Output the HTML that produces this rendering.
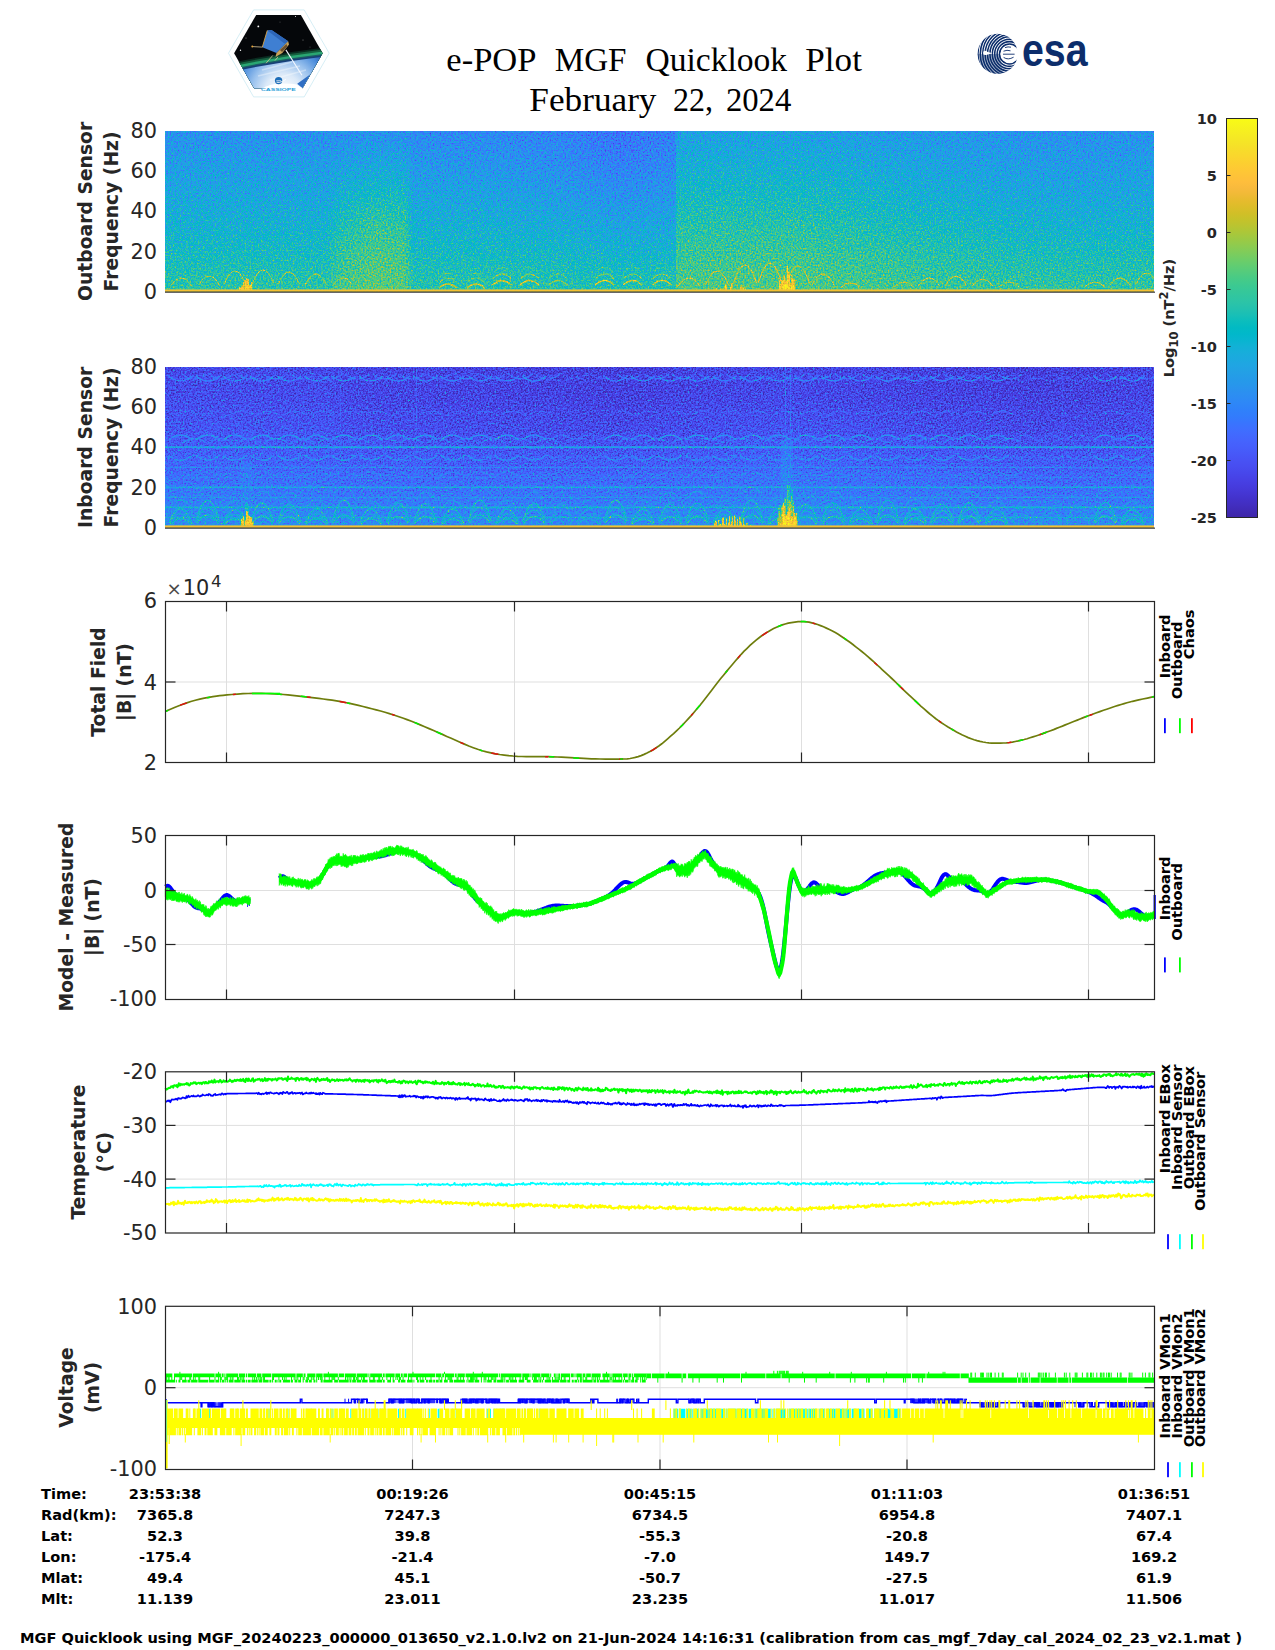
<!DOCTYPE html>
<html lang="en"><head><meta charset="utf-8"><title>e-POP MGF Quicklook Plot</title>
<style>html,body{margin:0;padding:0;background:#fff}svg{display:block}</style></head>
<body>
<svg width="1275" height="1650" viewBox="0 0 1275 1650">
<rect width="1275" height="1650" fill="#fff"/>
<defs>
<filter id="sp1" filterUnits="userSpaceOnUse" x="165" y="131" width="989" height="161" color-interpolation-filters="sRGB"><feTurbulence type="fractalNoise" baseFrequency="0.6" numOctaves="2" seed="3" result="t"/><feColorMatrix in="t" type="matrix" values="1 0 0 0 0  1 0 0 0 0  1 0 0 0 0  0 0 0 0 1" result="n"/><feColorMatrix in="t" type="matrix" values="0 1 0 0 0  0 1 0 0 0  0 1 0 0 0  0 0 0 0 1" result="m0"/><feComponentTransfer in="m0" result="m"><feFuncR type="gamma" amplitude="1" exponent="4" offset="0"/><feFuncG type="gamma" amplitude="1" exponent="4" offset="0"/><feFuncB type="gamma" amplitude="1" exponent="4" offset="0"/></feComponentTransfer><feComposite in="SourceGraphic" in2="n" operator="arithmetic" k1="0" k2="1" k3="0.56" k4="-0.280" result="s0"/><feComposite in="s0" in2="m" operator="arithmetic" k1="0" k2="1" k3="0.0" k4="-0.0000" result="s"/><feComponentTransfer in="s"><feFuncR type="table" tableValues="0.242 0.250 0.258 0.265 0.271 0.275 0.278 0.280 0.281 0.281 0.280 0.276 0.270 0.260 0.244 0.221 0.196 0.183 0.179 0.176 0.169 0.154 0.146 0.138 0.125 0.111 0.095 0.069 0.030 0.004 0.007 0.043 0.096 0.141 0.172 0.194 0.216 0.247 0.291 0.341 0.391 0.446 0.504 0.562 0.617 0.672 0.724 0.774 0.820 0.863 0.903 0.939 0.973 0.996 0.997 0.995 0.989 0.979 0.968 0.961 0.960 0.963 0.969 0.977"/><feFuncG type="table" tableValues="0.150 0.165 0.182 0.198 0.215 0.234 0.256 0.278 0.301 0.323 0.345 0.367 0.389 0.412 0.436 0.460 0.485 0.507 0.529 0.550 0.570 0.590 0.609 0.628 0.646 0.663 0.680 0.695 0.708 0.720 0.731 0.741 0.750 0.758 0.767 0.776 0.784 0.792 0.797 0.801 0.803 0.802 0.799 0.794 0.788 0.779 0.770 0.760 0.750 0.741 0.733 0.729 0.730 0.743 0.766 0.789 0.814 0.839 0.864 0.889 0.913 0.937 0.961 0.984"/><feFuncB type="table" tableValues="0.660 0.708 0.751 0.795 0.836 0.871 0.899 0.922 0.941 0.958 0.972 0.983 0.991 0.995 0.999 0.997 0.989 0.980 0.968 0.952 0.936 0.922 0.908 0.897 0.888 0.876 0.860 0.839 0.816 0.792 0.766 0.739 0.712 0.684 0.655 0.625 0.592 0.557 0.519 0.479 0.435 0.391 0.348 0.304 0.261 0.223 0.191 0.165 0.153 0.160 0.177 0.210 0.239 0.237 0.220 0.203 0.189 0.177 0.164 0.154 0.142 0.127 0.106 0.081"/><feFuncA type="linear" slope="0" intercept="1"/></feComponentTransfer></filter>
<filter id="sp2" filterUnits="userSpaceOnUse" x="165" y="367" width="989" height="161" color-interpolation-filters="sRGB"><feTurbulence type="fractalNoise" baseFrequency="0.6" numOctaves="2" seed="9" result="t"/><feColorMatrix in="t" type="matrix" values="1 0 0 0 0  1 0 0 0 0  1 0 0 0 0  0 0 0 0 1" result="n"/><feColorMatrix in="t" type="matrix" values="0 1 0 0 0  0 1 0 0 0  0 1 0 0 0  0 0 0 0 1" result="m0"/><feComponentTransfer in="m0" result="m"><feFuncR type="gamma" amplitude="1" exponent="3" offset="0"/><feFuncG type="gamma" amplitude="1" exponent="3" offset="0"/><feFuncB type="gamma" amplitude="1" exponent="3" offset="0"/></feComponentTransfer><feComposite in="SourceGraphic" in2="n" operator="arithmetic" k1="0" k2="1" k3="0.36" k4="-0.180" result="s0"/><feComposite in="s0" in2="m" operator="arithmetic" k1="0" k2="1" k3="0.45" k4="-0.0563" result="s"/><feComponentTransfer in="s"><feFuncR type="table" tableValues="0.242 0.250 0.258 0.265 0.271 0.275 0.278 0.280 0.281 0.281 0.280 0.276 0.270 0.260 0.244 0.221 0.196 0.183 0.179 0.176 0.169 0.154 0.146 0.138 0.125 0.111 0.095 0.069 0.030 0.004 0.007 0.043 0.096 0.141 0.172 0.194 0.216 0.247 0.291 0.341 0.391 0.446 0.504 0.562 0.617 0.672 0.724 0.774 0.820 0.863 0.903 0.939 0.973 0.996 0.997 0.995 0.989 0.979 0.968 0.961 0.960 0.963 0.969 0.977"/><feFuncG type="table" tableValues="0.150 0.165 0.182 0.198 0.215 0.234 0.256 0.278 0.301 0.323 0.345 0.367 0.389 0.412 0.436 0.460 0.485 0.507 0.529 0.550 0.570 0.590 0.609 0.628 0.646 0.663 0.680 0.695 0.708 0.720 0.731 0.741 0.750 0.758 0.767 0.776 0.784 0.792 0.797 0.801 0.803 0.802 0.799 0.794 0.788 0.779 0.770 0.760 0.750 0.741 0.733 0.729 0.730 0.743 0.766 0.789 0.814 0.839 0.864 0.889 0.913 0.937 0.961 0.984"/><feFuncB type="table" tableValues="0.660 0.708 0.751 0.795 0.836 0.871 0.899 0.922 0.941 0.958 0.972 0.983 0.991 0.995 0.999 0.997 0.989 0.980 0.968 0.952 0.936 0.922 0.908 0.897 0.888 0.876 0.860 0.839 0.816 0.792 0.766 0.739 0.712 0.684 0.655 0.625 0.592 0.557 0.519 0.479 0.435 0.391 0.348 0.304 0.261 0.223 0.191 0.165 0.153 0.160 0.177 0.210 0.239 0.237 0.220 0.203 0.189 0.177 0.164 0.154 0.142 0.127 0.106 0.081"/><feFuncA type="linear" slope="0" intercept="1"/></feComponentTransfer></filter>
<linearGradient id="hg" x1="0" y1="0" x2="1" y2="0"><stop offset="0" stop-color="#fff" stop-opacity="0"/><stop offset="1" stop-color="#fff" stop-opacity="1"/></linearGradient>
<mask id="hm" maskContentUnits="objectBoundingBox"><rect width="1" height="1" fill="url(#hg)"/></mask>
<linearGradient id="cb" x1="0" y1="0" x2="0" y2="1"><stop offset="0.0000" stop-color="#f9fb15"/><stop offset="0.0159" stop-color="#f7f51b"/><stop offset="0.0317" stop-color="#f6ef20"/><stop offset="0.0476" stop-color="#f5e924"/><stop offset="0.0635" stop-color="#f5e327"/><stop offset="0.0794" stop-color="#f7dc2a"/><stop offset="0.0952" stop-color="#fad62d"/><stop offset="0.1111" stop-color="#fccf30"/><stop offset="0.1270" stop-color="#fec934"/><stop offset="0.1429" stop-color="#fec338"/><stop offset="0.1587" stop-color="#febe3c"/><stop offset="0.1746" stop-color="#f8ba3d"/><stop offset="0.1905" stop-color="#f0ba36"/><stop offset="0.2063" stop-color="#e6bb2d"/><stop offset="0.2222" stop-color="#dcbd29"/><stop offset="0.2381" stop-color="#d1bf27"/><stop offset="0.2540" stop-color="#c5c22a"/><stop offset="0.2698" stop-color="#b9c431"/><stop offset="0.2857" stop-color="#abc739"/><stop offset="0.3016" stop-color="#9dc943"/><stop offset="0.3175" stop-color="#8fcb4e"/><stop offset="0.3333" stop-color="#81cc59"/><stop offset="0.3492" stop-color="#72cd64"/><stop offset="0.3651" stop-color="#64cd6f"/><stop offset="0.3810" stop-color="#57cc7a"/><stop offset="0.3968" stop-color="#4acb84"/><stop offset="0.4127" stop-color="#3fca8e"/><stop offset="0.4286" stop-color="#37c897"/><stop offset="0.4444" stop-color="#31c69f"/><stop offset="0.4603" stop-color="#2cc4a7"/><stop offset="0.4762" stop-color="#24c1ae"/><stop offset="0.4921" stop-color="#19bfb6"/><stop offset="0.5079" stop-color="#0bbdbd"/><stop offset="0.5238" stop-color="#02bac3"/><stop offset="0.5397" stop-color="#01b8ca"/><stop offset="0.5556" stop-color="#08b5d0"/><stop offset="0.5714" stop-color="#12b1d6"/><stop offset="0.5873" stop-color="#18addb"/><stop offset="0.6032" stop-color="#1ca9df"/><stop offset="0.6190" stop-color="#20a5e3"/><stop offset="0.6349" stop-color="#23a0e5"/><stop offset="0.6508" stop-color="#259be8"/><stop offset="0.6667" stop-color="#2797eb"/><stop offset="0.6825" stop-color="#2b91ef"/><stop offset="0.6984" stop-color="#2d8cf3"/><stop offset="0.7143" stop-color="#2e87f7"/><stop offset="0.7302" stop-color="#2f81fa"/><stop offset="0.7460" stop-color="#327cfc"/><stop offset="0.7619" stop-color="#3875fe"/><stop offset="0.7778" stop-color="#3e6fff"/><stop offset="0.7937" stop-color="#4269fe"/><stop offset="0.8095" stop-color="#4563fd"/><stop offset="0.8254" stop-color="#465efb"/><stop offset="0.8413" stop-color="#4758f8"/><stop offset="0.8571" stop-color="#4852f4"/><stop offset="0.8730" stop-color="#484df0"/><stop offset="0.8889" stop-color="#4747eb"/><stop offset="0.9048" stop-color="#4741e5"/><stop offset="0.9206" stop-color="#463cde"/><stop offset="0.9365" stop-color="#4537d5"/><stop offset="0.9524" stop-color="#4332cb"/><stop offset="0.9683" stop-color="#422ec0"/><stop offset="0.9841" stop-color="#402ab4"/><stop offset="1.0000" stop-color="#3e26a8"/></linearGradient>
</defs>
<g font-family="'Liberation Serif', serif" font-size="33.5" fill="#000" lengthAdjust="spacingAndGlyphs">
<text x="446.3" y="70.6" textLength="90.2" lengthAdjust="spacingAndGlyphs">e-POP</text>
<text x="554.7" y="70.6" textLength="71.8" lengthAdjust="spacingAndGlyphs">MGF</text>
<text x="645.4" y="70.6" textLength="141.7" lengthAdjust="spacingAndGlyphs">Quicklook</text>
<text x="805.3" y="70.6" textLength="56.6" lengthAdjust="spacingAndGlyphs">Plot</text>
<text x="529.3" y="111.2" textLength="127.2" lengthAdjust="spacingAndGlyphs">February</text>
<text x="673.0" y="111.2" textLength="40.0" lengthAdjust="spacingAndGlyphs">22,</text>
<text x="725.9" y="111.2" textLength="65.4" lengthAdjust="spacingAndGlyphs">2024</text>
</g>
<g filter="url(#sp1)">
<linearGradient id="sp1g0" x1="0" y1="0" x2="0" y2="1"><stop offset="0" stop-color="#535353"/><stop offset="0.2" stop-color="#5c5c5c"/><stop offset="0.4" stop-color="#656565"/><stop offset="0.6" stop-color="#707070"/><stop offset="0.8" stop-color="#7d7d7d"/><stop offset="1" stop-color="#8a8a8a"/></linearGradient><linearGradient id="sp1g1" x1="0" y1="0" x2="0" y2="1"><stop offset="0" stop-color="#505050"/><stop offset="0.2" stop-color="#5b5b5b"/><stop offset="0.4" stop-color="#636363"/><stop offset="0.6" stop-color="#707070"/><stop offset="0.8" stop-color="#7d7d7d"/><stop offset="1" stop-color="#8a8a8a"/></linearGradient><linearGradient id="sp1g2" x1="0" y1="0" x2="0" y2="1"><stop offset="0" stop-color="#4f4f4f"/><stop offset="0.2" stop-color="#5e5e5e"/><stop offset="0.4" stop-color="#707070"/><stop offset="0.6" stop-color="#828282"/><stop offset="0.8" stop-color="#8f8f8f"/><stop offset="1" stop-color="#969696"/></linearGradient><linearGradient id="sp1g3" x1="0" y1="0" x2="0" y2="1"><stop offset="0" stop-color="#525252"/><stop offset="0.2" stop-color="#636363"/><stop offset="0.4" stop-color="#7a7a7a"/><stop offset="0.6" stop-color="#8f8f8f"/><stop offset="0.8" stop-color="#999999"/><stop offset="1" stop-color="#9e9e9e"/></linearGradient><linearGradient id="sp1g4" x1="0" y1="0" x2="0" y2="1"><stop offset="0" stop-color="#505050"/><stop offset="0.2" stop-color="#626262"/><stop offset="0.4" stop-color="#787878"/><stop offset="0.6" stop-color="#8c8c8c"/><stop offset="0.8" stop-color="#969696"/><stop offset="1" stop-color="#9c9c9c"/></linearGradient><linearGradient id="sp1g5" x1="0" y1="0" x2="0" y2="1"><stop offset="0" stop-color="#4c4c4c"/><stop offset="0.2" stop-color="#575757"/><stop offset="0.4" stop-color="#626262"/><stop offset="0.6" stop-color="#6f6f6f"/><stop offset="0.8" stop-color="#7d7d7d"/><stop offset="1" stop-color="#888888"/></linearGradient><linearGradient id="sp1g6" x1="0" y1="0" x2="0" y2="1"><stop offset="0" stop-color="#4b4b4b"/><stop offset="0.2" stop-color="#545454"/><stop offset="0.4" stop-color="#606060"/><stop offset="0.6" stop-color="#6e6e6e"/><stop offset="0.8" stop-color="#7c7c7c"/><stop offset="1" stop-color="#888888"/></linearGradient><linearGradient id="sp1g7" x1="0" y1="0" x2="0" y2="1"><stop offset="0" stop-color="#474747"/><stop offset="0.2" stop-color="#4f4f4f"/><stop offset="0.4" stop-color="#5b5b5b"/><stop offset="0.6" stop-color="#696969"/><stop offset="0.8" stop-color="#797979"/><stop offset="1" stop-color="#878787"/></linearGradient><linearGradient id="sp1g8" x1="0" y1="0" x2="0" y2="1"><stop offset="0" stop-color="#3c3c3c"/><stop offset="0.2" stop-color="#454545"/><stop offset="0.4" stop-color="#525252"/><stop offset="0.6" stop-color="#626262"/><stop offset="0.8" stop-color="#757575"/><stop offset="1" stop-color="#858585"/></linearGradient><linearGradient id="sp1g9" x1="0" y1="0" x2="0" y2="1"><stop offset="0" stop-color="#454545"/><stop offset="0.2" stop-color="#4c4c4c"/><stop offset="0.4" stop-color="#575757"/><stop offset="0.6" stop-color="#666666"/><stop offset="0.8" stop-color="#787878"/><stop offset="1" stop-color="#878787"/></linearGradient><linearGradient id="sp1g10" x1="0" y1="0" x2="0" y2="1"><stop offset="0" stop-color="#5e5e5e"/><stop offset="0.2" stop-color="#6b6b6b"/><stop offset="0.4" stop-color="#797979"/><stop offset="0.6" stop-color="#878787"/><stop offset="0.8" stop-color="#919191"/><stop offset="1" stop-color="#999999"/></linearGradient><linearGradient id="sp1g11" x1="0" y1="0" x2="0" y2="1"><stop offset="0" stop-color="#5e5e5e"/><stop offset="0.2" stop-color="#6b6b6b"/><stop offset="0.4" stop-color="#7a7a7a"/><stop offset="0.6" stop-color="#888888"/><stop offset="0.8" stop-color="#939393"/><stop offset="1" stop-color="#9a9a9a"/></linearGradient><linearGradient id="sp1g12" x1="0" y1="0" x2="0" y2="1"><stop offset="0" stop-color="#595959"/><stop offset="0.2" stop-color="#636363"/><stop offset="0.4" stop-color="#707070"/><stop offset="0.6" stop-color="#7e7e7e"/><stop offset="0.8" stop-color="#8b8b8b"/><stop offset="1" stop-color="#949494"/></linearGradient><linearGradient id="sp1g13" x1="0" y1="0" x2="0" y2="1"><stop offset="0" stop-color="#545454"/><stop offset="0.2" stop-color="#5c5c5c"/><stop offset="0.4" stop-color="#676767"/><stop offset="0.6" stop-color="#757575"/><stop offset="0.8" stop-color="#838383"/><stop offset="1" stop-color="#8f8f8f"/></linearGradient><linearGradient id="sp1g14" x1="0" y1="0" x2="0" y2="1"><stop offset="0" stop-color="#525252"/><stop offset="0.2" stop-color="#595959"/><stop offset="0.4" stop-color="#636363"/><stop offset="0.6" stop-color="#707070"/><stop offset="0.8" stop-color="#808080"/><stop offset="1" stop-color="#8c8c8c"/></linearGradient><linearGradient id="sp1g15" x1="0" y1="0" x2="0" y2="1"><stop offset="0" stop-color="#535353"/><stop offset="0.2" stop-color="#5b5b5b"/><stop offset="0.4" stop-color="#656565"/><stop offset="0.6" stop-color="#717171"/><stop offset="0.8" stop-color="#818181"/><stop offset="1" stop-color="#8e8e8e"/></linearGradient>
<rect x="165" y="131" width="160.3" height="161" fill="url(#sp1g0)"/><rect x="165" y="131" width="160" height="161" fill="url(#sp1g1)" mask="url(#hm)"/>
<rect x="325" y="131" width="17.3" height="161" fill="url(#sp1g1)"/><rect x="325" y="131" width="17" height="161" fill="url(#sp1g2)" mask="url(#hm)"/>
<rect x="342" y="131" width="33.3" height="161" fill="url(#sp1g2)"/><rect x="342" y="131" width="33" height="161" fill="url(#sp1g3)" mask="url(#hm)"/>
<rect x="375" y="131" width="30.3" height="161" fill="url(#sp1g3)"/><rect x="375" y="131" width="30" height="161" fill="url(#sp1g4)" mask="url(#hm)"/>
<rect x="405" y="131" width="8.3" height="161" fill="url(#sp1g4)"/><rect x="405" y="131" width="8" height="161" fill="url(#sp1g5)" mask="url(#hm)"/>
<rect x="413" y="131" width="87.3" height="161" fill="url(#sp1g5)"/><rect x="413" y="131" width="87" height="161" fill="url(#sp1g6)" mask="url(#hm)"/>
<rect x="500" y="131" width="60.3" height="161" fill="url(#sp1g6)"/><rect x="500" y="131" width="60" height="161" fill="url(#sp1g7)" mask="url(#hm)"/>
<rect x="560" y="131" width="60.3" height="161" fill="url(#sp1g7)"/><rect x="560" y="131" width="60" height="161" fill="url(#sp1g8)" mask="url(#hm)"/>
<rect x="620" y="131" width="56.1" height="161" fill="url(#sp1g8)"/><rect x="620" y="131" width="55.8" height="161" fill="url(#sp1g9)" mask="url(#hm)"/>
<rect x="676" y="131" width="124.3" height="161" fill="url(#sp1g10)"/><rect x="676" y="131" width="124" height="161" fill="url(#sp1g11)" mask="url(#hm)"/>
<rect x="800" y="131" width="100.3" height="161" fill="url(#sp1g11)"/><rect x="800" y="131" width="100" height="161" fill="url(#sp1g12)" mask="url(#hm)"/>
<rect x="900" y="131" width="100.3" height="161" fill="url(#sp1g12)"/><rect x="900" y="131" width="100" height="161" fill="url(#sp1g13)" mask="url(#hm)"/>
<rect x="1000" y="131" width="80.3" height="161" fill="url(#sp1g13)"/><rect x="1000" y="131" width="80" height="161" fill="url(#sp1g14)" mask="url(#hm)"/>
<rect x="1080" y="131" width="74.3" height="161" fill="url(#sp1g14)"/><rect x="1080" y="131" width="74" height="161" fill="url(#sp1g15)" mask="url(#hm)"/>
<path d="M170.5 286.1Q181 269.9 191.5 286.1" stroke="#c2c2c2" stroke-width="1.0" fill="none"/><path d="M198.5 285.3Q209 266.7 219.5 285.3" stroke="#c2c2c2" stroke-width="1.0" fill="none"/><path d="M224.5 283.4Q235 258.6 245.5 283.4" stroke="#c2c2c2" stroke-width="1.0" fill="none"/><path d="M252.5 283Q263 257 273.5 283" stroke="#c2c2c2" stroke-width="1.0" fill="none"/><path d="M278.5 283.8Q289 260.2 299.5 283.8" stroke="#c2c2c2" stroke-width="1.0" fill="none"/><path d="M305.5 284.5Q316 263.5 326.5 284.5" stroke="#c2c2c2" stroke-width="1.0" fill="none"/><path d="M332.5 286.1Q343 269.9 353.5 286.1" stroke="#c2c2c2" stroke-width="1.0" fill="none"/><path d="M439 288Q448 280 457 288" stroke="#c7c7c7" stroke-width="1.3" fill="none"/><path d="M439.5 282Q448 274 456.5 282" stroke="#b2b2b2" stroke-width="1.0" fill="none"/><path d="M440 277Q448 269 456 277" stroke="#a3a3a3" stroke-width="0.9" fill="none"/><path d="M467 288Q476 280 485 288" stroke="#c7c7c7" stroke-width="1.3" fill="none"/><path d="M467.5 282Q476 274 484.5 282" stroke="#b2b2b2" stroke-width="1.0" fill="none"/><path d="M468 277Q476 269 484 277" stroke="#a3a3a3" stroke-width="0.9" fill="none"/><path d="M492.5 285Q502 276 511.5 285" stroke="#cccccc" stroke-width="1.5" fill="none"/><path d="M493 278.5Q502 269.5 511 278.5" stroke="#b8b8b8" stroke-width="1.1" fill="none"/><path d="M494 271.5Q502 262.5 510 271.5" stroke="#a3a3a3" stroke-width="0.9" fill="none"/><path d="M520 285Q529.5 276 539 285" stroke="#cccccc" stroke-width="1.5" fill="none"/><path d="M520.5 278.5Q529.5 269.5 538.5 278.5" stroke="#b8b8b8" stroke-width="1.1" fill="none"/><path d="M521.5 271.5Q529.5 262.5 537.5 271.5" stroke="#a3a3a3" stroke-width="0.9" fill="none"/><path d="M548.5 285Q558 276 567.5 285" stroke="#cccccc" stroke-width="1.5" fill="none" opacity="0.6"/><path d="M549 278.5Q558 269.5 567 278.5" stroke="#b8b8b8" stroke-width="1.1" fill="none" opacity="0.6"/><path d="M550 271.5Q558 262.5 566 271.5" stroke="#a3a3a3" stroke-width="0.9" fill="none" opacity="0.6"/><path d="M595.2 285Q604.7 276 614.2 285" stroke="#cccccc" stroke-width="1.5" fill="none"/><path d="M595.7 278.5Q604.7 269.5 613.7 278.5" stroke="#b8b8b8" stroke-width="1.1" fill="none"/><path d="M596.7 271.5Q604.7 262.5 612.7 271.5" stroke="#a3a3a3" stroke-width="0.9" fill="none"/><path d="M623.2 285Q632.7 276 642.2 285" stroke="#cccccc" stroke-width="1.5" fill="none"/><path d="M623.7 278.5Q632.7 269.5 641.7 278.5" stroke="#b8b8b8" stroke-width="1.1" fill="none"/><path d="M624.7 271.5Q632.7 262.5 640.7 271.5" stroke="#a3a3a3" stroke-width="0.9" fill="none"/><path d="M652.5 285Q662 276 671.5 285" stroke="#cccccc" stroke-width="1.5" fill="none"/><path d="M653 278.5Q662 269.5 671 278.5" stroke="#b8b8b8" stroke-width="1.1" fill="none"/><path d="M654 271.5Q662 262.5 670 271.5" stroke="#a3a3a3" stroke-width="0.9" fill="none"/><path d="M677.5 287.1Q689 268.9 700.5 287.1" stroke="#cccccc" stroke-width="1.0" fill="none"/><path d="M705.5 285Q717 257 728.5 285" stroke="#cccccc" stroke-width="1.0" fill="none"/><path d="M733.5 283.2Q745 246.8 756.5 283.2" stroke="#cccccc" stroke-width="1.0" fill="none"/><path d="M758.5 282.6Q770 243.4 781.5 282.6" stroke="#cccccc" stroke-width="1.0" fill="none"/><path d="M786.5 283.5Q798 248.5 809.5 283.5" stroke="#cccccc" stroke-width="1.0" fill="none"/><path d="M811.5 285.9Q823 262.1 834.5 285.9" stroke="#cccccc" stroke-width="1.0" fill="none"/><path d="M840.2 287.8Q850.7 278.2 861.2 287.8" stroke="#c9c9c9" stroke-width="1.0" fill="none"/><path d="M893.5 287.4Q904 276.6 914.5 287.4" stroke="#c9c9c9" stroke-width="1.0" fill="none"/><path d="M918.5 285.8Q929 270.2 939.5 285.8" stroke="#c9c9c9" stroke-width="1.0" fill="none"/><path d="M945.5 285.1Q956 267.5 966.5 285.1" stroke="#c9c9c9" stroke-width="1.0" fill="none"/><path d="M972.2 286.2Q982.7 271.8 993.2 286.2" stroke="#c9c9c9" stroke-width="1.0" fill="none"/><path d="M998.5 287.4Q1009 276.6 1019.5 287.4" stroke="#c9c9c9" stroke-width="1.0" fill="none"/><path d="M1084.2 287.4Q1094.7 276.6 1105.2 287.4" stroke="#c9c9c9" stroke-width="1.0" fill="none"/><path d="M1109.5 285.8Q1120 270.2 1130.5 285.8" stroke="#c9c9c9" stroke-width="1.0" fill="none"/><path d="M1136.2 283.8Q1146.7 262.2 1157.2 283.8" stroke="#c9c9c9" stroke-width="1.0" fill="none"/><path d="M243.9 291v-0.7M248.8 291v-0.3M247 291v-3.4M239.9 291v-2.7M239.6 291v-2M240 291v-0.2M245.4 291v-10.9M240.9 291v-0.9M248.4 291v-12.5M247.7 291v-3.6M253.6 291v-0.1M251.9 291v-1.4M241.2 291v-0.4M243.6 291v-9.1M241.7 291v-4.4M248.6 291v-3M247.2 291v-0.2M239.9 291v-0.7M249.2 291v-3.5M243.7 291v-5.6M245.8 291v-2.5M250.9 291v-6M242.7 291v-4.8M246.9 291v-12.7M249.9 291v-1.8M253.7 291v-0.3M245.3 291v-9.5M241.3 291v-3.2M239.6 291v-3.9M250.5 291v-4.7M252.1 291v-1.5M249.4 291v-5.6M247.7 291v-4.5M251.6 291v-8.7" stroke="#dbdbdb" stroke-width="1.3" fill="none"/><path d="M246.3 291v-4.2M243.4 291v-2.1M247.5 291v-4.9M248.8 291v-1.3M245.7 291v-3.8M243.2 291v-1.4M244.2 291v-0.6M243.4 291v-2.3" stroke="#ededed" stroke-width="1.5" fill="none"/><path d="M717.4 291v-0.6M726.3 291v-6.4M715.7 291v-1.3M731.7 291v-7M740.9 291v-4.5M722.5 291v-1.8M725.2 291v-6.2M745.6 291v-0.2M719 291v-0.6M720.9 291v-2.1M733 291v-1.1M713.1 291v-1M725.6 291v-3.2M745.4 291v-2.4M730.5 291v-4.3M736 291v-0.1M743.6 291v-3.2M742.7 291v-3.5M726.3 291v-2M716.5 291v-2.4M715.1 291v-0.1M720.1 291v-0.4M724.6 291v-0.1M713 291v-0.2M716.4 291v-1M713.9 291v-3.2M733.9 291v-0.4M721.6 291v-1.3M725.4 291v-0.3M741.9 291v-5.2" stroke="#dbdbdb" stroke-width="1.1" fill="none"/><path d="M786.5 291v-8.7M780.4 291v-0.4M784.5 291v-3M792.3 291v-1.1M779.4 291v-10.7M787.5 291v-1.5M787.7 291v-0.1M787.4 291v-25.3M792.8 291v-8.8M783.2 291v-4.3M781.7 291v-11M787.5 291v-17.8M784.3 291v-2.3M792 291v-16.5M792.6 291v-11.3M792.1 291v-10.6M782.6 291v-6.8M784.7 291v-0.1M779.4 291v-1.7M783.1 291v-11.1M794.3 291v-3.7M794 291v-12.6M794.3 291v-2.7M782.5 291v-1.9M782.1 291v-1.6M789 291v-19.6M792.4 291v-5.3M789.4 291v-15.8M780.4 291v-7.3M793.6 291v-9.5M791 291v-6.2M781.9 291v-11.6M784.3 291v-15.5M794.5 291v-2.9" stroke="#e0e0e0" stroke-width="1.2" fill="none"/><path d="M786.4 291v-10.2M790 291v-3M783.4 291v-2.1M792 291v-5.4M783.6 291v-6.2M792.8 291v-4M785.9 291v-6.9M783.4 291v-0.5M792.7 291v-4M787.8 291v-11.1M786.8 291v-10.2M791.1 291v-2.9M784.8 291v-4M784.6 291v-6" stroke="#ededed" stroke-width="1.6" fill="none"/>
</g>
<g filter="url(#sp2)">
<linearGradient id="sp2g0" x1="0" y1="0" x2="0" y2="1"><stop offset="0" stop-color="#1d1d1d"/><stop offset="0.2" stop-color="#202020"/><stop offset="0.4" stop-color="#262626"/><stop offset="0.6" stop-color="#303030"/><stop offset="0.8" stop-color="#404040"/><stop offset="1" stop-color="#4f4f4f"/></linearGradient><linearGradient id="sp2g1" x1="0" y1="0" x2="0" y2="1"><stop offset="0" stop-color="#1c1c1c"/><stop offset="0.2" stop-color="#1f1f1f"/><stop offset="0.4" stop-color="#252525"/><stop offset="0.6" stop-color="#2f2f2f"/><stop offset="0.8" stop-color="#3e3e3e"/><stop offset="1" stop-color="#4f4f4f"/></linearGradient><linearGradient id="sp2g2" x1="0" y1="0" x2="0" y2="1"><stop offset="0" stop-color="#1a1a1a"/><stop offset="0.2" stop-color="#1c1c1c"/><stop offset="0.4" stop-color="#222222"/><stop offset="0.6" stop-color="#2d2d2d"/><stop offset="0.8" stop-color="#3c3c3c"/><stop offset="1" stop-color="#4c4c4c"/></linearGradient><linearGradient id="sp2g3" x1="0" y1="0" x2="0" y2="1"><stop offset="0" stop-color="#161616"/><stop offset="0.2" stop-color="#181818"/><stop offset="0.4" stop-color="#1f1f1f"/><stop offset="0.6" stop-color="#2a2a2a"/><stop offset="0.8" stop-color="#3c3c3c"/><stop offset="1" stop-color="#4c4c4c"/></linearGradient><linearGradient id="sp2g4" x1="0" y1="0" x2="0" y2="1"><stop offset="0" stop-color="#141414"/><stop offset="0.2" stop-color="#171717"/><stop offset="0.4" stop-color="#1d1d1d"/><stop offset="0.6" stop-color="#2a2a2a"/><stop offset="0.8" stop-color="#3c3c3c"/><stop offset="1" stop-color="#4c4c4c"/></linearGradient><linearGradient id="sp2g5" x1="0" y1="0" x2="0" y2="1"><stop offset="0" stop-color="#181818"/><stop offset="0.2" stop-color="#1b1b1b"/><stop offset="0.4" stop-color="#212121"/><stop offset="0.6" stop-color="#2d2d2d"/><stop offset="0.8" stop-color="#3d3d3d"/><stop offset="1" stop-color="#4f4f4f"/></linearGradient><linearGradient id="sp2g6" x1="0" y1="0" x2="0" y2="1"><stop offset="0" stop-color="#1b1b1b"/><stop offset="0.2" stop-color="#1d1d1d"/><stop offset="0.4" stop-color="#252525"/><stop offset="0.6" stop-color="#323232"/><stop offset="0.8" stop-color="#424242"/><stop offset="1" stop-color="#545454"/></linearGradient><linearGradient id="sp2g7" x1="0" y1="0" x2="0" y2="1"><stop offset="0" stop-color="#171717"/><stop offset="0.2" stop-color="#1a1a1a"/><stop offset="0.4" stop-color="#212121"/><stop offset="0.6" stop-color="#2d2d2d"/><stop offset="0.8" stop-color="#3d3d3d"/><stop offset="1" stop-color="#4f4f4f"/></linearGradient><linearGradient id="sp2g8" x1="0" y1="0" x2="0" y2="1"><stop offset="0" stop-color="#141414"/><stop offset="0.2" stop-color="#171717"/><stop offset="0.4" stop-color="#1d1d1d"/><stop offset="0.6" stop-color="#292929"/><stop offset="0.8" stop-color="#393939"/><stop offset="1" stop-color="#4c4c4c"/></linearGradient><linearGradient id="sp2g9" x1="0" y1="0" x2="0" y2="1"><stop offset="0" stop-color="#181818"/><stop offset="0.2" stop-color="#1b1b1b"/><stop offset="0.4" stop-color="#212121"/><stop offset="0.6" stop-color="#2d2d2d"/><stop offset="0.8" stop-color="#3c3c3c"/><stop offset="1" stop-color="#4f4f4f"/></linearGradient>
<rect x="165" y="367" width="165.3" height="161" fill="url(#sp2g0)"/><rect x="165" y="367" width="165" height="161" fill="url(#sp2g1)" mask="url(#hm)"/>
<rect x="330" y="367" width="15.3" height="161" fill="url(#sp2g1)"/><rect x="330" y="367" width="15" height="161" fill="url(#sp2g2)" mask="url(#hm)"/>
<rect x="345" y="367" width="215.3" height="161" fill="url(#sp2g2)"/><rect x="345" y="367" width="215" height="161" fill="url(#sp2g3)" mask="url(#hm)"/>
<rect x="560" y="367" width="60.3" height="161" fill="url(#sp2g3)"/><rect x="560" y="367" width="60" height="161" fill="url(#sp2g4)" mask="url(#hm)"/>
<rect x="620" y="367" width="80.3" height="161" fill="url(#sp2g4)"/><rect x="620" y="367" width="80" height="161" fill="url(#sp2g5)" mask="url(#hm)"/>
<rect x="700" y="367" width="100.3" height="161" fill="url(#sp2g5)"/><rect x="700" y="367" width="100" height="161" fill="url(#sp2g6)" mask="url(#hm)"/>
<rect x="800" y="367" width="100.3" height="161" fill="url(#sp2g6)"/><rect x="800" y="367" width="100" height="161" fill="url(#sp2g7)" mask="url(#hm)"/>
<rect x="900" y="367" width="140.3" height="161" fill="url(#sp2g7)"/><rect x="900" y="367" width="140" height="161" fill="url(#sp2g8)" mask="url(#hm)"/>
<rect x="1040" y="367" width="114.3" height="161" fill="url(#sp2g8)"/><rect x="1040" y="367" width="114" height="161" fill="url(#sp2g9)" mask="url(#hm)"/>
<rect x="165" y="446.4" width="989" height="1.7" fill="#666666" opacity=".95"/><rect x="165" y="466.8" width="989" height="1.1" fill="#4c4c4c" opacity=".95"/><rect x="165" y="486.6" width="989" height="1.5" fill="#666666" opacity=".95"/><rect x="165" y="496.9" width="989" height="1.1" fill="#545454" opacity=".95"/><rect x="165" y="506.6" width="989" height="1.6" fill="#757575" opacity=".95"/><rect x="165" y="516.9" width="989" height="1.2" fill="#6b6b6b" opacity=".95"/><rect x="165" y="476.8" width="989" height="1.0" fill="#454545" opacity=".95"/><rect x="165" y="456.9" width="989" height="0.8" fill="#333333" opacity=".95"/><rect x="416" y="367" width="1" height="161" fill="#383838" opacity="0.7"/><rect x="340" y="367" width="1" height="161" fill="#333333" opacity="0.5"/><rect x="785" y="367" width="1" height="161" fill="#4c4c4c" opacity="0.5"/><rect x="790" y="367" width="1" height="161" fill="#4c4c4c" opacity="0.5"/><rect x="1062" y="367" width="1" height="161" fill="#333333" opacity="0.5"/><path d="M169 523.3Q180.5 493.9 192 523.3" stroke="#808080" stroke-width="1.3" fill="none" opacity="0.9"/><path d="M170 524.2Q180.5 513.2 191 524.2" stroke="#8a8a8a" stroke-width="1.3" fill="none" opacity="0.9"/><path d="M169.5 523Q180.5 504.6 191.5 523" stroke="#7a7a7a" stroke-width="1.1" fill="none" opacity="0.7200000000000001"/><path d="M170.5 506.4Q180.5 492.4 190.5 506.4" stroke="#6b6b6b" stroke-width="1.0" fill="none" opacity="0.7200000000000001"/><path d="M168.5 440.2Q180.5 430.2 192.5 440.2" stroke="#5c5c5c" stroke-width="1.2" fill="none" opacity="0.9"/><path d="M182.1 443.2Q194.1 433.2 206.1 443.2" stroke="#525252" stroke-width="1.1" fill="none" opacity="0.7200000000000001"/><path d="M168.5 455.2Q180.5 465.2 192.5 455.2" stroke="#5c5c5c" stroke-width="1.2" fill="none" opacity="0.81"/><path d="M182.1 471.3Q194.1 479.3 206.1 471.3" stroke="#575757" stroke-width="1.1" fill="none" opacity="0.63"/><path d="M168.5 376Q180.5 386 192.5 376" stroke="#545454" stroke-width="1.2" fill="none" opacity="0.9"/><path d="M182.1 374Q194.1 384 206.1 374" stroke="#4c4c4c" stroke-width="1.1" fill="none" opacity="0.7200000000000001"/><path d="M174.5 415.1Q186.5 407.1 198.5 415.1" stroke="#454545" stroke-width="1.0" fill="none" opacity="0.63"/><path d="M196.2 521.6Q207.7 478.5 219.2 521.6" stroke="#808080" stroke-width="1.3" fill="none" opacity="0.9"/><path d="M197.2 523Q207.7 506.8 218.2 523" stroke="#8a8a8a" stroke-width="1.3" fill="none" opacity="0.9"/><path d="M196.7 521.1Q207.7 494.1 218.7 521.1" stroke="#7a7a7a" stroke-width="1.1" fill="none" opacity="0.7200000000000001"/><path d="M197.7 493.6Q207.7 479.6 217.7 493.6" stroke="#6b6b6b" stroke-width="1.0" fill="none" opacity="0.7200000000000001"/><path d="M195.7 440.2Q207.7 430.2 219.7 440.2" stroke="#5c5c5c" stroke-width="1.2" fill="none" opacity="0.9"/><path d="M209.3 443.2Q221.3 433.2 233.3 443.2" stroke="#525252" stroke-width="1.1" fill="none" opacity="0.7200000000000001"/><path d="M195.7 455.2Q207.7 465.2 219.7 455.2" stroke="#5c5c5c" stroke-width="1.2" fill="none" opacity="0.81"/><path d="M209.3 471.3Q221.3 479.3 233.3 471.3" stroke="#575757" stroke-width="1.1" fill="none" opacity="0.63"/><path d="M195.7 376Q207.7 386 219.7 376" stroke="#545454" stroke-width="1.2" fill="none" opacity="0.9"/><path d="M209.3 374Q221.3 384 233.3 374" stroke="#4c4c4c" stroke-width="1.1" fill="none" opacity="0.7200000000000001"/><path d="M201.7 415.1Q213.7 407.1 225.7 415.1" stroke="#454545" stroke-width="1.0" fill="none" opacity="0.63"/><path d="M223.4 523.5Q234.9 495.2 246.4 523.5" stroke="#808080" stroke-width="1.3" fill="none" opacity="0.9"/><path d="M224.4 524.4Q234.9 513.8 245.4 524.4" stroke="#8a8a8a" stroke-width="1.3" fill="none" opacity="0.9"/><path d="M223.9 523.1Q234.9 505.5 245.9 523.1" stroke="#7a7a7a" stroke-width="1.1" fill="none" opacity="0.7200000000000001"/><path d="M224.9 507.5Q234.9 493.5 244.9 507.5" stroke="#6b6b6b" stroke-width="1.0" fill="none" opacity="0.7200000000000001"/><path d="M222.9 440.2Q234.9 430.2 246.9 440.2" stroke="#5c5c5c" stroke-width="1.2" fill="none" opacity="0.9"/><path d="M236.5 443.2Q248.5 433.2 260.5 443.2" stroke="#525252" stroke-width="1.1" fill="none" opacity="0.7200000000000001"/><path d="M222.9 455.2Q234.9 465.2 246.9 455.2" stroke="#5c5c5c" stroke-width="1.2" fill="none" opacity="0.81"/><path d="M236.5 471.3Q248.5 479.3 260.5 471.3" stroke="#575757" stroke-width="1.1" fill="none" opacity="0.63"/><path d="M222.9 376Q234.9 386 246.9 376" stroke="#545454" stroke-width="1.2" fill="none" opacity="0.9"/><path d="M236.5 374Q248.5 384 260.5 374" stroke="#4c4c4c" stroke-width="1.1" fill="none" opacity="0.7200000000000001"/><path d="M228.9 415.1Q240.9 407.1 252.9 415.1" stroke="#454545" stroke-width="1.0" fill="none" opacity="0.63"/><path d="M250.6 522.2Q262.1 483.8 273.6 522.2" stroke="#808080" stroke-width="1.3" fill="none" opacity="0.9"/><path d="M251.6 523.4Q262.1 509 272.6 523.4" stroke="#8a8a8a" stroke-width="1.3" fill="none" opacity="0.9"/><path d="M251.1 521.7Q262.1 497.7 273.1 521.7" stroke="#7a7a7a" stroke-width="1.1" fill="none" opacity="0.7200000000000001"/><path d="M252.1 498Q262.1 484 272.1 498" stroke="#6b6b6b" stroke-width="1.0" fill="none" opacity="0.7200000000000001"/><path d="M250.1 440.2Q262.1 430.2 274.1 440.2" stroke="#5c5c5c" stroke-width="1.2" fill="none" opacity="0.9"/><path d="M263.7 443.2Q275.7 433.2 287.7 443.2" stroke="#525252" stroke-width="1.1" fill="none" opacity="0.7200000000000001"/><path d="M250.1 455.2Q262.1 465.2 274.1 455.2" stroke="#5c5c5c" stroke-width="1.2" fill="none" opacity="0.81"/><path d="M263.7 471.3Q275.7 479.3 287.7 471.3" stroke="#575757" stroke-width="1.1" fill="none" opacity="0.63"/><path d="M250.1 376Q262.1 386 274.1 376" stroke="#545454" stroke-width="1.2" fill="none" opacity="0.9"/><path d="M263.7 374Q275.7 384 287.7 374" stroke="#4c4c4c" stroke-width="1.1" fill="none" opacity="0.7200000000000001"/><path d="M256.1 415.1Q268.1 407.1 280.1 415.1" stroke="#454545" stroke-width="1.0" fill="none" opacity="0.63"/><path d="M277.8 522.4Q289.3 485.4 300.8 522.4" stroke="#808080" stroke-width="1.3" fill="none" opacity="0.9"/><path d="M278.8 523.5Q289.3 509.7 299.8 523.5" stroke="#8a8a8a" stroke-width="1.3" fill="none" opacity="0.9"/><path d="M278.3 521.9Q289.3 498.8 300.3 521.9" stroke="#7a7a7a" stroke-width="1.1" fill="none" opacity="0.7200000000000001"/><path d="M279.3 499.3Q289.3 485.3 299.3 499.3" stroke="#6b6b6b" stroke-width="1.0" fill="none" opacity="0.7200000000000001"/><path d="M277.3 440.2Q289.3 430.2 301.3 440.2" stroke="#5c5c5c" stroke-width="1.2" fill="none" opacity="0.9"/><path d="M290.9 443.2Q302.9 433.2 314.9 443.2" stroke="#525252" stroke-width="1.1" fill="none" opacity="0.7200000000000001"/><path d="M277.3 455.2Q289.3 465.2 301.3 455.2" stroke="#5c5c5c" stroke-width="1.2" fill="none" opacity="0.81"/><path d="M290.9 471.3Q302.9 479.3 314.9 471.3" stroke="#575757" stroke-width="1.1" fill="none" opacity="0.63"/><path d="M277.3 376Q289.3 386 301.3 376" stroke="#545454" stroke-width="1.2" fill="none" opacity="0.9"/><path d="M290.9 374Q302.9 384 314.9 374" stroke="#4c4c4c" stroke-width="1.1" fill="none" opacity="0.7200000000000001"/><path d="M283.3 415.1Q295.3 407.1 307.3 415.1" stroke="#454545" stroke-width="1.0" fill="none" opacity="0.63"/><path d="M305 523.4Q316.5 494.3 328 523.4" stroke="#808080" stroke-width="1.3" fill="none" opacity="0.9"/><path d="M306 524.3Q316.5 513.4 327 524.3" stroke="#8a8a8a" stroke-width="1.3" fill="none" opacity="0.9"/><path d="M305.5 523Q316.5 504.8 327.5 523" stroke="#7a7a7a" stroke-width="1.1" fill="none" opacity="0.7200000000000001"/><path d="M306.5 506.7Q316.5 492.7 326.5 506.7" stroke="#6b6b6b" stroke-width="1.0" fill="none" opacity="0.7200000000000001"/><path d="M304.5 440.2Q316.5 430.2 328.5 440.2" stroke="#5c5c5c" stroke-width="1.2" fill="none" opacity="0.9"/><path d="M318.1 443.2Q330.1 433.2 342.1 443.2" stroke="#525252" stroke-width="1.1" fill="none" opacity="0.7200000000000001"/><path d="M304.5 455.2Q316.5 465.2 328.5 455.2" stroke="#5c5c5c" stroke-width="1.2" fill="none" opacity="0.81"/><path d="M318.1 471.3Q330.1 479.3 342.1 471.3" stroke="#575757" stroke-width="1.1" fill="none" opacity="0.63"/><path d="M304.5 376Q316.5 386 328.5 376" stroke="#545454" stroke-width="1.2" fill="none" opacity="0.9"/><path d="M318.1 374Q330.1 384 342.1 374" stroke="#4c4c4c" stroke-width="1.1" fill="none" opacity="0.7200000000000001"/><path d="M310.5 415.1Q322.5 407.1 334.5 415.1" stroke="#454545" stroke-width="1.0" fill="none" opacity="0.63"/><path d="M332.2 521.6Q343.7 478.4 355.2 521.6" stroke="#808080" stroke-width="1.3" fill="none" opacity="0.9"/><path d="M333.2 523Q343.7 506.8 354.2 523" stroke="#8a8a8a" stroke-width="1.3" fill="none" opacity="0.9"/><path d="M332.7 521.1Q343.7 494.1 354.7 521.1" stroke="#7a7a7a" stroke-width="1.1" fill="none" opacity="0.7200000000000001"/><path d="M333.7 493.5Q343.7 479.5 353.7 493.5" stroke="#6b6b6b" stroke-width="1.0" fill="none" opacity="0.7200000000000001"/><path d="M331.7 440.2Q343.7 430.2 355.7 440.2" stroke="#5c5c5c" stroke-width="1.2" fill="none" opacity="0.9"/><path d="M345.3 443.2Q357.3 433.2 369.3 443.2" stroke="#525252" stroke-width="1.1" fill="none" opacity="0.7200000000000001"/><path d="M331.7 455.2Q343.7 465.2 355.7 455.2" stroke="#5c5c5c" stroke-width="1.2" fill="none" opacity="0.81"/><path d="M345.3 471.3Q357.3 479.3 369.3 471.3" stroke="#575757" stroke-width="1.1" fill="none" opacity="0.63"/><path d="M331.7 376Q343.7 386 355.7 376" stroke="#545454" stroke-width="1.2" fill="none" opacity="0.9"/><path d="M345.3 374Q357.3 384 369.3 374" stroke="#4c4c4c" stroke-width="1.1" fill="none" opacity="0.7200000000000001"/><path d="M337.7 415.1Q349.7 407.1 361.7 415.1" stroke="#454545" stroke-width="1.0" fill="none" opacity="0.63"/><path d="M359.4 523.4Q370.9 495 382.4 523.4" stroke="#808080" stroke-width="1.3" fill="none" opacity="0.9"/><path d="M360.4 524.3Q370.9 513.6 381.4 524.3" stroke="#8a8a8a" stroke-width="1.3" fill="none" opacity="0.9"/><path d="M359.9 523.1Q370.9 505.3 381.9 523.1" stroke="#7a7a7a" stroke-width="1.1" fill="none" opacity="0.7200000000000001"/><path d="M360.9 507.3Q370.9 493.3 380.9 507.3" stroke="#6b6b6b" stroke-width="1.0" fill="none" opacity="0.7200000000000001"/><path d="M358.9 440.2Q370.9 430.2 382.9 440.2" stroke="#5c5c5c" stroke-width="1.2" fill="none" opacity="0.9"/><path d="M372.5 443.2Q384.5 433.2 396.5 443.2" stroke="#525252" stroke-width="1.1" fill="none" opacity="0.7200000000000001"/><path d="M358.9 455.2Q370.9 465.2 382.9 455.2" stroke="#5c5c5c" stroke-width="1.2" fill="none" opacity="0.81"/><path d="M372.5 471.3Q384.5 479.3 396.5 471.3" stroke="#575757" stroke-width="1.1" fill="none" opacity="0.63"/><path d="M358.9 376Q370.9 386 382.9 376" stroke="#545454" stroke-width="1.2" fill="none" opacity="0.9"/><path d="M372.5 374Q384.5 384 396.5 374" stroke="#4c4c4c" stroke-width="1.1" fill="none" opacity="0.7200000000000001"/><path d="M364.9 415.1Q376.9 407.1 388.9 415.1" stroke="#454545" stroke-width="1.0" fill="none" opacity="0.63"/><path d="M386.6 522.2Q398.1 484.2 409.6 522.2" stroke="#808080" stroke-width="1.3" fill="none" opacity="0.9"/><path d="M387.6 523.4Q398.1 509.2 408.6 523.4" stroke="#8a8a8a" stroke-width="1.3" fill="none" opacity="0.9"/><path d="M387.1 521.8Q398.1 498 409.1 521.8" stroke="#7a7a7a" stroke-width="1.1" fill="none" opacity="0.7200000000000001"/><path d="M388.1 498.4Q398.1 484.4 408.1 498.4" stroke="#6b6b6b" stroke-width="1.0" fill="none" opacity="0.7200000000000001"/><path d="M386.1 440.2Q398.1 430.2 410.1 440.2" stroke="#5c5c5c" stroke-width="1.2" fill="none" opacity="0.9"/><path d="M399.7 443.2Q411.7 433.2 423.7 443.2" stroke="#525252" stroke-width="1.1" fill="none" opacity="0.7200000000000001"/><path d="M386.1 455.2Q398.1 465.2 410.1 455.2" stroke="#5c5c5c" stroke-width="1.2" fill="none" opacity="0.81"/><path d="M399.7 471.3Q411.7 479.3 423.7 471.3" stroke="#575757" stroke-width="1.1" fill="none" opacity="0.63"/><path d="M386.1 376Q398.1 386 410.1 376" stroke="#545454" stroke-width="1.2" fill="none" opacity="0.9"/><path d="M399.7 374Q411.7 384 423.7 374" stroke="#4c4c4c" stroke-width="1.1" fill="none" opacity="0.7200000000000001"/><path d="M392.1 415.1Q404.1 407.1 416.1 415.1" stroke="#454545" stroke-width="1.0" fill="none" opacity="0.63"/><path d="M413.8 522.3Q425.3 484.9 436.8 522.3" stroke="#808080" stroke-width="1.3" fill="none" opacity="0.9"/><path d="M414.8 523.5Q425.3 509.5 435.8 523.5" stroke="#8a8a8a" stroke-width="1.3" fill="none" opacity="0.9"/><path d="M414.3 521.9Q425.3 498.5 436.3 521.9" stroke="#7a7a7a" stroke-width="1.1" fill="none" opacity="0.7200000000000001"/><path d="M415.3 498.9Q425.3 484.9 435.3 498.9" stroke="#6b6b6b" stroke-width="1.0" fill="none" opacity="0.7200000000000001"/><path d="M413.3 440.2Q425.3 430.2 437.3 440.2" stroke="#5c5c5c" stroke-width="1.2" fill="none" opacity="0.9"/><path d="M426.9 443.2Q438.9 433.2 450.9 443.2" stroke="#525252" stroke-width="1.1" fill="none" opacity="0.7200000000000001"/><path d="M413.3 455.2Q425.3 465.2 437.3 455.2" stroke="#5c5c5c" stroke-width="1.2" fill="none" opacity="0.81"/><path d="M426.9 471.3Q438.9 479.3 450.9 471.3" stroke="#575757" stroke-width="1.1" fill="none" opacity="0.63"/><path d="M413.3 376Q425.3 386 437.3 376" stroke="#545454" stroke-width="1.2" fill="none" opacity="0.9"/><path d="M426.9 374Q438.9 384 450.9 374" stroke="#4c4c4c" stroke-width="1.1" fill="none" opacity="0.7200000000000001"/><path d="M419.3 415.1Q431.3 407.1 443.3 415.1" stroke="#454545" stroke-width="1.0" fill="none" opacity="0.63"/><path d="M441 523.4Q452.5 494.6 464 523.4" stroke="#808080" stroke-width="1.3" fill="none" opacity="0.9"/><path d="M442 524.3Q452.5 513.5 463 524.3" stroke="#8a8a8a" stroke-width="1.3" fill="none" opacity="0.9"/><path d="M441.5 523Q452.5 505 463.5 523" stroke="#7a7a7a" stroke-width="1.1" fill="none" opacity="0.7200000000000001"/><path d="M442.5 507Q452.5 493 462.5 507" stroke="#6b6b6b" stroke-width="1.0" fill="none" opacity="0.7200000000000001"/><path d="M440.5 440.2Q452.5 430.2 464.5 440.2" stroke="#5c5c5c" stroke-width="1.2" fill="none" opacity="0.9"/><path d="M454.1 443.2Q466.1 433.2 478.1 443.2" stroke="#525252" stroke-width="1.1" fill="none" opacity="0.7200000000000001"/><path d="M440.5 455.2Q452.5 465.2 464.5 455.2" stroke="#5c5c5c" stroke-width="1.2" fill="none" opacity="0.81"/><path d="M454.1 471.3Q466.1 479.3 478.1 471.3" stroke="#575757" stroke-width="1.1" fill="none" opacity="0.63"/><path d="M440.5 376Q452.5 386 464.5 376" stroke="#545454" stroke-width="1.2" fill="none" opacity="0.9"/><path d="M454.1 374Q466.1 384 478.1 374" stroke="#4c4c4c" stroke-width="1.1" fill="none" opacity="0.7200000000000001"/><path d="M446.5 415.1Q458.5 407.1 470.5 415.1" stroke="#454545" stroke-width="1.0" fill="none" opacity="0.63"/><path d="M468.2 521.6Q479.7 478.4 491.2 521.6" stroke="#808080" stroke-width="1.3" fill="none" opacity="0.9"/><path d="M469.2 523Q479.7 506.8 490.2 523" stroke="#8a8a8a" stroke-width="1.3" fill="none" opacity="0.9"/><path d="M468.7 521.1Q479.7 494.1 490.7 521.1" stroke="#7a7a7a" stroke-width="1.1" fill="none" opacity="0.7200000000000001"/><path d="M469.7 493.5Q479.7 479.5 489.7 493.5" stroke="#6b6b6b" stroke-width="1.0" fill="none" opacity="0.7200000000000001"/><path d="M467.7 440.2Q479.7 430.2 491.7 440.2" stroke="#5c5c5c" stroke-width="1.2" fill="none" opacity="0.9"/><path d="M481.3 443.2Q493.3 433.2 505.3 443.2" stroke="#525252" stroke-width="1.1" fill="none" opacity="0.7200000000000001"/><path d="M467.7 455.2Q479.7 465.2 491.7 455.2" stroke="#5c5c5c" stroke-width="1.2" fill="none" opacity="0.81"/><path d="M481.3 471.3Q493.3 479.3 505.3 471.3" stroke="#575757" stroke-width="1.1" fill="none" opacity="0.63"/><path d="M467.7 376Q479.7 386 491.7 376" stroke="#545454" stroke-width="1.2" fill="none" opacity="0.9"/><path d="M481.3 374Q493.3 384 505.3 374" stroke="#4c4c4c" stroke-width="1.1" fill="none" opacity="0.7200000000000001"/><path d="M473.7 415.1Q485.7 407.1 497.7 415.1" stroke="#454545" stroke-width="1.0" fill="none" opacity="0.63"/><path d="M495.4 523.4Q506.9 494.7 518.4 523.4" stroke="#808080" stroke-width="1.3" fill="none" opacity="0.9"/><path d="M496.4 524.3Q506.9 513.5 517.4 524.3" stroke="#8a8a8a" stroke-width="1.3" fill="none" opacity="0.9"/><path d="M495.9 523Q506.9 505.1 517.9 523" stroke="#7a7a7a" stroke-width="1.1" fill="none" opacity="0.7200000000000001"/><path d="M496.9 507.1Q506.9 493.1 516.9 507.1" stroke="#6b6b6b" stroke-width="1.0" fill="none" opacity="0.7200000000000001"/><path d="M494.9 440.2Q506.9 430.2 518.9 440.2" stroke="#5c5c5c" stroke-width="1.2" fill="none" opacity="0.9"/><path d="M508.5 443.2Q520.5 433.2 532.5 443.2" stroke="#525252" stroke-width="1.1" fill="none" opacity="0.7200000000000001"/><path d="M494.9 455.2Q506.9 465.2 518.9 455.2" stroke="#5c5c5c" stroke-width="1.2" fill="none" opacity="0.81"/><path d="M508.5 471.3Q520.5 479.3 532.5 471.3" stroke="#575757" stroke-width="1.1" fill="none" opacity="0.63"/><path d="M494.9 376Q506.9 386 518.9 376" stroke="#545454" stroke-width="1.2" fill="none" opacity="0.9"/><path d="M508.5 374Q520.5 384 532.5 374" stroke="#4c4c4c" stroke-width="1.1" fill="none" opacity="0.7200000000000001"/><path d="M500.9 415.1Q512.9 407.1 524.9 415.1" stroke="#454545" stroke-width="1.0" fill="none" opacity="0.63"/><path d="M522.6 522.3Q534.1 484.7 545.6 522.3" stroke="#808080" stroke-width="1.3" fill="none" opacity="0.9"/><path d="M523.6 523.5Q534.1 509.4 544.6 523.5" stroke="#8a8a8a" stroke-width="1.3" fill="none" opacity="0.9"/><path d="M523.1 521.8Q534.1 498.3 545.1 521.8" stroke="#7a7a7a" stroke-width="1.1" fill="none" opacity="0.7200000000000001"/><path d="M524.1 498.8Q534.1 484.8 544.1 498.8" stroke="#6b6b6b" stroke-width="1.0" fill="none" opacity="0.7200000000000001"/><path d="M522.1 440.2Q534.1 430.2 546.1 440.2" stroke="#5c5c5c" stroke-width="1.2" fill="none" opacity="0.9"/><path d="M535.7 443.2Q547.7 433.2 559.7 443.2" stroke="#525252" stroke-width="1.1" fill="none" opacity="0.7200000000000001"/><path d="M522.1 455.2Q534.1 465.2 546.1 455.2" stroke="#5c5c5c" stroke-width="1.2" fill="none" opacity="0.81"/><path d="M535.7 471.3Q547.7 479.3 559.7 471.3" stroke="#575757" stroke-width="1.1" fill="none" opacity="0.63"/><path d="M522.1 376Q534.1 386 546.1 376" stroke="#545454" stroke-width="1.2" fill="none" opacity="0.9"/><path d="M535.7 374Q547.7 384 559.7 374" stroke="#4c4c4c" stroke-width="1.1" fill="none" opacity="0.7200000000000001"/><path d="M528.1 415.1Q540.1 407.1 552.1 415.1" stroke="#454545" stroke-width="1.0" fill="none" opacity="0.63"/><path d="M549.8 522.3Q561.3 484.4 572.8 522.3" stroke="#808080" stroke-width="1.3" fill="none" opacity="0.35"/><path d="M550.8 523.5Q561.3 509.3 571.8 523.5" stroke="#8a8a8a" stroke-width="1.3" fill="none" opacity="0.35"/><path d="M550.3 521.8Q561.3 498.1 572.3 521.8" stroke="#7a7a7a" stroke-width="1.1" fill="none" opacity="0.27999999999999997"/><path d="M551.3 498.5Q561.3 484.5 571.3 498.5" stroke="#6b6b6b" stroke-width="1.0" fill="none" opacity="0.27999999999999997"/><path d="M549.3 440.2Q561.3 430.2 573.3 440.2" stroke="#5c5c5c" stroke-width="1.2" fill="none" opacity="0.35"/><path d="M562.9 443.2Q574.9 433.2 586.9 443.2" stroke="#525252" stroke-width="1.1" fill="none" opacity="0.27999999999999997"/><path d="M549.3 455.2Q561.3 465.2 573.3 455.2" stroke="#5c5c5c" stroke-width="1.2" fill="none" opacity="0.315"/><path d="M562.9 471.3Q574.9 479.3 586.9 471.3" stroke="#575757" stroke-width="1.1" fill="none" opacity="0.24499999999999997"/><path d="M549.3 376Q561.3 386 573.3 376" stroke="#545454" stroke-width="1.2" fill="none" opacity="0.35"/><path d="M562.9 374Q574.9 384 586.9 374" stroke="#4c4c4c" stroke-width="1.1" fill="none" opacity="0.27999999999999997"/><path d="M555.3 415.1Q567.3 407.1 579.3 415.1" stroke="#454545" stroke-width="1.0" fill="none" opacity="0.24499999999999997"/><path d="M577 523.4Q588.5 494.8 600 523.4" stroke="#808080" stroke-width="1.3" fill="none" opacity="0.35"/><path d="M578 524.3Q588.5 513.6 599 524.3" stroke="#8a8a8a" stroke-width="1.3" fill="none" opacity="0.35"/><path d="M577.5 523.1Q588.5 505.2 599.5 523.1" stroke="#7a7a7a" stroke-width="1.1" fill="none" opacity="0.27999999999999997"/><path d="M578.5 507.2Q588.5 493.2 598.5 507.2" stroke="#6b6b6b" stroke-width="1.0" fill="none" opacity="0.27999999999999997"/><path d="M576.5 440.2Q588.5 430.2 600.5 440.2" stroke="#5c5c5c" stroke-width="1.2" fill="none" opacity="0.35"/><path d="M590.1 443.2Q602.1 433.2 614.1 443.2" stroke="#525252" stroke-width="1.1" fill="none" opacity="0.27999999999999997"/><path d="M576.5 455.2Q588.5 465.2 600.5 455.2" stroke="#5c5c5c" stroke-width="1.2" fill="none" opacity="0.315"/><path d="M590.1 471.3Q602.1 479.3 614.1 471.3" stroke="#575757" stroke-width="1.1" fill="none" opacity="0.24499999999999997"/><path d="M576.5 376Q588.5 386 600.5 376" stroke="#545454" stroke-width="1.2" fill="none" opacity="0.35"/><path d="M590.1 374Q602.1 384 614.1 374" stroke="#4c4c4c" stroke-width="1.1" fill="none" opacity="0.27999999999999997"/><path d="M582.5 415.1Q594.5 407.1 606.5 415.1" stroke="#454545" stroke-width="1.0" fill="none" opacity="0.24499999999999997"/><path d="M604.2 521.6Q615.7 478.4 627.2 521.6" stroke="#808080" stroke-width="1.3" fill="none" opacity="0.9"/><path d="M605.2 523Q615.7 506.8 626.2 523" stroke="#8a8a8a" stroke-width="1.3" fill="none" opacity="0.9"/><path d="M604.7 521.1Q615.7 494.1 626.7 521.1" stroke="#7a7a7a" stroke-width="1.1" fill="none" opacity="0.7200000000000001"/><path d="M605.7 493.5Q615.7 479.5 625.7 493.5" stroke="#6b6b6b" stroke-width="1.0" fill="none" opacity="0.7200000000000001"/><path d="M603.7 440.2Q615.7 430.2 627.7 440.2" stroke="#5c5c5c" stroke-width="1.2" fill="none" opacity="0.9"/><path d="M617.3 443.2Q629.3 433.2 641.3 443.2" stroke="#525252" stroke-width="1.1" fill="none" opacity="0.7200000000000001"/><path d="M603.7 455.2Q615.7 465.2 627.7 455.2" stroke="#5c5c5c" stroke-width="1.2" fill="none" opacity="0.81"/><path d="M617.3 471.3Q629.3 479.3 641.3 471.3" stroke="#575757" stroke-width="1.1" fill="none" opacity="0.63"/><path d="M603.7 376Q615.7 386 627.7 376" stroke="#545454" stroke-width="1.2" fill="none" opacity="0.9"/><path d="M617.3 374Q629.3 384 641.3 374" stroke="#4c4c4c" stroke-width="1.1" fill="none" opacity="0.7200000000000001"/><path d="M609.7 415.1Q621.7 407.1 633.7 415.1" stroke="#454545" stroke-width="1.0" fill="none" opacity="0.63"/><path d="M631.4 523.4Q642.9 494.4 654.4 523.4" stroke="#808080" stroke-width="1.3" fill="none" opacity="0.9"/><path d="M632.4 524.3Q642.9 513.4 653.4 524.3" stroke="#8a8a8a" stroke-width="1.3" fill="none" opacity="0.9"/><path d="M631.9 523Q642.9 504.9 653.9 523" stroke="#7a7a7a" stroke-width="1.1" fill="none" opacity="0.7200000000000001"/><path d="M632.9 506.8Q642.9 492.8 652.9 506.8" stroke="#6b6b6b" stroke-width="1.0" fill="none" opacity="0.7200000000000001"/><path d="M630.9 440.2Q642.9 430.2 654.9 440.2" stroke="#5c5c5c" stroke-width="1.2" fill="none" opacity="0.9"/><path d="M644.5 443.2Q656.5 433.2 668.5 443.2" stroke="#525252" stroke-width="1.1" fill="none" opacity="0.7200000000000001"/><path d="M630.9 455.2Q642.9 465.2 654.9 455.2" stroke="#5c5c5c" stroke-width="1.2" fill="none" opacity="0.81"/><path d="M644.5 471.3Q656.5 479.3 668.5 471.3" stroke="#575757" stroke-width="1.1" fill="none" opacity="0.63"/><path d="M630.9 376Q642.9 386 654.9 376" stroke="#545454" stroke-width="1.2" fill="none" opacity="0.9"/><path d="M644.5 374Q656.5 384 668.5 374" stroke="#4c4c4c" stroke-width="1.1" fill="none" opacity="0.7200000000000001"/><path d="M636.9 415.1Q648.9 407.1 660.9 415.1" stroke="#454545" stroke-width="1.0" fill="none" opacity="0.63"/><path d="M658.6 522.4Q670.1 485.2 681.6 522.4" stroke="#808080" stroke-width="1.3" fill="none" opacity="0.9"/><path d="M659.6 523.5Q670.1 509.6 680.6 523.5" stroke="#8a8a8a" stroke-width="1.3" fill="none" opacity="0.9"/><path d="M659.1 521.9Q670.1 498.7 681.1 521.9" stroke="#7a7a7a" stroke-width="1.1" fill="none" opacity="0.7200000000000001"/><path d="M660.1 499.2Q670.1 485.2 680.1 499.2" stroke="#6b6b6b" stroke-width="1.0" fill="none" opacity="0.7200000000000001"/><path d="M658.1 440.2Q670.1 430.2 682.1 440.2" stroke="#5c5c5c" stroke-width="1.2" fill="none" opacity="0.9"/><path d="M671.7 443.2Q683.7 433.2 695.7 443.2" stroke="#525252" stroke-width="1.1" fill="none" opacity="0.7200000000000001"/><path d="M658.1 455.2Q670.1 465.2 682.1 455.2" stroke="#5c5c5c" stroke-width="1.2" fill="none" opacity="0.81"/><path d="M671.7 471.3Q683.7 479.3 695.7 471.3" stroke="#575757" stroke-width="1.1" fill="none" opacity="0.63"/><path d="M658.1 376Q670.1 386 682.1 376" stroke="#545454" stroke-width="1.2" fill="none" opacity="0.9"/><path d="M671.7 374Q683.7 384 695.7 374" stroke="#4c4c4c" stroke-width="1.1" fill="none" opacity="0.7200000000000001"/><path d="M664.1 415.1Q676.1 407.1 688.1 415.1" stroke="#454545" stroke-width="1.0" fill="none" opacity="0.63"/><path d="M685.8 522.2Q697.3 484 708.8 522.2" stroke="#808080" stroke-width="1.3" fill="none" opacity="0.9"/><path d="M686.8 523.4Q697.3 509.1 707.8 523.4" stroke="#8a8a8a" stroke-width="1.3" fill="none" opacity="0.9"/><path d="M686.3 521.7Q697.3 497.8 708.3 521.7" stroke="#7a7a7a" stroke-width="1.1" fill="none" opacity="0.7200000000000001"/><path d="M687.3 498.1Q697.3 484.1 707.3 498.1" stroke="#6b6b6b" stroke-width="1.0" fill="none" opacity="0.7200000000000001"/><path d="M685.3 440.2Q697.3 430.2 709.3 440.2" stroke="#5c5c5c" stroke-width="1.2" fill="none" opacity="0.9"/><path d="M698.9 443.2Q710.9 433.2 722.9 443.2" stroke="#525252" stroke-width="1.1" fill="none" opacity="0.7200000000000001"/><path d="M685.3 455.2Q697.3 465.2 709.3 455.2" stroke="#5c5c5c" stroke-width="1.2" fill="none" opacity="0.81"/><path d="M698.9 471.3Q710.9 479.3 722.9 471.3" stroke="#575757" stroke-width="1.1" fill="none" opacity="0.63"/><path d="M685.3 376Q697.3 386 709.3 376" stroke="#545454" stroke-width="1.2" fill="none" opacity="0.9"/><path d="M698.9 374Q710.9 384 722.9 374" stroke="#4c4c4c" stroke-width="1.1" fill="none" opacity="0.7200000000000001"/><path d="M691.3 415.1Q703.3 407.1 715.3 415.1" stroke="#454545" stroke-width="1.0" fill="none" opacity="0.63"/><path d="M713 523.5Q724.5 495.1 736 523.5" stroke="#808080" stroke-width="1.3" fill="none" opacity="0.9"/><path d="M714 524.3Q724.5 513.7 735 524.3" stroke="#8a8a8a" stroke-width="1.3" fill="none" opacity="0.9"/><path d="M713.5 523.1Q724.5 505.4 735.5 523.1" stroke="#7a7a7a" stroke-width="1.1" fill="none" opacity="0.7200000000000001"/><path d="M714.5 507.4Q724.5 493.4 734.5 507.4" stroke="#6b6b6b" stroke-width="1.0" fill="none" opacity="0.7200000000000001"/><path d="M712.5 440.2Q724.5 430.2 736.5 440.2" stroke="#5c5c5c" stroke-width="1.2" fill="none" opacity="0.9"/><path d="M726.1 443.2Q738.1 433.2 750.1 443.2" stroke="#525252" stroke-width="1.1" fill="none" opacity="0.7200000000000001"/><path d="M712.5 455.2Q724.5 465.2 736.5 455.2" stroke="#5c5c5c" stroke-width="1.2" fill="none" opacity="0.81"/><path d="M726.1 471.3Q738.1 479.3 750.1 471.3" stroke="#575757" stroke-width="1.1" fill="none" opacity="0.63"/><path d="M712.5 376Q724.5 386 736.5 376" stroke="#545454" stroke-width="1.2" fill="none" opacity="0.9"/><path d="M726.1 374Q738.1 384 750.1 374" stroke="#4c4c4c" stroke-width="1.1" fill="none" opacity="0.7200000000000001"/><path d="M718.5 415.1Q730.5 407.1 742.5 415.1" stroke="#454545" stroke-width="1.0" fill="none" opacity="0.63"/><path d="M740.2 521.6Q751.7 478.4 763.2 521.6" stroke="#808080" stroke-width="1.3" fill="none" opacity="0.9"/><path d="M741.2 523Q751.7 506.8 762.2 523" stroke="#8a8a8a" stroke-width="1.3" fill="none" opacity="0.9"/><path d="M740.7 521.1Q751.7 494.1 762.7 521.1" stroke="#7a7a7a" stroke-width="1.1" fill="none" opacity="0.7200000000000001"/><path d="M741.7 493.5Q751.7 479.5 761.7 493.5" stroke="#6b6b6b" stroke-width="1.0" fill="none" opacity="0.7200000000000001"/><path d="M739.7 440.2Q751.7 430.2 763.7 440.2" stroke="#5c5c5c" stroke-width="1.2" fill="none" opacity="0.9"/><path d="M753.3 443.2Q765.3 433.2 777.3 443.2" stroke="#525252" stroke-width="1.1" fill="none" opacity="0.7200000000000001"/><path d="M739.7 455.2Q751.7 465.2 763.7 455.2" stroke="#5c5c5c" stroke-width="1.2" fill="none" opacity="0.81"/><path d="M753.3 471.3Q765.3 479.3 777.3 471.3" stroke="#575757" stroke-width="1.1" fill="none" opacity="0.63"/><path d="M739.7 376Q751.7 386 763.7 376" stroke="#545454" stroke-width="1.2" fill="none" opacity="0.9"/><path d="M753.3 374Q765.3 384 777.3 374" stroke="#4c4c4c" stroke-width="1.1" fill="none" opacity="0.7200000000000001"/><path d="M745.7 415.1Q757.7 407.1 769.7 415.1" stroke="#454545" stroke-width="1.0" fill="none" opacity="0.63"/><path d="M767.4 523.3Q778.9 494.1 790.4 523.3" stroke="#808080" stroke-width="1.3" fill="none" opacity="0.9"/><path d="M768.4 524.3Q778.9 513.3 789.4 524.3" stroke="#8a8a8a" stroke-width="1.3" fill="none" opacity="0.9"/><path d="M767.9 523Q778.9 504.7 789.9 523" stroke="#7a7a7a" stroke-width="1.1" fill="none" opacity="0.7200000000000001"/><path d="M768.9 506.6Q778.9 492.6 788.9 506.6" stroke="#6b6b6b" stroke-width="1.0" fill="none" opacity="0.7200000000000001"/><path d="M766.9 440.2Q778.9 430.2 790.9 440.2" stroke="#5c5c5c" stroke-width="1.2" fill="none" opacity="0.9"/><path d="M780.5 443.2Q792.5 433.2 804.5 443.2" stroke="#525252" stroke-width="1.1" fill="none" opacity="0.7200000000000001"/><path d="M766.9 455.2Q778.9 465.2 790.9 455.2" stroke="#5c5c5c" stroke-width="1.2" fill="none" opacity="0.81"/><path d="M780.5 471.3Q792.5 479.3 804.5 471.3" stroke="#575757" stroke-width="1.1" fill="none" opacity="0.63"/><path d="M766.9 376Q778.9 386 790.9 376" stroke="#545454" stroke-width="1.2" fill="none" opacity="0.9"/><path d="M780.5 374Q792.5 384 804.5 374" stroke="#4c4c4c" stroke-width="1.1" fill="none" opacity="0.7200000000000001"/><path d="M772.9 415.1Q784.9 407.1 796.9 415.1" stroke="#454545" stroke-width="1.0" fill="none" opacity="0.63"/><path d="M794.6 522.4Q806.1 485.7 817.6 522.4" stroke="#808080" stroke-width="1.3" fill="none" opacity="0.9"/><path d="M795.6 523.6Q806.1 509.8 816.6 523.6" stroke="#8a8a8a" stroke-width="1.3" fill="none" opacity="0.9"/><path d="M795.1 521.9Q806.1 499 817.1 521.9" stroke="#7a7a7a" stroke-width="1.1" fill="none" opacity="0.7200000000000001"/><path d="M796.1 499.6Q806.1 485.6 816.1 499.6" stroke="#6b6b6b" stroke-width="1.0" fill="none" opacity="0.7200000000000001"/><path d="M794.1 440.2Q806.1 430.2 818.1 440.2" stroke="#5c5c5c" stroke-width="1.2" fill="none" opacity="0.9"/><path d="M807.7 443.2Q819.7 433.2 831.7 443.2" stroke="#525252" stroke-width="1.1" fill="none" opacity="0.7200000000000001"/><path d="M794.1 455.2Q806.1 465.2 818.1 455.2" stroke="#5c5c5c" stroke-width="1.2" fill="none" opacity="0.81"/><path d="M807.7 471.3Q819.7 479.3 831.7 471.3" stroke="#575757" stroke-width="1.1" fill="none" opacity="0.63"/><path d="M794.1 376Q806.1 386 818.1 376" stroke="#545454" stroke-width="1.2" fill="none" opacity="0.9"/><path d="M807.7 374Q819.7 384 831.7 374" stroke="#4c4c4c" stroke-width="1.1" fill="none" opacity="0.7200000000000001"/><path d="M800.1 415.1Q812.1 407.1 824.1 415.1" stroke="#454545" stroke-width="1.0" fill="none" opacity="0.63"/><path d="M821.8 522.2Q833.3 483.5 844.8 522.2" stroke="#808080" stroke-width="1.3" fill="none" opacity="0.9"/><path d="M822.8 523.4Q833.3 508.9 843.8 523.4" stroke="#8a8a8a" stroke-width="1.3" fill="none" opacity="0.9"/><path d="M822.3 521.7Q833.3 497.5 844.3 521.7" stroke="#7a7a7a" stroke-width="1.1" fill="none" opacity="0.7200000000000001"/><path d="M823.3 497.8Q833.3 483.8 843.3 497.8" stroke="#6b6b6b" stroke-width="1.0" fill="none" opacity="0.7200000000000001"/><path d="M821.3 440.2Q833.3 430.2 845.3 440.2" stroke="#5c5c5c" stroke-width="1.2" fill="none" opacity="0.9"/><path d="M834.9 443.2Q846.9 433.2 858.9 443.2" stroke="#525252" stroke-width="1.1" fill="none" opacity="0.7200000000000001"/><path d="M821.3 455.2Q833.3 465.2 845.3 455.2" stroke="#5c5c5c" stroke-width="1.2" fill="none" opacity="0.81"/><path d="M834.9 471.3Q846.9 479.3 858.9 471.3" stroke="#575757" stroke-width="1.1" fill="none" opacity="0.63"/><path d="M821.3 376Q833.3 386 845.3 376" stroke="#545454" stroke-width="1.2" fill="none" opacity="0.9"/><path d="M834.9 374Q846.9 384 858.9 374" stroke="#4c4c4c" stroke-width="1.1" fill="none" opacity="0.7200000000000001"/><path d="M827.3 415.1Q839.3 407.1 851.3 415.1" stroke="#454545" stroke-width="1.0" fill="none" opacity="0.63"/><path d="M849 523.5Q860.5 495.4 872 523.5" stroke="#808080" stroke-width="1.3" fill="none" opacity="0.9"/><path d="M850 524.4Q860.5 513.8 871 524.4" stroke="#8a8a8a" stroke-width="1.3" fill="none" opacity="0.9"/><path d="M849.5 523.1Q860.5 505.6 871.5 523.1" stroke="#7a7a7a" stroke-width="1.1" fill="none" opacity="0.7200000000000001"/><path d="M850.5 507.6Q860.5 493.6 870.5 507.6" stroke="#6b6b6b" stroke-width="1.0" fill="none" opacity="0.7200000000000001"/><path d="M848.5 440.2Q860.5 430.2 872.5 440.2" stroke="#5c5c5c" stroke-width="1.2" fill="none" opacity="0.9"/><path d="M862.1 443.2Q874.1 433.2 886.1 443.2" stroke="#525252" stroke-width="1.1" fill="none" opacity="0.7200000000000001"/><path d="M848.5 455.2Q860.5 465.2 872.5 455.2" stroke="#5c5c5c" stroke-width="1.2" fill="none" opacity="0.81"/><path d="M862.1 471.3Q874.1 479.3 886.1 471.3" stroke="#575757" stroke-width="1.1" fill="none" opacity="0.63"/><path d="M848.5 376Q860.5 386 872.5 376" stroke="#545454" stroke-width="1.2" fill="none" opacity="0.9"/><path d="M862.1 374Q874.1 384 886.1 374" stroke="#4c4c4c" stroke-width="1.1" fill="none" opacity="0.7200000000000001"/><path d="M854.5 415.1Q866.5 407.1 878.5 415.1" stroke="#454545" stroke-width="1.0" fill="none" opacity="0.63"/><path d="M876.2 521.6Q887.7 478.5 899.2 521.6" stroke="#808080" stroke-width="1.3" fill="none" opacity="0.9"/><path d="M877.2 523Q887.7 506.8 898.2 523" stroke="#8a8a8a" stroke-width="1.3" fill="none" opacity="0.9"/><path d="M876.7 521.1Q887.7 494.1 898.7 521.1" stroke="#7a7a7a" stroke-width="1.1" fill="none" opacity="0.7200000000000001"/><path d="M877.7 493.6Q887.7 479.6 897.7 493.6" stroke="#6b6b6b" stroke-width="1.0" fill="none" opacity="0.7200000000000001"/><path d="M875.7 440.2Q887.7 430.2 899.7 440.2" stroke="#5c5c5c" stroke-width="1.2" fill="none" opacity="0.9"/><path d="M889.3 443.2Q901.3 433.2 913.3 443.2" stroke="#525252" stroke-width="1.1" fill="none" opacity="0.7200000000000001"/><path d="M875.7 455.2Q887.7 465.2 899.7 455.2" stroke="#5c5c5c" stroke-width="1.2" fill="none" opacity="0.81"/><path d="M889.3 471.3Q901.3 479.3 913.3 471.3" stroke="#575757" stroke-width="1.1" fill="none" opacity="0.63"/><path d="M875.7 376Q887.7 386 899.7 376" stroke="#545454" stroke-width="1.2" fill="none" opacity="0.9"/><path d="M889.3 374Q901.3 384 913.3 374" stroke="#4c4c4c" stroke-width="1.1" fill="none" opacity="0.7200000000000001"/><path d="M881.7 415.1Q893.7 407.1 905.7 415.1" stroke="#454545" stroke-width="1.0" fill="none" opacity="0.63"/><path d="M903.4 523.3Q914.9 493.7 926.4 523.3" stroke="#808080" stroke-width="1.3" fill="none" opacity="0.9"/><path d="M904.4 524.2Q914.9 513.1 925.4 524.2" stroke="#8a8a8a" stroke-width="1.3" fill="none" opacity="0.9"/><path d="M903.9 522.9Q914.9 504.4 925.9 522.9" stroke="#7a7a7a" stroke-width="1.1" fill="none" opacity="0.7200000000000001"/><path d="M904.9 506.3Q914.9 492.3 924.9 506.3" stroke="#6b6b6b" stroke-width="1.0" fill="none" opacity="0.7200000000000001"/><path d="M902.9 440.2Q914.9 430.2 926.9 440.2" stroke="#5c5c5c" stroke-width="1.2" fill="none" opacity="0.9"/><path d="M916.5 443.2Q928.5 433.2 940.5 443.2" stroke="#525252" stroke-width="1.1" fill="none" opacity="0.7200000000000001"/><path d="M902.9 455.2Q914.9 465.2 926.9 455.2" stroke="#5c5c5c" stroke-width="1.2" fill="none" opacity="0.81"/><path d="M916.5 471.3Q928.5 479.3 940.5 471.3" stroke="#575757" stroke-width="1.1" fill="none" opacity="0.63"/><path d="M902.9 376Q914.9 386 926.9 376" stroke="#545454" stroke-width="1.2" fill="none" opacity="0.9"/><path d="M916.5 374Q928.5 384 940.5 374" stroke="#4c4c4c" stroke-width="1.1" fill="none" opacity="0.7200000000000001"/><path d="M908.9 415.1Q920.9 407.1 932.9 415.1" stroke="#454545" stroke-width="1.0" fill="none" opacity="0.63"/><path d="M930.6 522.5Q942.1 486.1 953.6 522.5" stroke="#808080" stroke-width="1.3" fill="none" opacity="0.9"/><path d="M931.6 523.6Q942.1 510 952.6 523.6" stroke="#8a8a8a" stroke-width="1.3" fill="none" opacity="0.9"/><path d="M931.1 522Q942.1 499.3 953.1 522" stroke="#7a7a7a" stroke-width="1.1" fill="none" opacity="0.7200000000000001"/><path d="M932.1 500Q942.1 486 952.1 500" stroke="#6b6b6b" stroke-width="1.0" fill="none" opacity="0.7200000000000001"/><path d="M930.1 440.2Q942.1 430.2 954.1 440.2" stroke="#5c5c5c" stroke-width="1.2" fill="none" opacity="0.9"/><path d="M943.7 443.2Q955.7 433.2 967.7 443.2" stroke="#525252" stroke-width="1.1" fill="none" opacity="0.7200000000000001"/><path d="M930.1 455.2Q942.1 465.2 954.1 455.2" stroke="#5c5c5c" stroke-width="1.2" fill="none" opacity="0.81"/><path d="M943.7 471.3Q955.7 479.3 967.7 471.3" stroke="#575757" stroke-width="1.1" fill="none" opacity="0.63"/><path d="M930.1 376Q942.1 386 954.1 376" stroke="#545454" stroke-width="1.2" fill="none" opacity="0.9"/><path d="M943.7 374Q955.7 384 967.7 374" stroke="#4c4c4c" stroke-width="1.1" fill="none" opacity="0.7200000000000001"/><path d="M936.1 415.1Q948.1 407.1 960.1 415.1" stroke="#454545" stroke-width="1.0" fill="none" opacity="0.63"/><path d="M957.8 522.1Q969.3 483.1 980.8 522.1" stroke="#808080" stroke-width="1.3" fill="none" opacity="0.9"/><path d="M958.8 523.3Q969.3 508.7 979.8 523.3" stroke="#8a8a8a" stroke-width="1.3" fill="none" opacity="0.9"/><path d="M958.3 521.6Q969.3 497.2 980.3 521.6" stroke="#7a7a7a" stroke-width="1.1" fill="none" opacity="0.7200000000000001"/><path d="M959.3 497.4Q969.3 483.4 979.3 497.4" stroke="#6b6b6b" stroke-width="1.0" fill="none" opacity="0.7200000000000001"/><path d="M957.3 440.2Q969.3 430.2 981.3 440.2" stroke="#5c5c5c" stroke-width="1.2" fill="none" opacity="0.9"/><path d="M970.9 443.2Q982.9 433.2 994.9 443.2" stroke="#525252" stroke-width="1.1" fill="none" opacity="0.7200000000000001"/><path d="M957.3 455.2Q969.3 465.2 981.3 455.2" stroke="#5c5c5c" stroke-width="1.2" fill="none" opacity="0.81"/><path d="M970.9 471.3Q982.9 479.3 994.9 471.3" stroke="#575757" stroke-width="1.1" fill="none" opacity="0.63"/><path d="M957.3 376Q969.3 386 981.3 376" stroke="#545454" stroke-width="1.2" fill="none" opacity="0.9"/><path d="M970.9 374Q982.9 384 994.9 374" stroke="#4c4c4c" stroke-width="1.1" fill="none" opacity="0.7200000000000001"/><path d="M963.3 415.1Q975.3 407.1 987.3 415.1" stroke="#454545" stroke-width="1.0" fill="none" opacity="0.63"/><path d="M985 523.5Q996.5 495.6 1008 523.5" stroke="#808080" stroke-width="1.3" fill="none" opacity="0.9"/><path d="M986 524.4Q996.5 513.9 1007 524.4" stroke="#8a8a8a" stroke-width="1.3" fill="none" opacity="0.9"/><path d="M985.5 523.2Q996.5 505.7 1007.5 523.2" stroke="#7a7a7a" stroke-width="1.1" fill="none" opacity="0.7200000000000001"/><path d="M986.5 507.8Q996.5 493.8 1006.5 507.8" stroke="#6b6b6b" stroke-width="1.0" fill="none" opacity="0.7200000000000001"/><path d="M984.5 440.2Q996.5 430.2 1008.5 440.2" stroke="#5c5c5c" stroke-width="1.2" fill="none" opacity="0.9"/><path d="M998.1 443.2Q1010.1 433.2 1022.1 443.2" stroke="#525252" stroke-width="1.1" fill="none" opacity="0.7200000000000001"/><path d="M984.5 455.2Q996.5 465.2 1008.5 455.2" stroke="#5c5c5c" stroke-width="1.2" fill="none" opacity="0.81"/><path d="M998.1 471.3Q1010.1 479.3 1022.1 471.3" stroke="#575757" stroke-width="1.1" fill="none" opacity="0.63"/><path d="M984.5 376Q996.5 386 1008.5 376" stroke="#545454" stroke-width="1.2" fill="none" opacity="0.9"/><path d="M998.1 374Q1010.1 384 1022.1 374" stroke="#4c4c4c" stroke-width="1.1" fill="none" opacity="0.7200000000000001"/><path d="M990.5 415.1Q1002.5 407.1 1014.5 415.1" stroke="#454545" stroke-width="1.0" fill="none" opacity="0.63"/><path d="M1012.2 521.6Q1023.7 478.6 1035.2 521.6" stroke="#808080" stroke-width="1.3" fill="none" opacity="0.35"/><path d="M1013.2 523Q1023.7 506.8 1034.2 523" stroke="#8a8a8a" stroke-width="1.3" fill="none" opacity="0.35"/><path d="M1012.7 521.1Q1023.7 494.2 1034.7 521.1" stroke="#7a7a7a" stroke-width="1.1" fill="none" opacity="0.27999999999999997"/><path d="M1013.7 493.7Q1023.7 479.7 1033.7 493.7" stroke="#6b6b6b" stroke-width="1.0" fill="none" opacity="0.27999999999999997"/><path d="M1011.7 440.2Q1023.7 430.2 1035.7 440.2" stroke="#5c5c5c" stroke-width="1.2" fill="none" opacity="0.35"/><path d="M1025.3 443.2Q1037.3 433.2 1049.3 443.2" stroke="#525252" stroke-width="1.1" fill="none" opacity="0.27999999999999997"/><path d="M1011.7 455.2Q1023.7 465.2 1035.7 455.2" stroke="#5c5c5c" stroke-width="1.2" fill="none" opacity="0.315"/><path d="M1025.3 471.3Q1037.3 479.3 1049.3 471.3" stroke="#575757" stroke-width="1.1" fill="none" opacity="0.24499999999999997"/><path d="M1011.7 376Q1023.7 386 1035.7 376" stroke="#545454" stroke-width="1.2" fill="none" opacity="0.35"/><path d="M1025.3 374Q1037.3 384 1049.3 374" stroke="#4c4c4c" stroke-width="1.1" fill="none" opacity="0.27999999999999997"/><path d="M1017.7 415.1Q1029.7 407.1 1041.7 415.1" stroke="#454545" stroke-width="1.0" fill="none" opacity="0.24499999999999997"/><path d="M1039.4 523.3Q1050.9 493.4 1062.4 523.3" stroke="#808080" stroke-width="1.3" fill="none" opacity="0.35"/><path d="M1040.4 524.2Q1050.9 513 1061.4 524.2" stroke="#8a8a8a" stroke-width="1.3" fill="none" opacity="0.35"/><path d="M1039.9 522.9Q1050.9 504.2 1061.9 522.9" stroke="#7a7a7a" stroke-width="1.1" fill="none" opacity="0.27999999999999997"/><path d="M1040.9 506Q1050.9 492 1060.9 506" stroke="#6b6b6b" stroke-width="1.0" fill="none" opacity="0.27999999999999997"/><path d="M1038.9 440.2Q1050.9 430.2 1062.9 440.2" stroke="#5c5c5c" stroke-width="1.2" fill="none" opacity="0.35"/><path d="M1052.5 443.2Q1064.5 433.2 1076.5 443.2" stroke="#525252" stroke-width="1.1" fill="none" opacity="0.27999999999999997"/><path d="M1038.9 455.2Q1050.9 465.2 1062.9 455.2" stroke="#5c5c5c" stroke-width="1.2" fill="none" opacity="0.315"/><path d="M1052.5 471.3Q1064.5 479.3 1076.5 471.3" stroke="#575757" stroke-width="1.1" fill="none" opacity="0.24499999999999997"/><path d="M1038.9 376Q1050.9 386 1062.9 376" stroke="#545454" stroke-width="1.2" fill="none" opacity="0.35"/><path d="M1052.5 374Q1064.5 384 1076.5 374" stroke="#4c4c4c" stroke-width="1.1" fill="none" opacity="0.27999999999999997"/><path d="M1044.9 415.1Q1056.9 407.1 1068.9 415.1" stroke="#454545" stroke-width="1.0" fill="none" opacity="0.24499999999999997"/><path d="M1066.6 522.5Q1078.1 486.6 1089.6 522.5" stroke="#808080" stroke-width="1.3" fill="none" opacity="0.35"/><path d="M1067.6 523.6Q1078.1 510.2 1088.6 523.6" stroke="#8a8a8a" stroke-width="1.3" fill="none" opacity="0.35"/><path d="M1067.1 522.1Q1078.1 499.6 1089.1 522.1" stroke="#7a7a7a" stroke-width="1.1" fill="none" opacity="0.27999999999999997"/><path d="M1068.1 500.4Q1078.1 486.4 1088.1 500.4" stroke="#6b6b6b" stroke-width="1.0" fill="none" opacity="0.27999999999999997"/><path d="M1066.1 440.2Q1078.1 430.2 1090.1 440.2" stroke="#5c5c5c" stroke-width="1.2" fill="none" opacity="0.35"/><path d="M1079.7 443.2Q1091.7 433.2 1103.7 443.2" stroke="#525252" stroke-width="1.1" fill="none" opacity="0.27999999999999997"/><path d="M1066.1 455.2Q1078.1 465.2 1090.1 455.2" stroke="#5c5c5c" stroke-width="1.2" fill="none" opacity="0.315"/><path d="M1079.7 471.3Q1091.7 479.3 1103.7 471.3" stroke="#575757" stroke-width="1.1" fill="none" opacity="0.24499999999999997"/><path d="M1066.1 376Q1078.1 386 1090.1 376" stroke="#545454" stroke-width="1.2" fill="none" opacity="0.35"/><path d="M1079.7 374Q1091.7 384 1103.7 374" stroke="#4c4c4c" stroke-width="1.1" fill="none" opacity="0.27999999999999997"/><path d="M1072.1 415.1Q1084.1 407.1 1096.1 415.1" stroke="#454545" stroke-width="1.0" fill="none" opacity="0.24499999999999997"/><path d="M1093.8 522.1Q1105.3 482.7 1116.8 522.1" stroke="#808080" stroke-width="1.3" fill="none" opacity="0.9"/><path d="M1094.8 523.3Q1105.3 508.5 1115.8 523.3" stroke="#8a8a8a" stroke-width="1.3" fill="none" opacity="0.9"/><path d="M1094.3 521.6Q1105.3 497 1116.3 521.6" stroke="#7a7a7a" stroke-width="1.1" fill="none" opacity="0.7200000000000001"/><path d="M1095.3 497.1Q1105.3 483.1 1115.3 497.1" stroke="#6b6b6b" stroke-width="1.0" fill="none" opacity="0.7200000000000001"/><path d="M1093.3 440.2Q1105.3 430.2 1117.3 440.2" stroke="#5c5c5c" stroke-width="1.2" fill="none" opacity="0.9"/><path d="M1106.9 443.2Q1118.9 433.2 1130.9 443.2" stroke="#525252" stroke-width="1.1" fill="none" opacity="0.7200000000000001"/><path d="M1093.3 455.2Q1105.3 465.2 1117.3 455.2" stroke="#5c5c5c" stroke-width="1.2" fill="none" opacity="0.81"/><path d="M1106.9 471.3Q1118.9 479.3 1130.9 471.3" stroke="#575757" stroke-width="1.1" fill="none" opacity="0.63"/><path d="M1093.3 376Q1105.3 386 1117.3 376" stroke="#545454" stroke-width="1.2" fill="none" opacity="0.9"/><path d="M1106.9 374Q1118.9 384 1130.9 374" stroke="#4c4c4c" stroke-width="1.1" fill="none" opacity="0.7200000000000001"/><path d="M1099.3 415.1Q1111.3 407.1 1123.3 415.1" stroke="#454545" stroke-width="1.0" fill="none" opacity="0.63"/><path d="M1121 523.5Q1132.5 495.8 1144 523.5" stroke="#808080" stroke-width="1.3" fill="none" opacity="0.9"/><path d="M1122 524.4Q1132.5 514 1143 524.4" stroke="#8a8a8a" stroke-width="1.3" fill="none" opacity="0.9"/><path d="M1121.5 523.2Q1132.5 505.8 1143.5 523.2" stroke="#7a7a7a" stroke-width="1.1" fill="none" opacity="0.7200000000000001"/><path d="M1122.5 508Q1132.5 494 1142.5 508" stroke="#6b6b6b" stroke-width="1.0" fill="none" opacity="0.7200000000000001"/><path d="M1120.5 440.2Q1132.5 430.2 1144.5 440.2" stroke="#5c5c5c" stroke-width="1.2" fill="none" opacity="0.9"/><path d="M1134.1 443.2Q1146.1 433.2 1158.1 443.2" stroke="#525252" stroke-width="1.1" fill="none" opacity="0.7200000000000001"/><path d="M1120.5 455.2Q1132.5 465.2 1144.5 455.2" stroke="#5c5c5c" stroke-width="1.2" fill="none" opacity="0.81"/><path d="M1134.1 471.3Q1146.1 479.3 1158.1 471.3" stroke="#575757" stroke-width="1.1" fill="none" opacity="0.63"/><path d="M1120.5 376Q1132.5 386 1144.5 376" stroke="#545454" stroke-width="1.2" fill="none" opacity="0.9"/><path d="M1134.1 374Q1146.1 384 1158.1 374" stroke="#4c4c4c" stroke-width="1.1" fill="none" opacity="0.7200000000000001"/><path d="M1126.5 415.1Q1138.5 407.1 1150.5 415.1" stroke="#454545" stroke-width="1.0" fill="none" opacity="0.63"/><rect x="241" y="461" width="11" height="66" fill="#575757" opacity=".3"/><rect x="781" y="440" width="12" height="87" fill="#5c5c5c" opacity=".3"/><path d="M244.1 527v-5.8M242.6 527v-14.5M245.2 527v-7.7M248 527v-23.2M246 527v-23.9M247 527v-11.6M247.3 527v-0.1M246.3 527v-2.2M241 527v-8.7M243.1 527v-5.9M249.7 527v-9.1M244.9 527v-8.9M247.7 527v-19.5M242.3 527v-6.6M244 527v-3.1M250.3 527v-7.3M247.7 527v-18.4M251.9 527v-4.5M248.4 527v-9.3M247.1 527v-17" stroke="#8c8c8c" stroke-width="1.1" fill="none"/><path d="M246.4 527v-6.6M246.7 527v-16M249.4 527v-11.2M252.3 527v-1.1M247.7 527v-15.3M251.1 527v-0.5M242.5 527v-2.9M241.9 527v-1M241.9 527v-4.8M250.4 527v-10.1M242.9 527v-6.4M248.9 527v-0.8M251.6 527v-9.3M243.6 527v-11.1M245.8 527v-5.4M252.9 527v-5.6M242.9 527v-3M247.2 527v-3.5M243.3 527v-2.1M249.7 527v-0M247.6 527v-4.9M241.2 527v-1.4M248.5 527v-5.6M241.8 527v-8.4" stroke="#dbdbdb" stroke-width="1.2" fill="none"/><path d="M743.7 527v-8.8M717.1 527v-1M714.5 527v-4.3M723.5 527v-0.5M729.5 527v-11M744.9 527v-1.1M718.8 527v-7.1M735.3 527v-7.5M716.5 527v-0.1M739.8 527v-3M715.8 527v-6.2M737.7 527v-8.4M716.3 527v-5.6M715.6 527v-5.4M730.7 527v-2.6M734.6 527v-11.7M723.4 527v-0.5M733.5 527v-1.6M717.3 527v-0.5M715 527v-0.6M725.2 527v-1.8M742.6 527v-1.5M732.5 527v-1.1M726.5 527v-0M722.8 527v-0M741.6 527v-4.1M720.4 527v-2.9M749.5 527v-0.2M744.9 527v-2.5M732.3 527v-10.6M728.3 527v-4.4M739.8 527v-10.6M726.4 527v-8.6M740.6 527v-5.3M728.8 527v-2.5M715.1 527v-0.3M715.8 527v-4.3M723 527v-0.7M716.3 527v-5.4M747 527v-4.3M724 527v-1.2M724.4 527v-3.3M719.1 527v-2.5M723.3 527v-9.5M750.9 527v-2.5M722.5 527v-9.2M725.1 527v-2.3M713 527v-1.3M731.5 527v-4.8M720.8 527v-3.2M713.2 527v-0.8M716.5 527v-1.8M714.6 527v-0M724.9 527v-1.2M735.8 527v-4.8" stroke="#d6d6d6" stroke-width="1.2" fill="none"/><path d="M792.3 527v-20.5M791.6 527v-33.6M785.4 527v-8.9M796.7 527v-1.3M791.8 527v-20.7M778.8 527v-19M794.9 527v-14.5M791.9 527v-29M780.6 527v-11.8M787.6 527v-41.7M793.3 527v-26.2M789.1 527v-41.7M791 527v-24.8M782.4 527v-0.2M780.5 527v-6.7M780 527v-22.1M788.6 527v-25.4M789.9 527v-26.2M787.3 527v-0M793.2 527v-22.9M787.6 527v-21.5M790.5 527v-0.8M792 527v-5M779.4 527v-3.7M791.9 527v-3.7M792.1 527v-37.8M787.4 527v-12.9M787.1 527v-30.3M792.6 527v-18.1M790.2 527v-1" stroke="#999999" stroke-width="1.1" fill="none"/><path d="M780.8 527v-2.7M792.1 527v-4.3M788.8 527v-0M779.2 527v-2.4M790.8 527v-16.5M790.8 527v-4.5M787.8 527v-11.2M786.9 527v-1.4M795 527v-1.7M796.6 527v-13.9M778.3 527v-4.7M793.6 527v-21.1M786.5 527v-4.7M782 527v-21.6M782 527v-10.4M780.7 527v-7.8M796.1 527v-0.8M793.6 527v-8M794.9 527v-11.4M782.4 527v-20.7M787.2 527v-0.1M778.1 527v-5M786.6 527v-5.6M780.7 527v-4.1M784 527v-21.6M778 527v-9.4M793.9 527v-0.9M795.6 527v-10.6M795.1 527v-2.9M785.1 527v-7.5M797 527v-6.5M784.9 527v-8.4M783.2 527v-0.3M779.9 527v-14.3M783.4 527v-24.2M782.7 527v-3.4M787.7 527v-2.9M785.1 527v-28.5M794.8 527v-14.2M790 527v-26.5" stroke="#c7c7c7" stroke-width="1.2" fill="none"/><path d="M795.1 527v-6.4M791.5 527v-1.5M791.7 527v-8.4M792 527v-10.8M784.6 527v-1.5M794.8 527v-2.1M787.6 527v-9M784.8 527v-13.1M795.6 527v-3.2M790.5 527v-6.8M788.9 527v-9.7M782.7 527v-3.1M783.3 527v-13.2M788 527v-6.5M794.5 527v-11.2M787.2 527v-4.3M783.1 527v-2M785.5 527v-2.6M783.8 527v-5.1M789.1 527v-18.3M792 527v-7.6M786.6 527v-11.8M786 527v-7.9M781 527v-3.7M795.5 527v-1.8M788.1 527v-15.1M793.8 527v-3.6M784.3 527v-5.2M786.4 527v-10.1M795.3 527v-8.8" stroke="#e6e6e6" stroke-width="1.4" fill="none"/>
</g>
<rect x="165" y="289.7" width="989" height="2.1" fill="#f6c034"/><rect x="165" y="289.2" width="989" height="1" fill="#e8c840" opacity=".45"/>
<rect x="165" y="291.6" width="990" height="1.1" fill="#262626"/>
<rect x="165" y="525.6" width="989" height="2.2" fill="#f6c034"/><rect x="165" y="525" width="989" height="1" fill="#d0c850" opacity=".4"/>
<rect x="165" y="527.6" width="990" height="1.1" fill="#262626"/>
<g font-family="'DejaVu Sans', sans-serif" font-size="20.83" fill="#262626" text-anchor="end">
<text x="157.0" y="138">80</text>
<text x="157.0" y="178.2">60</text>
<text x="157.0" y="218.4">40</text>
<text x="157.0" y="258.6">20</text>
<text x="157.0" y="299">0</text>
</g>
<g font-family="'DejaVu Sans', sans-serif" font-weight="bold" font-size="18.75" fill="#262626" text-anchor="middle">
<text transform="translate(92.1 211.4) rotate(-90)">Outboard Sensor</text>
<text transform="translate(118.2 211.4) rotate(-90)">Frequency (Hz)</text>
</g>
<g font-family="'DejaVu Sans', sans-serif" font-size="20.83" fill="#262626" text-anchor="end">
<text x="157.0" y="374">80</text>
<text x="157.0" y="414.2">60</text>
<text x="157.0" y="454.4">40</text>
<text x="157.0" y="494.6">20</text>
<text x="157.0" y="535">0</text>
</g>
<g font-family="'DejaVu Sans', sans-serif" font-weight="bold" font-size="18.75" fill="#262626" text-anchor="middle">
<text transform="translate(92.1 447.4) rotate(-90)">Inboard Sensor</text>
<text transform="translate(118.2 447.4) rotate(-90)">Frequency (Hz)</text>
</g>
<rect x="1226.5" y="118.5" width="31" height="399" fill="url(#cb)" stroke="#262626" stroke-width="1"/>
<g font-family="'DejaVu Sans', sans-serif" font-weight="bold" font-size="14.58" fill="#262626" text-anchor="end">
<rect x="1226.5" y="118" width="4" height="1" fill="#262626"/>
<text x="1217" y="123.8">10</text>
<rect x="1226.5" y="175" width="4" height="1" fill="#262626"/>
<text x="1217" y="180.8">5</text>
<rect x="1226.5" y="232" width="4" height="1" fill="#262626"/>
<text x="1217" y="237.8">0</text>
<rect x="1226.5" y="289" width="4" height="1" fill="#262626"/>
<text x="1217" y="294.8">-5</text>
<rect x="1226.5" y="346" width="4" height="1" fill="#262626"/>
<text x="1217" y="351.8">-10</text>
<rect x="1226.5" y="403" width="4" height="1" fill="#262626"/>
<text x="1217" y="408.8">-15</text>
<rect x="1226.5" y="460" width="4" height="1" fill="#262626"/>
<text x="1217" y="465.8">-20</text>
<rect x="1226.5" y="517" width="4" height="1" fill="#262626"/>
<text x="1217" y="522.8">-25</text>
</g>
<text transform="translate(1173.5 318) rotate(-90)" font-family="'DejaVu Sans', sans-serif" font-weight="bold" font-size="14.58" fill="#262626" text-anchor="middle">Log<tspan font-size="11.5" dy="4">10</tspan><tspan dy="-4"> (nT</tspan><tspan font-size="11.5" dy="-6">2</tspan><tspan dy="6">/Hz)</tspan></text>
<rect x="226.0" y="601.5" width="1" height="161.0" fill="#dfdfdf"/>
<rect x="514.0" y="601.5" width="1" height="161.0" fill="#dfdfdf"/>
<rect x="801.0" y="601.5" width="1" height="161.0" fill="#dfdfdf"/>
<rect x="1088.0" y="601.5" width="1" height="161.0" fill="#dfdfdf"/>
<rect x="165.5" y="681.5" width="989" height="1" fill="#dfdfdf"/>
<path id="tf" d="M165.5 711.5l2-.9 2.9-1.4 3.5-1.5 3.7-1.5 4-1.5 4.5-1.6 4.7-1.6 4.5-1.3 4.5-1.1 4.5-.9 4.4-.8 4.2-.7 3.6-.6 3.2-.4 3.4-.4 3.9-.4 4.9-.4 5.5-.4 5.6-.4 5.2-.2 4.7-.1 4.4 0 4.3 0 4.3 .1 4.4 .2 4.4 .2 4.4 .3 4.4 .3 4.4 .4 4.4 .4 4.5 .5 4.4 .5 4.4 .5 4.4 .5 4.4 .5 4.4 .6 4.4 .6 4.5 .6 4.4 .6 4.4 .7 4.4 .8 4.4 .8 4.4 .9 4.4 1 4.4 1 4.5 1.1 4.4 1.1 4.4 1.1 4.4 1.2 4.4 1.1 4.4 1.3 4.4 1.3 4.4 1.4 4.4 1.5 4.5 1.5 4.4 1.6 4.4 1.7 4.4 1.7 4.4 1.9 4.4 1.8 4.4 1.9 4.5 1.9 4.4 2 4.4 1.9 4.4 2 4.4 1.9 4.4 2 4.4 1.9 4.4 1.9 4.4 1.9 4.5 1.7 4.4 1.6 4.4 1.4 4.4 1.2 4.4 1 4.4 .9 4.4 .7 4.5 .6 4.4 .5 4.4 .4 4.4 .3 4.4 .2 4.4 .1 4.4 .1 4.4 0 4.4 0 4.5 0 4.4 0 4.4 .1 4.4 .2 4.4 .2 4.4 .2 4.4 .2 4.5 .3 4.5 .3 4.3 .2 4 .2 3.8 .2 4 .1 4.6 .1 5.6 .1 6.4 0 6.3 0 5.2-.1 3.8-.2 2.8-.3 2.5-.5 2.7-.6 2.9-.8 2.9-1 3-1.2 2.9-1.3 2.9-1.5 3-1.7 2.9-1.9 3-2 3-2.2 2.9-2.5 2.9-2.5 3-2.6 3-2.6 2.9-2.8 3-2.8 2.9-2.9 2.9-3.1 2.9-3.1 3-3.3 2.9-3.4 2.9-3.5 3-3.5 3-3.7 2.9-3.7 2.9-3.8 2.9-3.8 3-3.9 2.9-3.8 2.9-3.7 3-3.6 2.9-3.6 3-3.6 3-3.5 2.9-3.5 3-3.4 2.9-3.3 2.9-3.1 3-2.9 2.9-2.9 2.9-2.6 2.9-2.5 3-2.3 2.9-2.2 3-2 3-1.9 2.9-1.7 3-1.6 2.9-1.4 2.9-1.2 2.9-1.1 2.9-.9 3-.8 3.2-.6 3.4-.5 3.3-.4 3.1-.1 2.8 0 2.6 .2 2.5 .4 2.7 .6 2.8 .8 3 .9 2.9 1.1 3 1.2 2.9 1.3 3 1.4 3 1.5 2.9 1.6 2.9 1.7 2.9 1.9 3 2 2.9 2 2.9 2.1 3 2.2 2.9 2.3 3 2.3 3 2.4 2.9 2.4 2.9 2.5 3 2.6 3 2.7 3 2.8 3 2.7 2.8 2.6 2.5 2.3 2.2 2 2.2 2.1 2.5 2.3 2.8 2.6 2.9 2.9 3 2.9 3 2.9 2.9 2.8 3 2.8 3 2.8 2.9 2.7 2.9 2.7 2.9 2.7 3 2.6 2.9 2.6 2.9 2.5 3 2.4 2.9 2.3 3 2.2 3 2.1 2.9 1.9 2.9 1.9 3 1.8 3 1.7 2.9 1.7 3 1.6 2.9 1.4 2.9 1.3 2.9 1.3 3 1.1 2.9 1 2.9 .9 3 .8 3 .6 2.9 .5 2.9 .4 2.9 .2 3 .1 2.9 0 2.9 0 3-.2 2.9-.2 3-.3 3-.4 2.9-.6 3-.6 2.9-.7 2.9-.7 3-.8 2.9-.9 2.9-.9 2.9-.9 3-1 2.9-1 3-1.1 3-1.1 2.9-1.1 3-1.1 2.9-1.2 2.9-1.2 3-1.1 2.9-1.2 2.9-1.2 3-1.2 3.1-1.2 3-1.2 2.7-1.1 2.2-.9 1.8-.7 2-.8 2.5-.9 3.4-1.2 3.9-1.5 4-1.4 3.7-1.3 3.2-1.1 2.9-1 2.8-1 2.9-.9 2.9-.9 3-.9 2.9-.9 2.9-.8 2.9-.8 2.7-.7 3-.7 3.2-.7 4-.9 4.6-.9 4.2-.9 2.9-.6" fill="none" stroke="#6e7d0c" stroke-width="1.7"/>
<path d="M165.5 711.5l2-.9 2.9-1.4 3.5-1.5 3.7-1.5 4-1.5 4.5-1.6 4.7-1.6 4.5-1.3 4.5-1.1 4.5-.9 4.4-.8 4.2-.7 3.6-.6 3.2-.4 3.4-.4 3.9-.4 4.9-.4 5.5-.4 5.6-.4 5.2-.2 4.7-.1 4.4 0 4.3 0 4.3 .1 4.4 .2 4.4 .2 4.4 .3 4.4 .3 4.4 .4 4.4 .4 4.5 .5 4.4 .5 4.4 .5 4.4 .5 4.4 .5 4.4 .6 4.4 .6 4.5 .6 4.4 .6 4.4 .7 4.4 .8 4.4 .8 4.4 .9 4.4 1 4.4 1 4.5 1.1 4.4 1.1 4.4 1.1 4.4 1.2 4.4 1.1 4.4 1.3 4.4 1.3 4.4 1.4 4.4 1.5 4.5 1.5 4.4 1.6 4.4 1.7 4.4 1.7 4.4 1.9 4.4 1.8 4.4 1.9 4.5 1.9 4.4 2 4.4 1.9 4.4 2 4.4 1.9 4.4 2 4.4 1.9 4.4 1.9 4.4 1.9 4.5 1.7 4.4 1.6 4.4 1.4 4.4 1.2 4.4 1 4.4 .9 4.4 .7 4.5 .6 4.4 .5 4.4 .4 4.4 .3 4.4 .2 4.4 .1 4.4 .1 4.4 0 4.4 0 4.5 0 4.4 0 4.4 .1 4.4 .2 4.4 .2 4.4 .2 4.4 .2 4.5 .3 4.5 .3 4.3 .2 4 .2 3.8 .2 4 .1 4.6 .1 5.6 .1 6.4 0 6.3 0 5.2-.1 3.8-.2 2.8-.3 2.5-.5 2.7-.6 2.9-.8 2.9-1 3-1.2 2.9-1.3 2.9-1.5 3-1.7 2.9-1.9 3-2 3-2.2 2.9-2.5 2.9-2.5 3-2.6 3-2.6 2.9-2.8 3-2.8 2.9-2.9 2.9-3.1 2.9-3.1 3-3.3 2.9-3.4 2.9-3.5 3-3.5 3-3.7 2.9-3.7 2.9-3.8 2.9-3.8 3-3.9 2.9-3.8 2.9-3.7 3-3.6 2.9-3.6 3-3.6 3-3.5 2.9-3.5 3-3.4 2.9-3.3 2.9-3.1 3-2.9 2.9-2.9 2.9-2.6 2.9-2.5 3-2.3 2.9-2.2 3-2 3-1.9 2.9-1.7 3-1.6 2.9-1.4 2.9-1.2 2.9-1.1 2.9-.9 3-.8 3.2-.6 3.4-.5 3.3-.4 3.1-.1 2.8 0 2.6 .2 2.5 .4 2.7 .6 2.8 .8 3 .9 2.9 1.1 3 1.2 2.9 1.3 3 1.4 3 1.5 2.9 1.6 2.9 1.7 2.9 1.9 3 2 2.9 2 2.9 2.1 3 2.2 2.9 2.3 3 2.3 3 2.4 2.9 2.4 2.9 2.5 3 2.6 3 2.7 3 2.8 3 2.7 2.8 2.6 2.5 2.3 2.2 2 2.2 2.1 2.5 2.3 2.8 2.6 2.9 2.9 3 2.9 3 2.9 2.9 2.8 3 2.8 3 2.8 2.9 2.7 2.9 2.7 2.9 2.7 3 2.6 2.9 2.6 2.9 2.5 3 2.4 2.9 2.3 3 2.2 3 2.1 2.9 1.9 2.9 1.9 3 1.8 3 1.7 2.9 1.7 3 1.6 2.9 1.4 2.9 1.3 2.9 1.3 3 1.1 2.9 1 2.9 .9 3 .8 3 .6 2.9 .5 2.9 .4 2.9 .2 3 .1 2.9 0 2.9 0 3-.2 2.9-.2 3-.3 3-.4 2.9-.6 3-.6 2.9-.7 2.9-.7 3-.8 2.9-.9 2.9-.9 2.9-.9 3-1 2.9-1 3-1.1 3-1.1 2.9-1.1 3-1.1 2.9-1.2 2.9-1.2 3-1.1 2.9-1.2 2.9-1.2 3-1.2 3.1-1.2 3-1.2 2.7-1.1 2.2-.9 1.8-.7 2-.8 2.5-.9 3.4-1.2 3.9-1.5 4-1.4 3.7-1.3 3.2-1.1 2.9-1 2.8-1 2.9-.9 2.9-.9 3-.9 2.9-.9 2.9-.8 2.9-.8 2.7-.7 3-.7 3.2-.7 4-.9 4.6-.9 4.2-.9 2.9-.6" fill="none" stroke="#e01010" stroke-width="1.4" stroke-dasharray="4 29 7 47 3 71" stroke-dashoffset="17"/>
<path d="M165.5 711.5l2-.9 2.9-1.4 3.5-1.5 3.7-1.5 4-1.5 4.5-1.6 4.7-1.6 4.5-1.3 4.5-1.1 4.5-.9 4.4-.8 4.2-.7 3.6-.6 3.2-.4 3.4-.4 3.9-.4 4.9-.4 5.5-.4 5.6-.4 5.2-.2 4.7-.1 4.4 0 4.3 0 4.3 .1 4.4 .2 4.4 .2 4.4 .3 4.4 .3 4.4 .4 4.4 .4 4.5 .5 4.4 .5 4.4 .5 4.4 .5 4.4 .5 4.4 .6 4.4 .6 4.5 .6 4.4 .6 4.4 .7 4.4 .8 4.4 .8 4.4 .9 4.4 1 4.4 1 4.5 1.1 4.4 1.1 4.4 1.1 4.4 1.2 4.4 1.1 4.4 1.3 4.4 1.3 4.4 1.4 4.4 1.5 4.5 1.5 4.4 1.6 4.4 1.7 4.4 1.7 4.4 1.9 4.4 1.8 4.4 1.9 4.5 1.9 4.4 2 4.4 1.9 4.4 2 4.4 1.9 4.4 2 4.4 1.9 4.4 1.9 4.4 1.9 4.5 1.7 4.4 1.6 4.4 1.4 4.4 1.2 4.4 1 4.4 .9 4.4 .7 4.5 .6 4.4 .5 4.4 .4 4.4 .3 4.4 .2 4.4 .1 4.4 .1 4.4 0 4.4 0 4.5 0 4.4 0 4.4 .1 4.4 .2 4.4 .2 4.4 .2 4.4 .2 4.5 .3 4.5 .3 4.3 .2 4 .2 3.8 .2 4 .1 4.6 .1 5.6 .1 6.4 0 6.3 0 5.2-.1 3.8-.2 2.8-.3 2.5-.5 2.7-.6 2.9-.8 2.9-1 3-1.2 2.9-1.3 2.9-1.5 3-1.7 2.9-1.9 3-2 3-2.2 2.9-2.5 2.9-2.5 3-2.6 3-2.6 2.9-2.8 3-2.8 2.9-2.9 2.9-3.1 2.9-3.1 3-3.3 2.9-3.4 2.9-3.5 3-3.5 3-3.7 2.9-3.7 2.9-3.8 2.9-3.8 3-3.9 2.9-3.8 2.9-3.7 3-3.6 2.9-3.6 3-3.6 3-3.5 2.9-3.5 3-3.4 2.9-3.3 2.9-3.1 3-2.9 2.9-2.9 2.9-2.6 2.9-2.5 3-2.3 2.9-2.2 3-2 3-1.9 2.9-1.7 3-1.6 2.9-1.4 2.9-1.2 2.9-1.1 2.9-.9 3-.8 3.2-.6 3.4-.5 3.3-.4 3.1-.1 2.8 0 2.6 .2 2.5 .4 2.7 .6 2.8 .8 3 .9 2.9 1.1 3 1.2 2.9 1.3 3 1.4 3 1.5 2.9 1.6 2.9 1.7 2.9 1.9 3 2 2.9 2 2.9 2.1 3 2.2 2.9 2.3 3 2.3 3 2.4 2.9 2.4 2.9 2.5 3 2.6 3 2.7 3 2.8 3 2.7 2.8 2.6 2.5 2.3 2.2 2 2.2 2.1 2.5 2.3 2.8 2.6 2.9 2.9 3 2.9 3 2.9 2.9 2.8 3 2.8 3 2.8 2.9 2.7 2.9 2.7 2.9 2.7 3 2.6 2.9 2.6 2.9 2.5 3 2.4 2.9 2.3 3 2.2 3 2.1 2.9 1.9 2.9 1.9 3 1.8 3 1.7 2.9 1.7 3 1.6 2.9 1.4 2.9 1.3 2.9 1.3 3 1.1 2.9 1 2.9 .9 3 .8 3 .6 2.9 .5 2.9 .4 2.9 .2 3 .1 2.9 0 2.9 0 3-.2 2.9-.2 3-.3 3-.4 2.9-.6 3-.6 2.9-.7 2.9-.7 3-.8 2.9-.9 2.9-.9 2.9-.9 3-1 2.9-1 3-1.1 3-1.1 2.9-1.1 3-1.1 2.9-1.2 2.9-1.2 3-1.1 2.9-1.2 2.9-1.2 3-1.2 3.1-1.2 3-1.2 2.7-1.1 2.2-.9 1.8-.7 2-.8 2.5-.9 3.4-1.2 3.9-1.5 4-1.4 3.7-1.3 3.2-1.1 2.9-1 2.8-1 2.9-.9 2.9-.9 3-.9 2.9-.9 2.9-.8 2.9-.8 2.7-.7 3-.7 3.2-.7 4-.9 4.6-.9 4.2-.9 2.9-.6" fill="none" stroke="#00ee00" stroke-width="1.5" stroke-dasharray="6 41 3 67 5 19" stroke-dashoffset="3"/>
<path d="M252 693.5H280" stroke="#00ff00" stroke-width="1.6"/>
<rect x="225.9" y="601.5" width="1.2" height="10" fill="#262626"/>
<rect x="225.9" y="752.5" width="1.2" height="10" fill="#262626"/>
<rect x="513.9" y="601.5" width="1.2" height="10" fill="#262626"/>
<rect x="513.9" y="752.5" width="1.2" height="10" fill="#262626"/>
<rect x="800.9" y="601.5" width="1.2" height="10" fill="#262626"/>
<rect x="800.9" y="752.5" width="1.2" height="10" fill="#262626"/>
<rect x="1087.9" y="601.5" width="1.2" height="10" fill="#262626"/>
<rect x="1087.9" y="752.5" width="1.2" height="10" fill="#262626"/>
<rect x="165.5" y="681.4" width="10" height="1.2" fill="#262626"/>
<rect x="1144.5" y="681.4" width="10" height="1.2" fill="#262626"/>
<rect x="165.5" y="601.5" width="989" height="161.0" fill="none" stroke="#262626" stroke-width="1.2"/>
<g font-family="'DejaVu Sans', sans-serif" font-size="20.83" fill="#262626" text-anchor="end">
<text x="157.0" y="607.9">6</text>
<text x="157.0" y="689.6">4</text>
<text x="157.0" y="769.5">2</text>
</g>
<g font-family="'DejaVu Sans', sans-serif" font-weight="bold" font-size="18.75" fill="#262626" text-anchor="middle">
<text transform="translate(104.5 682) rotate(-90)">Total Field</text>
<text transform="translate(130.5 682) rotate(-90)">|B| (nT)</text>
</g>
<g font-family="'DejaVu Sans', sans-serif" fill="#262626"><text x="166.4" y="595.4" font-size="18.2" fill="#4a4a4a">×</text><text x="182.7" y="595" font-size="20.83">10<tspan font-size="16.5" dy="-8" dx="1.8">4</tspan></text></g>
<rect x="226.0" y="835.5" width="1" height="164.0" fill="#dfdfdf"/>
<rect x="514.0" y="835.5" width="1" height="164.0" fill="#dfdfdf"/>
<rect x="801.0" y="835.5" width="1" height="164.0" fill="#dfdfdf"/>
<rect x="1088.0" y="835.5" width="1" height="164.0" fill="#dfdfdf"/>
<rect x="165.5" y="890.0" width="989" height="1" fill="#dfdfdf"/>
<rect x="165.5" y="944.0" width="989" height="1" fill="#dfdfdf"/>
<path d="M165.3 886.7l1-.6 1-.3 1 .2 1 .7 1 1 1 1.4 1 1.4 1 1.5 1 1.3 1 1.1 1 .9 1 .7 1 .5 1 .4 1 .3 1 .3 1 .3 1 .2 1 .3 1 .3 1 .4 1 .6 1 .7 1 .9 1 1 1 1.1 1 1.1 1 1.1 1 1 1 .7 1 .5 1 .3 1 .2 1 .2 1 .2 1 .2 1 .4 1 .5 1 .6 1 .7 1 .6 1 .3 1 .1 1-.2 1-.4 1-.7 1-.9 1-1.1 1-1 1-1.1 1-1 1-1.1 1-1.2 1-1.2 1-1.2 1-1.3 1-1.3 1-1.1 1-1 1-.7 1-.4 1 0 1 .4 1 .6 1 .9 1 .9 1 1 1 .8 1 .7 1 .5 1 .3 1 .2 1-.1 1-.1 1-.2 1-.2 1-.3 1-.2 1-.1 1-.1 1 0 1 .1 1 .2 1 .2 1 .1" fill="none" stroke="#0000ff" stroke-width="4" stroke-linejoin="round"/>
<path d="M279.2 878.2l1-.8 1-.7 1-.4 1 0 1 .5 1 .8 1 1 1 .9 1 .8 1 .5 1 .4 1 .2 1 .2 1 .2 1 .2 1 .2 1 .1 1 .2 1 .2 1 .2 1 .2 1 .2 1 .1 1 .2 1 .2 1 .2 1 .2 1 .2 1 .1 1 0 1-.1 1-.2 1-.3 1-.4 1-.5 1-.6 1-.6 1-.6 1-.8 1-.9 1-1.2 1-1.3 1-1.5 1-1.7 1-1.8 1-1.8 1-1.7 1-1.4 1-1.3 1-1.2 1-.9 1-.8 1-.7 1-.6 1-.6 1-.4 1-.3 1-.1 1-.1 1 .1 1 .2 1 .1 1 .1 1 .1 1 .1 1 0 1-.1 1 0 1-.1 1-.1 1-.1 1-.1 1-.1 1-.1 1-.1 1-.1 1-.2 1-.1 1-.2 1-.1 1-.2 1-.2 1-.2 1-.2 1-.2 1-.1 1-.2 1-.2 1-.1 1-.2 1-.1 1-.1 1-.1 1-.1 1-.1 1-.1 1-.1 1-.1 1-.1 1-.1 1-.1 1-.2 1-.2 1-.2 1-.2 1-.3 1-.3 1-.4 1-.3 1-.4 1-.3 1-.3 1-.4 1-.4 1-.3 1-.3 1-.3 1-.3 1-.2 1-.1 1-.1 1 0 1 .1 1 .1 1 .1 1 .2 1 .2 1 .2 1 .2 1 .2 1 .2 1 .2 1 .4 1 .3 1 .5 1 .5 1 .6 1 .7 1 .7 1 .7 1 .8 1 .8 1 .9 1 .9 1 .9 1 .9 1 1 1 .9 1 .9 1 .8 1 .7 1 .6 1 .6 1 .4 1 .5 1 .3 1 .4 1 .4 1 .5 1 .4 1 .6 1 .5 1 .7 1 .7 1 .8 1 .8 1 .9 1 1 1 .9 1 1.1 1 1 1 .9 1 1 1 .8 1 .7 1 .6 1 .4 1 .4 1 .3 1 .2 1 .2 1 .1 1 .2 1 .3 1 .3 1 .4 1 .7 1 .8 1 1 1 1.2 1 1.4 1 1.4 1 1.6 1 1.4 1 1.4 1 1.3 1 1.1 1 .9 1 .8 1 .8 1 .8 1 .7 1 .8 1 .8 1 .9 1 .8 1 .9 1 .9 1 .9 1 .9 1 .9 1 1.1 1 .9 1 .9 1 .9 1 .8 1 .7 1 .5 1 .2 1 .1 1 0 1-.2 1-.2 1-.4 1-.4 1-.5 1-.4 1-.5 1-.4 1-.5 1-.5 1-.5 1-.4 1-.3 1-.2 1 0 1 0 1 .1 1 .2 1 .2 1 .2 1 .2 1 .1 1 .2 1 0 1 0 1 0 1-.1 1-.1 1-.2 1-.2 1-.2 1-.2 1-.2 1-.3 1-.3 1-.2 1-.3 1-.4 1-.3 1-.3 1-.4 1-.4 1-.4 1-.4 1-.4 1-.3 1-.4 1-.4 1-.3 1-.3 1-.2 1-.2 1-.2 1-.1 1-.1 1 0 1 0 1 0 1 0 1 .1 1 0 1 .1 1 0 1 .1 1 .1 1 0 1 .1 1 0 1 0 1 0 1 0 1 0 1-.1 1 0 1-.1 1-.1 1-.1 1-.1 1-.1 1-.1 1-.2 1-.1 1-.1 1-.2 1-.1 1-.2 1-.2 1-.2 1-.3 1-.3 1-.3 1-.4 1-.4 1-.4 1-.4 1-.4 1-.4 1-.4 1-.4 1-.4 1-.4 1-.4 1-.5 1-.4 1-.5 1-.5 1-.5 1-.6 1-.6 1-.8 1-.8 1-.8 1-1 1-1 1-1 1-1.1 1-1 1-1 1-1 1-1 1-.8 1-.8 1-.6 1-.4 1-.2 1 .1 1 .2 1 .3 1 .4 1 .4 1 .3 1 .2 1 0 1-.1 1-.3 1-.3 1-.5 1-.5 1-.5 1-.5 1-.6 1-.6 1-.5 1-.6 1-.6 1-.5 1-.6 1-.6 1-.5 1-.5 1-.6 1-.5 1-.6 1-.5 1-.5 1-.6 1-.5 1-.6 1-.4 1-.5 1-.4 1-.4 1-.4 1-.4 1-.5 1-.6 1-.9 1-1.1 1-1.4 1-1.3 1-1 1-.3 1 .7 1 1.4 1 1.6 1 1.6 1 1.3 1 1.2 1 .7 1 .3 1 0 1 0 1 0 1 0 1-.1 1-.3 1-.4 1-.5 1-.7 1-.9 1-.9 1-1.1 1-1 1-1 1-1.1 1-1.1 1-1.1 1-1.3 1-1.4 1-1.5 1-1.6 1-1.4 1-1.1 1-.7 1-.1 1 .4 1 1 1 1.6 1 1.8 1 2 1 1.9 1 1.9 1 1.7 1 1.6 1 1.5 1 1.3 1 1.2 1 1 1 .8 1 .7 1 .6 1 .4 1 .2 1 .3 1 .2 1 .3 1 .2 1 .3 1 .4 1 .3 1 .4 1 .5 1 .4 1 .5 1 .5 1 .5 1 .5 1 .5 1 .6 1 .5 1 .6 1 .6 1 .6 1 .6 1 .6 1 .6 1 .6 1 .6 1 .7 1 .6 1 .6 1 .7 1 .6 1 .6 1 .7 1 1 1 1.2 1 1.5 1 1.8 1 2.2 1 2.8 1 3.4 1 3.9 1 4.3 1 4.9 1 5.2 1 5.3 1 5 1 4.7 1 4.5 1 4.3 1 4.2 1 4.3 1 4.1 1 4.1 1 4 1 2.7 1 1.5 1 .2 1-1 1-3.1 1-5.4 1-7.7 1-9 1-10 1-11 1-11.1 1-10.1 1-9.1 1-7.5 1-5.2 1-3.1 1-1 1 .2 1 1.1 1 2.2 1 2.6 1 2.5 1 2.4 1 1.8 1 1.4 1 1 1 .5 1 .1 1-.4 1-.9 1-1 1-1.2 1-1.3 1-1.4 1-1.2 1-.9 1-.6 1-.2 1 .3 1 .7 1 1 1 1.1 1 1.1 1 1 1 .7 1 .6 1 .4 1 .2 1 .1 1 0 1 0 1 0 1 0 1 .1 1 .2 1 .3 1 .3 1 .4 1 .5 1 .5 1 .5 1 .5 1 .4 1 .4 1 .2 1 .2 1 0 1-.2 1-.3 1-.4 1-.4 1-.6 1-.5 1-.6 1-.5 1-.5 1-.4 1-.4 1-.4 1-.3 1-.3 1-.3 1-.4 1-.5 1-.5 1-.6 1-.7 1-.8 1-.8 1-.8 1-.9 1-.8 1-.9 1-.9 1-.9 1-.8 1-.7 1-.7 1-.7 1-.5 1-.5 1-.4 1-.3 1-.3 1-.2 1-.2 1-.1 1-.2 1-.1 1-.1 1-.1 1-.1 1-.1 1-.1 1-.1 1-.1 1-.1 1-.1 1-.2 1-.1 1 .1 1 .1 1 .2 1 .4 1 .6 1 .8 1 .9 1 1 1 1 1 1.2 1 1.1 1 1.2 1 1.1 1 1.1 1 .9 1 .9 1 .6 1 .6 1 .4 1 .2 1 .2 1 .2 1 .1 1 .3 1 .3 1 .5 1 .6 1 .7 1 .8 1 .9 1 .9 1 .8 1 .6 1 .4 1 0 1-.2 1-.6 1-.9 1-1.3 1-1.4 1-1.7 1-2 1-2.1 1-2.2 1-2.1 1-1.9 1-1.4 1-.9 1-.4 1 .2 1 .6 1 .9 1 1 1 1 1 .8 1 .7 1 .4 1 .2 1 .2 1 0 1 .1 1 .1 1 .1 1 .3 1 .4 1 .6 1 .6 1 .8 1 .8 1 .9 1 1 1 .8 1 .8 1 .7 1 .7 1 .5 1 .4 1 .3 1 .2 1 .1 1 .1 1 0 1 .1 1 .2 1 .3 1 .4 1 .5 1 .6 1 .5 1 .3 1 .1 1-.2 1-.5 1-.7 1-1.1 1-1.3 1-1.4 1-1.5 1-1.5 1-1.5 1-1.4 1-1.2 1-1 1-.7 1-.4 1-.2 1 0 1 .3 1 .3 1 .4 1 .4 1 .4 1 .3 1 .3 1 .2 1 .2 1 .1 1 .1 1 0 1 .1 1 .1 1 .1 1 .2 1 .1 1 .2 1 .1 1 .1 1 .1 1 .1 1 0 1-.1 1-.2 1-.2 1-.2 1-.3 1-.2 1-.3 1-.3 1-.2 1-.3 1-.2 1-.2 1-.1 1-.1 1-.1 1-.1 1-.1 1 0 1 0 1 0 1 .1 1 .2 1 .1 1 .2 1 .2 1 .2 1 .2 1 .2 1 .2 1 .2 1 .2 1 .2 1 .2 1 .3 1 .3 1 .3 1 .3 1 .4 1 .3 1 .3 1 .4 1 .3 1 .4 1 .3 1 .3 1 .4 1 .3 1 .3 1 .4 1 .3 1 .3 1 .3 1 .3 1 .4 1 .3 1 .3 1 .4 1 .3 1 .4 1 .3 1 .3 1 .4 1 .4 1 .4 1 .4 1 .6 1 .5 1 .7 1 .6 1 .6 1 .7 1 .8 1 .7 1 .7 1 .6 1 .6 1 .6 1 .5 1 .5 1 .6 1 .6 1 .8 1 .9 1 1 1 1 1 1.1 1 1 1 1 1 .9 1 .9 1 .8 1 .8 1 .6 1 .5 1 .4 1 .1 1-.1 1-.3 1-.5 1-.6 1-.6 1-.7 1-.6 1-.7 1-.5 1-.5 1-.3 1-.1 1 .1 1 .3 1 .5 1 .7 1 .8 1 .9 1 .9 1 .8 1 .7 1 .6 1 .4 1 .3 1 .1 1 0 1-.1 1-.2 1-.3 1-.4 1-.2 1-.2" fill="none" stroke="#0000ff" stroke-width="4" stroke-linejoin="round"/>
<rect x="1153.6" y="895" width="2.2" height="24" fill="#0000ff"/><path d="M247.5 903v4M249.5 902v4" stroke="#0000ff" stroke-width=".8"/>
<path d="M165.3 889.3l.5-1 .5-.3 .5 1.9 .5 0 .5-2.7 .5 3.2 .5 .2 .5-2.8 .5 1.7 .5 1.1 .5-.3 .5-.4 .5 1.5 .5 .5 .5-1.8 .5 .7 .5 .7 .5-.9 .5 1.2 .5-1.4 .5 2.8 .5-.8 .5 .3 .5 .5 .5-.6 .5 1.1 .5-1.6 .5-.1 .5 2.3 .5-.7 .5 .6 .5 .5 .5-2.2 .5 1.7 .5 .7 .5-1.2 .5 1.4 .5-2 .5 2.2 .5 .3 .5-.1 .5-.2 .5-.1 .5-1.3 .5 .8 .5 1.1 .5 .7 .5 0 .5-2.1 .5 2 .5-.4 .5 1.8 .5 .4 .5-1.8 .5 1.2 .5 1.1 .5 .3 .5 .7 .5 .2 .5 .5 .5-1.8 .5 1.6 .5 1 .5-1.3 .5 1.9 .5 .5 .5-1 .5-.8 .5 2.8 .5-1.7 .5 2.3 .5 .5 .5 .5 .5 0 .5-.9 .5 1.2 .5-.9 .5 2.5 .5 .2 .5 .5 .5-2 .5 .6 .5 2.5 .5 .1 .5 .7 .5-1.3 .5 1.9 .5-.3 .5-1 .5-.1 .5-2.3 .5-.1 .5 .2 .5-.8 .5-.6 .5-.7 .5-1 .5 1.8 .5-1.7 .5 .7 .5-1.1 .5-1.5 .5-.8 .5 .2 .5 1.3 .5-.9 .5 .1 .5-2.7 .5 2.2 .5-.5 .5-.5 .5 .2 .5-2.3 .5 .5 .5 .9 .5-1.1 .5 .6 .5-1.5 .5 .8 .5 .1 .5-.1 .5-.9 .5-.1 .5 .9 .5-.7 .5 .9 .5 .6 .5-.2 .5-.1 .5-1.5 .5 2.3 .5 .2 .5-.9 .5-1.2 .5 .3 .5 .9 .5 1.5 .5-1.7 .5 .4 .5 1.2 .5-.8 .5 .7 .5-2 .5 .1 .5-.4 .5 0 .5 1.2 .5-1.6 .5 1.3 .5 .1 .5-.7 .5-.4 .5 .4 .5-1 .5-.2 .5 .8 .5-1.1 .5 .6 .5-1.2 .5 1.2 .5-1.5 .5 1.3 .5-.3 .5-.2 .5 .6 .5 .7 .5-2 .5 2.5 .5-.3 .5-.5 0 6.5-.5 .4-.5 .5-.5-.9-.5 1.7-.5-.9-.5-.5-.5-.3-.5-1.2-.5 .5-.5-.1-.5 .2-.5-.6-.5 1.3-.5-.8-.5 .6-.5 1.7-.5-.9-.5-.5-.5 .3-.5-.3-.5 0-.5 .4-.5 1.1-.5-1.1-.5 .2-.5 1.9-.5-.9-.5 1.5-.5-.9-.5 .3-.5-1.1-.5 .1-.5 1.2-.5-.9-.5 0-.5 .7-.5-.9-.5-.9-.5 .2-.5 1.4-.5-2-.5 .5-.5-.1-.5 .2-.5-.3-.5 .9-.5 .3-.5-.2-.5-.1-.5-1.2-.5 .3-.5-.3-.5-.3-.5 .4-.5 .8-.5 .8-.5-.7-.5 .6-.5 .7-.5 1.7-.5-1.9-.5 1-.5-.4-.5 2.5-.5-1.3-.5 .5-.5 1-.5-.5-.5 1.6-.5-.7-.5 .3-.5 .9-.5 1.4-.5 .3-.5 1.8-.5 .2-.5 .6-.5-1.8-.5 1.3-.5 2.1-.5 .1-.5 0-.5-1.3-.5 1.3-.5-1.3-.5 .2-.5 .8-.5-1.5-.5 1.4-.5-.6-.5-2.2-.5 1.5-.5-.6-.5-1.9-.5-1.3-.5-.4-.5 .9-.5 .1-.5-1.6-.5-.8-.5-.7-.5-.3-.5 .6-.5-.8-.5-.8-.5-.5-.5 2.3-.5-1.3-.5-1.4-.5-.2-.5 .6-.5 .1-.5-2.3-.5-.2-.5 .3-.5 .1-.5-1.7-.5 .1-.5-.9-.5 .5-.5 1.3-.5-2.8-.5 2.2-.5-1.8-.5-.8-.5-.1-.5 .1-.5 1.8-.5-1.2-.5-1-.5 .8-.5 0-.5-.4-.5 .5-.5-1.3-.5 2-.5-1.5-.5 0-.5 .4-.5-1.4-.5 .5-.5 1.6-.5-2.3-.5 2.2-.5-1.5-.5 1-.5-.4-.5 .3-.5-1.1-.5-1.2-.5 1.1-.5-.5-.5 1.1-.5-1-.5 .6-.5-.3-.5 .7-.5-2.6-.5 .5-.5 1.2-.5-1.6-.5 .9-.5-1.3-.5 1.6-.5 .6-.5-1.3-.5 .5-.5 0-.5-2.5-.5-.2Z" fill="#00ff00" stroke="#00ff00" stroke-width="0.6" stroke-linejoin="round"/>
<path d="M165.3 893.1l1 .2 1 .3 1 .4 1 .3 1 .3 1 .4 1 .3 1 .3 1 .3 1 .3 1 .3 1 .2 1 .2 1 .2 1 .2 1 .2 1 .2 1 .2 1 .2 1 .2 1 .2 1 .2 1 .2 1 .4 1 .5 1 .7 1 .7 1 .6 1 .7 1 .7 1 .7 1 .6 1 .7 1 .7 1 .7 1 .9 1 .8 1 .8 1 .9 1 .8 1 .9 1 .8 1 .5 1-.3 1-.9 1-1 1-1 1-.9 1-1 1-1 1-.9 1-.9 1-.7 1-.5 1-.6 1-.6 1-.5 1-.6 1-.6 1-.3 1 0 1 .3 1 .2 1 .3 1 .3 1 .2 1 .3 1 .2 1 .2 1-.1 1-.2 1-.3 1-.3 1-.3 1-.3 1-.3 1-.3 1-.3 1-.3 1-.2 1 .1 1 .3 1 .2 1 .3 1 .1" fill="none" stroke="#00ff00" stroke-width="4.2" stroke-linejoin="round"/>
<path d="M279.2 873.6l.5 .8 .5-.8 .5 .7 .5-.3 .5 2.7 .5 .3 .5-.2 .5-.4 .5-.9 .5 1 .5-.1 .5-.8 .5 2 .5-1.5 .5 1.8 .5-.3 .5-1.3 .5 .3 .5 1 .5 .4 .5-1.6 .5 1.8 .5 .5 .5-.2 .5 .4 .5-1.8 .5 1.9 .5-2.3 .5 2.4 .5-.1 .5-.7 .5 .8 .5 0 .5 .6 .5-.5 .5 .7 .5-.1 .5-1.9 .5 1.9 .5 .2 .5-1 .5-.6 .5 1.8 .5-.1 .5-.9 .5-.1 .5 .6 .5 1.2 .5 0 .5-1.4 .5 .3 .5-.6 .5 .5 .5 1.2 .5 .7 .5-2 .5 .8 .5 .5 .5-.3 .5 .9 .5 .2 .5-.6 .5 .2 .5-.8 .5-1 .5 .1 .5 1.1 .5-.3 .5-2 .5 1.4 .5-1.5 .5 1.5 .5-1 .5-.5 .5-1.2 .5-.5 .5 1.7 .5-1.4 .5-.3 .5 .8 .5-2.3 .5 .3 .5-2.1 .5 1.3 .5-1.7 .5-.4 .5-1.9 .5-.8 .5-.7 .5-.4 .5-1.4 .5-.6 .5-2.7 .5 .6 .5-1 .5-.4 .5-.7 .5-3.1 .5 1.7 .5-2.3 .5 .7 .5-1.9 .5 2.3 .5-2.9 .5 .3 .5 .4 .5-.9 .5-.4 .5 .6 .5-1 .5 .9 .5 .1 .5-2.1 .5 .6 .5-1.9 .5 2.4 .5-2.1 .5-.8 .5 .4 .5-.3 .5 3.2 .5 0 .5-.1 .5-.4 .5 .7 .5 0 .5 .3 .5-3.6 .5 2.7 .5-1.1 .5 .9 .5-1.3 .5-.2 .5 1.9 .5-.6 .5 1.4 .5-.4 .5 .2 .5-.2 .5-.1 .5-.7 .5 .8 .5 0 .5-1.7 .5 2.4 .5 0 .5 0 .5-2.2 .5 .9 .5-.3 .5-.7 .5 2.1 .5-1.8 .5 1.8 .5-.5 .5-.4 .5-.4 .5 1.2 .5-.5 .5 .6 .5-.4 .5-1.9 .5 .1 .5 .8 .5-.6 .5-.5 .5 1.4 .5-1.8 .5 1.3 .5 .5 .5-.9 .5-.2 .5-.4 .5 0 .5 1.1 .5-1.2 .5-1 .5 .7 .5-1 .5 1.2 .5-.9 .5 1.4 .5-1.9 .5 1.2 .5-1.3 .5 1.3 .5-.8 .5-.8 .5 .3 .5 0 .5-1.2 .5 1.9 .5-.2 .5-1.1 .5-1.4 .5 .7 .5 .7 .5 .1 .5-.8 .5-.3 .5-.2 .5-.6 .5 .7 .5-1.9 .5 1.4 .5 .1 .5-.6 .5-1.9 .5 1.9 .5-.4 .5-2.1 .5 1.5 .5-1.6 .5 1.8 .5-2.3 .5 1.8 .5 0 .5-1.6 .5-.9 .5 0 .5 .7 .5-.7 .5-.3 .5 1.4 .5 .9 .5-2 .5 1.4 .5 .1 .5-.6 .5 .9 .5 0 .5-.5 .5-.9 .5-.7 .5-.8 .5 .4 .5-.5 .5 1.1 .5-.5 .5 .5 .5 1.2 .5 .1 .5-1.9 .5 1.8 .5-1.6 .5 1.2 .5 1 .5-1.1 .5 .5 .5 .9 .5-.2 .5 0 .5 0 .5-.9 .5 1.5 .5-.5 .5-.3 .5-1.1 .5 2.5 .5 .1 .5 0 .5 0 .5 .3 .5 .2 .5-.1 .5 .1 .5-.4 .5-.3 .5 1 .5 .6 .5 .4 .5 0 .5 .5 .5-.4 .5-.9 .5 .8 .5 1.6 .5 .5 .5 .3 .5-.4 .5 .5 .5-.6 .5 1.7 .5 0 .5-.8 .5 .7 .5 .4 .5-.9 .5 2.4 .5 .1 .5-.5 .5 .3 .5-1.1 .5 .3 .5 1.6 .5-.2 .5 .6 .5 1.7 .5-.7 .5 1.1 .5 .2 .5 .7 .5 .6 .5-1.7 .5 .8 .5 .2 .5 1.7 .5 0 .5 .9 .5-.7 .5-.4 .5 .5 .5-.2 .5 2.4 .5-.9 .5 1.8 .5-.6 .5 1.3 .5-.6 .5 .4 .5 .8 .5 .4 .5-.7 .5 1.1 .5 .5 .5 .9 .5 .1 .5-1.3 .5-.1 .5 2.2 .5-1.1 .5 .3 .5 2.2 .5 .2 .5-.7 .5 1.4 .5-1.6 .5 2.1 .5-.6 .5 .4 .5 1.6 .5-1.5 .5 2 .5 .7 .5 .4 .5-.4 .5-.2 .5 1.3 .5-1.4 .5 1.9 .5-1.5 .5 2.3 .5-.1 .5 .4 .5-.4 .5 .4 .5 .1 .5-1.3 .5 1.2 .5 .1 .5 .9 .5-1.2 .5 1.3 .5-.6 .5-.5 .5 1.4 .5 .8 .5 .7 .5-2.1 .5 .8 .5 .1 .5 2.1 .5-.3 .5-1.5 .5 2.7 .5-1.6 .5 1.7 .5 1.5 .5 .2 .5 1.3 .5-1.1 .5 .3 .5 2.7 .5 0 .5-1.1 .5 2.6 .5-.4 .5-.5 .5 1.6 .5 1.8 .5-2.1 .5 1.3 .5 1.4 .5 1.3 .5-.2 .5 1.3 .5 1.2 .5 .6 .5 .7 .5 .4 .5 .4 .5-.7 .5 .7 .5 .4 .5-.6 .5 2.9 .5-.3 .5 1.1 .5-.4 .5 1.3 .5 .5 .5 .4 .5-.3 .5-1.1 .5 2.3 .5-1.3 .5 2.3 .5 .2 .5-.1 .5 1.5 .5-.6 .5-.1 .5-.6 .5 3.1 .5-2.1 .5 1.4 .5 .7 .5 2.2 .5-1.5 .5 2.7 .5-.2 .5 .2 .5-1.2 .5 1.5 .5-1.3 .5 2.9 .5-1.1 .5 .6 .5 .4 .5-.3 .5 .3 .5 .5 .5-1 .5 1.2 .5-1 .5-.1 .5 .4 .5-1.1 .5-.5 .5 1.2 .5-.5 .5 .2 .5-1.3 .5 .9 .5-.4 .5-.7 .5-.2 .5 .5 .5-2.5 .5 1.8 .5-1.1 .5 .6 .5-1 .5 .4 .5-.2 .5-.6 .5-.5 .5-.2 .5-.3 .5 .9 .5 .2 .5-.2 .5 0 .5-.5 .5 .5 .5 .3 .5 .4 .5-.8 .5 1 .5-.6 .5-.3 .5 .2 .5 1.1 .5-.3 .5-1.4 .5 2 .5-1 .5 .7 .5-.4 .5 .6 .5 .5 .5-.8 .5 .9 .5-1.8 .5 .2 .5 1 .5-.4 .5-.1 .5-1.2 .5 2 .5-.4 .5-.3 .5-.9 .5 .1 .5 .7 .5 .5 .5-1.1 .5 .5 .5 .4 .5-1 .5 .4 .5 .2 .5 0 .5-.5 .5 .4 .5-.3 .5-1.3 .5 1.1 .5 .3 .5-.5 .5-1 .5 .1 .5 .4 .5-.6 .5 .4 .5 .1 .5 .5 .5 .3 .5-1.1 .5 .2 .5-.9 .5 1.3 .5-1.3 .5 1.2 .5-1.5 .5-.2 .5 1.6 .5-.4 .5-1.5 .5 0 .5 .6 .5 .8 .5 0 .5-.3 .5-1.5 .5 .3 .5 .7 .5-.8 .5-.4 .5 1.1 .5-1.2 .5 1.1 .5-.2 .5 .2 .5-.1 .5-.7 .5 .6 .5-.8 .5 .5 .5-1.1 .5 1 .5-.2 .5-.2 .5-.6 .5-.5 .5 0 .5 0 .5 0 .5 .2 .5 .2 .5 .1 .5-1.2 .5 .8 .5-.5 .5 .7 .5-.3 .5 .2 .5-.4 .5-.7 .5 .6 .5-.6 .5 .7 .5-.4 .5-.1 .5-.2 .5 .3 .5-.8 .5-.4 .5 .1 .5 1 .5-.6 .5 .2 .5-.4 .5 .5 .5-1 .5 .5 .5-1.1 .5 1.4 .5-.5 .5-.2 .5-.7 .5 .1 .5 .8 .5-.2 .5-.8 .5 .5 .5 .2 .5-1.3 .5 .2 .5 .7 .5-.3 .5-.8 .5 1.1 .5-1.2 .5 0 .5 .2 .5 0 .5-.1 .5 .2 .5-.3 .5 .4 .5-.7 .5-.4 .5 .1 .5-.5 .5 .2 .5-.8 .5-.1 .5 .7 .5-1.2 .5 .6 .5 0 .5-.2 .5-.5 .5-.4 .5 0 .5 0 .5-1.1 .5 .5 .5-1.1 .5 .8 .5-.8 .5 .3 .5-1 .5 .2 .5-.3 .5 .6 .5-1.1 .5 .4 .5-.8 .5-.4 .5 .9 .5-.2 .5-1.1 .5-.7 .5 0 .5 .6 .5-.9 .5 .9 .5-.2 .5-.8 .5-.2 .5-.7 .5 .7 .5-.5 .5-1.2 .5 1 .5-.4 .5-.5 .5-1 .5 1.1 .5-.9 .5 .2 .5-.2 .5 0 .5-.5 .5-.4 .5 0 .5-.3 .5-.5 .5-.6 .5 .3 .5 .1 .5-1.4 .5 1.2 .5-.1 .5-1.6 .5 .9 .5-.1 .5-.5 .5-.1 .5-.3 .5-1.1 .5 .8 .5-.1 .5-.3 .5-1.5 .5 .8 .5-.2 .5-1 .5-.6 .5 .6 .5-.9 .5 .7 .5-.4 .5-.7 .5 .3 .5-.4 .5-.2 .5-.3 .5-1.3 .5-.2 .5 .8 .5-.6 .5-.9 .5-.6 .5 .3 .5-.6 .5 .5 .5-1.2 .5-.4 .5 .5 .5 0 .5-.1 .5-1.1 .5-.3 .5 .5 .5-.9 .5-1.1 .5 1.2 .5-.4 .5-.2 .5-.7 .5-.3 .5-1.2 .5 1 .5-.4 .5-1.5 .5 1.1 .5-.4 .5-.5 .5 .1 .5-.5 .5-.8 .5-.2 .5-.3 .5-.4 .5-.2 .5 .5 .5-1.1 .5-.1 .5 .3 .5-.6 .5 0 .5-1.4 .5 .8 .5-.1 .5-1.3 .5-.2 .5-.5 .5 .1 .5 .2 .5-.3 .5-.3 .5-.3 .5-.9 .5 1.1 .5-1 .5 .9 .5-.3 .5-1.6 .5 1.2 .5-.6 .5-1 .5 .4 .5 .2 .5-.6 .5-.8 .5-.1 .5 1.3 .5-.1 .5-.4 .5 0 .5-1.2 .5-.3 .5 1.1 .5-.1 .5-.5 .5-.8 .5 0 .5 .9 .5-.3 .5-.8 .5 .3 .5 2.8 .5-1.7 .5-.1 .5-.7 .5 2.2 .5 .7 .5-1 .5 .4 .5-.1 .5-1.8 .5 .7 .5-.2 .5 .1 .5 1.8 .5 .2 .5-1 .5-2.1 .5 1 .5-.7 .5 .8 .5-.9 .5-1.4 .5 1.3 .5-1.1 .5-1.1 .5 .8 .5-.8 .5 2.3 .5-.4 .5-3.9 .5 2.5 .5-.7 .5 0 .5-2.2 .5 1.4 .5-3.1 .5 1.6 .5-2.2 .5-1.3 .5 .7 .5 .7 .5-1.1 .5-1.4 .5 .3 .5 1.2 .5 0 .5-3 .5 .7 .5 1 .5-1.5 .5-.5 .5 .4 .5-2.2 .5 1.6 .5-.2 .5-.5 .5 0 .5-1.5 .5 1.2 .5 1.9 .5 .1 .5 1.1 .5-.9 .5 .1 .5 2.7 .5-.3 .5 1.3 .5 .5 .5-.9 .5-.3 .5 3 .5-.2 .5 1.2 .5 1 .5-.8 .5 1.8 .5-1 .5 .3 .5 2.4 .5-.7 .5 1.7 .5-1.3 .5 2.2 .5-.8 .5 .7 .5 .7 .5 1.4 .5-2 .5 2 .5-1.4 .5 1.3 .5 .2 .5-.9 .5 1.5 .5-1.4 .5 1.3 .5-1 .5 .3 .5-1 .5 2.3 .5 .3 .5-2.4 .5 2.1 .5 .5 .5-.9 .5 1.6 .5-2.5 .5 1.1 .5 .6 .5 1.4 .5-1.8 .5-.4 .5 .8 .5-.5 .5 3.3 .5-2.1 .5-.5 .5 2 .5 1.4 .5-1.3 .5 1.3 .5 .7 .5-3.5 .5 .7 .5 1.3 .5-.5 .5 .6 .5 1.2 .5 1.4 .5-.1 .5-.5 .5 0 .5 1.6 .5 .8 .5-.2 .5 .8 .5-2.9 .5 3.6 .5-.2 .5-.2 .5 1.4 .5-.5 .5 .2 .5 1.8 .5-2.9 .5 2.3 .5 1.6 .5-2.8 .5 3.5 .5-1.5 .5 1.3 .5 1.1 .5 .1 .5 0 .5 .8 .5 .7 .5-.1 .5 .4 .5-.6 .5 2 .5 .7 .5-2 .5 3.2 .5-.7 .5 1.5 .5-.5 .5 4.4 .5-1 .5 4.1 .5 1.4 .5 0 .5 3 .5 .4 .5 1.4 .5 3.6 .5 0 .5 3.6 .5 .2 .5 5.3 .5 2.2 .5 .8 .5 3.4 .5 2 .5 .5 .5 4.4 .5 2.9 .5 2.4 .5 1.5 .5 1.8 .5 2.7 .5 3.4 .5 3.1 .5 2.8 .5 2.3 .5 2.3 .5 .2 .5 3.6 .5 2.5 .5 .6 .5 2.3 .5 2.5 .5-.5 .5 1.9 .5 3.6 .5-.2 .5 1.4 .5-1 .5-1.2 .5-2.4 .5-1.6 .5-1.8 .5-3.8 .5-1.9 .5-3.7 .5-5.3 .5-5.1 .5-6.9 .5-4.6 .5-6.8 .5-5.2 .5-6.1 .5-6.3 .5-6.1 .5-6.3 .5-4.9 .5-6.4 .5-2.5 .5-3.1 .5-3.9 .5-2.1 .5-2.4 .5-2.1 .5-.3 .5 .9 .5-1.1 .5 3.6 .5-.5 .5 2.8 .5 1.6 .5 1.1 .5 1.4 .5-.1 .5 1.4 .5 1.3 .5 2.5 .5 .7 .5 1.8 .5-.5 .5 2.8 .5 .4 .5 1.2 .5-1.3 .5 0 .5 1.8 .5-1.8 .5 1.7 .5-1.5 .5 1 .5-.6 .5-.6 .5 .5 .5 .2 .5-1.1 .5-.8 .5-1 .5 2 .5 0 .5 .2 .5-.3 .5 .1 .5-.4 .5-1.4 .5 1.6 .5-1.5 .5 1 .5 .1 .5-.7 .5 0 .5-.1 .5 .8 .5-1.3 .5-1.5 .5 2.8 .5-.2 .5-1.5 .5 .9 .5 .1 .5-3.2 .5 2.9 .5-2.6 .5 1.5 .5 1.6 .5-.5 .5 .4 .5-1.3 .5-1.6 .5 2.9 .5 0 .5-.1 .5-.4 .5 .2 .5-2.9 .5 .9 .5-.7 .5 1.4 .5-.9 .5 .4 .5 1.3 .5-1 .5 1.1 .5-.4 .5-1.1 .5 1.9 .5 .2 .5-1.9 .5 1.4 .5 .7 .5-.2 .5 .1 .5-1.7 .5 1.5 .5-1.3 .5 1.4 .5-1.3 .5 .2 .5 1.2 .5-.6 .5 1.4 .5 .3 .5-.9 .5 1.1 .5-.6 .5-.2 .5-.3 .5-.3 .5 1.6 .5-1.3 .5 1 .5-.2 .5 .4 .5-.8 .5 1.1 .5 .2 .5-1.4 .5 .3 .5-.3 .5 1 .5-.2 .5-.8 .5-.4 .5 .1 .5 .1 .5-.2 .5 .7 .5-.5 .5 .1 .5-.8 .5 .3 .5-.5 .5 0 .5-.6 .5 .1 .5 1.2 .5-1 .5 .4 .5 .2 .5-.6 .5-.9 .5-.1 .5 .8 .5-.3 .5-1.1 .5-.9 .5 1.2 .5-.2 .5-1.3 .5-.1 .5-.7 .5 .8 .5-.7 .5-.9 .5 .5 .5-.3 .5 .2 .5-1.5 .5 .4 .5-.2 .5-.8 .5-.7 .5-.3 .5 .8 .5-.8 .5 .1 .5-1.2 .5-.2 .5 0 .5-.7 .5 .5 .5-.5 .5 .5 .5-1.4 .5 .6 .5-.9 .5 .6 .5-.8 .5-.8 .5-.3 .5-.2 .5 .4 .5-1.2 .5-.3 .5-.1 .5 .2 .5 .1 .5-1.1 .5 .7 .5-2.5 .5 1.4 .5-.2 .5-.6 .5 .5 .5-2.3 .5-.5 .5 .4 .5 .7 .5-1.4 .5 1.8 .5-.5 .5 .6 .5-.7 .5-1.8 .5 .8 .5 .2 .5-.1 .5-.4 .5-.1 .5 .4 .5-.3 .5 .8 .5-.9 .5-.9 .5 1.2 .5-.2 .5-1.8 .5 1.9 .5 0 .5-1.8 .5 2.2 .5-.2 .5-1.8 .5 1.8 .5-1.1 .5 .3 .5 2.1 .5-.1 .5-2 .5 2.1 .5-.1 .5-1.6 .5 2.5 .5-2.3 .5 1.4 .5 .2 .5 1.5 .5-1.2 .5-.4 .5 1.4 .5 .8 .5 .3 .5 .4 .5-.1 .5-.7 .5 2.3 .5-.1 .5 .6 .5 .5 .5 .2 .5 .5 .5 1.3 .5-1 .5 1.3 .5 .9 .5-1.2 .5 1.4 .5 1.7 .5-1.5 .5 1.7 .5 1.1 .5 .7 .5 .7 .5 .3 .5 .5 .5 .4 .5-1.2 .5 1.7 .5 1.3 .5 .3 .5 .4 .5 1.1 .5-.2 .5 .5 .5-.6 .5 1.8 .5-.1 .5 .6 .5 1.6 .5-.3 .5 .6 .5 .7 .5 .1 .5-2.4 .5 1.7 .5-2.1 .5 .9 .5 .1 .5-2.4 .5 .5 .5 .2 .5-1.5 .5 0 .5 .3 .5-1.1 .5-.5 .5 .9 .5-1.6 .5-.9 .5 .2 .5-.7 .5-1.1 .5 .1 .5 .4 .5-.7 .5-1.1 .5-.1 .5 .9 .5-.5 .5-.8 .5-2.2 .5 1.4 .5-.7 .5-2.2 .5 1.7 .5-.7 .5-.2 .5 .2 .5-2.2 .5 1.4 .5-.3 .5 .1 .5 .5 .5-2.6 .5 2.3 .5-.4 .5-1.6 .5 1.3 .5-.6 .5 .4 .5-.8 .5 .7 .5-.5 .5 .9 .5-.1 .5-1.3 .5-1.3 .5-.9 .5 1 .5 1.1 .5-.4 .5 0 .5-.2 .5-1.1 .5 2.5 .5-.2 .5-1.2 .5 1.9 .5 .3 .5-2.6 .5 2.7 .5-2.5 .5-.1 .5 2.6 .5-1.8 .5 1.6 .5 .1 .5-2.5 .5 .5 .5 .5 .5 1.2 .5-2 .5 1.7 .5-1.4 .5 1.3 .5 2.1 .5-1.6 .5 .4 .5 .3 .5 1.4 .5 1.8 .5-1.7 .5 2 .5 .9 .5 .5 .5 .5 .5-1.3 .5 2.4 .5-1.7 .5 2.7 .5-1.1 .5 1.8 .5-.1 .5 1.2 .5-1.4 .5 2.5 .5-.1 .5 .1 .5 .9 .5 1 .5 .4 .5-1.2 .5 2.5 .5 .5 .5-1.6 .5 .1 .5 .6 .5 .3 .5-1.6 .5 1.1 .5 .2 .5-.9 .5-.5 .5-.4 .5-1.2 .5 1.4 .5-1.9 .5 .5 .5-.8 .5 .4 .5-.1 .5-.4 .5-.2 .5-.6 .5-.6 .5-.8 .5 .9 .5-.7 .5-.5 .5-.9 .5 0 .5-.1 .5-.4 .5 .1 .5-1 .5-.4 .5 .3 .5 .3 .5-.7 .5 0 .5-.2 .5-.5 .5-1.1 .5 .6 .5-.3 .5 0 .5 .1 .5-.6 .5 .2 .5-1.1 .5 .6 .5-.9 .5 .2 .5 .7 .5 .4 .5-.2 .5 0 .5-1 .5 .8 .5-.8 .5 .5 .5-.4 .5-.6 .5 .8 .5 0 .5-.2 .5-1.3 .5 .7 .5 .4 .5 .1 .5 0 .5-.3 .5-.5 .5 .2 .5-.7 .5-.4 .5 .9 .5 .3 .5-.8 .5 1.1 .5-1.1 .5-.3 .5 .2 .5 1.1 .5-.7 .5-.5 .5 .7 .5-.8 .5 1.1 .5-.5 .5-.1 .5-.5 .5 .7 .5 .2 .5-.8 .5 .9 .5-.3 .5-.2 .5-.6 .5 .7 .5-.2 .5-.2 .5 0 .5-.6 .5 1 .5-.2 .5 .7 .5-.1 .5-.1 .5 .1 .5-.4 .5 .4 .5-.5 .5-.5 .5 1.1 .5-.1 .5-.4 .5 .6 .5-.1 .5-.6 .5 .3 .5-.9 .5 .7 .5-.3 .5 .7 .5 .1 .5-.7 .5 .5 .5-.5 .5 1.2 .5 .2 .5-.6 .5 .8 .5 .2 .5-.3 .5-.3 .5 .6 .5-.6 .5 .7 .5 .3 .5-.3 .5 0 .5 .7 .5-.5 .5 .7 .5-1.2 .5 .9 .5 .6 .5 .2 .5 0 .5 0 .5-.2 .5 0 .5 .1 .5 .6 .5-.1 .5 .3 .5 .5 .5 .2 .5 0 .5-.3 .5 .9 .5-.5 .5 .9 .5 .1 .5-.5 .5-.1 .5 .2 .5 .4 .5 .8 .5-1.1 .5 .9 .5-.4 .5 .1 .5 1.3 .5-1 .5 1.5 .5-.5 .5 .7 .5 .3 .5-.4 .5 .6 .5-.7 .5 .7 .5 .4 .5 .4 .5-.7 .5 .3 .5-.2 .5 .9 .5-.8 .5 1.5 .5-1.2 .5 .5 .5 1.1 .5-1.2 .5 1.5 .5-.7 .5 .9 .5-.5 .5-.1 .5 1.2 .5-.1 .5-.8 .5 .8 .5 .5 .5 0 .5 .1 .5 0 .5-.2 .5-.7 .5 .6 .5 .5 .5-.3 .5-.1 .5 .1 .5-.3 .5-.1 .5-.1 .5 .5 .5 .6 .5-1 .5 0 .5 .1 .5 .6 .5-.8 .5 1.4 .5-.8 .5 .6 .5 .1 .5 1.4 .5-1.2 .5 2.1 .5 .3 .5-.2 .5 .3 .5 1.1 .5 .3 .5-1 .5 1.8 .5 .2 .5 1 .5-.4 .5 .2 .5 .4 .5 1.8 .5 .4 .5 0 .5-.4 .5 1.3 .5 2.1 .5 .9 .5 .2 .5 .2 .5 1.3 .5-.8 .5 2 .5 .7 .5-.6 .5 0 .5 1.9 .5 .1 .5 .6 .5 .7 .5-1 .5 1.8 .5-.7 .5 .3 .5 .7 .5 1.4 .5 .4 .5-.6 .5 .3 .5 1 .5 0 .5-1.9 .5 1.1 .5-1.2 .5 1.1 .5-.3 .5-2 .5 1.8 .5-.6 .5-.4 .5-.8 .5 .9 .5-1 .5 .9 .5-1.2 .5 1.5 .5-.1 .5 .3 .5 .1 .5-1.3 .5 1 .5-.8 .5-.5 .5 2.5 .5-1.4 .5-.5 .5 2.2 .5 .6 .5-.6 .5 0 .5-.3 .5 .6 .5 .8 .5 .5 .5-.2 .5-.2 .5 .7 .5-.1 .5-1.7 .5 1.4 .5 .6 .5-1.3 .5 .9 .5-.4 .5 .3 .5 .5 .5-1.5 .5 .5 .5-1.4 .5 2.5 .5-1.1 .5 .3 .5-.1 .5-.9 .5 1 .5-.5 .5 .3 .5-1.1 .5 .1 .5 .5 .5-.4 .5-.6 .5-.5 .5 .7 .5-1.3 0 6.5-.5 1.1-.5-.6-.5 2.1-.5-.4-.5-.6-.5-.4-.5 1.4-.5 .4-.5-.4-.5-.8-.5 1.4-.5 .3-.5 .1-.5 1-.5-2.1-.5 .8-.5 1.2-.5-1.9-.5 1.2-.5 0-.5-.2-.5-.7-.5-.6-.5 .5-.5-.3-.5 1.1-.5 .8-.5-.4-.5 0-.5-.1-.5-1.8-.5 .8-.5-1.1-.5-.5-.5 2-.5-1.8-.5 .9-.5-.4-.5 .1-.5-1.3-.5 1.7-.5-.9-.5-2-.5-.2-.5 .8-.5-.7-.5-.6-.5-.2-.5 2.1-.5 0-.5-.5-.5-1.1-.5-.3-.5 .5-.5 .4-.5 .9-.5 0-.5-.5-.5-.4-.5 .6-.5 0-.5 1.4-.5-1.2-.5 1.3-.5-1-.5 .8-.5 .6-.5-2.1-.5 .7-.5 .1-.5 0-.5-2.6-.5 1.4-.5-.3-.5-1.8-.5 .6-.5-1.7-.5 1.2-.5-1.6-.5-.1-.5-.9-.5-.3-.5-.8-.5-.7-.5-.3-.5-.3-.5-1.8-.5 .6-.5-2.4-.5 .4-.5-1.5-.5-.4-.5-.6-.5-.8-.5-.7-.5-1.1-.5 .4-.5-1.7-.5 .6-.5-.6-.5-1.6-.5-.3-.5-.4-.5 .9-.5-1.4-.5-.9-.5 .4-.5-.6-.5-1.4-.5-.6-.5 .9-.5-1.5-.5 .8-.5-1-.5 .2-.5 .5-.5-.8-.5 .4-.5 .5-.5-.8-.5 1-.5-.2-.5-1.3-.5 1.4-.5-1.6-.5 1-.5-.3-.5-.8-.5 .4-.5-.3-.5 .3-.5 .1-.5 0-.5-.9-.5 .6-.5-.7-.5 1.2-.5-.3-.5-1.1-.5-.4-.5-.2-.5-.2-.5 .1-.5-.2-.5-.3-.5 .1-.5-.4-.5 0-.5 .2-.5 .3-.5-.2-.5-.2-.5-1-.5-.1-.5 .2-.5 .5-.5-1.2-.5 0-.5-.2-.5-.1-.5-.1-.5-.4-.5 .8-.5-1.3-.5-.2-.5 .4-.5 0-.5 .3-.5-1.3-.5 .9-.5 0-.5-.2-.5-1.1-.5 0-.5 .6-.5-.5-.5-.3-.5-.5-.5 .2-.5-.8-.5 0-.5 0-.5-.3-.5-.6-.5 .9-.5-1.2-.5 .3-.5-.2-.5-.3-.5-.3-.5 .8-.5-.6-.5 .1-.5-.8-.5 .6-.5 .5-.5-1.4-.5 .1-.5-.4-.5 0-.5-.1-.5 .2-.5 .3-.5-.3-.5-.6-.5 1.1-.5-.6-.5-.3-.5-.5-.5-.2-.5-.1-.5-.1-.5 .8-.5-.4-.5 .7-.5-1.3-.5 .5-.5-.4-.5 .1-.5 .4-.5-.7-.5 .6-.5 .2-.5 .2-.5 .2-.5-.1-.5-.9-.5 .2-.5-.4-.5 .5-.5 1-.5-1.4-.5 .1-.5 .8-.5-.6-.5-.3-.5 .6-.5-.6-.5 .7-.5-.5-.5 .5-.5-.2-.5-.2-.5-.2-.5 1.4-.5-1.2-.5 .2-.5 .4-.5 .2-.5-.9-.5 .3-.5 .9-.5-.3-.5-.8-.5 .8-.5 .6-.5 .1-.5-1.4-.5 .4-.5 0-.5 0-.5 .5-.5-.8-.5-.1-.5 .7-.5-.3-.5-.2-.5 0-.5 .9-.5-.7-.5 .5-.5 .6-.5-.2-.5-.2-.5-.3-.5 .1-.5 .7-.5 .5-.5-1-.5 .2-.5 .5-.5 .4-.5 .4-.5-.2-.5 .6-.5-1.2-.5 .6-.5 .4-.5 .1-.5-1-.5 .8-.5-.4-.5 .1-.5 .8-.5 .1-.5 0-.5 .5-.5 .8-.5-.5-.5 .5-.5 .4-.5-.1-.5 1.3-.5-.6-.5 .9-.5 0-.5 .9-.5 .1-.5-.3-.5 .7-.5 .6-.5-.5-.5 1.7-.5-.4-.5 .9-.5-.2-.5 .4-.5-.4-.5 .1-.5 2-.5-.2-.5-.7-.5 .4-.5 2.2-.5-.5-.5 .1-.5-.3-.5 .3-.5 1.2-.5-.1-.5 .3-.5 1.8-.5-1.1-.5 0-.5 .8-.5-1.1-.5 .6-.5-1.4-.5-.6-.5-.7-.5-.8-.5 0-.5 1.1-.5-1.5-.5-1.1-.5-.4-.5 .7-.5-.3-.5-.5-.5-2.4-.5 .3-.5-.1-.5-1.2-.5 1.1-.5-1.7-.5-.8-.5 .1-.5 .1-.5-1.6-.5 2.2-.5-1.3-.5-1.6-.5-.5-.5 1.2-.5-2-.5-.2-.5-.2-.5 .2-.5 .2-.5 1.2-.5-.3-.5 0-.5 .3-.5 .9-.5-2.6-.5 .3-.5 .1-.5-.5-.5 2.6-.5-1-.5-1.4-.5 1.4-.5-1-.5 1.1-.5 .6-.5-2-.5-.4-.5 1-.5-.8-.5 2.9-.5-3-.5 1.1-.5 0-.5-.7-.5 2.8-.5-2.2-.5 1.8-.5 .6-.5 .1-.5-2.6-.5 2.5-.5-2.2-.5 1.2-.5-.1-.5 .2-.5 .2-.5-1.5-.5 2.9-.5-.7-.5-2-.5 .5-.5 2.9-.5-.8-.5-1-.5-.3-.5 .5-.5-.1-.5 2.5-.5-1.6-.5 .1-.5 2.7-.5-1.5-.5 .8-.5 .6-.5-1.1-.5 2.6-.5-2-.5 .8-.5 2.1-.5-.6-.5-.3-.5 1-.5 0-.5 1.6-.5 .1-.5-.7-.5 1.1-.5-.9-.5 2.4-.5 .3-.5-1.3-.5 1-.5 .1-.5-.2-.5 1.2-.5 .6-.5-1.1-.5 .9-.5-1.4-.5 0-.5-.1-.5-1.3-.5 .6-.5-.4-.5-.6-.5-.7-.5-.4-.5-.6-.5-1.3-.5-.4-.5-1-.5-.3-.5-.1-.5 .4-.5-1.3-.5-1.4-.5 .6-.5-1-.5-1.1-.5 .3-.5-1-.5 .5-.5-1.7-.5 1-.5-.1-.5-.8-.5-.9-.5-1.4-.5 .5-.5-1.6-.5 1.4-.5-2.1-.5 .9-.5-1.7-.5-1-.5 0-.5-.6-.5 .8-.5-.5-.5 .9-.5 .2-.5-1-.5 .5-.5-2.2-.5 2.4-.5-1-.5 .1-.5-.4-.5 .7-.5-.8-.5-2-.5 .5-.5 .4-.5-1.3-.5 .2-.5 1.9-.5-1.7-.5-.6-.5 0-.5-.3-.5-.2-.5 1.1-.5-.4-.5 2.2-.5-1.7-.5 .1-.5 1.8-.5-1-.5 1.1-.5-1.9-.5 .3-.5-.5-.5 1.1-.5-.6-.5-.4-.5 .2-.5 .9-.5 1-.5-.8-.5-.2-.5-.3-.5 2.1-.5 .4-.5-1-.5-.5-.5 .2-.5-.5-.5 .3-.5 .1-.5 2-.5-.9-.5 .1-.5 0-.5 .8-.5 0-.5 1.1-.5-1.3-.5 .3-.5 .2-.5 .7-.5-.3-.5 2.3-.5-1.2-.5 .1-.5 .8-.5 .6-.5-.5-.5-.1-.5 .9-.5-.2-.5 1.1-.5-1.2-.5 .3-.5 .7-.5 .1-.5 .5-.5 1-.5-.9-.5 1.8-.5-1.4-.5 .5-.5 1.1-.5 .8-.5-.1-.5-.9-.5 .2-.5 .2-.5 1.6-.5-.7-.5 1.1-.5-.9-.5 1.1-.5 .6-.5 .5-.5-1-.5 .4-.5 .1-.5 .4-.5-.2-.5 .2-.5 .9-.5 .8-.5-1.3-.5 .4-.5 1.1-.5-.7-.5 0-.5-.3-.5 .5-.5-.2-.5 .7-.5 .2-.5-.7-.5 .1-.5 1.5-.5 0-.5-1.2-.5 1.6-.5-1.2-.5 .5-.5 .6-.5-.7-.5 .3-.5 0-.5 1.3-.5-.5-.5-.9-.5 .4-.5 .7-.5-.6-.5-.2-.5 1.5-.5-1.3-.5 1.4-.5-.8-.5 .3-.5-1-.5-.6-.5 .3-.5 .6-.5-.8-.5 .4-.5 1.1-.5-1.6-.5 0-.5 0-.5 .1-.5 1.7-.5 .1-.5-1.1-.5 1.2-.5-.2-.5-1.4-.5 .7-.5-.1-.5-.3-.5-.8-.5 .3-.5 2.5-.5-2.2-.5 1.5-.5-1.1-.5-.1-.5 2.1-.5-1.7-.5-.2-.5 .7-.5 1.2-.5-.8-.5-1-.5 .7-.5-.4-.5 .3-.5 1.3-.5-.8-.5 2-.5-1.7-.5-.5-.5 .5-.5-.3-.5 .6-.5-.6-.5-.6-.5 .1-.5 1.8-.5-2.1-.5 .7-.5 2.1-.5-2.6-.5 1.1-.5-.4-.5-1-.5 .2-.5-.5-.5 1.8-.5-1-.5 .5-.5-.9-.5 .7-.5 .4-.5-.1-.5 .7-.5-1.5-.5 1.5-.5-1-.5 1.4-.5 .9-.5-1.4-.5-.1-.5 2.3-.5-2.3-.5 1-.5 .5-.5-1.2-.5 .5-.5-.6-.5-2.2-.5 .3-.5-2.6-.5-.4-.5-.1-.5-3-.5-.9-.5 .4-.5-2.5-.5-.9-.5-2.4-.5-1-.5-1.5-.5-1.4-.5-1.7-.5 .4-.5-1.8-.5 2.4-.5-.2-.5 2.6-.5 3.6-.5 1.7-.5 2.9-.5 5.9-.5 4.3-.5 3.5-.5 6-.5 6.6-.5 6-.5 5.8-.5 6.9-.5 5.7-.5 7.4-.5 5-.5 5.8-.5 5.1-.5 3.5-.5 3.3-.5 1.1-.5 1.9-.5 4-.5 1.9-.5 .6-.5 1.5-.5-.6-.5-2.2-.5-.5-.5-2.7-.5-1.5-.5-2.3-.5-.5-.5-3.2-.5-.3-.5-2-.5-3.1-.5-1.8-.5-2.9-.5-.7-.5-4.8-.5-2.3-.5-.7-.5-3.7-.5-2.3-.5-1.5-.5-2.7-.5-1.3-.5-3.2-.5-1-.5-4.6-.5-1-.5-3.8-.5-1.9-.5 .5-.5-5.2-.5-2.1-.5-1.7-.5-.1-.5-.8-.5-3.7-.5 .7-.5-2.5-.5-2.3-.5-2.1-.5-1.5-.5-.7-.5-.7-.5 0-.5-.1-.5-3.3-.5 .3-.5-.7-.5-.9-.5 2.9-.5-3.5-.5 .2-.5-1.2-.5 2.8-.5-3.1-.5 1.9-.5-1.8-.5 .7-.5-1.4-.5 1.2-.5-2.7-.5 1-.5 1.7-.5-3.3-.5 1.2-.5-1.9-.5 1.7-.5-1.1-.5-1.2-.5-.6-.5-.1-.5 3.1-.5-1.1-.5 .1-.5-2.4-.5-.9-.5 3.2-.5-3.2-.5-.9-.5 .5-.5-1.3-.5 3.4-.5-1.9-.5-.7-.5-2-.5 3-.5-1.8-.5-1.9-.5 .4-.5 .5-.5-.2-.5 1.1-.5-3.5-.5 2.9-.5-1-.5-2.7-.5 1-.5 .8-.5-1-.5-.8-.5-1.3-.5 1.9-.5-2-.5 .6-.5-.6-.5-.2-.5 1.2-.5-1.8-.5 2.4-.5-1.3-.5-1.2-.5 .1-.5 1.5-.5 .1-.5-2.4-.5-.2-.5 1-.5 .3-.5-.4-.5-.5-.5 1.6-.5-.4-.5-1.2-.5-.8-.5-2.1-.5-.6-.5-.8-.5-1.1-.5 .5-.5 0-.5-1.8-.5-.5-.5-1.1-.5 .6-.5-1.2-.5-.1-.5 0-.5-2.4-.5 2-.5-.8-.5-3.3-.5 .5-.5-.7-.5-.2-.5 .3-.5-2.7-.5 .3-.5-.5-.5-2.2-.5 .3-.5 1.6-.5 0-.5-.4-.5-.3-.5 3-.5-.1-.5-1.4-.5 1-.5 .5-.5 1.6-.5-.8-.5 .8-.5 .2-.5 3.2-.5-.1-.5 .1-.5-1-.5 .4-.5 1.5-.5 .2-.5 .4-.5 1.1-.5 2-.5 1.3-.5-1.8-.5 1.1-.5 .7-.5 2.1-.5-3-.5 4.1-.5-1.8-.5 2.3-.5-2.7-.5 2.5-.5 2-.5-2.4-.5 0-.5 .7-.5-1.1-.5 2.1-.5-1.4-.5-.8-.5-.3-.5-.2-.5 2.3-.5-2.2-.5 1.2-.5 .2-.5 0-.5 1.2-.5-.8-.5-.8-.5 0-.5-.3-.5 0-.5 1.6-.5-4-.5-1.7-.5 .2-.5-1.9-.5-1-.5 .3-.5-.7-.5-.1-.5 0-.5 .2-.5 1.7-.5 .1-.5-1.3-.5 .4-.5 1.1-.5 .3-.5 .1-.5-.5-.5 .2-.5-.5-.5 .1-.5 0-.5 1.2-.5-.3-.5 .7-.5-.5-.5 .2-.5 .4-.5 .3-.5-.7-.5 .1-.5 1.3-.5 .6-.5-1-.5 .2-.5 .1-.5 .3-.5 .2-.5 .3-.5 .3-.5 1.6-.5-.9-.5 1.5-.5 .1-.5-.5-.5 .2-.5 1.4-.5 0-.5-.2-.5-.5-.5 1.6-.5-.4-.5 .4-.5-.3-.5 1.5-.5-.1-.5-.6-.5 .2-.5 .4-.5 1-.5 0-.5 .4-.5 .2-.5 0-.5 .9-.5 .1-.5 0-.5-.1-.5 .5-.5 1.1-.5 .1-.5 .3-.5-.7-.5 1-.5 .1-.5 .6-.5-.6-.5 1.3-.5-.7-.5 1.4-.5 .3-.5-.9-.5 .5-.5 .6-.5 1.2-.5-1.2-.5 1.1-.5-.5-.5 .6-.5 1.3-.5 .1-.5 .5-.5 0-.5 0-.5 0-.5 .3-.5-.3-.5 .9-.5-.2-.5 .5-.5 .6-.5-.5-.5 1.4-.5-1.1-.5 1.5-.5-.1-.5-.7-.5 1.3-.5 0-.5-.9-.5 .6-.5-.1-.5 1.4-.5-.7-.5 .6-.5 .7-.5-1-.5 .3-.5 .5-.5 .3-.5 .6-.5-.7-.5 .7-.5-.1-.5 .1-.5 1.5-.5 .1-.5-.2-.5-.5-.5 .8-.5-.4-.5 .2-.5 .3-.5 .1-.5 1.4-.5-.6-.5 1.1-.5-.6-.5 .3-.5 0-.5 0-.5 1-.5-.3-.5 1-.5-.8-.5 1.1-.5-.4-.5 .9-.5-.2-.5 .1-.5 .8-.5-1.2-.5 .9-.5-.1-.5-.2-.5 1.5-.5-.4-.5 .3-.5 .4-.5 .5-.5-1-.5 .3-.5 .8-.5-.3-.5 .4-.5-.2-.5 1.3-.5-.4-.5-.4-.5 .5-.5 1.1-.5-.8-.5 .3-.5 .2-.5-.1-.5 .6-.5-.4-.5 .4-.5 1-.5 .2-.5-1.2-.5 .5-.5 .6-.5 0-.5-.7-.5 0-.5 .1-.5 .6-.5-.2-.5-.3-.5 .1-.5 .4-.5 .3-.5-.2-.5 .2-.5-.3-.5 .2-.5 .9-.5 .6-.5-.6-.5 .3-.5-1-.5 .3-.5 .5-.5-.4-.5 .7-.5 .2-.5 .3-.5-.4-.5-.3-.5-.1-.5 .7-.5 .5-.5-.6-.5 0-.5-.2-.5 0-.5 .5-.5 .9-.5-.6-.5 .4-.5-.5-.5 .3-.5 0-.5 .2-.5 .9-.5-.9-.5 1.1-.5-.2-.5 0-.5-.9-.5 1.4-.5 .2-.5-.7-.5 0-.5 .3-.5-.2-.5-.2-.5 .4-.5-.1-.5 .3-.5-.3-.5 1.3-.5-1.1-.5 1-.5 .8-.5-1.5-.5 1.7-.5-.2-.5-1.3-.5 1.5-.5-.9-.5 .1-.5-.2-.5 .1-.5 1.5-.5-1-.5 .6-.5-.4-.5-.2-.5 1.3-.5 .1-.5-.2-.5 .8-.5-.3-.5 .5-.5-.5-.5 .6-.5-.3-.5-1.2-.5 .4-.5 .8-.5-.9-.5 .4-.5-.3-.5 .1-.5 1.1-.5-.8-.5 .9-.5 .1-.5 .4-.5-.4-.5 .6-.5-1.2-.5-.1-.5 .8-.5-.7-.5 .6-.5 .6-.5-.4-.5-.3-.5 .8-.5 .8-.5 .1-.5 .1-.5-1.6-.5 .4-.5-.2-.5 1-.5 .6-.5-1.5-.5 .6-.5-.6-.5 1.6-.5-1.2-.5 1.2-.5-1.3-.5 .2-.5 0-.5-.9-.5 1.3-.5-.9-.5-.4-.5 .1-.5-.5-.5 .9-.5-.1-.5-.6-.5 1.1-.5-.9-.5-.9-.5 .8-.5-1.3-.5 2-.5 .1-.5-1.2-.5 1.3-.5-1.6-.5 1.9-.5-.5-.5-.5-.5 .9-.5-.1-.5 0-.5 .9-.5 .7-.5 .5-.5-1.2-.5 .3-.5 .8-.5 .8-.5-.4-.5 1.8-.5-1.7-.5 .5-.5 .3-.5-.1-.5 1.8-.5 .7-.5-1.6-.5 .1-.5 .4-.5 1.2-.5-.6-.5-.5-.5 .4-.5 2.1-.5-.9-.5-1.2-.5 .1-.5-.9-.5 .7-.5 .2-.5-2-.5 1.2-.5-.3-.5-2.1-.5-.1-.5 1.1-.5-2.1-.5-.9-.5-.8-.5 1.9-.5-2.4-.5-.5-.5 .6-.5 0-.5-2.4-.5-.4-.5 2.3-.5-1.6-.5-2.2-.5 0-.5 2.4-.5-3.7-.5 .3-.5 1.1-.5-.8-.5-1.4-.5-1.1-.5 1.4-.5-2.8-.5 .5-.5-.5-.5 1.2-.5-3.4-.5 .5-.5-1.7-.5 1-.5-2.2-.5 1.4-.5-1.8-.5-.4-.5-1.6-.5-.3-.5 0-.5-1.3-.5-.1-.5-1.3-.5 1.3-.5-2.2-.5 1.5-.5-1.7-.5-1.3-.5 1.6-.5-1.9-.5-.6-.5 .7-.5-1.7-.5-2.1-.5-.1-.5-.6-.5 1.1-.5-1.4-.5 1.8-.5-.8-.5-.3-.5-1.6-.5-.8-.5 .1-.5 1.8-.5-2.1-.5 1.1-.5-2.2-.5 1.2-.5-.8-.5 .7-.5-2.2-.5 .5-.5 .9-.5-.9-.5-1.5-.5 0-.5 .7-.5-.6-.5-.2-.5-1.2-.5 1.2-.5-1.3-.5-1-.5 .3-.5 .6-.5-1.4-.5 .4-.5-1.3-.5-.4-.5 1.6-.5-2.8-.5 .5-.5 .4-.5-1.8-.5-.6-.5 1.4-.5-1.9-.5 .1-.5-1-.5 1.2-.5-1.8-.5-.3-.5-.3-.5 1.3-.5-2.2-.5 .7-.5-1.2-.5-.2-.5 1.6-.5-1.1-.5 .1-.5-2.2-.5 .8-.5-1.4-.5 1.2-.5-.8-.5-1.7-.5 .5-.5-.6-.5 1-.5-.2-.5-1.4-.5-.7-.5-.6-.5 .3-.5 .9-.5-1.5-.5-.3-.5 .4-.5-2.1-.5 .8-.5 .1-.5-1-.5 .7-.5-.1-.5-1.9-.5-1-.5 1.1-.5-1.5-.5 .5-.5-.1-.5-1.4-.5-.3-.5 1.9-.5-2.4-.5 .8-.5 .2-.5-1-.5-.4-.5 .8-.5-2.2-.5 .2-.5 .6-.5-1.3-.5-.7-.5-.6-.5-.2-.5 .2-.5 1.6-.5-1.5-.5 1.1-.5-2.1-.5 .6-.5 1.2-.5-.9-.5-1.6-.5 .2-.5-.3-.5 2.3-.5-1.8-.5-.7-.5 .4-.5 .9-.5 .9-.5-2.6-.5 1.7-.5-1.7-.5-.3-.5 .3-.5 .5-.5 .8-.5-1.1-.5-.9-.5 .3-.5 1-.5 1.1-.5-2.5-.5 .5-.5 1-.5-1.6-.5 1.2-.5-.8-.5-.1-.5-.2-.5 .9-.5-.9-.5 1.6-.5-.4-.5 1.2-.5-1.4-.5 1-.5 .2-.5-.2-.5-.7-.5-.9-.5 .2-.5 .8-.5 1.5-.5-1.2-.5-1.1-.5 .8-.5-.7-.5 .1-.5 2.1-.5-.1-.5-.3-.5 .4-.5 .1-.5-.4-.5 1.3-.5-1.7-.5 2.3-.5-2-.5 .7-.5 .2-.5-.6-.5 2.5-.5-1.8-.5-.1-.5 .1-.5 1.7-.5-1.3-.5 2.2-.5-.4-.5-1.4-.5 1.6-.5-.9-.5 .4-.5 1.1-.5-.9-.5 .5-.5 1.3-.5-.3-.5-1-.5-.4-.5 .3-.5 1.7-.5-1.2-.5 1.6-.5-1.3-.5-.6-.5 .1-.5 .3-.5 1.5-.5 0-.5-.1-.5 1-.5-.9-.5-.3-.5 .9-.5-1-.5 .9-.5 .7-.5-.9-.5 .8-.5 0-.5-1.4-.5 1.5-.5-.3-.5-.6-.5 1.9-.5-1.1-.5 1.2-.5-.3-.5-.1-.5-.6-.5-.2-.5 1.3-.5-.5-.5-.3-.5 2.5-.5-2.1-.5 2.4-.5-2.3-.5 1.5-.5-.5-.5 .5-.5-1.3-.5 1.7-.5 1.5-.5 .3-.5-1.7-.5 2.1-.5-.4-.5-.4-.5-1.3-.5 1-.5-.2-.5-.5-.5-.8-.5 1.1-.5-1-.5 .2-.5 1.2-.5-2.4-.5 .3-.5-.3-.5-.3-.5 1-.5-1-.5 1.7-.5-1.7-.5 2-.5-2.4-.5 .9-.5 1.2-.5-2-.5 1.9-.5-.1-.5 .1-.5 .1-.5 .8-.5 1.4-.5-.6-.5-1.1-.5 2.5-.5-.8-.5-.2-.5 .2-.5 .6-.5 1.8-.5 1.1-.5 .2-.5 .4-.5 .8-.5 2.2-.5-1.3-.5 1.6-.5 .7-.5 1-.5 2.6-.5 0-.5 .2-.5 1-.5 2.5-.5 .5-.5 .5-.5-1.4-.5 1.2-.5 1.2-.5-1.8-.5 2.6-.5-1.2-.5-.5-.5 .6-.5 .3-.5 1.6-.5-.7-.5-.4-.5 1.4-.5 1.2-.5-1.2-.5 2-.5-1.9-.5 .4-.5 .2-.5-.4-.5 1.9-.5 .2-.5-2-.5 1.5-.5-.6-.5 .2-.5 .3-.5-1.8-.5-.3-.5-.4-.5 0-.5 1.5-.5-.9-.5 .3-.5 .3-.5-.8-.5 1.3-.5-.9-.5-.2-.5-1.5-.5-.1-.5 .7-.5 1.1-.5-.8-.5-1-.5-.1-.5 1.9-.5-2-.5 .8-.5-1.4-.5 0-.5-.2-.5 .7-.5 1.3-.5-.1-.5-2.2-.5 1.9-.5-1.9-.5 .6-.5 0-.5 .7-.5-.9-.5 .3-.5 .2-.5 1.2-.5-2.4-.5 .3-.5-.3-.5 2.5-.5-2.8-.5 1.5-.5-.1-.5 .6-.5-2.2-.5-.1-.5 1-.5 .9-.5-2-.5-.2-.5 .6-.5 1.8Z" fill="#00ff00" stroke="#00ff00" stroke-width="0.6" stroke-linejoin="round"/>
<path d="M279.2 879.7l1 .1 1 .2 1 .1 1 .2 1 .1 1 .2 1 .1 1 .2 1 .1 1 .2 1 .1 1 .2 1 .1 1 .2 1 .2 1 .1 1 .2 1 .2 1 .2 1 .2 1 .2 1 .2 1 .1 1 .2 1 .2 1 .2 1 .2 1 .2 1 .1 1 .2 1 .1 1-.2 1-.5 1-.5 1-.6 1-.6 1-.6 1-.5 1-.6 1-.6 1-1.1 1-1.5 1-1.9 1-1.8 1-1.8 1-1.9 1-1.8 1-1.8 1-1.4 1-.9 1-.7 1-.6 1-.7 1-.7 1-.6 1-.7 1-.3 1 0 1 .1 1 .2 1 .2 1 .1 1 .2 1 .2 1 0 1 0 1-.1 1-.1 1-.1 1-.1 1-.1 1-.1 1-.1 1-.1 1-.1 1-.1 1-.1 1-.1 1-.2 1-.2 1-.2 1-.2 1-.2 1-.2 1-.2 1-.2 1-.2 1-.2 1-.2 1-.2 1-.2 1-.2 1-.2 1-.2 1-.3 1-.4 1-.4 1-.3 1-.4 1-.3 1-.4 1-.4 1-.3 1-.4 1-.3 1-.4 1-.3 1-.3 1-.1 1-.1 1-.1 1-.1 1-.1 1-.1 1-.1 1-.1 1-.1 1-.1 1-.1 1-.1 1 0 1 .2 1 .2 1 .2 1 .2 1 .2 1 .2 1 .2 1 .2 1 .2 1 .2 1 .2 1 .2 1 .3 1 .4 1 .6 1 .6 1 .6 1 .6 1 .6 1 .6 1 .6 1 .6 1 .6 1 .6 1 .6 1 .6 1 .7 1 .7 1 .7 1 .7 1 .7 1 .7 1 .7 1 .7 1 .7 1 .7 1 .7 1 .7 1 .7 1 .7 1 .7 1 .7 1 .7 1 .7 1 .7 1 .7 1 .7 1 .7 1 .7 1 .7 1 .7 1 .7 1 .6 1 .6 1 .5 1 .5 1 .5 1 .5 1 .5 1 .5 1 .5 1 .5 1 .5 1 .5 1 .5 1 .6 1 .8 1 1.2 1 1.2 1 1.2 1 1.2 1 1.2 1 1.2 1 1.2 1 1.2 1 1.2 1 1.2 1 1.2 1 1.2 1 1 1 1 1 .9 1 .9 1 .9 1 .9 1 .9 1 .9 1 .9 1 .9 1 .9 1 .9 1 .9 1 1.4 1 1.1 1 .8 1 .4 1 .4 1 .4 1 .3 1-.1 1-.4 1-.4 1-.4 1-.4 1-.4 1-.5 1-.4 1-.5 1-.5 1-.5 1-.5 1-.5 1-.5 1-.2 1 0 1 .2 1 .2 1 .2 1 .2 1 .2 1 .2 1 .2 1 .2 1 .2 1 0 1-.1 1-.1 1-.1 1-.1 1-.1 1-.1 1-.2 1-.1 1-.1 1-.1 1-.1 1-.1 1-.1 1-.2 1-.1 1-.1 1-.1 1-.1 1-.2 1-.2 1-.2 1-.2 1-.1 1-.2 1-.2 1-.2 1-.2 1-.2 1-.2 1-.2 1-.1 1-.2 1-.2 1-.2 1-.2 1-.2 1-.2 1-.2 1-.1 1-.2 1-.2 1-.1 1-.1 1-.2 1-.1 1-.2 1-.1 1-.2 1-.1 1-.2 1-.1 1-.1 1-.2 1-.1 1-.2 1-.1 1-.2 1-.1 1-.2 1-.1 1-.1 1-.2 1-.2 1-.2 1-.4 1-.4 1-.4 1-.4 1-.4 1-.4 1-.4 1-.4 1-.4 1-.4 1-.4 1-.4 1-.4 1-.4 1-.4 1-.4 1-.4 1-.4 1-.4 1-.4 1-.4 1-.4 1-.5 1-.4 1-.4 1-.5 1-.4 1-.4 1-.4 1-.5 1-.4 1-.4 1-.5 1-.4 1-.4 1-.4 1-.5 1-.4 1-.4 1-.6 1-.5 1-.6 1-.6 1-.5 1-.6 1-.6 1-.5 1-.6 1-.6 1-.6 1-.5 1-.6 1-.6 1-.5 1-.6 1-.6 1-.6 1-.5 1-.6 1-.5 1-.5 1-.6 1-.5 1-.6 1-.5 1-.5 1-.6 1-.5 1-.6 1-.5 1-.5 1-.4 1-.4 1-.3 1-.3 1-.3 1-.3 1-.3 1-.3 1-.3 1-.3 1-.3 1-.3 1-.4 1 .2 1 1.1 1 1.8 1 1.1 1 .2 1 0 1 0 1 0 1 0 1 0 1 0 1 0 1 0 1-.2 1-.7 1-.9 1-1 1-1 1-1 1-1 1-1 1-1 1-1 1-.9 1-.9 1-.9 1-.9 1-.9 1-.9 1-1 1-.6 1 .2 1 1.1 1 1.2 1 1.3 1 1.3 1 1.3 1 1.2 1 1.2 1 1.2 1 1.2 1 1.1 1 1.2 1 1.2 1 1.1 1 1 1 .6 1 .2 1 .3 1 .2 1 .3 1 .2 1 .3 1 .2 1 .3 1 .2 1 .4 1 .4 1 .5 1 .5 1 .5 1 .5 1 .5 1 .5 1 .5 1 .5 1 .5 1 .6 1 .6 1 .6 1 .7 1 .6 1 .6 1 .7 1 .6 1 .6 1 .6 1 .7 1 .7 1 .8 1 .8 1 .8 1 .8 1 .9 1 1.7 1 2.5 1 3 1 3 1 3 1 3.3 1 4 1 4.5 1 4.5 1 4.5 1 4.5 1 4.8 1 4.9 1 5 1 5 1 5 1 4.4 1 3.8 1 3.5 1 3.5 1 3.5 1 1.5 1-1.8 1-4.4 1-4.7 1-6.6 1-9.7 1-12.3 1-12.4 1-12.2 1-12.1 1-9.9 1-7.1 1-5 1-4.1 1-.9 1 2.3 1 3 1 2.9 1 2.6 1 2.3 1 2.3 1 2.3 1 2.1 1 1.3 1 .2 1-.3 1-.4 1-.3 1-.3 1-.4 1-.3 1-.2 1-.1 1 0 1 0 1 0 1 0 1 0 1 0 1 0 1 0 1 0 1-.1 1-.1 1-.2 1-.1 1-.1 1-.1 1-.2 1-.1 1-.1 1-.1 1 0 1 0 1 .1 1 .1 1 .1 1 .1 1 0 1 .1 1 .1 1 .1 1 .1 1 .1 1 0 1 .1 1 .1 1 .1 1-.1 1-.2 1-.2 1-.2 1-.2 1-.2 1-.2 1-.2 1-.2 1-.2 1-.2 1-.2 1-.2 1-.3 1-.5 1-.5 1-.6 1-.5 1-.5 1-.6 1-.5 1-.6 1-.5 1-.5 1-.6 1-.5 1-.6 1-.5 1-.5 1-.5 1-.5 1-.6 1-.5 1-.5 1-.5 1-.5 1-.6 1-.5 1-.5 1-.5 1-.4 1-.2 1-.2 1-.3 1-.2 1-.2 1-.2 1-.2 1-.3 1-.2 1-.2 1-.2 1 .1 1 .2 1 .3 1 .3 1 .3 1 .3 1 .3 1 .2 1 .3 1 .3 1 .3 1 .4 1 .6 1 1 1 1 1 1 1 1 1 1 1 1 1 1 1 1 1 1 1 1 1 1 1 1.1 1 1 1 1.1 1 1 1 1.1 1 1.1 1 1 1 .9 1 .1 1-.6 1-.8 1-.8 1-.7 1-.8 1-.8 1-.7 1-.8 1-.8 1-.8 1-.7 1-.8 1-.8 1-.7 1-.8 1-.7 1-.6 1-.3 1-.2 1-.1 1-.2 1-.2 1-.2 1-.1 1-.2 1-.2 1-.1 1-.1 1 .1 1 0 1 .1 1 0 1 .1 1 .1 1 0 1 .1 1 0 1 .1 1 .1 1 .1 1 .3 1 .7 1 .9 1 .9 1 .9 1 .9 1 .9 1 .9 1 1 1 .9 1 1 1 1 1 .9 1 1 1 .9 1 .7 1 0 1-.6 1-.7 1-.7 1-.7 1-.7 1-.7 1-.6 1-.7 1-.7 1-.6 1-.6 1-.6 1-.6 1-.7 1-.6 1-.6 1-.7 1-.5 1-.4 1-.2 1-.2 1-.1 1-.2 1-.2 1-.1 1-.2 1-.1 1-.2 1-.2 1-.1 1-.2 1-.1 1 0 1-.1 1 0 1-.1 1 0 1 0 1-.1 1 0 1-.1 1 0 1 0 1-.1 1 0 1 0 1 0 1 0 1 0 1 0 1 0 1 0 1 0 1 0 1 0 1 0 1 0 1 0 1 .1 1 .2 1 .2 1 .2 1 .2 1 .2 1 .2 1 .2 1 .2 1 .2 1 .2 1 .2 1 .2 1 .2 1 .3 1 .4 1 .3 1 .4 1 .3 1 .3 1 .4 1 .3 1 .4 1 .3 1 .3 1 .4 1 .3 1 .3 1 .4 1 .3 1 .3 1 .3 1 .3 1 .4 1 .3 1 .3 1 .3 1 .3 1 .4 1 .3 1 .2 1 .1 1 .1 1 0 1 .1 1 .1 1 .1 1 .1 1 .1 1 .1 1 .1 1 .2 1 .5 1 .8 1 1 1 .9 1 .9 1 1 1 .9 1 1 1 1.2 1 1.3 1 1.4 1 1.4 1 1.4 1 1.4 1 1.3 1 1 1 .9 1 .8 1 .8 1 .9 1 .8 1 .8 1 .6 1 0 1-.3 1-.3 1-.3 1-.4 1-.3 1-.3 1-.2 1 .1 1 .4 1 .4 1 .3 1 .4 1 .4 1 .4 1 .4 1 .3 1 .4 1 .2 1 .1 1 0 1 0 1 0 1 0 1 0 1 0 1-.2 1-.3 1-.4 1-.4 1-.4 1-.4 1-.3" fill="none" stroke="#00ff00" stroke-width="4.2" stroke-linejoin="round"/>
<rect x="225.9" y="835.5" width="1.2" height="10" fill="#262626"/>
<rect x="225.9" y="989.5" width="1.2" height="10" fill="#262626"/>
<rect x="513.9" y="835.5" width="1.2" height="10" fill="#262626"/>
<rect x="513.9" y="989.5" width="1.2" height="10" fill="#262626"/>
<rect x="800.9" y="835.5" width="1.2" height="10" fill="#262626"/>
<rect x="800.9" y="989.5" width="1.2" height="10" fill="#262626"/>
<rect x="1087.9" y="835.5" width="1.2" height="10" fill="#262626"/>
<rect x="1087.9" y="989.5" width="1.2" height="10" fill="#262626"/>
<rect x="165.5" y="889.9" width="10" height="1.2" fill="#262626"/>
<rect x="1144.5" y="889.9" width="10" height="1.2" fill="#262626"/>
<rect x="165.5" y="943.9" width="10" height="1.2" fill="#262626"/>
<rect x="1144.5" y="943.9" width="10" height="1.2" fill="#262626"/>
<rect x="165.5" y="835.5" width="989" height="164.0" fill="none" stroke="#262626" stroke-width="1.2"/>
<g font-family="'DejaVu Sans', sans-serif" font-size="20.83" fill="#262626" text-anchor="end">
<text x="157.0" y="843.2">50</text>
<text x="157.0" y="897.9">0</text>
<text x="157.0" y="952.1">-50</text>
<text x="157.0" y="1005.5">-100</text>
</g>
<g font-family="'DejaVu Sans', sans-serif" font-weight="bold" font-size="18.75" fill="#262626" text-anchor="middle">
<text transform="translate(72.5 917) rotate(-90)">Model - Measured</text>
<text transform="translate(98.5 917) rotate(-90)">|B| (nT)</text>
</g>
<rect x="226.0" y="1071.8" width="1" height="161.20000000000005" fill="#dfdfdf"/>
<rect x="514.0" y="1071.8" width="1" height="161.20000000000005" fill="#dfdfdf"/>
<rect x="801.0" y="1071.8" width="1" height="161.20000000000005" fill="#dfdfdf"/>
<rect x="1088.0" y="1071.8" width="1" height="161.20000000000005" fill="#dfdfdf"/>
<rect x="165.5" y="1124.9" width="989" height="1" fill="#dfdfdf"/>
<rect x="165.5" y="1178.6" width="989" height="1" fill="#dfdfdf"/>
<path d="M165.5 1101.6l.7 .1 .7-.5 .7-.5 .7-.3 .7 .9 .7-.8 .7 1.8 .7-1.7 .7-1.2 .7 .3 .7 0 .7-.1 .7-.2 .7-.1 .7-.6 .7 .4 .7 .8 .7-1.8 .7-.1 .7 .6 .7 .2 .7-.4 .7 .2 .7-.9 .7-.3 .7 .5 .7-.1 .7 .6 .7-.2 .7-2.2 .7 1.6 .7-1 .7-1 .7 1.5 .7-.4 .7-.2 .7-.7 .7 .2 .7 .4 .7-.9 .7 .9 .7 0 .7-.2 .7 .2 .7-.3 .7-.7 .7 0 .7 .7 .7 .5 .7-.6 .7-.5 .7 .4 .7-1.4 .7 .5 .7 .3 .7 .2 .7-.2 .7-.1 .7-.6 .7 .3 .7 .5 .7-1.4 .7 .3 .7 .5 .7 1.1 .7-.5 .7 .5 .7-.2 .7-1.2 .7 .1 .7-.7 .7 1.4 .7-.3 .7-.2 .7 0 .7-.2 .7-.2 .7 0 .7 .5 .7-1.3 .7-.2 .7 .6 .7 .7 .7-.7 .7-.3 .7 .7 .7-.6 .7-.1 .7 0 .7 0 .7 0 .7 0 .7-.1 .7 0 .7 0 .7 0 .7 0 .7 0 .7 0 .7 0 .7 0 .7 0 .7 0 .7-.1 .7 0 .7 0 .7 0 .7 0 .7 0 .7 0 .7 0 .7 0 .7 0 .7 0 .7-.1 .7 0 .7 0 .7 0 .7 0 .7 0 .7 0 .7 0 .7 0 .7 0 .7 0 .7 0 .7-.1 .7 0 .7 0 .7-.2 .7 .2 .7 .9 .7-1.5 .7 .7 .7 .9 .7-.4 .7 .5 .7-.9 .7 0 .7 .6 .7-.4 .7-.2 .7-.6 .7-.6 .7 1.9 .7-1.3 .7-.2 .7 1 .7-1.1 .7-.3 .7 .5 .7 .3 .7 .2 .7 .2 .7 .3 .7-.8 .7 .3 .7-.3 .7-.3 .7 .6 .7 0 .7 1 .7-.9 .7-.8 .7 .8 .7-.5 .7 1.1 .7-2.1 .7 .7 .7 0 .7 .5 .7-.2 .7-.9 .7-.2 .7 1.3 .7 .8 .7 0 .7-1.2 .7 .6 .7-.9 .7-.3 .7 1.7 .7-.3 .7-.7 .7 0 .7 .9 .7-.4 .7-.4 .7 .4 .7-.2 .7-.2 .7-.2 .7 1.1 .7-.9 .7-.4 .7 1.9 .7-.3 .7-.5 .7-.3 .7 .1 .7-1 .7 .9 .7 .2 .7-.2 .7 .4 .7-.8 .7 .6 .7-1.1 .7 1 .7-.3 .7-.5 .7 .7 .7 .2 .7-.3 .7 1 .7-1.1 .7 1.1 .7-.1 .7-.9 .7 1.4 .7-1.8 .7 1.2 .7-.3 .7 .5 .7-1.5 .7 .3 .7 .2 .7 .6 .7 0 .7 0 .7 0 .7 0 .7 0 .7 .1 .7 0 .7 0 .7 0 .7 0 .7 0 .7 .1 .7 0 .7 0 .7 0 .7 0 .7 0 .7 .1 .7 0 .7 0 .7 0 .7 0 .7 0 .7 .1 .7 0 .7 0 .7 0 .7 0 .7 0 .7 .1 .7 0 .7 0 .7 0 .7 0 .7 0 .7 .1 .7 0 .7 0 .7 0 .7 0 .7 .1 .7 0 .7 0 .7 0 .7 0 .7 .1 .7 0 .7 0 .7 0 .7 0 .7 .1 .7 0 .7 0 .7 0 .7 .1 .7 0 .7 0 .7 0 .7 .1 .7 0 .7 0 .7 0 .7 .1 .7 0 .7 0 .7 0 .7 .1 .7 0 .7 0 .7 0 .7 .1 .7 0 .7 0 .7 .1 .7 0 .7 0 .7 0 .7 .1 .7 0 .7 0 .7 0 .7 .1 .7 0 .7 0 .7 0 .7 .1 .7 0 .7 0 .7 0 .7 .1 .7 0 .7 0 .7 0 .7 .1 .7 0 .7 0 .7 0 .7 .1 .7 0 .7 0 .7 0 .7 .1 .7 0 .7 0 .7 1 .7-1.6 .7 2 .7-.6 .7-1.6 .7 2.1 .7-2.1 .7 1.4 .7-1.1 .7-.4 .7 1.7 .7-.2 .7-.3 .7 .2 .7-.2 .7-.1 .7-.5 .7 1.1 .7-.3 .7-.1 .7-.2 .7 .2 .7-.8 .7 .8 .7-.4 .7 1.5 .7-1.4 .7 .3 .7 .3 .7 .6 .7-.2 .7-.3 .7 1.4 .7-1.4 .7 .3 .7 1.6 .7-2.3 .7 1.2 .7-.3 .7-1.1 .7 .4 .7 1 .7-1.4 .7 .8 .7 .7 .7-.7 .7 .4 .7-.6 .7 0 .7 .1 .7 .2 .7 .6 .7-.3 .7 1.3 .7-.9 .7-.2 .7 1.3 .7-1.5 .7-.4 .7 .7 .7-.8 .7 1.1 .7 .6 .7-.5 .7-.6 .7 .2 .7 .4 .7 .5 .7-1 .7 0 .7 1 .7-.5 .7 .1 .7 .1 .7-.7 .7 .4 .7 .8 .7-.7 .7 0 .7 .3 .7 .1 .7 1.4 .7-2.1 .7 .6 .7 1.3 .7-1.3 .7 .3 .7-1.1 .7 1.5 .7-.5 .7 0 .7 0 .7 0 .7 .1 .7 0 .7 0 .7 .1 .7-.8 .7 .6 .7-1.6 .7 1.8 .7 .6 .7-.6 .7 1.7 .7-2.1 .7 .5 .7-.4 .7 .3 .7 .1 .7-.6 .7 .3 .7 2 .7-1.5 .7 .8 .7-1.4 .7 .8 .7 .5 .7-.4 .7-.2 .7 .2 .7 .2 .7 .5 .7 .3 .7-1.6 .7-.4 .7 1.2 .7 .2 .7 .5 .7 .2 .7-1.1 .7 1.8 .7-1.1 .7-1.3 .7 1.8 .7-.4 .7 0 .7-1.1 .7 .8 .7 .3 .7-.1 .7 .6 .7 .4 .7 .2 .7-.2 .7-.9 .7 1.3 .7-.9 .7 .4 .7-.7 .7-.7 .7-.6 .7 1.6 .7-.6 .7 .5 .7 .5 .7-1.5 .7-.2 .7 1.3 .7 0 .7-.4 .7-.2 .7-.7 .7 .9 .7-.5 .7 .8 .7 .3 .7-1 .7 .5 .7-.1 .7 .3 .7 .5 .7-.6 .7 0 .7 .1 .7-.8 .7 .2 .7 .3 .7 .5 .7 .1 .7 .6 .7-2.1 .7 .7 .7-1.1 .7 .8 .7-.7 .7 1.9 .7-.2 .7-1.2 .7 1 .7 .2 .7 .7 .7-.5 .7-.5 .7-.1 .7 .5 .7-.1 .7-.5 .7-.5 .7 1.5 .7-1.1 .7 .4 .7 .7 .7-.5 .7 .8 .7-1.5 .7 1.3 .7-1.3 .7-.1 .7 .3 .7 .8 .7-.5 .7-.4 .7 1.7 .7-1.4 .7 .6 .7 .3 .7-.4 .7 .5 .7 .2 .7-.4 .7 .8 .7-1.1 .7-.2 .7 .8 .7-.7 .7 .9 .7-.3 .7-.2 .7 .7 .7 0 .7-2.2 .7 1.7 .7 .4 .7 .2 .7-.6 .7-.4 .7 .9 .7 .4 .7-1.7 .7 .3 .7 .7 .7-1.3 .7 1.3 .7 1 .7-1.2 .7 .8 .7-.6 .7 .9 .7 .1 .7 .5 .7-.8 .7 .7 .7-.4 .7-.5 .7 1.3 .7-1.3 .7 .5 .7 1.5 .7-1 .7-1.1 .7 .8 .7-.5 .7 .3 .7-.9 .7 1.2 .7-1.1 .7 1.2 .7 .1 .7 .3 .7 .9 .7-2.4 .7 .3 .7 .1 .7 .4 .7 .9 .7-.7 .7-.2 .7-.3 .7 .3 .7 .2 .7 .2 .7-.8 .7 .9 .7 .4 .7-.1 .7-1 .7 1.3 .7 0 .7-.3 .7-1 .7-.1 .7 1 .7-.7 .7-.2 .7 1.5 .7 0 .7-.1 .7 .4 .7-.2 .7-1.4 .7 1.6 .7-.7 .7 .2 .7 .8 .7-.7 .7 .7 .7-1 .7-.2 .7-.2 .7 .4 .7-1 .7 1 .7 0 .7-.2 .7-1.1 .7 .1 .7 1.8 .7-1 .7 1.5 .7-1.3 .7 .7 .7-1.2 .7 .5 .7 .3 .7 .6 .7 .7 .7-.4 .7-1.6 .7 1 .7-.1 .7-.3 .7 .8 .7 .7 .7-1.4 .7 1.1 .7 .2 .7-1.6 .7 1.9 .7-.1 .7-.9 .7 1 .7-1 .7 .6 .7-.3 .7-.9 .7 .7 .7-.3 .7-.1 .7-.5 .7 .3 .7-.3 .7 1.6 .7-2 .7 1.3 .7-.4 .7-.4 .7 1.3 .7-1 .7 1.3 .7-.9 .7 .4 .7-.3 .7 .5 .7 .2 .7-.8 .7 .3 .7 1.1 .7-1.5 .7 1.6 .7-1.4 .7-.1 .7-.7 .7 .5 .7-.5 .7 .7 .7 .9 .7-.5 .7-.4 .7-.2 .7 .2 .7-.5 .7 .2 .7 2.1 .7-1.1 .7-.8 .7 1.1 .7 .5 .7-1.4 .7 .4 .7-.7 .7-.3 .7 2 .7 1.3 .7-2.7 .7-.5 .7 2 .7-.3 .7-.3 .7 .6 .7-1.1 .7 .4 .7 .3 .7-.7 .7 .5 .7-.4 .7 .4 .7-.1 .7-1.4 .7 1.3 .7-.9 .7 .4 .7-.6 .7 1.7 .7-.8 .7 0 .7 1.1 .7-.4 .7-.6 .7-1.2 .7 1.8 .7-.6 .7 0 .7 .7 .7-.9 .7 .4 .7 .7 .7-.2 .7-.8 .7 1.4 .7-.2 .7 .5 .7-1.3 .7 .2 .7 .5 .7-.3 .7-.2 .7-.2 .7-.1 .7-.2 .7 0 .7 .7 .7-.4 .7-.8 .7 1 .7 1.1 .7-.2 .7-2.2 .7 .8 .7 1 .7-.4 .7 0 .7-.1 .7 .1 .7-.7 .7 1.5 .7-1.5 .7 .6 .7 1.1 .7-.2 .7-.7 .7 0 .7-.4 .7 .1 .7 .2 .7 1 .7-1.2 .7 .7 .7-.1 .7 0 .7-.4 .7 .7 .7-.4 .7 0 .7-.4 .7-1.1 .7 1.9 .7 0 .7-.8 .7 .3 .7 .3 .7-.8 .7 1.1 .7 0 .7 .1 .7 0 .7-1.8 .7 1.6 .7-.6 .7 1 .7 0 .7-.2 .7-.5 .7 1.9 .7-1.9 .7-.6 .7 1.3 .7-1.5 .7 2.1 .7-.5 .7 .2 .7-.2 .7-.4 .7-1.1 .7 .5 .7 .7 .7-.5 .7 .4 .7-.7 .7 0 .7 .7 .7 .2 .7-.4 .7-.7 .7-.4 .7 2.3 .7-2 .7 .1 .7 .1 .7 1.1 .7-1.1 .7 .8 .7-.2 .7-.9 .7 .8 .7-.9 .7 .7 .7 .5 .7-.6 .7-.5 .7 .3 .7 .2 .7 .3 .7-1.7 .7 .3 .7 1.4 .7-.4 .7 .1 .7 .1 .7-.2 .7-.2 .7 .3 .7 .3 .7-.2 .7-.2 .7-.7 .7 .8 .7-.9 .7 .3 .7 .5 .7 0 .7 .6 .7-.2 .7-.2 .7-.4 .7 0 .7 0 .7 0 .7 0 .7 0 .7 0 .7-.1 .7 0 .7 0 .7 0 .7 0 .7 0 .7 0 .7-.1 .7 0 .7 0 .7 0 .7 0 .7 0 .7-.1 .7 0 .7 0 .7 0 .7 0 .7-.1 .7 0 .7 0 .7 0 .7-.1 .7 0 .7 0 .7 0 .7-.1 .7 0 .7 0 .7-.1 .7 0 .7 0 .7 0 .7-.1 .7 0 .7 0 .7-.1 .7 0 .7 0 .7 0 .7-.1 .7 0 .7 0 .7-.1 .7 0 .7 0 .7 0 .7-.1 .7 0 .7 0 .7-.1 .7 0 .7 0 .7 0 .7-.1 .7 0 .7 0 .7 0 .7-.1 .7 0 .7 0 .7-.1 .7 0 .7 0 .7 0 .7-.1 .7 0 .7 0 .7-.1 .7 0 .7 0 .7 0 .7-.1 .7 0 .7 0 .7-.1 .7 0 .7 0 .7 0 .7-.1 .7 0 .7 0 .7-.1 .7 0 .7 0 .7 0 .7-.1 .7 0 .7 0 .7-.1 .7 0 .7 0 .7 0 .7-.1 .7 0 .7 0 .7 0 .7-.1 .7 0 .7 0 .7-.1 .7 0 .7 0 .7-.1 .7 0 .7 0 .7-.1 .7 0 .7-.1 .7 0 .7 0 .7-.1 .7-1.4 .7 1.3 .7-.1 .7-.6 .7 .6 .7-.5 .7 .7 .7-.6 .7 .5 .7-.9 .7 1.3 .7-.6 .7 .9 .7-1.3 .7-.3 .7 .4 .7-.5 .7-.4 .7 .7 .7-.1 .7-.5 .7 .2 .7-.5 .7 .7 .7-1 .7 1.9 .7-1.1 .7-.1 .7 0 .7-.1 .7 0 .7 0 .7-.1 .7 0 .7-.1 .7 0 .7-.1 .7 0 .7-.1 .7 0 .7-.1 .7 0 .7 0 .7-.1 .7 0 .7-.1 .7 0 .7-.1 .7 0 .7-.1 .7 0 .7-.1 .7 0 .7-.1 .7 0 .7 0 .7-.1 .7 0 .7-.1 .7 0 .7-.1 .7 0 .7-.1 .7 0 .7-.1 .7 0 .7 0 .7-.1 .7 0 .7-.1 .7 0 .7-.1 .7 0 .7-.1 .7 0 .7-.1 .7 0 .7 0 .7-.1 .7 0 .7-.1 .7 0 .7-.1 .7 0 .7-.1 .7 0 .7-.1 .7 0 .7-.1 .7 .5 .7 0 .7-1 .7 .7 .7-.1 .7-.6 .7 0 .7 .2 .7 1.8 .7-1.8 .7-.7 .7 .4 .7-.3 .7 1.1 .7-2.2 .7 .6 .7 1.3 .7-.4 .7-.3 .7 0 .7-.1 .7 0 .7 0 .7-.1 .7 0 .7-.1 .7 0 .7 0 .7-.1 .7 0 .7-.1 .7 0 .7 0 .7-.1 .7 0 .7 0 .7-.1 .7 0 .7-.1 .7 0 .7 0 .7-.1 .7 0 .7-.1 .7 0 .7 0 .7-.1 .7 0 .7-.1 .7 0 .7 0 .7-.1 .7 0 .7-.1 .7 0 .7 0 .7-.1 .7 0 .7-.1 .7 0 .7 0 .7-.1 .7 0 .7-.1 .7 0 .7 0 .7-.1 .7 0 .7-.1 .7 0 .7 0 .7-.1 .7 0 .7 0 .7 0 .7 .1 .7 0 .7 0 .7 0 .7 .1 .7 0 .7 0 .7 0 .7 0 .7 0 .7 0 .7 0 .7-.1 .7 0 .7-.1 .7-.1 .7 0 .7-.1 .7-.1 .7-.1 .7-.1 .7-.1 .7-.1 .7-.1 .7 0 .7-.1 .7-.1 .7-.1 .7-.1 .7-.1 .7-.1 .7-.1 .7 0 .7-.1 .7-.1 .7-.1 .7-.1 .7-.1 .7-.1 .7 0 .7-.1 .7-.1 .7 0 .7-.1 .7 0 .7-.1 .7 0 .7-.1 .7 0 .7-.1 .7 0 .7-.1 .7 0 .7 0 .7-.1 .7 0 .7-.1 .7 0 .7 0 .7-.1 .7 0 .7 0 .7-.1 .7 0 .7-.1 .7 0 .7 0 .7-.1 .7 0 .7-.1 .7 0 .7 0 .7-.1 .7 0 .7 0 .7-.1 .7 0 .7-.1 .7 0 .7 0 .7-.1 .7 0 .7-.1 .7 0 .7 0 .7-.1 .7 0 .7 0 .7-.1 .7 0 .7-.1 .7 0 .7 0 .7-.1 .7 0 .7-.1 .7 0 .7 0 .7-.1 .7 0 .7 0 .7-.1 .7 0 .7-.1 .7 0 .7 0 .7-.1 .7 0 .7-.1 .7 0 .7-.1 .7 0 .7-.5 .7-.7 .7 1.2 .7 0 .7 .5 .7 .4 .7-1.1 .7-.4 .7 .1 .7 0 .7-.1 .7-.1 .7 0 .7-.1 .7 0 .7-.1 .7 0 .7-.1 .7-.1 .7 0 .7-.1 .7 0 .7-.1 .7-.1 .7 0 .7-.1 .7 0 .7-.1 .7 0 .7-.1 .7-.1 .7 0 .7-.1 .7 0 .7-.1 .7-.1 .7 0 .7-.1 .7 0 .7-.1 .7 0 .7-.1 .7-.1 .7 0 .7-.1 .7 0 .7-.1 .7 0 .7-.1 .7 0 .7-.1 .7 0 .7 0 .7-.1 .7 0 .7 0 .7 0 .7 0 .7 0 .7 0 .7 .1 .7 .1 .7 .6 .7 .1 .7-1.2 .7-1 .7 .6 .7 1.3 .7-1 .7-.1 .7 .1 .7 1.3 .7-1 .7-.3 .7-.2 .7-.2 .7 2.5 .7-1.9 .7 .2 .7-.4 .7 .9 .7-1.3 .7-.6 .7 .9 .7 .5 .7 1.3 .7-1.5 .7-.6 .7 .5 .7-.4 .7 0 .7 .5 .7 .2 .7-.7 .7 1.2 .7-.8 .7 .1 .7-.4 .7 .6 .7 0 .7 .2 .7-1 .7 .9 .7-.8 .7 .5 .7 .4 .7 .5 .7-1.3 .7-.4 .7 .8 .7 .7 .7-1.1 .7 1.8 .7-2.8 .7 2.2 .7-.2 .7 0 .7-1.3 .7 1.4 .7-.1 .7 0 .7-.9 .7-.1 .7 1 .7-.6 .7-.5 .7-.3 .7 .7 .7-1 .7 1.2 .7-.2 .7-1.2" fill="none" stroke="#0000ff" stroke-width="1.7" stroke-linejoin="round"/>
<path d="M165.5 1187.8l.7 0 .7 0 .7 0 .7 0 .7 0 .7-.1 .7 0 .7 0 .7 0 .7 0 .7 0 .7 0 .7 0 .7 0 .7 0 .7 0 .7-.1 .7 0 .7 0 .7 0 .7 0 .7 0 .7 0 .7 0 .7 0 .7 0 .7 0 .7-.1 .7 0 .7 0 .7 0 .7 0 .7 0 .7 0 .7 0 .7 0 .7 0 .7-.1 .7 0 .7 0 .7 0 .7 0 .7 0 .7 0 .7 0 .7 0 .7 0 .7 0 .7-.1 .7 0 .7 0 .7 0 .7 0 .7 0 .7 0 .7 0 .7 0 .7 0 .7 0 .7-.1 .7 0 .7 0 .7 0 .7 0 .7 0 .7 0 .7 0 .7 0 .7 0 .7 0 .7-.1 .7 0 .7 0 .7 0 .7 0 .7 0 .7 0 .7 0 .7 0 .7 0 .7-.1 .7 0 .7 0 .7 0 .7 0 .7 0 .7 0 .7 0 .7 0 .7-.1 .7 0 .7 0 .7 0 .7 0 .7 0 .7-.1 .7 0 .7 0 .7 0 .7 0 .7 0 .7-.1 .7 0 .7 0 .7 0 .7 0 .7 0 .7-.1 .7 0 .7 0 .7 0 .7 0 .7 0 .7-.1 .7 0 .7 0 .7 0 .7 0 .7 0 .7-.1 .7 0 .7 0 .7 0 .7 0 .7 0 .7 0 .7-.1 .7 0 .7 0 .7 0 .7 0 .7-.1 .7 .4 .7-.1 .7-.7 .7 .1 .7 1.3 .7-.3 .7-.3 .7 .6 .7-2.2 .7 1.2 .7-.3 .7-1 .7 1.4 .7 .1 .7-.2 .7-1.3 .7 1 .7 .2 .7-.3 .7 .3 .7 .1 .7 .6 .7-.7 .7 1.4 .7-1.5 .7 0 .7 .3 .7-.5 .7-.2 .7 1 .7-2.1 .7 .2 .7 2.3 .7-.8 .7-.1 .7-.2 .7 0 .7-.8 .7 .4 .7-.5 .7 1.3 .7-.3 .7-.3 .7 .1 .7-.3 .7-.6 .7 1.7 .7-.7 .7-.5 .7 .5 .7 .4 .7-.1 .7-.3 .7 .1 .7-.6 .7 .9 .7-.2 .7 0 .7-1.4 .7 1.2 .7 0 .7 0 .7-2 .7 .4 .7 1.3 .7-.8 .7 .9 .7-.3 .7 .5 .7-.8 .7-.4 .7 1 .7-.5 .7-.6 .7-.5 .7 3.2 .7-2.2 .7 .1 .7-1.1 .7 .6 .7 .5 .7 .3 .7 .3 .7-1 .7 .8 .7 .4 .7-1 .7 .2 .7-1 .7 .6 .7-.4 .7 1.3 .7-.6 .7 1.1 .7-.8 .7 .3 .7-.2 .7-.2 .7-.7 .7 1.6 .7-1.1 .7-1 .7 .7 .7-.3 .7 1.4 .7-.1 .7 .3 .7 .4 .7-1.7 .7-.8 .7 .6 .7 .8 .7-1.9 .7 1.3 .7 .8 .7-1 .7 .4 .7-.5 .7 1.7 .7 .1 .7-1.8 .7 .1 .7 .6 .7 .3 .7-.2 .7 .2 .7 .2 .7 .1 .7 .4 .7-1 .7-.4 .7 .2 .7 1.5 .7-.9 .7-.1 .7 .4 .7-.1 .7 .7 .7-1.9 .7 .6 .7 .3 .7 .1 .7-.8 .7-.8 .7 .8 .7-.2 .7 .3 .7 .8 .7-.3 .7-1.1 .7 .2 .7 .6 .7 .6 .7-.8 .7 .2 .7-1.1 .7 .6 .7-.2 .7 .6 .7-.3 .7-.4 .7-.1 .7 .8 .7-.5 .7 1.1 .7-.8 .7 0 .7 0 .7 0 .7 0 .7 0 .7 0 .7 0 .7 0 .7-.1 .7 0 .7 0 .7 0 .7 0 .7 0 .7 0 .7 0 .7 0 .7 0 .7 0 .7 0 .7 0 .7 0 .7 0 .7 0 .7 0 .7-.1 .7 0 .7 0 .7 0 .7 0 .7 0 .7 0 .7 0 .7 0 .7 0 .7 0 .7 0 .7 0 .7 0 .7 0 .7 0 .7 0 .7-.1 .7 0 .7 0 .7 0 .7 0 .7 0 .7 0 .7 0 .7 0 .7 0 .7 0 .7 0 .7 0 .7 0 .7 0 .7 0 .7 .5 .7-.2 .7 .6 .7-.1 .7-1.7 .7 1.1 .7 .2 .7 .1 .7-.2 .7-.7 .7 1.1 .7-.8 .7-.3 .7 .4 .7-.4 .7-.1 .7 .5 .7 1.5 .7-1.4 .7-.2 .7-.3 .7 .5 .7-1 .7 1.1 .7-.2 .7-.1 .7 .3 .7-.5 .7 .6 .7-.1 .7 0 .7-.3 .7 .5 .7-.7 .7 1 .7-.9 .7 .9 .7-.7 .7-.1 .7-.6 .7 1 .7-.2 .7-.2 .7 .2 .7-.1 .7-.7 .7-.1 .7 1.1 .7-.3 .7 .8 .7 .3 .7-.7 .7-.1 .7 0 .7-.3 .7-.5 .7-1.2 .7 2.1 .7-.1 .7-.3 .7 0 .7 .5 .7 0 .7-.4 .7-.3 .7 .5 .7 .1 .7 .9 .7-1.9 .7 .9 .7-.9 .7 .3 .7 1.7 .7-1.7 .7 .2 .7-.3 .7 .9 .7-.8 .7-.7 .7 1.1 .7 .4 .7-.5 .7 .1 .7-.5 .7-.2 .7 .6 .7-.7 .7 .4 .7-.3 .7 .5 .7 .6 .7-.5 .7 .7 .7-.5 .7-.3 .7-.4 .7 .6 .7-.8 .7 1.2 .7-1.3 .7 0 .7 .3 .7-.5 .7 1.1 .7-.5 .7 .2 .7 .6 .7-1.7 .7 1.2 .7 .4 .7 .4 .7-.6 .7-.5 .7 1 .7 0 .7 .8 .7 0 .7-1.5 .7 1 .7-.7 .7-.8 .7 1.1 .7 .4 .7-2.3 .7 2.3 .7-1.3 .7 1.5 .7-.9 .7 0 .7 .8 .7-1.1 .7 1.5 .7-1.9 .7 .2 .7-.3 .7 1 .7-.3 .7 .5 .7 .2 .7-.2 .7 .1 .7 0 .7-.7 .7-.5 .7-.1 .7 1 .7-.8 .7-.3 .7 0 .7 .4 .7 .2 .7-.3 .7-.5 .7 .9 .7-1.7 .7 1.2 .7 .8 .7-.5 .7 .5 .7-.7 .7 .3 .7-.4 .7-.3 .7 .5 .7 .3 .7-1.8 .7 .7 .7-.8 .7 .7 .7-.2 .7 .5 .7 .1 .7 .8 .7 .1 .7-1.2 .7 .2 .7 .6 .7-.7 .7 .1 .7-.9 .7 1.6 .7-.3 .7-.7 .7-.3 .7 .2 .7 .9 .7-.5 .7-.5 .7 .6 .7 .7 .7 .2 .7 .1 .7-.8 .7 .1 .7 .1 .7 .2 .7-.1 .7-.9 .7 .1 .7 .2 .7 .7 .7-.7 .7-.2 .7 1.1 .7 .3 .7-1.5 .7 .5 .7 .8 .7-1 .7 .8 .7-1.4 .7 .7 .7 .6 .7 .5 .7-.3 .7-1.6 .7 0 .7 .4 .7 1.1 .7-.1 .7 .2 .7-.2 .7-.8 .7 .1 .7-.3 .7 1.1 .7-1.3 .7 .8 .7 .1 .7 .6 .7-1.2 .7 .7 .7-.8 .7 1.2 .7-.8 .7 0 .7-.4 .7 .2 .7 0 .7 0 .7 1.1 .7-1.3 .7 .7 .7 .4 .7-1.2 .7-.6 .7 1.6 .7-1.3 .7 .5 .7 .4 .7 .2 .7-.3 .7-.3 .7 1.1 .7-.5 .7 1.1 .7-1.8 .7 .5 .7 .1 .7 .3 .7-.2 .7-.1 .7 1.2 .7-1.3 .7 .3 .7-.1 .7-.5 .7 .8 .7-1.6 .7 1.9 .7-1.7 .7 .8 .7 .2 .7-.3 .7 0 .7 .3 .7 0 .7 0 .7 0 .7 0 .7 0 .7 0 .7 0 .7 .8 .7-.2 .7 .2 .7-1.2 .7-.1 .7-.1 .7 .6 .7-.1 .7 .1 .7-.8 .7 .9 .7 .4 .7-.5 .7-1.7 .7 1.7 .7-.2 .7 .7 .7-.6 .7 .5 .7-.7 .7 .5 .7 .4 .7-.8 .7 .4 .7-.1 .7 .3 .7-.5 .7 .4 .7-1.4 .7 .9 .7 .7 .7-.1 .7-1 .7 .1 .7 .7 .7 0 .7 .1 .7-.3 .7 0 .7 .6 .7-1.2 .7-.3 .7 1.5 .7-1.1 .7 .9 .7-.8 .7-.3 .7 1.6 .7-1 .7-.8 .7 .7 .7 .1 .7-.1 .7 .3 .7-.8 .7 .5 .7 .4 .7 .1 .7-.3 .7-.5 .7-.7 .7 2.1 .7-1.6 .7 .4 .7 .3 .7 .2 .7-.2 .7-.5 .7 .4 .7 1.3 .7 .3 .7-1.7 .7 .6 .7-1.5 .7 1.2 .7 .3 .7-.6 .7 1.3 .7-.6 .7-.2 .7-1.9 .7 1.2 .7 .8 .7-.7 .7-.8 .7 .7 .7 1.3 .7-.5 .7 .1 .7-.4 .7 .8 .7-2.6 .7 .9 .7 1.9 .7-.5 .7-.5 .7-.4 .7-.8 .7 .8 .7 .2 .7-.5 .7 1.4 .7-.2 .7-.8 .7 .7 .7-.6 .7 .2 .7-.5 .7 1.8 .7-2.4 .7 .8 .7 .8 .7-.1 .7-1.6 .7 .5 .7 .5 .7-.5 .7 .1 .7 .3 .7 0 .7 .8 .7-1.7 .7 1.7 .7-.8 .7 .5 .7-.6 .7 1.6 .7-2.5 .7 1.8 .7-1 .7 .2 .7 1 .7-1 .7 .7 .7 .3 .7-1.3 .7 1.6 .7-.4 .7-.9 .7 .2 .7-.5 .7 .4 .7 0 .7 0 .7 0 .7 0 .7-.4 .7-.2 .7 .4 .7 .6 .7-.8 .7 0 .7-.2 .7 .9 .7-.5 .7-.8 .7 1.7 .7-.1 .7-.6 .7-.2 .7 .2 .7-.6 .7 1.2 .7 .2 .7-.2 .7-.5 .7 0 .7 .2 .7 .7 .7-1.5 .7 .5 .7-.4 .7-.4 .7 1 .7 .4 .7-1.3 .7 1.3 .7-.2 .7-.2 .7 .6 .7-1.2 .7 1.3 .7-1.2 .7 .6 .7-1.3 .7 1.5 .7-.5 .7-.4 .7-.3 .7 .8 .7 .6 .7-.4 .7-.6 .7-.2 .7-.2 .7 .4 .7-.7 .7 .7 .7 .9 .7-.7 .7-.1 .7-.2 .7 .8 .7-.1 .7 .5 .7-1.3 .7-.3 .7 .3 .7-.3 .7 .7 .7-.3 .7-.2 .7 .5 .7 .6 .7-.2 .7-.8 .7 .4 .7 .2 .7 .2 .7-.6 .7-.6 .7 1 .7-.8 .7 .4 .7 0 .7 .7 .7-.8 .7 .4 .7-.2 .7-.2 .7 .8 .7-.8 .7 .6 .7-.2 .7-1.2 .7 .1 .7-.9 .7 2 .7 0 .7-.4 .7 0 .7 .1 .7-.2 .7 .3 .7 0 .7-.5 .7 1.4 .7-.2 .7-.9 .7 1.6 .7 .1 .7-.7 .7 0 .7-1.1 .7 .2 .7-.8 .7 .7 .7 .8 .7-.8 .7-.8 .7 2 .7 .2 .7-.2 .7-1.9 .7 1.4 .7-1 .7 .5 .7 .5 .7 .5 .7-1.3 .7 .1 .7-.5 .7 .7 .7-.6 .7 .3 .7 .8 .7-.5 .7 .1 .7 .1 .7 .3 .7 .4 .7-1.6 .7-.2 .7 1.2 .7 .1 .7 .5 .7-.4 .7 .6 .7-.8 .7-.7 .7 1 .7-1.1 .7 .1 .7 .7 .7-.4 .7 .7 .7-.8 .7 1.3 .7-1.7 .7 1 .7-.7 .7 1.2 .7-1.2 .7 .8 .7-2.4 .7 1.5 .7 1.4 .7-.9 .7-.1 .7 .5 .7 .9 .7-2.1 .7 .6 .7-.2 .7 .7 .7-.8 .7-.6 .7 .1 .7 1.3 .7-.3 .7 .4 .7-1.5 .7 .4 .7 .3 .7 .8 .7-.2 .7-.4 .7-.5 .7 .7 .7-.4 .7 .8 .7 .5 .7-1 .7-.7 .7 2.1 .7-1 .7-.1 .7-.3 .7 .1 .7-.1 .7 .1 .7-1 .7 .4 .7 .4 .7 .2 .7 0 .7 .1 .7-1.3 .7 .5 .7 .2 .7 .4 .7-.2 .7 1.4 .7-1.5 .7 .1 .7-.8 .7 2.1 .7-1.1 .7-.1 .7-.3 .7 .4 .7-.3 .7 1 .7-1.2 .7 .2 .7-.1 .7 .7 .7-.2 .7 .4 .7-.2 .7 0 .7-.3 .7 .5 .7-.3 .7-.1 .7-1.1 .7 .6 .7-.1 .7-.7 .7 1.9 .7 .1 .7-.2 .7-.3 .7 .5 .7-1.9 .7 1.8 .7-2 .7 1.3 .7 0 .7 .2 .7 .1 .7 0 .7-.8 .7 0 .7-.1 .7 .6 .7-.1 .7 0 .7 0 .7 0 .7 0 .7 0 .7 0 .7 0 .7 0 .7 0 .7 0 .7-.1 .7 0 .7 0 .7 0 .7 0 .7 0 .7 0 .7 0 .7 0 .7 0 .7 0 .7 0 .7 0 .7 0 .7 0 .7 0 .7 0 .7 0 .7 0 .7 0 .7 0 .7 0 .7 0 .7 0 .7-.1 .7 0 .7 0 .7 0 .7 0 .7 0 .7 0 .7 0 .7 0 .7 0 .7 0 .7 0 .7 .1 .7-.5 .7-.2 .7 2 .7-1.7 .7-.3 .7 .4 .7 .3 .7 .8 .7-.8 .7-.9 .7 .5 .7 1.3 .7-2.1 .7 1 .7 .7 .7-.5 .7-.3 .7-.4 .7 .6 .7 .2 .7-.2 .7 .5 .7-.5 .7 .7 .7-.7 .7 .4 .7-.7 .7 1.2 .7-.3 .7-.3 .7-1 .7 .7 .7-1.9 .7 1.5 .7 .4 .7-.7 .7 .6 .7 .3 .7 .7 .7-1.1 .7-.9 .7-.5 .7 1.3 .7 .7 .7 .1 .7-.6 .7-.5 .7 0 .7 .3 .7 .1 .7 .3 .7-.2 .7 1.1 .7-1.1 .7 .2 .7 .3 .7-.1 .7-.9 .7-.6 .7 .2 .7 1 .7 .1 .7-.2 .7 .3 .7 .3 .7-1.2 .7 2 .7 0 .7-1.1 .7-.6 .7 .3 .7-1 .7 .8 .7-.5 .7 .4 .7-.1 .7 1.4 .7-1.7 .7 .7 .7-.5 .7 1.2 .7-.3 .7-1.6 .7 .4 .7 .7 .7-.5 .7 .6 .7-.2 .7-.7 .7 .5 .7 .4 .7-.3 .7 .1 .7 .1 .7-.3 .7 .9 .7-1.6 .7 1.1 .7-.6 .7 .5 .7 .3 .7-.1 .7 0 .7 0 .7-.1 .7-.5 .7 .6 .7 .1 .7 0 .7-.4 .7 0 .7-1.4 .7 .7 .7 .4 .7 .7 .7 .1 .7-.6 .7-.8 .7 1 .7 .3 .7-.6 .7 0 .7 0 .7 0 .7 0 .7 0 .7 0 .7 0 .7 0 .7-.1 .7 0 .7 0 .7 0 .7 0 .7 0 .7 0 .7 0 .7 0 .7 0 .7 0 .7 0 .7 0 .7 0 .7 0 .7 0 .7 0 .7-.5 .7 .4 .7 .1 .7-.2 .7 .6 .7-.4 .7-1.1 .7 1.1 .7-.7 .7 .5 .7 .3 .7-.2 .7 .6 .7-.6 .7 0 .7 0 .7 0 .7 0 .7 0 .7 0 .7 0 .7 0 .7 0 .7 0 .7 0 .7 0 .7 0 .7 0 .7 0 .7 0 .7-.1 .7 0 .7 0 .7 0 .7 0 .7 0 .7 0 .7 0 .7 0 .7 0 .7 0 .7 0 .7 0 .7 0 .7 0 .7 0 .7 0 .7 0 .7 0 .7 0 .7 0 .7 0 .7 0 .7-.1 .7 0 .7 0 .7 0 .7 0 .7 0 .7 0 .7 .4 .7-1.7 .7 1.1 .7 .7 .7-.2 .7 .2 .7 .7 .7-1.7 .7 .1 .7 1 .7 .4 .7-.8 .7-.4 .7-.5 .7 1.1 .7-.2 .7-.9 .7 .4 .7-.3 .7 .9 .7-.4 .7 .8 .7 .1 .7-.6 .7 .5 .7-.1 .7 .3 .7-1.2 .7 .6 .7 .8 .7-.8 .7-.6 .7 .4 .7 1.2 .7-1.6 .7-.2 .7 1 .7-.8 .7-.7 .7 0 .7 .9 .7-.4 .7 1.3 .7-1.3 .7-.5 .7 .4 .7-.3 .7 1.5 .7-1.2 .7 1.4 .7-.6 .7 .9 .7-1.3 .7 .6 .7-1.8 .7 1 .7-.2 .7 1.1 .7-.7 .7 .4 .7-.8 .7-.4 .7 .8 .7 .8 .7-.8 .7 1 .7-1.2 .7 0 .7 0 .7 0 .7-.2 .7 .2 .7-.3 .7-.2 .7 1.6 .7-.4 .7-.7 .7-.2 .7-.6 .7 1.3 .7-.8 .7 1.6 .7-2.2 .7 1.2 .7 .6 .7-1.1 .7 1.6 .7-.7 .7 0 .7-1.1 .7 1.1 .7 0 .7-.5 .7 1 .7-.9 .7-1.6 .7 1.6 .7 .9 .7-1.5 .7 .8 .7-.8 .7 .4 .7-1.7 .7 .6 .7 .9 .7-.2 .7-.8 .7 1.6 .7-.3 .7-.7 .7-.7 .7 1.6 .7-.7 .7 .7 .7 .3 .7-.9 .7 0 .7 .6 .7-.6 .7-1 .7 1.5 .7-.2 .7-.5" fill="none" stroke="#00ffff" stroke-width="1.7" stroke-linejoin="round"/>
<path d="M165.5 1088.1l.7 1.6 .7-.3 .7-.5 .7-.7 .7-.4 .7 .2 .7-.2 .7-1.4 .7 .4 .7-.7 .7 1.6 .7-2.3 .7-.1 .7 .1 .7 .7 .7-1.1 .7 2.2 .7-1.1 .7-2.8 .7 2.1 .7 0 .7-1.5 .7 .9 .7 0 .7-.7 .7 .4 .7 .2 .7-.8 .7 .2 .7-1 .7 1.4 .7-1.2 .7 1.5 .7 .7 .7-.5 .7-1.9 .7 .7 .7-.6 .7 .5 .7-1.2 .7-.2 .7 .8 .7-.7 .7 1.7 .7-.5 .7-.4 .7-.5 .7 0 .7 .9 .7-.8 .7-.1 .7 1.5 .7-1.5 .7-.4 .7-.1 .7 1.3 .7-1.6 .7 0 .7 1.3 .7 0 .7 .1 .7-2 .7 1.1 .7-.9 .7 .8 .7-1.8 .7 1.1 .7 1.1 .7-.8 .7-2.3 .7 2.9 .7-.6 .7-.6 .7 .1 .7-.3 .7 1.2 .7-1 .7-1.4 .7 .6 .7 2 .7-.4 .7-.4 .7-1.4 .7 1.1 .7 .4 .7-.8 .7 .5 .7 .3 .7-.1 .7-.6 .7 0 .7-1.5 .7 .8 .7 1 .7 .7 .7-1.3 .7 .7 .7-.9 .7-.9 .7 1.2 .7 0 .7-1.2 .7 0 .7 .8 .7-.5 .7 .8 .7-1.6 .7 1.8 .7-1.2 .7 .8 .7-1.7 .7 2.2 .7-.7 .7 1.6 .7-3.2 .7-.2 .7 2.2 .7 .1 .7-2.3 .7 1.9 .7 .4 .7 .3 .7-1.1 .7-1.4 .7-.4 .7 3.4 .7-1.4 .7 .4 .7-1.1 .7 .1 .7 0 .7-.7 .7 .5 .7-.7 .7 .6 .7 1.3 .7-1 .7-.6 .7 2 .7-.3 .7-1.1 .7-1.6 .7 2.6 .7 0 .7-1.7 .7 1.7 .7-1.9 .7 .4 .7-.1 .7 .5 .7-.3 .7 1.3 .7-1.5 .7 .6 .7-.3 .7 .1 .7-.9 .7 .6 .7 1.2 .7-.5 .7-1.7 .7 .6 .7-.5 .7 .2 .7 0 .7-.5 .7 1.5 .7 .3 .7-.7 .7-.5 .7 .5 .7-.8 .7 1.5 .7 1.1 .7-4.3 .7 2.6 .7-.3 .7 .2 .7-.4 .7-1.1 .7 1.2 .7-.2 .7 .2 .7 .1 .7-.4 .7 2.4 .7-3 .7 .8 .7-.8 .7 1 .7 1.5 .7-1.4 .7-.6 .7-.4 .7 1.6 .7-1.1 .7 1.2 .7-1.1 .7 .1 .7 .4 .7-1.3 .7 2.4 .7-1.9 .7 1.1 .7 .3 .7 1.6 .7-1.6 .7 .3 .7-1.1 .7 .3 .7 .2 .7 .9 .7-1.7 .7 1.2 .7 2.1 .7-3.3 .7-.7 .7 1.2 .7 .3 .7 1.5 .7-.9 .7 .5 .7-1.5 .7 .6 .7 .3 .7-1 .7 1 .7-.5 .7 .5 .7-1.4 .7-.5 .7 2.9 .7-1.1 .7-.1 .7 2.3 .7-1.3 .7-.5 .7-.9 .7 .9 .7-.1 .7-.4 .7 1.4 .7-.5 .7-.1 .7-1.2 .7 .1 .7 1.6 .7-.8 .7-.6 .7 .8 .7-.3 .7-.3 .7 .2 .7 .8 .7-.3 .7-1 .7 .1 .7 .9 .7-1.2 .7 1.1 .7-.2 .7-1 .7-.9 .7 1.3 .7 .7 .7 0 .7 1.1 .7-1 .7-.1 .7 .4 .7-.6 .7 1.8 .7-1.9 .7-.3 .7 .4 .7 1.4 .7-1.4 .7-.2 .7 1.2 .7 .5 .7-1.3 .7 .9 .7-1.1 .7 1.8 .7-2.1 .7 .7 .7-.1 .7-.4 .7 .7 .7 .7 .7-1.3 .7 2.3 .7-1.3 .7 .1 .7-1 .7 .7 .7 .8 .7-1.6 .7 .3 .7-.1 .7-.4 .7 1.7 .7-1.2 .7 2.1 .7-2.5 .7 .8 .7 .4 .7-.9 .7-1 .7 1.3 .7 .6 .7-.8 .7 1.1 .7-1.8 .7 1.8 .7 1.6 .7-1 .7 .1 .7-1.1 .7-.1 .7 1.4 .7-1.3 .7 .9 .7-1.4 .7 1.2 .7-.1 .7-2.1 .7 1.9 .7 .6 .7 0 .7-.2 .7 .8 .7-1.1 .7-.6 .7 1.5 .7 1 .7-2 .7 1.6 .7-1.5 .7-1.1 .7 .6 .7 0 .7 1.8 .7-.9 .7-.6 .7 .6 .7 1.1 .7-1.2 .7-.5 .7 .9 .7-1 .7 1.2 .7 .4 .7-.6 .7-.6 .7 .5 .7-1.3 .7 2.6 .7 .7 .7-2 .7-1.7 .7 1.2 .7-.7 .7-.3 .7 1.5 .7 0 .7-.4 .7 1.5 .7-.9 .7-.8 .7 1.2 .7-1.4 .7 .8 .7-.4 .7 1 .7-.5 .7-.2 .7 .7 .7 .2 .7-.2 .7 .8 .7-1.8 .7 1.3 .7 1.1 .7-1.4 .7-1.9 .7 2.8 .7-1 .7 .8 .7-.3 .7 .3 .7 .6 .7-.9 .7 .6 .7-1.7 .7 .4 .7 .7 .7 1.5 .7-2 .7 .4 .7 .9 .7-1 .7-.6 .7-.5 .7 2.4 .7-1.6 .7 1.3 .7 .2 .7-1.3 .7 1.3 .7-2.2 .7 1.8 .7-.7 .7 1.1 .7 0 .7 0 .7 .4 .7-1 .7-.6 .7 .2 .7 1.9 .7-1.7 .7 .7 .7 .6 .7-.4 .7-.6 .7-1 .7 2.7 .7-1.3 .7-.8 .7 .9 .7 .6 .7-1.7 .7 1.9 .7-.1 .7 .4 .7-.3 .7-.8 .7-.5 .7 1.2 .7-.2 .7 1.8 .7-1.5 .7 .6 .7-.3 .7-1.5 .7 2.2 .7-1 .7-.8 .7 1.7 .7 .7 .7-1.1 .7-.1 .7-.3 .7 .3 .7 1.3 .7-.8 .7 .3 .7 .2 .7-3 .7 2.7 .7 .4 .7-.3 .7-1.4 .7 .7 .7 1.3 .7-.2 .7 0 .7-1.3 .7 1.3 .7 1 .7-1.1 .7 1.1 .7-.3 .7 0 .7-1.3 .7 .1 .7 0 .7 1.6 .7 .1 .7-1.9 .7-.1 .7 1.2 .7 1.1 .7-.9 .7 .4 .7-.1 .7 .1 .7-.6 .7 .6 .7 .2 .7-.6 .7 1.5 .7-2.2 .7 .6 .7-.4 .7 1.6 .7 .1 .7-1.5 .7 .7 .7-.4 .7-.8 .7 .5 .7 1 .7 .2 .7-1.1 .7 .7 .7 .7 .7 .5 .7-.9 .7-1 .7-.6 .7 1.4 .7-.3 .7-.2 .7-.1 .7 .2 .7 .6 .7 .4 .7-1.2 .7 2.3 .7-.4 .7-1.4 .7 .5 .7 1 .7-2 .7 .3 .7 0 .7-.3 .7 1.5 .7-.8 .7 .3 .7 0 .7-.2 .7 1.4 .7-1.4 .7-.5 .7-.5 .7 .6 .7 .8 .7 0 .7 .1 .7-.6 .7 .8 .7 0 .7-1.4 .7 1.4 .7 0 .7-.5 .7 1.1 .7-.8 .7-.7 .7 1.5 .7 .7 .7-2.5 .7 1 .7 .8 .7-.2 .7 .3 .7 .3 .7-2.6 .7 2.1 .7-1.9 .7 .6 .7-.1 .7 1.3 .7-1.8 .7 1.5 .7-1.3 .7 2.9 .7-2.1 .7 .5 .7-1 .7 .5 .7 1.6 .7-.8 .7-1.2 .7 .6 .7 .3 .7 1.6 .7-1.6 .7 .5 .7 .6 .7 1.1 .7-1.5 .7-1.4 .7 .1 .7 2.3 .7-1.1 .7-1.9 .7 1.2 .7 0 .7 .1 .7 .9 .7 0 .7 .6 .7-2.7 .7 1.9 .7-.4 .7-.7 .7 1.6 .7-1.8 .7-.1 .7 2.6 .7-1 .7 .4 .7 .4 .7-2.2 .7 2.3 .7-1.1 .7 .4 .7 .3 .7-.2 .7-.8 .7 .3 .7 .2 .7 .8 .7-2.8 .7 3.1 .7-1.9 .7 2.6 .7-1.4 .7 1.1 .7-1.7 .7 1.7 .7-1.1 .7 0 .7 .1 .7-2.5 .7 .9 .7-.1 .7 1.5 .7-.3 .7 .9 .7-.3 .7 .7 .7-1.6 .7 .9 .7-.7 .7-.5 .7-.5 .7 1.4 .7-.7 .7 .4 .7-.4 .7-.1 .7 3.4 .7-2.4 .7-1.1 .7 1 .7 .2 .7-1.3 .7 2.2 .7-1.7 .7 1.3 .7-.8 .7-.3 .7 3.5 .7-3.3 .7-.8 .7 .9 .7-.4 .7 1.8 .7-.5 .7-1.4 .7 2.6 .7-1.7 .7-.9 .7 2 .7-.3 .7-1.4 .7-.1 .7 .8 .7-.4 .7 1.1 .7-.2 .7-1.3 .7 .1 .7 .8 .7 1.3 .7-1.6 .7 1.1 .7-1.1 .7 1 .7-.9 .7 .9 .7-1.1 .7 .1 .7 2.4 .7-.9 .7-1.8 .7 2.1 .7-1.2 .7 1.4 .7-2.3 .7 1 .7-.2 .7-.2 .7-.4 .7 2.7 .7-1.7 .7-.2 .7-1.2 .7 2.5 .7 0 .7-1.1 .7-1 .7 1.6 .7-.4 .7-1.3 .7 3.1 .7-1.2 .7-1.4 .7 .1 .7 1.4 .7 .4 .7-.5 .7-.1 .7-.7 .7 2.1 .7-2 .7 .4 .7 .2 .7-.6 .7 .9 .7 .7 .7-3.2 .7 1.7 .7 1.3 .7 .1 .7-1.6 .7 1 .7-.4 .7 0 .7-.7 .7 1.5 .7 .1 .7 .4 .7-1.1 .7-.1 .7 .8 .7 1.9 .7-3 .7 .1 .7 1.6 .7-2.5 .7-1.2 .7 3.1 .7 .3 .7 0 .7-.3 .7 .1 .7-1.5 .7 1.5 .7-1.8 .7-.4 .7 1.1 .7-.9 .7 .2 .7 .4 .7 .2 .7 .5 .7-1 .7 .4 .7 .3 .7 .3 .7 .3 .7 .3 .7-.5 .7 .2 .7 .2 .7-.6 .7 .2 .7-.9 .7 1 .7 .6 .7-1.4 .7 1.7 .7-1.5 .7 1.3 .7 .6 .7-1.3 .7-.5 .7 .7 .7-.7 .7-.4 .7 1.7 .7-2.6 .7 2.5 .7-1.5 .7 1.5 .7-1.2 .7 2 .7-2 .7-1.5 .7 4.5 .7-2.5 .7-.1 .7 .1 .7-.3 .7 .6 .7-.9 .7 2.5 .7-2.5 .7 1.2 .7 .6 .7-1.3 .7 .9 .7-1.2 .7-.4 .7 .2 .7 1.7 .7-.1 .7-1.6 .7 1.6 .7-1.6 .7 .9 .7 .5 .7-2.4 .7 2.3 .7-.8 .7-1 .7 1.9 .7-.4 .7 .1 .7-.6 .7-.3 .7-.6 .7 1 .7-.7 .7 .5 .7 .7 .7 .3 .7-.3 .7-.1 .7-.5 .7 1.1 .7 .2 .7-1.5 .7 .1 .7-.5 .7 .6 .7-.1 .7 2 .7-.5 .7-2.3 .7 1.8 .7-.9 .7-1.3 .7 1.7 .7-.8 .7 .9 .7 .2 .7-1.1 .7 1.9 .7-1.2 .7-.8 .7-.7 .7 3.3 .7-2.6 .7 .7 .7 .2 .7 .6 .7-2 .7-.9 .7 2.2 .7-1.4 .7 1 .7 2 .7-2.3 .7 1.1 .7-1.5 .7 3.5 .7-2.9 .7 .7 .7-.5 .7-.4 .7 1.5 .7-1.2 .7-.6 .7 .4 .7 .2 .7 .3 .7 0 .7-.8 .7 .3 .7 2.2 .7-2 .7 1.4 .7-1.6 .7 .7 .7-.9 .7-1.1 .7 1.2 .7 1.2 .7 .3 .7-.1 .7-1.4 .7 .2 .7-.8 .7 1.3 .7 .4 .7-.5 .7-.8 .7 .9 .7-.2 .7 .3 .7-.6 .7 .3 .7-.8 .7-.1 .7-1.5 .7 2.4 .7-.1 .7-1 .7 2.2 .7-.3 .7 .4 .7-1.6 .7-.2 .7 .5 .7 .5 .7 .5 .7-2.2 .7 .6 .7-1.6 .7 1.5 .7 1 .7-.2 .7 1.4 .7-1.5 .7-1 .7-.3 .7 .9 .7 1.2 .7-2.6 .7 .2 .7 .9 .7-.4 .7 1.1 .7-1.2 .7 .4 .7-.1 .7 .2 .7 .9 .7-2.3 .7-.4 .7 .2 .7 1 .7 .3 .7 .3 .7-.2 .7-.2 .7-1.7 .7 1 .7 .9 .7-1.5 .7 .7 .7 0 .7 .7 .7-1.2 .7-.7 .7 1.1 .7 .1 .7 .9 .7-1.3 .7 .3 .7-.3 .7 0 .7 2.2 .7-4 .7 2.7 .7-1.2 .7 .7 .7-1.4 .7 1.4 .7-.9 .7 1.2 .7 .7 .7-2.3 .7-.4 .7 2.4 .7 .7 .7-1.8 .7-1.8 .7 .4 .7 2.2 .7 .6 .7-1.6 .7-1.1 .7 2.1 .7-2.2 .7 .6 .7 0 .7 0 .7 1 .7-1.4 .7 .9 .7 .8 .7 0 .7 .2 .7-1.6 .7-1.2 .7 1.6 .7 0 .7 0 .7-.6 .7 .7 .7-1.4 .7 1.6 .7 .8 .7-1.5 .7-.1 .7 .5 .7-.2 .7 0 .7-.4 .7-.4 .7 1.5 .7-2.4 .7 2 .7-1.8 .7 1.1 .7-1.3 .7-.5 .7 .4 .7 0 .7 1.9 .7-1.7 .7-.2 .7-.2 .7 .7 .7 0 .7 .4 .7-1.1 .7-.5 .7 1 .7 .7 .7-.1 .7-1.6 .7 .4 .7 .7 .7-.9 .7-.7 .7 1.3 .7-.5 .7 .5 .7 .4 .7-1.2 .7-.6 .7 .3 .7 1.3 .7-.6 .7 .5 .7-1 .7 .9 .7-1.1 .7-.2 .7 .5 .7-.2 .7-.1 .7 .2 .7 .7 .7-1.4 .7-1 .7 1.8 .7 1.2 .7-.7 .7-2 .7 1.4 .7 .5 .7-.2 .7 .7 .7-.9 .7-3.1 .7 2.8 .7-1.2 .7-.2 .7-.7 .7 .3 .7 .8 .7 1.2 .7 0 .7-.5 .7 .5 .7-1.5 .7-.4 .7 2.3 .7-1.3 .7-.7 .7 .9 .7-1.4 .7 2 .7-2.6 .7 .7 .7 .2 .7 0 .7-1 .7 1.8 .7-.3 .7-.5 .7 .4 .7-.9 .7 1.1 .7-1.3 .7-.5 .7 .7 .7 0 .7 .4 .7 .2 .7 .8 .7-2.6 .7-.3 .7 1.6 .7 .8 .7-.3 .7-1 .7-.1 .7-.1 .7 1.7 .7-1.7 .7 .4 .7-1.4 .7 1.8 .7-1 .7-.1 .7-.1 .7 .1 .7 2.4 .7-1.8 .7-.1 .7-1.2 .7-.6 .7-.7 .7 1.3 .7 .6 .7 0 .7-1.5 .7 1.8 .7-1.1 .7 1.4 .7-1.3 .7 .3 .7-.8 .7 0 .7 .6 .7 .4 .7 .1 .7-1.3 .7-.5 .7 1.4 .7 .7 .7-1.6 .7 0 .7 0 .7 .6 .7 .5 .7-1.7 .7 1.1 .7 .9 .7-.8 .7-1.2 .7-.7 .7 1.3 .7 1 .7-.5 .7 .5 .7-1.6 .7 .4 .7-.8 .7 1.1 .7-.7 .7-.5 .7 .2 .7 .8 .7 .2 .7-.1 .7 1.3 .7-1.4 .7-1.5 .7 1.7 .7-1.7 .7-.3 .7 1.5 .7-1.1 .7 .4 .7-.4 .7 .2 .7-1.4 .7 2.2 .7 .2 .7-1.3 .7 1.3 .7-.4 .7 .2 .7 .2 .7-2.3 .7 1.7 .7-.9 .7 .7 .7-.9 .7 1.9 .7-.3 .7-1.5 .7 .3 .7-.2 .7 0 .7 .5 .7-1.6 .7-.5 .7 2.1 .7-.7 .7-.7 .7-.2 .7-.7 .7 1 .7-1.3 .7 1.5 .7 .1 .7-.8 .7 1.4 .7-.3 .7-.5 .7-.9 .7 .1 .7-.3 .7-.9 .7 1.6 .7 .6 .7-1.9 .7 1.5 .7-.5 .7 .2 .7 .5 .7 .1 .7-1.4 .7 1.2 .7-1 .7-1.9 .7 3.9 .7-1.8 .7-.3 .7 1.4 .7-.8 .7-.9 .7 .6 .7 .1 .7-.5 .7-1.9 .7 2.1 .7-1 .7-.1 .7 .9 .7 1.8 .7-2.9 .7 1.2 .7-1.5 .7-.2 .7 1 .7 1.1 .7-.6 .7 0 .7 .7 .7-.6 .7-1 .7-.3 .7 .5 .7 .5 .7-.6 .7 0 .7-.3 .7-.2 .7-.4 .7 .3 .7 2.2 .7-.7 .7 .3 .7-1.1 .7-.3 .7 .8 .7-1.1 .7 1.3 .7-.9 .7 .5 .7-1.4 .7 2.2 .7-1.4 .7 .4 .7-1.3 .7 0 .7 1.2 .7-2.1 .7 2.5 .7-1.6 .7 1.3 .7-1.5 .7 .5 .7 .1 .7 .7 .7-1.6 .7 1.2 .7-.3 .7 .4 .7-1.4 .7 .7 .7-.7 .7 .3 .7 1.2 .7 0 .7-1.8 .7 .6 .7 .1 .7-.8 .7 .4 .7-.6 .7 1.4 .7-1.4 .7 2 .7-2.9 .7 2.2 .7 0 .7-1.1 .7-1 .7 1.6 .7-1.2 .7 2 .7-.9 .7-.1 .7 .1 .7 .5 .7-.7 .7 .5 .7-.2 .7-.8 .7 1.4 .7 .4 .7-.5 .7-.8 .7 .4 .7-1.5 .7 .2 .7-.1 .7 .3 .7 1.1 .7-1.4 .7 .2 .7-.8 .7 .7 .7-.9 .7 2.2 .7-.9 .7 .8 .7 .4 .7-.8 .7-.1 .7-.2 .7-.5 .7-1.5 .7 2 .7-.8 .7-.3 .7 .4 .7 .4 .7 .6 .7-1.5 .7-.2 .7 2 .7-.5 .7 .2 .7-.9 .7-1 .7 2.3 .7-.1 .7-1.6 .7 .8 .7 .6 .7 1.1 .7-1.1 .7-.5 .7-.7 .7-.2 .7 .3 .7-.5 .7 1 .7-.4 .7-.3 .7-.7 .7 .9 .7-.4 .7 .6 .7-1.1 .7 1.3 .7-.7 .7 1.7 .7-2.3 .7 2.3 .7 .8 .7-2.5 .7 1.7 .7-.7 .7-2 .7 .5 .7 1.3 .7-.6 .7 .5 .7-.4 .7 .8 .7-1.4 .7-.7 .7 .3 .7 .5 .7-.7" fill="none" stroke="#00ff00" stroke-width="2.0" stroke-linejoin="round"/>
<path d="M165.5 1204.2l.7-.2 .7-.1 .7 .2 .7-.4 .7 1.1 .7-.8 .7 .5 .7-1.9 .7 1.1 .7-.5 .7-1.3 .7 3.3 .7-2.9 .7 1.7 .7-.1 .7 .3 .7-1.4 .7-1.9 .7 2.7 .7-.7 .7 .6 .7-.7 .7 1.1 .7-.6 .7-.8 .7 2.3 .7-2.6 .7-1.4 .7 2 .7 .3 .7 0 .7-1 .7 .5 .7-.8 .7 .4 .7 .9 .7-1.1 .7 1.1 .7-.9 .7 .3 .7-.4 .7 1.2 .7-.9 .7-.8 .7 .8 .7 .9 .7-.8 .7-1.2 .7 .2 .7-.2 .7 2 .7-1 .7 .5 .7-.1 .7-1 .7 1.2 .7-1 .7 .3 .7-2 .7 1.6 .7-.3 .7-.3 .7 .8 .7-1.3 .7 .8 .7-1.9 .7 1.9 .7-.4 .7 2 .7-1.3 .7 .3 .7-3 .7 2.1 .7-.7 .7 2.1 .7-.3 .7-.8 .7 0 .7 0 .7-.2 .7 .6 .7-.1 .7-.7 .7-.5 .7 2 .7-1.8 .7-.2 .7 2.5 .7-1.9 .7-.2 .7-1 .7 .2 .7 2 .7-1.4 .7 1.2 .7-1.9 .7 1.6 .7-.6 .7-.5 .7-1.2 .7 2.7 .7-1.1 .7-.1 .7 .7 .7-1.6 .7 2 .7-.5 .7-.2 .7 0 .7-1.1 .7 .4 .7 .5 .7-.8 .7 1.5 .7-.4 .7 .4 .7-2.4 .7 2.5 .7-1.7 .7-.3 .7 .4 .7 1.4 .7-.8 .7-.1 .7 .5 .7 0 .7 .1 .7-.2 .7-.6 .7 .2 .7-1.6 .7 1 .7-1.8 .7 1.8 .7 .1 .7-.7 .7 .1 .7 1.3 .7-1.2 .7 .3 .7 1.6 .7-1.4 .7 .5 .7-.4 .7 .1 .7 .4 .7-1.1 .7 .8 .7-1.1 .7 0 .7 .9 .7-1.1 .7-1.7 .7 2 .7 1.2 .7-1.9 .7 1.3 .7-.8 .7-1 .7 .9 .7-1.6 .7 2.9 .7-1.4 .7 .6 .7-.3 .7-1.3 .7 .9 .7 1.3 .7-.3 .7-1 .7-.4 .7 .6 .7-1.1 .7 1.3 .7-1.6 .7 .7 .7 1.4 .7-.7 .7-.6 .7 .7 .7-.4 .7 .5 .7 .7 .7-1 .7-1.3 .7 1.8 .7-1.1 .7 1.7 .7-.1 .7-.9 .7 .5 .7-1.6 .7-.3 .7 1.2 .7 .6 .7 .9 .7-1.7 .7-.2 .7 .1 .7 .1 .7 .8 .7-1.4 .7 1.9 .7-1.8 .7 3.1 .7-2 .7 .2 .7-1.5 .7 1.7 .7-1.9 .7 2.4 .7-1.3 .7 .8 .7 .2 .7 .4 .7 .3 .7-.1 .7-.3 .7-1.2 .7-.4 .7 1.6 .7-.3 .7-.7 .7 .4 .7 .8 .7 0 .7-1.2 .7-.6 .7-.5 .7 1.2 .7 .2 .7-.9 .7 2 .7 .7 .7-2.2 .7 1.3 .7-.7 .7 .6 .7-.3 .7-.2 .7 .9 .7-.2 .7-1 .7 .8 .7-.9 .7 .5 .7 .6 .7-.1 .7-1.7 .7 1.8 .7-1.5 .7 1.2 .7 .4 .7-1.8 .7 .4 .7 1.6 .7-.5 .7-1.9 .7 2.5 .7-1.3 .7-.4 .7 1.2 .7-.8 .7 .6 .7 .2 .7 1.8 .7-1.2 .7-.6 .7-.1 .7 .3 .7 .1 .7-.9 .7 .9 .7-1 .7 .2 .7 .4 .7 .9 .7-.1 .7-3.2 .7 3.5 .7-.9 .7 0 .7 1.2 .7-1.9 .7-.2 .7-.8 .7 .7 .7 1.7 .7-1.4 .7-.1 .7 1.2 .7-1.2 .7 .2 .7 0 .7 1 .7-.9 .7 .2 .7 .3 .7-1.4 .7 1.3 .7-1.3 .7 .6 .7 .6 .7 .5 .7-.3 .7 1.1 .7-.8 .7 .4 .7-.8 .7-.2 .7 2 .7-2.8 .7 2.4 .7-1.6 .7 1.2 .7-1.6 .7 1.5 .7-.2 .7-2 .7 1.3 .7 1.1 .7 .3 .7-.6 .7-.7 .7 .4 .7-1 .7 .3 .7 1 .7-.2 .7 .6 .7-.4 .7 .4 .7-.6 .7 .6 .7 1.6 .7-2.9 .7 1 .7-.5 .7 .8 .7 0 .7-1.1 .7 .8 .7 .1 .7-.2 .7 .3 .7 .9 .7-.6 .7-.7 .7 .4 .7 1.5 .7-2.2 .7 1.5 .7-1.5 .7-.7 .7 .7 .7 .9 .7-.5 .7-.3 .7-.1 .7-.1 .7-.1 .7 .4 .7-1.6 .7 2.5 .7-.1 .7-.2 .7 .7 .7-1.2 .7 .5 .7-2.2 .7 2.4 .7-.5 .7 .8 .7 .3 .7-.9 .7-.9 .7 1.4 .7 .4 .7 .1 .7-1.2 .7-.3 .7 .6 .7-.7 .7-.9 .7 2.1 .7 .1 .7 .2 .7-1.2 .7 .7 .7-1 .7-.2 .7 1.7 .7-1.9 .7 1.3 .7 2.2 .7-.9 .7-.4 .7 0 .7-.7 .7-.3 .7 2.2 .7-1.8 .7-.3 .7 1.1 .7-.6 .7 1.2 .7-1.6 .7-.1 .7 .3 .7 1.7 .7-.5 .7-.5 .7-.1 .7 .2 .7-1.1 .7 1.3 .7-.8 .7 .6 .7-.1 .7 .3 .7-.7 .7 1.3 .7-.5 .7-.9 .7 1 .7-.6 .7 .6 .7 .4 .7-1.1 .7 .5 .7 .1 .7 0 .7 1.7 .7-1.4 .7-1.2 .7 1 .7-.5 .7 2.5 .7-2.5 .7-.4 .7 1.6 .7-1 .7 .1 .7 .2 .7-.4 .7 .3 .7-1.5 .7 1.8 .7 .6 .7 1.1 .7-1.5 .7 .7 .7-1.3 .7 1.9 .7 .7 .7-1.6 .7-.5 .7 .3 .7 1.3 .7-2.3 .7 2.1 .7-1.8 .7 .1 .7 1 .7 .3 .7 .3 .7 .4 .7-2.1 .7 1 .7 .7 .7-.4 .7 .7 .7-.9 .7-.2 .7-1.6 .7 .3 .7 2.3 .7-1.6 .7 1.2 .7 .3 .7-.6 .7 1 .7-1.4 .7 1.1 .7-.6 .7-1.1 .7-.4 .7 1.5 .7 1.6 .7-.4 .7-.5 .7 .3 .7 .1 .7-1 .7 1.4 .7-.9 .7-.6 .7 3.7 .7-2.7 .7-.6 .7 .7 .7-1.6 .7 0 .7 2.6 .7-1 .7-1.5 .7-.4 .7 1.3 .7-.8 .7 2 .7-2.7 .7 2.6 .7-1.8 .7-.2 .7 1.1 .7-1.1 .7 .6 .7 0 .7-1.6 .7 1.1 .7 1.3 .7-2 .7 .6 .7 .4 .7 1.5 .7 0 .7 .5 .7-2 .7 1.5 .7-.5 .7-1.3 .7 1.6 .7-.4 .7-.6 .7-.3 .7-.5 .7 1.8 .7 0 .7-.6 .7-.1 .7-.1 .7 1.1 .7-.4 .7-1.7 .7 1.6 .7 .3 .7-.9 .7 .1 .7 0 .7 1 .7-.9 .7 .4 .7 .1 .7 1.2 .7-2.5 .7 3.2 .7-3 .7 .9 .7-.5 .7 .8 .7 .4 .7 1.5 .7-.9 .7-1.6 .7 .8 .7-.1 .7-.7 .7 1.1 .7-.2 .7-.6 .7-.2 .7 1.2 .7-.7 .7 1.1 .7-.3 .7-1.7 .7-.8 .7 1.9 .7-.6 .7-.3 .7 .3 .7 1.8 .7-1.4 .7 1.8 .7-.9 .7-2.1 .7 1.8 .7 .9 .7-2.7 .7 .4 .7 1 .7-.3 .7 1.9 .7-2.2 .7 2.2 .7-2.6 .7 .5 .7 1 .7 .2 .7-.3 .7 1.2 .7 .2 .7 .2 .7-1.8 .7 .8 .7-.9 .7 1.5 .7-3.2 .7 1.4 .7 .4 .7-.2 .7 1.8 .7-2.6 .7 .5 .7-.3 .7 1 .7-.7 .7 1.6 .7-.1 .7-2.5 .7 0 .7 2.5 .7-.3 .7-1.7 .7 1.3 .7-1 .7 1.8 .7-1.8 .7 .6 .7 .9 .7-.3 .7 .9 .7-.6 .7-1.6 .7 1.5 .7-1.2 .7 2.3 .7 .1 .7-.4 .7 .9 .7-1.1 .7 .5 .7-.4 .7 0 .7 0 .7-.5 .7 1.3 .7-2.5 .7-.4 .7 .7 .7 2.1 .7-1.6 .7-.5 .7 0 .7 1.1 .7-.4 .7 1.1 .7-1.3 .7 1.1 .7-1.5 .7 1.2 .7 2.1 .7-2.7 .7 .1 .7 .9 .7-1.7 .7 .5 .7 0 .7 .6 .7-1.3 .7 2.4 .7-1.1 .7 0 .7-.2 .7 .1 .7-2 .7 3.1 .7-1.8 .7 1.5 .7-.9 .7 0 .7 .6 .7 1 .7-1.5 .7-.4 .7 1 .7-2.5 .7 1.3 .7-.1 .7 .6 .7-.9 .7 1.9 .7-.9 .7 .4 .7-.1 .7-.3 .7-.3 .7 1.7 .7-.4 .7 .6 .7-1.4 .7 .4 .7 .1 .7-.6 .7 .3 .7-1.4 .7 .4 .7 .2 .7-.1 .7 1.3 .7 0 .7 0 .7-.5 .7 1.1 .7-.1 .7-.3 .7-.8 .7 1.7 .7-2.4 .7-.3 .7 .3 .7 2.1 .7-.9 .7-.6 .7-1.5 .7 1.8 .7-.6 .7-.9 .7 2.7 .7-.9 .7 1.2 .7-1.2 .7 .5 .7-1.1 .7 1.2 .7-.9 .7 .9 .7-.4 .7-1.1 .7 1 .7 .1 .7-.7 .7 .5 .7 .9 .7 .3 .7-1 .7-2 .7 2.6 .7 1 .7-1.8 .7-.5 .7 1 .7-.1 .7 .6 .7-1.3 .7 2.1 .7-.7 .7-1.7 .7 1.8 .7-1 .7 .7 .7-.2 .7-.3 .7 .2 .7-.6 .7-.2 .7 .4 .7 0 .7 .6 .7-.2 .7-1.5 .7 2.1 .7-.8 .7 .8 .7-.1 .7-.4 .7 .3 .7-1.7 .7 2.6 .7 .3 .7-1.1 .7-1 .7 1.1 .7-.9 .7 1.7 .7-1.8 .7-.6 .7 .3 .7 .1 .7 1.3 .7-.7 .7 .3 .7-.5 .7 1.4 .7-1.1 .7 .2 .7 1.2 .7-1.1 .7-.7 .7 .3 .7 1.2 .7-.7 .7-.9 .7 1.6 .7-2.2 .7-.6 .7 1 .7-.7 .7 1.4 .7 .2 .7-.2 .7-.3 .7-.4 .7 1.7 .7-2.4 .7 2.3 .7-.4 .7-.3 .7 .5 .7-1.7 .7 2.1 .7-.3 .7 .5 .7-2.7 .7 2 .7-.4 .7-1.8 .7 1.7 .7 .3 .7-.7 .7 1 .7 .2 .7-.8 .7 .1 .7 .9 .7-1.5 .7 1.3 .7 .7 .7-1.1 .7 .3 .7-.3 .7 .7 .7-2 .7-.2 .7 .8 .7 .2 .7 1.3 .7 .3 .7-.6 .7 .5 .7-1.4 .7-.1 .7-.9 .7 2.3 .7-.5 .7-.5 .7-1.1 .7 .2 .7 1.3 .7-.4 .7 .9 .7-.8 .7-.7 .7-.5 .7 1 .7 1.4 .7 .3 .7-2.3 .7 1 .7-1 .7 .8 .7-2.6 .7 1.8 .7-1 .7 2.8 .7-1.6 .7 .7 .7-.3 .7-1.2 .7 1.6 .7 .4 .7-.7 .7 .3 .7 .4 .7-.4 .7-.6 .7-1.3 .7 .6 .7 .1 .7 1.3 .7 .5 .7-1.1 .7 .8 .7-2.9 .7 2.3 .7-1.3 .7 1.8 .7 .3 .7-.1 .7-.3 .7 .3 .7 .5 .7-2 .7 1.8 .7-1.6 .7-.9 .7 1.7 .7 .1 .7-.4 .7-.8 .7 1 .7-.7 .7 2.2 .7-1.8 .7 .1 .7-.9 .7 1 .7 .8 .7-2 .7 .3 .7-1.4 .7 1.5 .7 1.4 .7-2.4 .7 .7 .7-.3 .7 .3 .7-.4 .7 .3 .7-.7 .7 1.1 .7 .6 .7-.2 .7-2.2 .7 2.6 .7-.5 .7 .3 .7-1.7 .7 .2 .7 1.1 .7 .8 .7-2.3 .7 1 .7 .1 .7-.7 .7 .6 .7-.7 .7 1.4 .7-2.4 .7 1.6 .7-.8 .7 .4 .7-.8 .7-1.8 .7 3.8 .7-.6 .7-.3 .7-.4 .7 .2 .7-.5 .7 .3 .7 1.1 .7-1.8 .7-.2 .7 2.3 .7-2 .7 .5 .7-.3 .7 .6 .7 0 .7-.5 .7-.9 .7 0 .7 .8 .7 1.5 .7-3.1 .7 1.4 .7 .4 .7-.9 .7 .7 .7-.3 .7 .7 .7 .7 .7-1.7 .7 .5 .7 .1 .7-.3 .7-.1 .7-1.9 .7 1.9 .7-1 .7 .5 .7 .7 .7 .1 .7-.9 .7-.1 .7 .1 .7-.6 .7 2.1 .7 .2 .7-1.7 .7 1.5 .7-.7 .7-1.6 .7 1.6 .7-.2 .7-.5 .7-1.4 .7 .7 .7-1.4 .7 1.9 .7-.3 .7-.7 .7-.2 .7 2.2 .7-2.4 .7 1.8 .7-.5 .7 .9 .7-2.4 .7 1.4 .7 .9 .7-1.2 .7-1.1 .7-.5 .7 1.1 .7 1.4 .7 .4 .7-1.3 .7 .7 .7 .1 .7-.4 .7-1.2 .7 1.3 .7-1.5 .7 .9 .7 .5 .7 .2 .7-1 .7 1 .7 .3 .7-.4 .7-.9 .7 .2 .7-.2 .7 0 .7 .5 .7 .3 .7-.9 .7 .5 .7-.4 .7-.1 .7-1 .7 1.1 .7-.4 .7 .3 .7 .6 .7-.3 .7 0 .7-1.1 .7-.9 .7 1 .7 .2 .7 .2 .7 .9 .7-.9 .7 .9 .7-1.5 .7-.6 .7 1.6 .7-1.7 .7-.4 .7 .8 .7 .7 .7 .6 .7-.9 .7 .7 .7-.8 .7-1.4 .7 .5 .7-.6 .7 1.3 .7-1.7 .7 .6 .7 .4 .7 1.5 .7-.4 .7-.8 .7 .5 .7-.4 .7 2.4 .7-3.7 .7-.3 .7 .1 .7 .3 .7 .9 .7 1.1 .7-1.1 .7 0 .7 .1 .7 .2 .7-.9 .7 1.2 .7-.6 .7 .2 .7 .3 .7-.1 .7 .2 .7-1.4 .7 1.1 .7-1.7 .7-.5 .7 1.4 .7 .6 .7 0 .7-.1 .7 .4 .7-2.2 .7 1 .7 .2 .7-.5 .7 .9 .7 .2 .7-.3 .7-.2 .7 1.8 .7-1.8 .7-.1 .7 1 .7 .4 .7-2.3 .7-.1 .7 2 .7-.3 .7-.2 .7-1 .7 .8 .7-1.8 .7 .2 .7 2.2 .7-2.3 .7 .9 .7 .6 .7-.3 .7-1.2 .7 .4 .7 .9 .7-.8 .7 1.7 .7-1.6 .7 1.6 .7-1.5 .7 1 .7-.7 .7-.3 .7-1.2 .7 1.5 .7-.4 .7 .2 .7-.8 .7-.3 .7-.1 .7 .7 .7 .8 .7-1.1 .7-.6 .7 .2 .7-.3 .7-.4 .7 1 .7-.3 .7 .2 .7 1.8 .7-.8 .7 .4 .7-1.2 .7 .2 .7-.9 .7-.8 .7 .1 .7 1 .7 .6 .7 1.4 .7-1.9 .7-1.2 .7 .9 .7 .7 .7-1.4 .7 .5 .7 .8 .7-.4 .7 .3 .7-.4 .7-.1 .7 1.2 .7-.5 .7-.5 .7 .2 .7-.5 .7-.1 .7 .4 .7-.2 .7 1.9 .7-1.9 .7 .1 .7 1.4 .7-2.6 .7 .9 .7 .9 .7-.9 .7-.3 .7-.6 .7 .6 .7-.6 .7 1.4 .7-.4 .7-.8 .7 1.2 .7-1.8 .7 .1 .7 1.3 .7-.4 .7-1.2 .7 .2 .7 .4 .7-.3 .7 .6 .7-.3 .7 .5 .7-.5 .7 .3 .7-.6 .7 .6 .7-.1 .7 .3 .7-.3 .7-.7 .7 .3 .7 1.1 .7-1.4 .7 .3 .7 1.2 .7-.8 .7 0 .7-1.3 .7-.1 .7 1 .7 1.5 .7-3.3 .7 .1 .7 1.8 .7-.3 .7-1.1 .7 1.6 .7-.7 .7-.5 .7 .2 .7-.4 .7 .7 .7-.9 .7-.3 .7 .3 .7 .8 .7 .6 .7-1.5 .7-.3 .7 1 .7 .7 .7-1.3 .7 1.5 .7-1.9 .7 1.8 .7-.6 .7-2 .7 1.8 .7-.7 .7 0 .7-.5 .7 .6 .7-.6 .7 .7 .7 .7 .7 .2 .7-.2 .7-.3 .7-.3 .7-.6 .7-.8 .7 1.7 .7-1.2 .7 .5 .7-1.3 .7 1.4 .7 .8 .7-1.3 .7 .8 .7-.9 .7 .3 .7-.6 .7-1.8 .7 2.4 .7 .1 .7 0 .7 .9 .7-.6 .7-.5 .7-.9 .7 2.9 .7-3.5 .7 .7 .7-.1 .7 1.3 .7-.7 .7 .2 .7-1.9 .7 .9 .7 1.3 .7-1.3 .7-.6 .7 1.1 .7-.6 .7 .4 .7 .3 .7-1.1 .7 .7 .7 1.1 .7-1.3 .7 0 .7-.3 .7 .7 .7 .2 .7-1.2 .7 .8 .7 1.2 .7-2.7 .7 2.2 .7-.2 .7-2 .7-.1 .7 .9 .7 1.6 .7-1.7 .7 .5 .7 .1 .7-.2 .7 1.7 .7-1.5 .7-1.2 .7 1.2 .7 .3 .7-1.5 .7 1 .7-.6 .7-.6 .7 .3 .7 1.4 .7-.9 .7-1.2 .7 1.9 .7-.8 .7-2.3 .7 1.6 .7-1.1 .7 1.4 .7 2.8 .7-.6 .7-1.5 .7-1 .7-.3 .7 .4 .7 .8 .7 .8 .7-1 .7 1 .7-1.2 .7-1.7 .7 2 .7 .6 .7-.4 .7 .4 .7-1.7 .7 .5 .7 .3 .7 .2 .7 .2 .7 .3 .7-1.2 .7-.5 .7 .4 .7 .2 .7-.2 .7-.4 .7 1.5 .7 0 .7 0 .7-.2 .7-.2 .7-.9 .7 .1 .7 .5 .7-1.8 .7 1.7 .7-1.8 .7 3.1 .7-1 .7-1.1 .7 .5 .7-.4 .7 1.7 .7-.4 .7-.8 .7-.5" fill="none" stroke="#ffff00" stroke-width="2.0" stroke-linejoin="round"/>
<rect x="225.9" y="1071.8" width="1.2" height="10" fill="#262626"/>
<rect x="225.9" y="1223" width="1.2" height="10" fill="#262626"/>
<rect x="513.9" y="1071.8" width="1.2" height="10" fill="#262626"/>
<rect x="513.9" y="1223" width="1.2" height="10" fill="#262626"/>
<rect x="800.9" y="1071.8" width="1.2" height="10" fill="#262626"/>
<rect x="800.9" y="1223" width="1.2" height="10" fill="#262626"/>
<rect x="1087.9" y="1071.8" width="1.2" height="10" fill="#262626"/>
<rect x="1087.9" y="1223" width="1.2" height="10" fill="#262626"/>
<rect x="165.5" y="1124.8000000000002" width="10" height="1.2" fill="#262626"/>
<rect x="1144.5" y="1124.8000000000002" width="10" height="1.2" fill="#262626"/>
<rect x="165.5" y="1178.5" width="10" height="1.2" fill="#262626"/>
<rect x="1144.5" y="1178.5" width="10" height="1.2" fill="#262626"/>
<rect x="165.5" y="1071.8" width="989" height="161.20000000000005" fill="none" stroke="#262626" stroke-width="1.2"/>
<g font-family="'DejaVu Sans', sans-serif" font-size="20.83" fill="#262626" text-anchor="end">
<text x="157.0" y="1079.2">-20</text>
<text x="157.0" y="1133">-30</text>
<text x="157.0" y="1186.7">-40</text>
<text x="157.0" y="1240.2">-50</text>
</g>
<g font-family="'DejaVu Sans', sans-serif" font-weight="bold" font-size="18.75" fill="#262626" text-anchor="middle">
<text transform="translate(84.5 1152) rotate(-90)">Temperature</text>
<text transform="translate(110.5 1152) rotate(-90)">(°C)</text>
</g>
<rect x="412.0" y="1306.3" width="1" height="163.20000000000005" fill="#dfdfdf"/>
<rect x="659.5" y="1306.3" width="1" height="163.20000000000005" fill="#dfdfdf"/>
<rect x="906.5" y="1306.3" width="1" height="163.20000000000005" fill="#dfdfdf"/>
<rect x="165.5" y="1387.2" width="989" height="1" fill="#dfdfdf"/>
<path d="M194.3 1408.7V1418M199.7 1408.7V1418M200.6 1408.7V1418M209.6 1408.7V1418M224.9 1408.7V1418M231.2 1408.7V1418M233 1408.7V1418M237.5 1408.7V1418M264.5 1408.7V1418M269 1408.7V1418M287.9 1408.7V1418M291.5 1408.7V1418M306.8 1408.7V1418M311.3 1408.7V1418M326.6 1408.7V1418M327.5 1408.7V1418M331.1 1408.7V1418M332.9 1408.7V1418M341.9 1408.7V1418M350.9 1408.7V1418M365.3 1408.7V1418M369.8 1408.7V1418M377.9 1408.7V1418M380.6 1408.7V1418M382.4 1408.7V1418M385.1 1408.7V1418M395 1408.7V1418M398.6 1408.7V1418M405.8 1408.7V1418M413.9 1408.7V1418M417.5 1408.7V1418M429.2 1408.7V1418M438.2 1408.7V1418M439.1 1408.7V1418M452.6 1408.7V1418M456.2 1408.7V1418M472.4 1408.7V1418M487.7 1408.7V1418M490.4 1408.7V1418M494 1408.7V1418M496.7 1408.7V1418M500.3 1408.7V1418M502.1 1408.7V1418M503 1408.7V1418M503.9 1408.7V1418M524.6 1408.7V1418M529.1 1408.7V1418M530.9 1408.7V1418M539.9 1408.7V1418M565.1 1408.7V1418M674 1408.7V1418M674.9 1408.7V1418M675.8 1408.7V1418M676.7 1408.7V1418M677.6 1408.7V1418M679.4 1408.7V1418M680.3 1408.7V1418M681.2 1408.7V1418M682.1 1408.7V1418M683 1408.7V1418M683.9 1408.7V1418M684.8 1408.7V1418M686.6 1408.7V1418M687.5 1408.7V1418M688.4 1408.7V1418M689.3 1408.7V1418M690.2 1408.7V1418M691.1 1408.7V1418M692.9 1408.7V1418M695.6 1408.7V1418M696.5 1408.7V1418M697.4 1408.7V1418M698.3 1408.7V1418M701 1408.7V1418M701.9 1408.7V1418M702.8 1408.7V1418M703.7 1408.7V1418M704.6 1408.7V1418M705.5 1408.7V1418M706.4 1408.7V1418M707.3 1408.7V1418M708.2 1408.7V1418M709.1 1408.7V1418M710 1408.7V1418M710.9 1408.7V1418M711.8 1408.7V1418M712.7 1408.7V1418M713.6 1408.7V1418M714.5 1408.7V1418M715.4 1408.7V1418M716.3 1408.7V1418M717.2 1408.7V1418M718.1 1408.7V1418M719 1408.7V1418M719.9 1408.7V1418M721.7 1408.7V1418M722.6 1408.7V1418M724.4 1408.7V1418M726.2 1408.7V1418M728 1408.7V1418M728.9 1408.7V1418M729.8 1408.7V1418M730.7 1408.7V1418M731.6 1408.7V1418M732.5 1408.7V1418M733.4 1408.7V1418M734.3 1408.7V1418M735.2 1408.7V1418M736.1 1408.7V1418M737.9 1408.7V1418M738.8 1408.7V1418M739.7 1408.7V1418M740.6 1408.7V1418M741.5 1408.7V1418M742.4 1408.7V1418M743.3 1408.7V1418M744.2 1408.7V1418M745.1 1408.7V1418M746 1408.7V1418M746.9 1408.7V1418M747.8 1408.7V1418M749.6 1408.7V1418M750.5 1408.7V1418M751.4 1408.7V1418M752.3 1408.7V1418M755 1408.7V1418M755.9 1408.7V1418M756.8 1408.7V1418M757.7 1408.7V1418M758.6 1408.7V1418M759.5 1408.7V1418M760.4 1408.7V1418M761.3 1408.7V1418M762.2 1408.7V1418M763.1 1408.7V1418M764 1408.7V1418M764.9 1408.7V1418M765.8 1408.7V1418M766.7 1408.7V1418M768.5 1408.7V1418M769.4 1408.7V1418M770.3 1408.7V1418M773 1408.7V1418M774.8 1408.7V1418M776.6 1408.7V1418M777.5 1408.7V1418M778.4 1408.7V1418M779.3 1408.7V1418M780.2 1408.7V1418M781.1 1408.7V1418M782 1408.7V1418M782.9 1408.7V1418M783.8 1408.7V1418M784.7 1408.7V1418M789.2 1408.7V1418M790.1 1408.7V1418M791 1408.7V1418M791.9 1408.7V1418M792.8 1408.7V1418M793.7 1408.7V1418M794.6 1408.7V1418M796.4 1408.7V1418M797.3 1408.7V1418M798.2 1408.7V1418M799.1 1408.7V1418M800 1408.7V1418M800.9 1408.7V1418M801.8 1408.7V1418M802.7 1408.7V1418M803.6 1408.7V1418M804.5 1408.7V1418M805.4 1408.7V1418M806.3 1408.7V1418M807.2 1408.7V1418M809 1408.7V1418M809.9 1408.7V1418M810.8 1408.7V1418M812.6 1408.7V1418M813.5 1408.7V1418M814.4 1408.7V1418M815.3 1408.7V1418M816.2 1408.7V1418M819.8 1408.7V1418M820.7 1408.7V1418M821.6 1408.7V1418M822.5 1408.7V1418M823.4 1408.7V1418M824.3 1408.7V1418M827.9 1408.7V1418M828.8 1408.7V1418M829.7 1408.7V1418M830.6 1408.7V1418M832.4 1408.7V1418M833.3 1408.7V1418M834.2 1408.7V1418M835.1 1408.7V1418M836.9 1408.7V1418M838.7 1408.7V1418M839.6 1408.7V1418M840.5 1408.7V1418M841.4 1408.7V1418M842.3 1408.7V1418M843.2 1408.7V1418M844.1 1408.7V1418M845.9 1408.7V1418M846.8 1408.7V1418M847.7 1408.7V1418M848.6 1408.7V1418M849.5 1408.7V1418M850.4 1408.7V1418M852.2 1408.7V1418M853.1 1408.7V1418M854 1408.7V1418M854.9 1408.7V1418M855.8 1408.7V1418M858.5 1408.7V1418M859.4 1408.7V1418M860.3 1408.7V1418M861.2 1408.7V1418M863 1408.7V1418M863.9 1408.7V1418M867.5 1408.7V1418M868.4 1408.7V1418M869.3 1408.7V1418M870.2 1408.7V1418M871.1 1408.7V1418M872 1408.7V1418M874.7 1408.7V1418M875.6 1408.7V1418M876.5 1408.7V1418M877.4 1408.7V1418M878.3 1408.7V1418M879.2 1408.7V1418M880.1 1408.7V1418M881 1408.7V1418M883.7 1408.7V1418M884.6 1408.7V1418M885.5 1408.7V1418M886.4 1408.7V1418M887.3 1408.7V1418M888.2 1408.7V1418M889.1 1408.7V1418M890 1408.7V1418M890.9 1408.7V1418M891.8 1408.7V1418M893.6 1408.7V1418M894.5 1408.7V1418M895.4 1408.7V1418M896.3 1408.7V1418M897.2 1408.7V1418M898.1 1408.7V1418M899 1408.7V1418M899.9 1408.7V1418M926.9 1408.7V1418M998.9 1408.7V1418M1017.8 1408.7V1418M1040.3 1408.7V1418M1123.1 1408.7V1418M1152.8 1408.7V1418" stroke="#00ffff" stroke-width="1.1" fill="none"/>
<path d="M166.3 1399.2V1407" stroke="#0000ff" stroke-width="1.3" fill="none"/>
<path d="M167.5 1402.7H201.1V1406.7H201.9V1402.7H208.3V1406.7H209.9V1402.7H211.5V1406.7H212.3V1402.7H213.9V1406.7H222.7V1402.7H300.3V1399.2H301.9V1402.7H351.5V1399.2H354.7V1402.7H355.5V1399.2H358.7V1402.7H361.1V1399.2H361.9V1402.7H362.7V1399.2H366.7V1402.7H389.1V1399.2H391.5V1402.7H393.1V1399.2H399.5V1402.7H400.3V1399.2H401.9V1402.7H403.5V1399.2H411.5V1402.7H413.1V1399.2H414.7V1402.7H416.3V1399.2H418.7V1402.7H421.9V1399.2H424.3V1402.7H425.1V1399.2H428.3V1402.7H429.1V1399.2H440.3V1402.7H441.9V1399.2H444.3V1402.7H445.1V1399.2H445.9V1402.7H447.5V1399.2H448.3V1402.7H462.7V1399.2H465.1V1402.7H465.9V1399.2H466.7V1402.7H469.9V1399.2H470.7V1402.7H471.5V1399.2H475.5V1402.7H476.3V1399.2H477.1V1402.7H477.9V1399.2H481.9V1402.7H482.7V1399.2H486.7V1402.7H489.1V1399.2H492.3V1402.7H493.1V1399.2H494.7V1402.7H495.5V1399.2H497.1V1402.7H498.7V1399.2H499.5V1402.7H518.7V1399.2H519.5V1402.7H520.3V1399.2H525.1V1402.7H526.7V1399.2H533.1V1402.7H533.9V1399.2H538.7V1402.7H539.5V1399.2H540.3V1402.7H541.1V1399.2H542.7V1402.7H543.5V1399.2H545.1V1402.7H547.5V1399.2H551.5V1402.7H552.3V1399.2H553.1V1402.7H556.3V1399.2H557.1V1402.7H561.1V1399.2H563.5V1402.7H564.3V1399.2H569.1V1402.7H590.7V1399.2H591.5V1402.7H592.3V1399.2H593.1V1402.7H593.9V1399.2H597.9V1402.7H620.3V1399.2H621.9V1402.7H622.7V1399.2H625.1V1402.7H627.5V1399.2H628.3V1402.7H630.7V1399.2H633.9V1402.7H637.9V1399.2H638.7V1402.7H648.3V1399.2H676.3V1402.7H677.9V1399.2H689.1V1402.7H690.7V1399.2H693.9V1402.7H696.3V1399.2H697.9V1402.7H698.7V1399.2H700.3V1402.7H704.3V1399.2H755.5V1402.7H757.9V1399.2H874.7V1402.7H876.3V1399.2H904.3V1402.7H905.1V1399.2H913.9V1402.7H918.7V1399.2H919.5V1402.7H920.3V1399.2H921.1V1402.7H922.7V1399.2H923.5V1402.7H924.3V1399.2H928.3V1402.7H930.7V1399.2H933.9V1402.7H934.7V1399.2H935.5V1402.7H937.9V1399.2H938.7V1402.7H940.3V1399.2H941.1V1402.7H945.1V1399.2H949.1V1402.7H950.7V1399.2H952.3V1402.7H953.9V1399.2H954.7V1402.7H957.9V1399.2H958.7V1402.7H960.3V1399.2H962.7V1402.7H980.3V1406.7H981.1V1402.7H981.9V1406.7H985.1V1402.7H985.9V1406.7H988.3V1402.7H989.1V1406.7H990.7V1402.7H991.5V1406.7H992.3V1402.7H993.9V1406.7H997.1V1402.7H997.9V1406.7H998.7V1402.7H1023.5V1406.7H1025.1V1402.7H1029.1V1406.7H1033.9V1402.7H1036.3V1406.7H1037.1V1402.7H1037.9V1406.7H1038.7V1402.7H1039.5V1406.7H1043.5V1402.7H1045.9V1406.7H1046.7V1402.7H1048.3V1406.7H1049.1V1402.7H1050.7V1406.7H1051.5V1402.7H1052.3V1406.7H1053.1V1402.7H1053.9V1406.7H1054.7V1402.7H1056.3V1406.7H1057.1V1402.7H1057.9V1406.7H1058.7V1402.7H1060.3V1406.7H1062.7V1402.7H1078.7V1406.7H1079.5V1402.7H1080.3V1406.7H1083.5V1402.7H1089.9V1406.7H1091.5V1402.7H1092.3V1406.7H1095.5V1402.7H1096.3V1406.7H1098.7V1402.7H1108.3V1406.7H1110.7V1402.7H1111.5V1406.7H1115.5V1402.7H1116.3V1406.7H1117.9V1402.7H1119.5V1406.7H1121.1V1402.7H1121.9V1406.7H1124.3V1402.7H1125.1V1406.7H1125.9V1402.7H1126.7V1406.7H1129.9V1402.7H1131.5V1406.7H1133.9V1402.7H1136.3V1406.7H1144.3V1402.7H1146.7V1406.7H1148.3V1402.7H1149.1V1406.7H1149.9V1402.7H1151.5V1406.7H1152.3V1402.7H1153.1V1406.7H1154.2" stroke="#0000ff" stroke-width="1.4" fill="none"/>
<path d="M388.9 1398.7V1403.2M389.8 1398.7V1403.2M390.7 1398.7V1403.2M391.6 1398.7V1403.2M392.5 1398.7V1403.2M393.4 1398.7V1403.2M394.3 1398.7V1403.2M395.2 1398.7V1403.2M397 1398.7V1403.2M398.8 1398.7V1403.2M399.7 1398.7V1403.2M400.6 1398.7V1403.2M401.5 1398.7V1403.2M402.4 1398.7V1403.2M403.3 1398.7V1403.2M404.2 1398.7V1403.2M406 1398.7V1403.2M406.9 1398.7V1403.2M407.8 1398.7V1403.2M408.7 1398.7V1403.2M409.6 1398.7V1403.2M410.5 1398.7V1403.2M411.4 1398.7V1403.2M412.3 1398.7V1403.2M413.2 1398.7V1403.2M414.1 1398.7V1403.2M415 1398.7V1403.2M416.8 1398.7V1403.2M417.7 1398.7V1403.2M418.6 1398.7V1403.2M419.5 1398.7V1403.2M421.3 1398.7V1403.2M422.2 1398.7V1403.2M423.1 1398.7V1403.2M424 1398.7V1403.2M424.9 1398.7V1403.2M425.8 1398.7V1403.2M426.7 1398.7V1403.2M427.6 1398.7V1403.2M428.5 1398.7V1403.2M429.4 1398.7V1403.2M430.3 1398.7V1403.2M431.2 1398.7V1403.2M432.1 1398.7V1403.2M433 1398.7V1403.2M433.9 1398.7V1403.2M434.8 1398.7V1403.2M436.6 1398.7V1403.2M437.5 1398.7V1403.2M439.3 1398.7V1403.2M440.2 1398.7V1403.2M441.1 1398.7V1403.2M442 1398.7V1403.2M442.9 1398.7V1403.2M443.8 1398.7V1403.2M444.7 1398.7V1403.2M445.6 1398.7V1403.2M446.5 1398.7V1403.2M447.4 1398.7V1403.2" stroke="#0000ff" stroke-width="1.0" fill="none"/>
<path d="M460.9 1398.7V1403.2M461.8 1398.7V1403.2M462.7 1398.7V1403.2M463.6 1398.7V1403.2M464.5 1398.7V1403.2M465.4 1398.7V1403.2M466.3 1398.7V1403.2M467.2 1398.7V1403.2M468.1 1398.7V1403.2M469 1398.7V1403.2M469.9 1398.7V1403.2M470.8 1398.7V1403.2M471.7 1398.7V1403.2M472.6 1398.7V1403.2M473.5 1398.7V1403.2M474.4 1398.7V1403.2M476.2 1398.7V1403.2M477.1 1398.7V1403.2M478 1398.7V1403.2M478.9 1398.7V1403.2M479.8 1398.7V1403.2M480.7 1398.7V1403.2M481.6 1398.7V1403.2M482.5 1398.7V1403.2M483.4 1398.7V1403.2M485.2 1398.7V1403.2M486.1 1398.7V1403.2M487 1398.7V1403.2M487.9 1398.7V1403.2M488.8 1398.7V1403.2M489.7 1398.7V1403.2M490.6 1398.7V1403.2M491.5 1398.7V1403.2M492.4 1398.7V1403.2M493.3 1398.7V1403.2M494.2 1398.7V1403.2M495.1 1398.7V1403.2M496 1398.7V1403.2M496.9 1398.7V1403.2M497.8 1398.7V1403.2" stroke="#0000ff" stroke-width="1.0" fill="none"/>
<path d="M518 1398.7V1403.2M518.9 1398.7V1403.2M519.8 1398.7V1403.2M520.7 1398.7V1403.2M521.6 1398.7V1403.2M522.5 1398.7V1403.2M523.4 1398.7V1403.2M524.3 1398.7V1403.2M525.2 1398.7V1403.2M526.1 1398.7V1403.2M527 1398.7V1403.2M527.9 1398.7V1403.2M529.7 1398.7V1403.2M530.6 1398.7V1403.2M531.5 1398.7V1403.2M532.4 1398.7V1403.2M533.3 1398.7V1403.2M534.2 1398.7V1403.2M535.1 1398.7V1403.2M536.9 1398.7V1403.2M537.8 1398.7V1403.2M538.7 1398.7V1403.2M539.6 1398.7V1403.2M540.5 1398.7V1403.2M541.4 1398.7V1403.2M544.1 1398.7V1403.2M545 1398.7V1403.2M546.8 1398.7V1403.2M547.7 1398.7V1403.2M548.6 1398.7V1403.2M549.5 1398.7V1403.2M550.4 1398.7V1403.2M552.2 1398.7V1403.2M553.1 1398.7V1403.2M554 1398.7V1403.2M554.9 1398.7V1403.2M555.8 1398.7V1403.2M556.7 1398.7V1403.2M557.6 1398.7V1403.2M558.5 1398.7V1403.2M559.4 1398.7V1403.2M560.3 1398.7V1403.2M563 1398.7V1403.2M564.8 1398.7V1403.2M565.7 1398.7V1403.2M566.6 1398.7V1403.2M567.5 1398.7V1403.2M568.4 1398.7V1403.2" stroke="#0000ff" stroke-width="1.0" fill="none"/>
<path d="M910.7 1398.7V1403.2M911.6 1398.7V1403.2M912.5 1398.7V1403.2M913.4 1398.7V1403.2M914.3 1398.7V1403.2M915.2 1398.7V1403.2M916.1 1398.7V1403.2M917 1398.7V1403.2M917.9 1398.7V1403.2M918.8 1398.7V1403.2M920.6 1398.7V1403.2M922.4 1398.7V1403.2M923.3 1398.7V1403.2M924.2 1398.7V1403.2M925.1 1398.7V1403.2M926 1398.7V1403.2M926.9 1398.7V1403.2M927.8 1398.7V1403.2M928.7 1398.7V1403.2M929.6 1398.7V1403.2M930.5 1398.7V1403.2M932.3 1398.7V1403.2M933.2 1398.7V1403.2M934.1 1398.7V1403.2M935 1398.7V1403.2M935.9 1398.7V1403.2M938.6 1398.7V1403.2M940.4 1398.7V1403.2M941.3 1398.7V1403.2M942.2 1398.7V1403.2M944 1398.7V1403.2M944.9 1398.7V1403.2M945.8 1398.7V1403.2M946.7 1398.7V1403.2M947.6 1398.7V1403.2M948.5 1398.7V1403.2M949.4 1398.7V1403.2M950.3 1398.7V1403.2M951.2 1398.7V1403.2M953 1398.7V1403.2M953.9 1398.7V1403.2M954.8 1398.7V1403.2M955.7 1398.7V1403.2M956.6 1398.7V1403.2M957.5 1398.7V1403.2M958.4 1398.7V1403.2M959.3 1398.7V1403.2M960.2 1398.7V1403.2M961.1 1398.7V1403.2M962 1398.7V1403.2M964.7 1398.7V1403.2M965.6 1398.7V1403.2M966.5 1398.7V1403.2" stroke="#0000ff" stroke-width="1.0" fill="none"/>
<path d="M345 1398.7V1403.2M348.6 1398.7V1403.2M354 1398.7V1403.2M357.6 1398.7V1403.2M359.4 1398.7V1403.2M363.9 1398.7V1403.2M366.6 1398.7V1403.2M367.5 1398.7V1403.2" stroke="#0000ff" stroke-width="1.0" fill="none"/>
<path d="M616.7 1398.7V1403.2M617.6 1398.7V1403.2M619.4 1398.7V1403.2M620.3 1398.7V1403.2M621.2 1398.7V1403.2M623 1398.7V1403.2M623.9 1398.7V1403.2M626.6 1398.7V1403.2M627.5 1398.7V1403.2M629.3 1398.7V1403.2M632.9 1398.7V1403.2M636.5 1398.7V1403.2" stroke="#0000ff" stroke-width="1.0" fill="none"/>
<path d="M689 1398.7V1403.2M691.7 1398.7V1403.2M692.6 1398.7V1403.2M693.5 1398.7V1403.2M694.4 1398.7V1403.2M695.3 1398.7V1403.2M697.1 1398.7V1403.2M698.9 1398.7V1403.2" stroke="#0000ff" stroke-width="1.0" fill="none"/>
<path d="M208 1402.2V1407.2M208.9 1402.2V1407.2M209.8 1402.2V1407.2M210.7 1402.2V1407.2M211.6 1402.2V1407.2M212.5 1402.2V1407.2M213.4 1402.2V1407.2M214.3 1402.2V1407.2M215.2 1402.2V1407.2M216.1 1402.2V1407.2M217.9 1402.2V1407.2M218.8 1402.2V1407.2M219.7 1402.2V1407.2M220.6 1402.2V1407.2M221.5 1402.2V1407.2M222.4 1402.2V1407.2" stroke="#0000ff" stroke-width="1.0" fill="none"/>
<path d="M980 1402.2V1407.2M980.9 1402.2V1407.2M981.8 1402.2V1407.2M982.7 1402.2V1407.2M983.6 1402.2V1407.2M985.4 1402.2V1407.2M986.3 1402.2V1407.2M987.2 1402.2V1407.2M988.1 1402.2V1407.2M989 1402.2V1407.2M989.9 1402.2V1407.2M990.8 1402.2V1407.2M991.7 1402.2V1407.2M992.6 1402.2V1407.2M993.5 1402.2V1407.2M994.4 1402.2V1407.2M995.3 1402.2V1407.2M998 1402.2V1407.2M999.8 1402.2V1407.2" stroke="#0000ff" stroke-width="1.0" fill="none"/>
<path d="M1023 1402.2V1407.2M1025.7 1402.2V1407.2M1026.6 1402.2V1407.2M1027.5 1402.2V1407.2M1030.2 1402.2V1407.2M1031.1 1402.2V1407.2M1032 1402.2V1407.2M1034.7 1402.2V1407.2M1035.6 1402.2V1407.2M1036.5 1402.2V1407.2M1037.4 1402.2V1407.2M1038.3 1402.2V1407.2M1039.2 1402.2V1407.2M1041 1402.2V1407.2M1041.9 1402.2V1407.2M1042.8 1402.2V1407.2M1043.7 1402.2V1407.2M1044.6 1402.2V1407.2M1045.5 1402.2V1407.2M1047.3 1402.2V1407.2M1048.2 1402.2V1407.2M1050.9 1402.2V1407.2M1051.8 1402.2V1407.2M1052.7 1402.2V1407.2M1054.5 1402.2V1407.2M1055.4 1402.2V1407.2M1056.3 1402.2V1407.2M1057.2 1402.2V1407.2M1058.1 1402.2V1407.2M1059 1402.2V1407.2M1061.7 1402.2V1407.2" stroke="#0000ff" stroke-width="1.0" fill="none"/>
<path d="M1075 1402.2V1407.2M1078.6 1402.2V1407.2M1079.5 1402.2V1407.2M1080.4 1402.2V1407.2M1081.3 1402.2V1407.2M1082.2 1402.2V1407.2M1083.1 1402.2V1407.2M1084 1402.2V1407.2M1087.6 1402.2V1407.2M1094.8 1402.2V1407.2M1098.4 1402.2V1407.2" stroke="#0000ff" stroke-width="1.0" fill="none"/>
<path d="M1108 1402.2V1407.2M1108.9 1402.2V1407.2M1109.8 1402.2V1407.2M1110.7 1402.2V1407.2M1112.5 1402.2V1407.2M1113.4 1402.2V1407.2M1114.3 1402.2V1407.2M1116.1 1402.2V1407.2M1117 1402.2V1407.2M1117.9 1402.2V1407.2M1118.8 1402.2V1407.2M1119.7 1402.2V1407.2M1120.6 1402.2V1407.2M1121.5 1402.2V1407.2M1122.4 1402.2V1407.2M1125.1 1402.2V1407.2M1126 1402.2V1407.2M1126.9 1402.2V1407.2M1128.7 1402.2V1407.2M1129.6 1402.2V1407.2M1130.5 1402.2V1407.2M1131.4 1402.2V1407.2M1132.3 1402.2V1407.2M1133.2 1402.2V1407.2M1135.9 1402.2V1407.2M1136.8 1402.2V1407.2M1138.6 1402.2V1407.2M1139.5 1402.2V1407.2M1140.4 1402.2V1407.2M1141.3 1402.2V1407.2M1142.2 1402.2V1407.2M1143.1 1402.2V1407.2M1144 1402.2V1407.2M1144.9 1402.2V1407.2M1145.8 1402.2V1407.2M1147.6 1402.2V1407.2M1148.5 1402.2V1407.2M1149.4 1402.2V1407.2M1150.3 1402.2V1407.2M1151.2 1402.2V1407.2M1152.1 1402.2V1407.2M1153 1402.2V1407.2M1153.9 1402.2V1407.2" stroke="#0000ff" stroke-width="1.0" fill="none"/>
<path d="M166.4 1373.6V1377.3M167.3 1373.6V1377.3M168.2 1373.6V1377.3M169.1 1373.6V1377.3M170 1373.6V1377.3M170.9 1373.6V1377.3M171.8 1373.6V1377.3M174.5 1373.6V1377.3M175.4 1373.6V1377.3M176.3 1373.6V1377.3M177.2 1373.6V1377.3M178.1 1373.6V1377.3M179 1373.6V1377.3M179.9 1373.6V1377.3M180.8 1373.6V1377.3M181.7 1373.6V1377.3M182.6 1373.6V1377.3M183.5 1373.6V1377.3M184.4 1373.6V1377.3M185.3 1373.6V1377.3M186.2 1373.6V1377.3M187.1 1373.6V1377.3M188 1373.6V1377.3M188.9 1373.6V1377.3M189.8 1373.6V1377.3M190.7 1373.6V1377.3M191.6 1373.6V1377.3M193.4 1373.6V1377.3M194.3 1373.6V1377.3M195.2 1373.6V1377.3M196.1 1373.6V1377.3M197 1373.6V1377.3M197.9 1373.6V1377.3M198.8 1373.6V1377.3M199.7 1373.6V1377.3M200.6 1373.6V1377.3M201.5 1373.6V1377.3M202.4 1373.6V1377.3M203.3 1373.6V1377.3M204.2 1373.6V1377.3M205.1 1373.6V1377.3M206 1373.6V1377.3M206.9 1373.6V1377.3M207.8 1373.6V1377.3M208.7 1373.6V1377.3M209.6 1373.6V1377.3M210.5 1373.6V1377.3M211.4 1373.6V1377.3M212.3 1373.6V1377.3M213.2 1373.6V1377.3M214.1 1373.6V1377.3M215.9 1373.6V1377.3M216.8 1373.6V1377.3M217.7 1373.6V1377.3M218.6 1373.6V1377.3M219.5 1373.6V1377.3M220.4 1373.6V1377.3M222.2 1373.6V1377.3M223.1 1373.6V1377.3M224.9 1373.6V1377.3M226.7 1373.6V1377.3M227.6 1373.6V1377.3M228.5 1373.6V1377.3M229.4 1373.6V1377.3M230.3 1373.6V1377.3M231.2 1373.6V1377.3M232.1 1373.6V1377.3M233 1373.6V1377.3M233.9 1373.6V1377.3M234.8 1373.6V1377.3M235.7 1373.6V1377.3M236.6 1373.6V1377.3M237.5 1373.6V1377.3M239.3 1373.6V1377.3M240.2 1373.6V1377.3M241.1 1373.6V1377.3M242 1373.6V1377.3M242.9 1373.6V1377.3M243.8 1373.6V1377.3M244.7 1373.6V1377.3M246.5 1373.6V1377.3M248.3 1373.6V1377.3M249.2 1373.6V1377.3M250.1 1373.6V1377.3M251 1373.6V1377.3M251.9 1373.6V1377.3M252.8 1373.6V1377.3M253.7 1373.6V1377.3M254.6 1373.6V1377.3M255.5 1373.6V1377.3M257.3 1373.6V1377.3M258.2 1373.6V1377.3M259.1 1373.6V1377.3M260 1373.6V1377.3M260.9 1373.6V1377.3M262.7 1373.6V1377.3M263.6 1373.6V1377.3M264.5 1373.6V1377.3M265.4 1373.6V1377.3M266.3 1373.6V1377.3M267.2 1373.6V1377.3M268.1 1373.6V1377.3M269 1373.6V1377.3M269.9 1373.6V1377.3M270.8 1373.6V1377.3M272.6 1373.6V1377.3M273.5 1373.6V1377.3M274.4 1373.6V1377.3M275.3 1373.6V1377.3M276.2 1373.6V1377.3M277.1 1373.6V1377.3M278 1373.6V1377.3M278.9 1373.6V1377.3M279.8 1373.6V1377.3M280.7 1373.6V1377.3M281.6 1373.6V1377.3M282.5 1373.6V1377.3M283.4 1373.6V1377.3M284.3 1373.6V1377.3M285.2 1373.6V1377.3M286.1 1373.6V1377.3M287 1373.6V1377.3M287.9 1373.6V1377.3M288.8 1373.6V1377.3M289.7 1373.6V1377.3M290.6 1373.6V1377.3M291.5 1373.6V1377.3M292.4 1373.6V1377.3M293.3 1373.6V1377.3M294.2 1373.6V1377.3M295.1 1373.6V1377.3M296.9 1373.6V1377.3M297.8 1373.6V1377.3M298.7 1373.6V1377.3M299.6 1373.6V1377.3M300.5 1373.6V1377.3M301.4 1373.6V1377.3M302.3 1373.6V1377.3M304.1 1373.6V1377.3M305 1373.6V1377.3M307.7 1373.6V1377.3M308.6 1373.6V1377.3M309.5 1373.6V1377.3M310.4 1373.6V1377.3M311.3 1373.6V1377.3M312.2 1373.6V1377.3M313.1 1373.6V1377.3M314 1373.6V1377.3M314.9 1373.6V1377.3M316.7 1373.6V1377.3M317.6 1373.6V1377.3M318.5 1373.6V1377.3M319.4 1373.6V1377.3M320.3 1373.6V1377.3M321.2 1373.6V1377.3M322.1 1373.6V1377.3M323.9 1373.6V1377.3M324.8 1373.6V1377.3M325.7 1373.6V1377.3M326.6 1373.6V1377.3M327.5 1373.6V1377.3M328.4 1373.6V1377.3M329.3 1373.6V1377.3M330.2 1373.6V1377.3M331.1 1373.6V1377.3M332 1373.6V1377.3M332.9 1373.6V1377.3M333.8 1373.6V1377.3M334.7 1373.6V1377.3M335.6 1373.6V1377.3M336.5 1373.6V1377.3M337.4 1373.6V1377.3M339.2 1373.6V1377.3M340.1 1373.6V1377.3M341 1373.6V1377.3M341.9 1373.6V1377.3M342.8 1373.6V1377.3M343.7 1373.6V1377.3M345.5 1373.6V1377.3M346.4 1373.6V1377.3M347.3 1373.6V1377.3M348.2 1373.6V1377.3M349.1 1373.6V1377.3M350 1373.6V1377.3M350.9 1373.6V1377.3M351.8 1373.6V1377.3M352.7 1373.6V1377.3M353.6 1373.6V1377.3M354.5 1373.6V1377.3M355.4 1373.6V1377.3M357.2 1373.6V1377.3M358.1 1373.6V1377.3M359 1373.6V1377.3M359.9 1373.6V1377.3M360.8 1373.6V1377.3M361.7 1373.6V1377.3M362.6 1373.6V1377.3M363.5 1373.6V1377.3M364.4 1373.6V1377.3M365.3 1373.6V1377.3M366.2 1373.6V1377.3M367.1 1373.6V1377.3M368.9 1373.6V1377.3M370.7 1373.6V1377.3M371.6 1373.6V1377.3M372.5 1373.6V1377.3M373.4 1373.6V1377.3M374.3 1373.6V1377.3M375.2 1373.6V1377.3M376.1 1373.6V1377.3M377 1373.6V1377.3M377.9 1373.6V1377.3M378.8 1373.6V1377.3M379.7 1373.6V1377.3M380.6 1373.6V1377.3M381.5 1373.6V1377.3M383.3 1373.6V1377.3M384.2 1373.6V1377.3M386 1373.6V1377.3M386.9 1373.6V1377.3M387.8 1373.6V1377.3M388.7 1373.6V1377.3M389.6 1373.6V1377.3M390.5 1373.6V1377.3M391.4 1373.6V1377.3M392.3 1373.6V1377.3M393.2 1373.6V1377.3M394.1 1373.6V1377.3M395.9 1373.6V1377.3M396.8 1373.6V1377.3M397.7 1373.6V1377.3M398.6 1373.6V1377.3M399.5 1373.6V1377.3M401.3 1373.6V1377.3M402.2 1373.6V1377.3M404 1373.6V1377.3M404.9 1373.6V1377.3M405.8 1373.6V1377.3M406.7 1373.6V1377.3M408.5 1373.6V1377.3M409.4 1373.6V1377.3M410.3 1373.6V1377.3M411.2 1373.6V1377.3M412.1 1373.6V1377.3M413 1373.6V1377.3M413.9 1373.6V1377.3M414.8 1373.6V1377.3M415.7 1373.6V1377.3M416.6 1373.6V1377.3M417.5 1373.6V1377.3M418.4 1373.6V1377.3M419.3 1373.6V1377.3M420.2 1373.6V1377.3M421.1 1373.6V1377.3M422 1373.6V1377.3M422.9 1373.6V1377.3M423.8 1373.6V1377.3M424.7 1373.6V1377.3M425.6 1373.6V1377.3M426.5 1373.6V1377.3M427.4 1373.6V1377.3M428.3 1373.6V1377.3M429.2 1373.6V1377.3M430.1 1373.6V1377.3M431 1373.6V1377.3M431.9 1373.6V1377.3M432.8 1373.6V1377.3M433.7 1373.6V1377.3M434.6 1373.6V1377.3M436.4 1373.6V1377.3M437.3 1373.6V1377.3M438.2 1373.6V1377.3M439.1 1373.6V1377.3M440 1373.6V1377.3M440.9 1373.6V1377.3M442.7 1373.6V1377.3M443.6 1373.6V1377.3M445.4 1373.6V1377.3M446.3 1373.6V1377.3M447.2 1373.6V1377.3M448.1 1373.6V1377.3M449 1373.6V1377.3M449.9 1373.6V1377.3M450.8 1373.6V1377.3M451.7 1373.6V1377.3M452.6 1373.6V1377.3M453.5 1373.6V1377.3M455.3 1373.6V1377.3M456.2 1373.6V1377.3M458 1373.6V1377.3M458.9 1373.6V1377.3M459.8 1373.6V1377.3M460.7 1373.6V1377.3M461.6 1373.6V1377.3M462.5 1373.6V1377.3M463.4 1373.6V1377.3M464.3 1373.6V1377.3M466.1 1373.6V1377.3M467 1373.6V1377.3M467.9 1373.6V1377.3M468.8 1373.6V1377.3M469.7 1373.6V1377.3M470.6 1373.6V1377.3M471.5 1373.6V1377.3M472.4 1373.6V1377.3M473.3 1373.6V1377.3M474.2 1373.6V1377.3M475.1 1373.6V1377.3M476 1373.6V1377.3M476.9 1373.6V1377.3M477.8 1373.6V1377.3M478.7 1373.6V1377.3M479.6 1373.6V1377.3M480.5 1373.6V1377.3M481.4 1373.6V1377.3M482.3 1373.6V1377.3M483.2 1373.6V1377.3M484.1 1373.6V1377.3M485 1373.6V1377.3M485.9 1373.6V1377.3M486.8 1373.6V1377.3M487.7 1373.6V1377.3M488.6 1373.6V1377.3M489.5 1373.6V1377.3M490.4 1373.6V1377.3M491.3 1373.6V1377.3M492.2 1373.6V1377.3M493.1 1373.6V1377.3M494 1373.6V1377.3M494.9 1373.6V1377.3M495.8 1373.6V1377.3M496.7 1373.6V1377.3M497.6 1373.6V1377.3M499.4 1373.6V1377.3M501.2 1373.6V1377.3M502.1 1373.6V1377.3M503 1373.6V1377.3M503.9 1373.6V1377.3M504.8 1373.6V1377.3M505.7 1373.6V1377.3M506.6 1373.6V1377.3M507.5 1373.6V1377.3M508.4 1373.6V1377.3M509.3 1373.6V1377.3M510.2 1373.6V1377.3M511.1 1373.6V1377.3M512 1373.6V1377.3M512.9 1373.6V1377.3M513.8 1373.6V1377.3M514.7 1373.6V1377.3M515.6 1373.6V1377.3M516.5 1373.6V1377.3M517.4 1373.6V1377.3M518.3 1373.6V1377.3M519.2 1373.6V1377.3M520.1 1373.6V1377.3M521 1373.6V1377.3M522.8 1373.6V1377.3M523.7 1373.6V1377.3M524.6 1373.6V1377.3M525.5 1373.6V1377.3M526.4 1373.6V1377.3M527.3 1373.6V1377.3M528.2 1373.6V1377.3M529.1 1373.6V1377.3M530.9 1373.6V1377.3M532.7 1373.6V1377.3M533.6 1373.6V1377.3M534.5 1373.6V1377.3M535.4 1373.6V1377.3M536.3 1373.6V1377.3M537.2 1373.6V1377.3M538.1 1373.6V1377.3M539 1373.6V1377.3M539.9 1373.6V1377.3M541.7 1373.6V1377.3M542.6 1373.6V1377.3M543.5 1373.6V1377.3M544.4 1373.6V1377.3M545.3 1373.6V1377.3M546.2 1373.6V1377.3M547.1 1373.6V1377.3M548 1373.6V1377.3M548.9 1373.6V1377.3M550.7 1373.6V1377.3M554.3 1373.6V1377.3M555.2 1373.6V1377.3M557 1373.6V1377.3M558.8 1373.6V1377.3M559.7 1373.6V1377.3M561.5 1373.6V1377.3M562.4 1373.6V1377.3M563.3 1373.6V1377.3M564.2 1373.6V1377.3M565.1 1373.6V1377.3M566 1373.6V1377.3M566.9 1373.6V1377.3M567.8 1373.6V1377.3M568.7 1373.6V1377.3M569.6 1373.6V1377.3M571.4 1373.6V1377.3M572.3 1373.6V1377.3M573.2 1373.6V1377.3M575 1373.6V1377.3M576.8 1373.6V1377.3M577.7 1373.6V1377.3M578.6 1373.6V1377.3M579.5 1373.6V1377.3M580.4 1373.6V1377.3M581.3 1373.6V1377.3M583.1 1373.6V1377.3M584 1373.6V1377.3M584.9 1373.6V1377.3M586.7 1373.6V1377.3M587.6 1373.6V1377.3M588.5 1373.6V1377.3M589.4 1373.6V1377.3M590.3 1373.6V1377.3M592.1 1373.6V1377.3M593 1373.6V1377.3M593.9 1373.6V1377.3M594.8 1373.6V1377.3M595.7 1373.6V1377.3M596.6 1373.6V1377.3M597.5 1373.6V1377.3M598.4 1373.6V1377.3M599.3 1373.6V1377.3M600.2 1373.6V1377.3M602.9 1373.6V1377.3M603.8 1373.6V1377.3M604.7 1373.6V1377.3M605.6 1373.6V1377.3M606.5 1373.6V1377.3M607.4 1373.6V1377.3M608.3 1373.6V1377.3M609.2 1373.6V1377.3M611 1373.6V1377.3M612.8 1373.6V1377.3M613.7 1373.6V1377.3M614.6 1373.6V1377.3M615.5 1373.6V1377.3M616.4 1373.6V1377.3M617.3 1373.6V1377.3M618.2 1373.6V1377.3M619.1 1373.6V1377.3M620 1373.6V1377.3M620.9 1373.6V1377.3M621.8 1373.6V1377.3M623.6 1373.6V1377.3M624.5 1373.6V1377.3M625.4 1373.6V1377.3M626.3 1373.6V1377.3M627.2 1373.6V1377.3M629 1373.6V1377.3M629.9 1373.6V1377.3M630.8 1373.6V1377.3M632.6 1373.6V1377.3M634.4 1373.6V1377.3M635.3 1373.6V1377.3M636.2 1373.6V1377.3M637.1 1373.6V1377.3M638 1373.6V1377.3M638.9 1373.6V1377.3M639.8 1373.6V1377.3M640.7 1373.6V1377.3M641.6 1373.6V1377.3M642.5 1373.6V1377.3M643.4 1373.6V1377.3M644.3 1373.6V1377.3M645.2 1373.6V1377.3M646.1 1373.6V1377.3" stroke="#00ff00" stroke-width="1.05" fill="none"/>
<path d="M166.4 1379.7V1382.6M167.3 1379.7V1382.6M168.2 1379.7V1382.6M169.1 1379.7V1382.6M170 1379.7V1382.6M170.9 1379.7V1382.6M171.8 1379.7V1382.6M172.7 1379.7V1382.6M173.6 1379.7V1382.6M174.5 1379.7V1382.6M176.3 1379.7V1382.6M179 1379.7V1382.6M179.9 1379.7V1382.6M182.6 1379.7V1382.6M183.5 1379.7V1382.6M184.4 1379.7V1382.6M185.3 1379.7V1382.6M186.2 1379.7V1382.6M188 1379.7V1382.6M188.9 1379.7V1382.6M189.8 1379.7V1382.6M191.6 1379.7V1382.6M192.5 1379.7V1382.6M193.4 1379.7V1382.6M194.3 1379.7V1382.6M195.2 1379.7V1382.6M196.1 1379.7V1382.6M197 1379.7V1382.6M198.8 1379.7V1382.6M199.7 1379.7V1382.6M200.6 1379.7V1382.6M201.5 1379.7V1382.6M202.4 1379.7V1382.6M203.3 1379.7V1382.6M204.2 1379.7V1382.6M205.1 1379.7V1382.6M206 1379.7V1382.6M206.9 1379.7V1382.6M207.8 1379.7V1382.6M209.6 1379.7V1382.6M210.5 1379.7V1382.6M211.4 1379.7V1382.6M212.3 1379.7V1382.6M213.2 1379.7V1382.6M214.1 1379.7V1382.6M215.9 1379.7V1382.6M216.8 1379.7V1382.6M217.7 1379.7V1382.6M218.6 1379.7V1382.6M220.4 1379.7V1382.6M222.2 1379.7V1382.6M223.1 1379.7V1382.6M224 1379.7V1382.6M225.8 1379.7V1382.6M227.6 1379.7V1382.6M229.4 1379.7V1382.6M230.3 1379.7V1382.6M231.2 1379.7V1382.6M232.1 1379.7V1382.6M233 1379.7V1382.6M234.8 1379.7V1382.6M235.7 1379.7V1382.6M236.6 1379.7V1382.6M237.5 1379.7V1382.6M238.4 1379.7V1382.6M239.3 1379.7V1382.6M240.2 1379.7V1382.6M242 1379.7V1382.6M242.9 1379.7V1382.6M243.8 1379.7V1382.6M244.7 1379.7V1382.6M246.5 1379.7V1382.6M248.3 1379.7V1382.6M249.2 1379.7V1382.6M250.1 1379.7V1382.6M251.9 1379.7V1382.6M252.8 1379.7V1382.6M253.7 1379.7V1382.6M254.6 1379.7V1382.6M255.5 1379.7V1382.6M256.4 1379.7V1382.6M257.3 1379.7V1382.6M259.1 1379.7V1382.6M260 1379.7V1382.6M260.9 1379.7V1382.6M261.8 1379.7V1382.6M263.6 1379.7V1382.6M264.5 1379.7V1382.6M265.4 1379.7V1382.6M266.3 1379.7V1382.6M267.2 1379.7V1382.6M268.1 1379.7V1382.6M269.9 1379.7V1382.6M270.8 1379.7V1382.6M272.6 1379.7V1382.6M275.3 1379.7V1382.6M276.2 1379.7V1382.6M278 1379.7V1382.6M279.8 1379.7V1382.6M280.7 1379.7V1382.6M283.4 1379.7V1382.6M284.3 1379.7V1382.6M285.2 1379.7V1382.6M286.1 1379.7V1382.6M287 1379.7V1382.6M287.9 1379.7V1382.6M288.8 1379.7V1382.6M289.7 1379.7V1382.6M291.5 1379.7V1382.6M292.4 1379.7V1382.6M295.1 1379.7V1382.6M296 1379.7V1382.6M296.9 1379.7V1382.6M298.7 1379.7V1382.6M299.6 1379.7V1382.6M300.5 1379.7V1382.6M303.2 1379.7V1382.6M305.9 1379.7V1382.6M306.8 1379.7V1382.6M307.7 1379.7V1382.6M309.5 1379.7V1382.6M310.4 1379.7V1382.6M311.3 1379.7V1382.6M314 1379.7V1382.6M314.9 1379.7V1382.6M316.7 1379.7V1382.6M321.2 1379.7V1382.6M322.1 1379.7V1382.6M323.9 1379.7V1382.6M324.8 1379.7V1382.6M325.7 1379.7V1382.6M326.6 1379.7V1382.6M327.5 1379.7V1382.6M328.4 1379.7V1382.6M329.3 1379.7V1382.6M330.2 1379.7V1382.6M331.1 1379.7V1382.6M332 1379.7V1382.6M334.7 1379.7V1382.6M335.6 1379.7V1382.6M336.5 1379.7V1382.6M337.4 1379.7V1382.6M339.2 1379.7V1382.6M340.1 1379.7V1382.6M341 1379.7V1382.6M341.9 1379.7V1382.6M342.8 1379.7V1382.6M343.7 1379.7V1382.6M344.6 1379.7V1382.6M345.5 1379.7V1382.6M346.4 1379.7V1382.6M347.3 1379.7V1382.6M348.2 1379.7V1382.6M350 1379.7V1382.6M350.9 1379.7V1382.6M352.7 1379.7V1382.6M353.6 1379.7V1382.6M354.5 1379.7V1382.6M355.4 1379.7V1382.6M357.2 1379.7V1382.6M358.1 1379.7V1382.6M359 1379.7V1382.6M359.9 1379.7V1382.6M360.8 1379.7V1382.6M362.6 1379.7V1382.6M363.5 1379.7V1382.6M364.4 1379.7V1382.6M365.3 1379.7V1382.6M366.2 1379.7V1382.6M367.1 1379.7V1382.6M369.8 1379.7V1382.6M370.7 1379.7V1382.6M371.6 1379.7V1382.6M372.5 1379.7V1382.6M373.4 1379.7V1382.6M374.3 1379.7V1382.6M375.2 1379.7V1382.6M377 1379.7V1382.6M377.9 1379.7V1382.6M378.8 1379.7V1382.6M379.7 1379.7V1382.6M380.6 1379.7V1382.6M381.5 1379.7V1382.6M383.3 1379.7V1382.6M384.2 1379.7V1382.6M387.8 1379.7V1382.6M388.7 1379.7V1382.6M389.6 1379.7V1382.6M390.5 1379.7V1382.6M393.2 1379.7V1382.6M394.1 1379.7V1382.6M398.6 1379.7V1382.6M399.5 1379.7V1382.6M401.3 1379.7V1382.6M402.2 1379.7V1382.6M403.1 1379.7V1382.6M404 1379.7V1382.6M404.9 1379.7V1382.6M407.6 1379.7V1382.6M408.5 1379.7V1382.6M409.4 1379.7V1382.6M410.3 1379.7V1382.6M411.2 1379.7V1382.6M412.1 1379.7V1382.6M413.9 1379.7V1382.6M417.5 1379.7V1382.6M418.4 1379.7V1382.6M420.2 1379.7V1382.6M421.1 1379.7V1382.6M422 1379.7V1382.6M422.9 1379.7V1382.6M423.8 1379.7V1382.6M426.5 1379.7V1382.6M427.4 1379.7V1382.6M429.2 1379.7V1382.6M430.1 1379.7V1382.6M431 1379.7V1382.6M431.9 1379.7V1382.6M433.7 1379.7V1382.6M434.6 1379.7V1382.6M436.4 1379.7V1382.6M437.3 1379.7V1382.6M438.2 1379.7V1382.6M440 1379.7V1382.6M440.9 1379.7V1382.6M441.8 1379.7V1382.6M444.5 1379.7V1382.6M445.4 1379.7V1382.6M446.3 1379.7V1382.6M447.2 1379.7V1382.6M449.9 1379.7V1382.6M450.8 1379.7V1382.6M451.7 1379.7V1382.6M452.6 1379.7V1382.6M454.4 1379.7V1382.6M455.3 1379.7V1382.6M456.2 1379.7V1382.6M457.1 1379.7V1382.6M458 1379.7V1382.6M458.9 1379.7V1382.6M459.8 1379.7V1382.6M460.7 1379.7V1382.6M461.6 1379.7V1382.6M462.5 1379.7V1382.6M463.4 1379.7V1382.6M464.3 1379.7V1382.6M467 1379.7V1382.6M468.8 1379.7V1382.6M469.7 1379.7V1382.6M470.6 1379.7V1382.6M471.5 1379.7V1382.6M472.4 1379.7V1382.6M473.3 1379.7V1382.6M475.1 1379.7V1382.6M476 1379.7V1382.6M476.9 1379.7V1382.6M477.8 1379.7V1382.6M478.7 1379.7V1382.6M481.4 1379.7V1382.6M484.1 1379.7V1382.6M485.9 1379.7V1382.6M487.7 1379.7V1382.6M488.6 1379.7V1382.6M489.5 1379.7V1382.6M490.4 1379.7V1382.6M491.3 1379.7V1382.6M494 1379.7V1382.6M494.9 1379.7V1382.6M495.8 1379.7V1382.6M497.6 1379.7V1382.6M498.5 1379.7V1382.6M499.4 1379.7V1382.6M500.3 1379.7V1382.6M501.2 1379.7V1382.6M502.1 1379.7V1382.6M503 1379.7V1382.6M504.8 1379.7V1382.6M506.6 1379.7V1382.6M507.5 1379.7V1382.6M508.4 1379.7V1382.6M510.2 1379.7V1382.6M511.1 1379.7V1382.6M512 1379.7V1382.6M512.9 1379.7V1382.6M513.8 1379.7V1382.6M514.7 1379.7V1382.6M515.6 1379.7V1382.6M516.5 1379.7V1382.6M519.2 1379.7V1382.6M520.1 1379.7V1382.6M521 1379.7V1382.6M521.9 1379.7V1382.6M522.8 1379.7V1382.6M523.7 1379.7V1382.6M527.3 1379.7V1382.6M528.2 1379.7V1382.6M529.1 1379.7V1382.6M530 1379.7V1382.6M533.6 1379.7V1382.6M534.5 1379.7V1382.6M535.4 1379.7V1382.6M536.3 1379.7V1382.6M537.2 1379.7V1382.6M538.1 1379.7V1382.6M539.9 1379.7V1382.6M540.8 1379.7V1382.6M542.6 1379.7V1382.6M545.3 1379.7V1382.6M546.2 1379.7V1382.6M547.1 1379.7V1382.6M548 1379.7V1382.6M548.9 1379.7V1382.6M549.8 1379.7V1382.6M550.7 1379.7V1382.6M552.5 1379.7V1382.6M553.4 1379.7V1382.6M554.3 1379.7V1382.6M555.2 1379.7V1382.6M556.1 1379.7V1382.6M557 1379.7V1382.6M557.9 1379.7V1382.6M558.8 1379.7V1382.6M560.6 1379.7V1382.6M561.5 1379.7V1382.6M562.4 1379.7V1382.6M563.3 1379.7V1382.6M564.2 1379.7V1382.6M565.1 1379.7V1382.6M566 1379.7V1382.6M567.8 1379.7V1382.6M568.7 1379.7V1382.6M569.6 1379.7V1382.6M572.3 1379.7V1382.6M573.2 1379.7V1382.6M575 1379.7V1382.6M575.9 1379.7V1382.6M576.8 1379.7V1382.6M578.6 1379.7V1382.6M580.4 1379.7V1382.6M581.3 1379.7V1382.6M583.1 1379.7V1382.6M584 1379.7V1382.6M584.9 1379.7V1382.6M585.8 1379.7V1382.6M586.7 1379.7V1382.6M587.6 1379.7V1382.6M588.5 1379.7V1382.6M589.4 1379.7V1382.6M590.3 1379.7V1382.6M591.2 1379.7V1382.6M592.1 1379.7V1382.6M593.9 1379.7V1382.6M594.8 1379.7V1382.6M595.7 1379.7V1382.6M597.5 1379.7V1382.6M598.4 1379.7V1382.6M600.2 1379.7V1382.6M601.1 1379.7V1382.6M602 1379.7V1382.6M602.9 1379.7V1382.6M603.8 1379.7V1382.6M604.7 1379.7V1382.6M605.6 1379.7V1382.6M606.5 1379.7V1382.6M607.4 1379.7V1382.6M608.3 1379.7V1382.6M609.2 1379.7V1382.6M611 1379.7V1382.6M612.8 1379.7V1382.6M613.7 1379.7V1382.6M614.6 1379.7V1382.6M615.5 1379.7V1382.6M616.4 1379.7V1382.6M617.3 1379.7V1382.6M618.2 1379.7V1382.6M619.1 1379.7V1382.6M620 1379.7V1382.6M620.9 1379.7V1382.6M621.8 1379.7V1382.6M623.6 1379.7V1382.6M625.4 1379.7V1382.6M626.3 1379.7V1382.6M627.2 1379.7V1382.6M628.1 1379.7V1382.6M629.9 1379.7V1382.6M631.7 1379.7V1382.6M632.6 1379.7V1382.6M633.5 1379.7V1382.6M635.3 1379.7V1382.6M636.2 1379.7V1382.6M637.1 1379.7V1382.6M640.7 1379.7V1382.6M642.5 1379.7V1382.6M643.4 1379.7V1382.6M644.3 1379.7V1382.6M645.2 1379.7V1382.6" stroke="#00ff00" stroke-width="1.05" fill="none"/>
<path d="M166.4 1377V1380M168.2 1377V1380M169.1 1377V1380M171.8 1377V1380M174.5 1377V1380M179.9 1377V1380M180.8 1377V1380M181.7 1377V1380M185.3 1377V1380M189.8 1377V1380M190.7 1377V1380M193.4 1377V1380M195.2 1377V1380M198.8 1377V1380M199.7 1377V1380M209.6 1377V1380M215 1377V1380M218.6 1377V1380M220.4 1377V1380M221.3 1377V1380M224.9 1377V1380M225.8 1377V1380M226.7 1377V1380M227.6 1377V1380M230.3 1377V1380M232.1 1377V1380M233 1377V1380M237.5 1377V1380M238.4 1377V1380M240.2 1377V1380M241.1 1377V1380M242.9 1377V1380M243.8 1377V1380M252.8 1377V1380M254.6 1377V1380M256.4 1377V1380M258.2 1377V1380M260 1377V1380M260.9 1377V1380M261.8 1377V1380M263.6 1377V1380M264.5 1377V1380M272.6 1377V1380M273.5 1377V1380M278.9 1377V1380M282.5 1377V1380M284.3 1377V1380M286.1 1377V1380M291.5 1377V1380M294.2 1377V1380M296 1377V1380M297.8 1377V1380M300.5 1377V1380M303.2 1377V1380M304.1 1377V1380M306.8 1377V1380M307.7 1377V1380M308.6 1377V1380M311.3 1377V1380M313.1 1377V1380M314 1377V1380M316.7 1377V1380M318.5 1377V1380M320.3 1377V1380M321.2 1377V1380M322.1 1377V1380M324.8 1377V1380M329.3 1377V1380M332 1377V1380M332.9 1377V1380M333.8 1377V1380M334.7 1377V1380M338.3 1377V1380M345.5 1377V1380M347.3 1377V1380M349.1 1377V1380M350.9 1377V1380M353.6 1377V1380M354.5 1377V1380M356.3 1377V1380M357.2 1377V1380M358.1 1377V1380M361.7 1377V1380M363.5 1377V1380M364.4 1377V1380M369.8 1377V1380M373.4 1377V1380M374.3 1377V1380M378.8 1377V1380M379.7 1377V1380M382.4 1377V1380M386.9 1377V1380M390.5 1377V1380M393.2 1377V1380M395.9 1377V1380M397.7 1377V1380M399.5 1377V1380M400.4 1377V1380M403.1 1377V1380M408.5 1377V1380M411.2 1377V1380M416.6 1377V1380M417.5 1377V1380M420.2 1377V1380M422.9 1377V1380M425.6 1377V1380M431 1377V1380M439.1 1377V1380M441.8 1377V1380M445.4 1377V1380M448.1 1377V1380M449 1377V1380M449.9 1377V1380M450.8 1377V1380M451.7 1377V1380M457.1 1377V1380M458 1377V1380M460.7 1377V1380M463.4 1377V1380M467.9 1377V1380M470.6 1377V1380M471.5 1377V1380M472.4 1377V1380M473.3 1377V1380M474.2 1377V1380M476 1377V1380M476.9 1377V1380M481.4 1377V1380M484.1 1377V1380M485 1377V1380M485.9 1377V1380M488.6 1377V1380M491.3 1377V1380M492.2 1377V1380M493.1 1377V1380M494.9 1377V1380M495.8 1377V1380M501.2 1377V1380M502.1 1377V1380M503 1377V1380M504.8 1377V1380M509.3 1377V1380M510.2 1377V1380M512 1377V1380M512.9 1377V1380M515.6 1377V1380M520.1 1377V1380M522.8 1377V1380M523.7 1377V1380M525.5 1377V1380M526.4 1377V1380M527.3 1377V1380M532.7 1377V1380M534.5 1377V1380M535.4 1377V1380M536.3 1377V1380M539 1377V1380M540.8 1377V1380M543.5 1377V1380M547.1 1377V1380M548.9 1377V1380M549.8 1377V1380M552.5 1377V1380M555.2 1377V1380M556.1 1377V1380M557.9 1377V1380M558.8 1377V1380M559.7 1377V1380M561.5 1377V1380M564.2 1377V1380M565.1 1377V1380M569.6 1377V1380M577.7 1377V1380M580.4 1377V1380M581.3 1377V1380M583.1 1377V1380M585.8 1377V1380M586.7 1377V1380M592.1 1377V1380M593.9 1377V1380M595.7 1377V1380M597.5 1377V1380M599.3 1377V1380M603.8 1377V1380M604.7 1377V1380M607.4 1377V1380M610.1 1377V1380M611 1377V1380M611.9 1377V1380M613.7 1377V1380M615.5 1377V1380M619.1 1377V1380M621.8 1377V1380M624.5 1377V1380M629 1377V1380M629.9 1377V1380M632.6 1377V1380M633.5 1377V1380M636.2 1377V1380M637.1 1377V1380M638 1377V1380M640.7 1377V1380M642.5 1377V1380M644.3 1377V1380M646.1 1377V1380" stroke="#00ff00" stroke-width="1.0" fill="none"/>
<path d="M179.9 1371.8V1374M218.6 1371.8V1374M328.4 1371.8V1374M413 1371.8V1374M444.5 1371.8V1374M473.3 1371.8V1374M482.3 1371.8V1374M606.5 1371.8V1374" stroke="#00ff00" stroke-width="1.0" fill="none"/>
<path d="M647 1373.4V1378.2M647.9 1373.4V1378.2M648.8 1373.4V1378.2M649.7 1373.4V1378.2M650.6 1373.4V1378.2M652.4 1373.4V1378.2M653.3 1373.4V1378.2M654.2 1373.4V1378.2M655.1 1373.4V1378.2M656 1373.4V1378.2M656.9 1373.4V1378.2M657.8 1373.4V1378.2M658.7 1373.4V1378.2M659.6 1373.4V1378.2M660.5 1373.4V1378.2M661.4 1373.4V1378.2M662.3 1373.4V1378.2M663.2 1373.4V1378.2M664.1 1373.4V1378.2M665.9 1373.4V1378.2M666.8 1373.4V1378.2M667.7 1373.4V1378.2M668.6 1373.4V1378.2M669.5 1373.4V1378.2M670.4 1373.4V1378.2M671.3 1373.4V1378.2M672.2 1373.4V1378.2M673.1 1373.4V1378.2M674 1373.4V1378.2M674.9 1373.4V1378.2M675.8 1373.4V1378.2M676.7 1373.4V1378.2M677.6 1373.4V1378.2M678.5 1373.4V1378.2M679.4 1373.4V1378.2M680.3 1373.4V1378.2M681.2 1373.4V1378.2M683 1373.4V1378.2M683.9 1373.4V1378.2M684.8 1373.4V1378.2M685.7 1373.4V1378.2M688.4 1373.4V1378.2M689.3 1373.4V1378.2M690.2 1373.4V1378.2M691.1 1373.4V1378.2M692 1373.4V1378.2M692.9 1373.4V1378.2M693.8 1373.4V1378.2M694.7 1373.4V1378.2M695.6 1373.4V1378.2M696.5 1373.4V1378.2M697.4 1373.4V1378.2M698.3 1373.4V1378.2M699.2 1373.4V1378.2M700.1 1373.4V1378.2M701 1373.4V1378.2M701.9 1373.4V1378.2M702.8 1373.4V1378.2M703.7 1373.4V1378.2M704.6 1373.4V1378.2M705.5 1373.4V1378.2M706.4 1373.4V1378.2M707.3 1373.4V1378.2M708.2 1373.4V1378.2M709.1 1373.4V1378.2M710 1373.4V1378.2M710.9 1373.4V1378.2M711.8 1373.4V1378.2M712.7 1373.4V1378.2M713.6 1373.4V1378.2M714.5 1373.4V1378.2M715.4 1373.4V1378.2M716.3 1373.4V1378.2M717.2 1373.4V1378.2M718.1 1373.4V1378.2M719 1373.4V1378.2M719.9 1373.4V1378.2M720.8 1373.4V1378.2M721.7 1373.4V1378.2M722.6 1373.4V1378.2M723.5 1373.4V1378.2M724.4 1373.4V1378.2M725.3 1373.4V1378.2M726.2 1373.4V1378.2M727.1 1373.4V1378.2M728 1373.4V1378.2M728.9 1373.4V1378.2M729.8 1373.4V1378.2M730.7 1373.4V1378.2M731.6 1373.4V1378.2M732.5 1373.4V1378.2M733.4 1373.4V1378.2M734.3 1373.4V1378.2M735.2 1373.4V1378.2M736.1 1373.4V1378.2M737 1373.4V1378.2M737.9 1373.4V1378.2M738.8 1373.4V1378.2M739.7 1373.4V1378.2M741.5 1373.4V1378.2M742.4 1373.4V1378.2M743.3 1373.4V1378.2M744.2 1373.4V1378.2M745.1 1373.4V1378.2M746 1373.4V1378.2M746.9 1373.4V1378.2M747.8 1373.4V1378.2M748.7 1373.4V1378.2M749.6 1373.4V1378.2M750.5 1373.4V1378.2M751.4 1373.4V1378.2M752.3 1373.4V1378.2M753.2 1373.4V1378.2M754.1 1373.4V1378.2M755 1373.4V1378.2M755.9 1373.4V1378.2M756.8 1373.4V1378.2M757.7 1373.4V1378.2M758.6 1373.4V1378.2M759.5 1373.4V1378.2M760.4 1373.4V1378.2M761.3 1373.4V1378.2M762.2 1373.4V1378.2M763.1 1373.4V1378.2M764 1373.4V1378.2M764.9 1373.4V1378.2M766.7 1373.4V1378.2M767.6 1373.4V1378.2M768.5 1373.4V1378.2M769.4 1373.4V1378.2M770.3 1373.4V1378.2M771.2 1373.4V1378.2M772.1 1373.4V1378.2M773 1373.4V1378.2M773.9 1373.4V1378.2M774.8 1373.4V1378.2M775.7 1373.4V1378.2M776.6 1373.4V1378.2M777.5 1373.4V1378.2M778.4 1373.4V1378.2M779.3 1373.4V1378.2M780.2 1373.4V1378.2M782 1373.4V1378.2M782.9 1373.4V1378.2M783.8 1373.4V1378.2M784.7 1373.4V1378.2M785.6 1373.4V1378.2M786.5 1373.4V1378.2M787.4 1373.4V1378.2M788.3 1373.4V1378.2M789.2 1373.4V1378.2M790.1 1373.4V1378.2M791 1373.4V1378.2M791.9 1373.4V1378.2M792.8 1373.4V1378.2M793.7 1373.4V1378.2M794.6 1373.4V1378.2M795.5 1373.4V1378.2M796.4 1373.4V1378.2M797.3 1373.4V1378.2M798.2 1373.4V1378.2M799.1 1373.4V1378.2M800 1373.4V1378.2M800.9 1373.4V1378.2M801.8 1373.4V1378.2M802.7 1373.4V1378.2M803.6 1373.4V1378.2M804.5 1373.4V1378.2M805.4 1373.4V1378.2M806.3 1373.4V1378.2M807.2 1373.4V1378.2M808.1 1373.4V1378.2M809 1373.4V1378.2M809.9 1373.4V1378.2M810.8 1373.4V1378.2M811.7 1373.4V1378.2M812.6 1373.4V1378.2M813.5 1373.4V1378.2M814.4 1373.4V1378.2M815.3 1373.4V1378.2M816.2 1373.4V1378.2M817.1 1373.4V1378.2M818 1373.4V1378.2M818.9 1373.4V1378.2M819.8 1373.4V1378.2M820.7 1373.4V1378.2M821.6 1373.4V1378.2M822.5 1373.4V1378.2M823.4 1373.4V1378.2M824.3 1373.4V1378.2M825.2 1373.4V1378.2M826.1 1373.4V1378.2M827 1373.4V1378.2M827.9 1373.4V1378.2M828.8 1373.4V1378.2M829.7 1373.4V1378.2M830.6 1373.4V1378.2M831.5 1373.4V1378.2M832.4 1373.4V1378.2M833.3 1373.4V1378.2M834.2 1373.4V1378.2M836 1373.4V1378.2M836.9 1373.4V1378.2M837.8 1373.4V1378.2M838.7 1373.4V1378.2M839.6 1373.4V1378.2M840.5 1373.4V1378.2M841.4 1373.4V1378.2M842.3 1373.4V1378.2M843.2 1373.4V1378.2M844.1 1373.4V1378.2M845 1373.4V1378.2M845.9 1373.4V1378.2M846.8 1373.4V1378.2M847.7 1373.4V1378.2M848.6 1373.4V1378.2M849.5 1373.4V1378.2M850.4 1373.4V1378.2M851.3 1373.4V1378.2M852.2 1373.4V1378.2M853.1 1373.4V1378.2M854 1373.4V1378.2M854.9 1373.4V1378.2M855.8 1373.4V1378.2M856.7 1373.4V1378.2M857.6 1373.4V1378.2M858.5 1373.4V1378.2M859.4 1373.4V1378.2M860.3 1373.4V1378.2M861.2 1373.4V1378.2M862.1 1373.4V1378.2M863 1373.4V1378.2M863.9 1373.4V1378.2M864.8 1373.4V1378.2M865.7 1373.4V1378.2M866.6 1373.4V1378.2M867.5 1373.4V1378.2M868.4 1373.4V1378.2M869.3 1373.4V1378.2M870.2 1373.4V1378.2M871.1 1373.4V1378.2M872 1373.4V1378.2M872.9 1373.4V1378.2M873.8 1373.4V1378.2M874.7 1373.4V1378.2M875.6 1373.4V1378.2M876.5 1373.4V1378.2M877.4 1373.4V1378.2M878.3 1373.4V1378.2M879.2 1373.4V1378.2M880.1 1373.4V1378.2M881 1373.4V1378.2M881.9 1373.4V1378.2M882.8 1373.4V1378.2M883.7 1373.4V1378.2M884.6 1373.4V1378.2M885.5 1373.4V1378.2M886.4 1373.4V1378.2M887.3 1373.4V1378.2M888.2 1373.4V1378.2M889.1 1373.4V1378.2M890 1373.4V1378.2M890.9 1373.4V1378.2M891.8 1373.4V1378.2M892.7 1373.4V1378.2M893.6 1373.4V1378.2M894.5 1373.4V1378.2M895.4 1373.4V1378.2M896.3 1373.4V1378.2M897.2 1373.4V1378.2M898.1 1373.4V1378.2M899 1373.4V1378.2M899.9 1373.4V1378.2M900.8 1373.4V1378.2M901.7 1373.4V1378.2M902.6 1373.4V1378.2M903.5 1373.4V1378.2M904.4 1373.4V1378.2M905.3 1373.4V1378.2M906.2 1373.4V1378.2M907.1 1373.4V1378.2M908 1373.4V1378.2M908.9 1373.4V1378.2M909.8 1373.4V1378.2M910.7 1373.4V1378.2M912.5 1373.4V1378.2M913.4 1373.4V1378.2M914.3 1373.4V1378.2M915.2 1373.4V1378.2M916.1 1373.4V1378.2M917 1373.4V1378.2M917.9 1373.4V1378.2M918.8 1373.4V1378.2M919.7 1373.4V1378.2M920.6 1373.4V1378.2M921.5 1373.4V1378.2M922.4 1373.4V1378.2M923.3 1373.4V1378.2M924.2 1373.4V1378.2M925.1 1373.4V1378.2M926.9 1373.4V1378.2M927.8 1373.4V1378.2M928.7 1373.4V1378.2M929.6 1373.4V1378.2M930.5 1373.4V1378.2M931.4 1373.4V1378.2M932.3 1373.4V1378.2M933.2 1373.4V1378.2M934.1 1373.4V1378.2M935 1373.4V1378.2M935.9 1373.4V1378.2M936.8 1373.4V1378.2M937.7 1373.4V1378.2M938.6 1373.4V1378.2M939.5 1373.4V1378.2M940.4 1373.4V1378.2M941.3 1373.4V1378.2M942.2 1373.4V1378.2M943.1 1373.4V1378.2M944 1373.4V1378.2M944.9 1373.4V1378.2M945.8 1373.4V1378.2M946.7 1373.4V1378.2M947.6 1373.4V1378.2M948.5 1373.4V1378.2M949.4 1373.4V1378.2M950.3 1373.4V1378.2M951.2 1373.4V1378.2M952.1 1373.4V1378.2M953 1373.4V1378.2M953.9 1373.4V1378.2M954.8 1373.4V1378.2M955.7 1373.4V1378.2M956.6 1373.4V1378.2M957.5 1373.4V1378.2M958.4 1373.4V1378.2M959.3 1373.4V1378.2M961.1 1373.4V1378.2M962 1373.4V1378.2M962.9 1373.4V1378.2M963.8 1373.4V1378.2M964.7 1373.4V1378.2M965.6 1373.4V1378.2M966.5 1373.4V1378.2M967.4 1373.4V1378.2M968.3 1373.4V1378.2" stroke="#00ff00" stroke-width="1.05" fill="none"/>
<path d="M657.8 1378V1382.6M682.1 1378V1382.6M692.9 1378V1382.6M699.2 1378V1382.6M717.2 1378V1382.6M723.5 1378V1382.6M741.5 1378V1382.6M789.2 1378V1382.6M804.5 1378V1382.6M816.2 1378V1382.6M850.4 1378V1382.6M854.9 1378V1382.6M866.6 1378V1382.6M868.4 1378V1382.6M869.3 1378V1382.6M883.7 1378V1382.6M903.5 1378V1382.6M905.3 1378V1382.6M918.8 1378V1382.6M922.4 1378V1382.6" stroke="#00ff00" stroke-width="1.0" fill="none"/>
<path d="M668.6 1371.8V1374M746 1371.8V1374M802.7 1371.8V1374M829.7 1371.8V1374M851.3 1371.8V1374M886.4 1371.8V1374M928.7 1371.8V1374M943.1 1371.8V1374M944.9 1371.8V1374" stroke="#00ff00" stroke-width="1.0" fill="none"/>
<path d="M773.8 1370.8V1374M777.4 1370.8V1374M779.2 1370.8V1374M780.1 1370.8V1374M781 1370.8V1374M781.9 1370.8V1374M782.8 1370.8V1374M783.7 1370.8V1374M784.6 1370.8V1374M786.4 1370.8V1374M787.3 1370.8V1374M788.2 1370.8V1374" stroke="#00ff00" stroke-width="1.0" fill="none"/>
<path d="M969 1377.4V1382.7M969.9 1377.4V1382.7M970.8 1377.4V1382.7M971.7 1377.4V1382.7M972.6 1377.4V1382.7M973.5 1377.4V1382.7M974.4 1377.4V1382.7M975.3 1377.4V1382.7M976.2 1377.4V1382.7M977.1 1377.4V1382.7M978 1377.4V1382.7M978.9 1377.4V1382.7M979.8 1377.4V1382.7M980.7 1377.4V1382.7M981.6 1377.4V1382.7M982.5 1377.4V1382.7M983.4 1377.4V1382.7M984.3 1377.4V1382.7M985.2 1377.4V1382.7M986.1 1377.4V1382.7M987 1377.4V1382.7M987.9 1377.4V1382.7M988.8 1377.4V1382.7M989.7 1377.4V1382.7M990.6 1377.4V1382.7M991.5 1377.4V1382.7M992.4 1377.4V1382.7M993.3 1377.4V1382.7M994.2 1377.4V1382.7M995.1 1377.4V1382.7M996 1377.4V1382.7M996.9 1377.4V1382.7M997.8 1377.4V1382.7M998.7 1377.4V1382.7M999.6 1377.4V1382.7M1000.5 1377.4V1382.7M1001.4 1377.4V1382.7M1002.3 1377.4V1382.7M1003.2 1377.4V1382.7M1004.1 1377.4V1382.7M1005 1377.4V1382.7M1005.9 1377.4V1382.7M1006.8 1377.4V1382.7M1007.7 1377.4V1382.7M1008.6 1377.4V1382.7M1009.5 1377.4V1382.7M1010.4 1377.4V1382.7M1011.3 1377.4V1382.7M1012.2 1377.4V1382.7M1013.1 1377.4V1382.7M1014 1377.4V1382.7M1014.9 1377.4V1382.7M1015.8 1377.4V1382.7M1016.7 1377.4V1382.7M1018.5 1377.4V1382.7M1019.4 1377.4V1382.7M1020.3 1377.4V1382.7M1022.1 1377.4V1382.7M1023 1377.4V1382.7M1023.9 1377.4V1382.7M1024.8 1377.4V1382.7M1025.7 1377.4V1382.7M1026.6 1377.4V1382.7M1027.5 1377.4V1382.7M1029.3 1377.4V1382.7M1031.1 1377.4V1382.7M1032 1377.4V1382.7M1032.9 1377.4V1382.7M1033.8 1377.4V1382.7M1034.7 1377.4V1382.7M1035.6 1377.4V1382.7M1036.5 1377.4V1382.7M1037.4 1377.4V1382.7M1038.3 1377.4V1382.7M1039.2 1377.4V1382.7M1041 1377.4V1382.7M1041.9 1377.4V1382.7M1042.8 1377.4V1382.7M1043.7 1377.4V1382.7M1044.6 1377.4V1382.7M1045.5 1377.4V1382.7M1046.4 1377.4V1382.7M1047.3 1377.4V1382.7M1048.2 1377.4V1382.7M1049.1 1377.4V1382.7M1050 1377.4V1382.7M1050.9 1377.4V1382.7M1051.8 1377.4V1382.7M1052.7 1377.4V1382.7M1053.6 1377.4V1382.7M1054.5 1377.4V1382.7M1055.4 1377.4V1382.7M1056.3 1377.4V1382.7M1058.1 1377.4V1382.7M1059 1377.4V1382.7M1059.9 1377.4V1382.7M1060.8 1377.4V1382.7M1061.7 1377.4V1382.7M1062.6 1377.4V1382.7M1063.5 1377.4V1382.7M1064.4 1377.4V1382.7M1065.3 1377.4V1382.7M1066.2 1377.4V1382.7M1067.1 1377.4V1382.7M1068 1377.4V1382.7M1069.8 1377.4V1382.7M1070.7 1377.4V1382.7M1072.5 1377.4V1382.7M1073.4 1377.4V1382.7M1074.3 1377.4V1382.7M1075.2 1377.4V1382.7M1076.1 1377.4V1382.7M1077 1377.4V1382.7M1077.9 1377.4V1382.7M1078.8 1377.4V1382.7M1079.7 1377.4V1382.7M1080.6 1377.4V1382.7M1081.5 1377.4V1382.7M1082.4 1377.4V1382.7M1083.3 1377.4V1382.7M1084.2 1377.4V1382.7M1085.1 1377.4V1382.7M1086 1377.4V1382.7M1086.9 1377.4V1382.7M1087.8 1377.4V1382.7M1088.7 1377.4V1382.7M1089.6 1377.4V1382.7M1090.5 1377.4V1382.7M1091.4 1377.4V1382.7M1092.3 1377.4V1382.7M1093.2 1377.4V1382.7M1094.1 1377.4V1382.7M1095 1377.4V1382.7M1095.9 1377.4V1382.7M1096.8 1377.4V1382.7M1097.7 1377.4V1382.7M1098.6 1377.4V1382.7M1099.5 1377.4V1382.7M1100.4 1377.4V1382.7M1101.3 1377.4V1382.7M1102.2 1377.4V1382.7M1103.1 1377.4V1382.7M1104 1377.4V1382.7M1104.9 1377.4V1382.7M1105.8 1377.4V1382.7M1106.7 1377.4V1382.7M1107.6 1377.4V1382.7M1108.5 1377.4V1382.7M1109.4 1377.4V1382.7M1110.3 1377.4V1382.7M1111.2 1377.4V1382.7M1112.1 1377.4V1382.7M1113 1377.4V1382.7M1113.9 1377.4V1382.7M1114.8 1377.4V1382.7M1115.7 1377.4V1382.7M1116.6 1377.4V1382.7M1117.5 1377.4V1382.7M1118.4 1377.4V1382.7M1119.3 1377.4V1382.7M1120.2 1377.4V1382.7M1121.1 1377.4V1382.7M1122 1377.4V1382.7M1122.9 1377.4V1382.7M1123.8 1377.4V1382.7M1124.7 1377.4V1382.7M1125.6 1377.4V1382.7M1126.5 1377.4V1382.7M1128.3 1377.4V1382.7M1129.2 1377.4V1382.7M1130.1 1377.4V1382.7M1131 1377.4V1382.7M1131.9 1377.4V1382.7M1132.8 1377.4V1382.7M1133.7 1377.4V1382.7M1134.6 1377.4V1382.7M1135.5 1377.4V1382.7M1136.4 1377.4V1382.7M1137.3 1377.4V1382.7M1138.2 1377.4V1382.7M1139.1 1377.4V1382.7M1140 1377.4V1382.7M1140.9 1377.4V1382.7M1141.8 1377.4V1382.7M1142.7 1377.4V1382.7M1143.6 1377.4V1382.7M1144.5 1377.4V1382.7M1145.4 1377.4V1382.7M1146.3 1377.4V1382.7M1147.2 1377.4V1382.7M1148.1 1377.4V1382.7M1149 1377.4V1382.7M1149.9 1377.4V1382.7M1150.8 1377.4V1382.7M1151.7 1377.4V1382.7M1152.6 1377.4V1382.7M1153.5 1377.4V1382.7" stroke="#00ff00" stroke-width="1.05" fill="none"/>
<path d="M970.8 1372.6V1377.6M971.7 1372.6V1377.6M975.3 1372.6V1377.6M980.7 1372.6V1377.6M981.6 1372.6V1377.6M982.5 1372.6V1377.6M983.4 1372.6V1377.6M987 1372.6V1377.6M988.8 1372.6V1377.6M990.6 1372.6V1377.6M991.5 1372.6V1377.6M995.1 1372.6V1377.6M998.7 1372.6V1377.6M1002.3 1372.6V1377.6M1003.2 1372.6V1377.6M1017.6 1372.6V1377.6M1021.2 1372.6V1377.6M1023 1372.6V1377.6M1025.7 1372.6V1377.6M1029.3 1372.6V1377.6M1038.3 1372.6V1377.6M1039.2 1372.6V1377.6M1040.1 1372.6V1377.6M1041.9 1372.6V1377.6M1043.7 1372.6V1377.6M1045.5 1372.6V1377.6M1046.4 1372.6V1377.6M1049.1 1372.6V1377.6M1055.4 1372.6V1377.6M1064.4 1372.6V1377.6M1066.2 1372.6V1377.6M1069.8 1372.6V1377.6M1075.2 1372.6V1377.6M1076.1 1372.6V1377.6M1077 1372.6V1377.6M1082.4 1372.6V1377.6M1086.9 1372.6V1377.6M1087.8 1372.6V1377.6M1090.5 1372.6V1377.6M1091.4 1372.6V1377.6M1093.2 1372.6V1377.6M1096.8 1372.6V1377.6M1100.4 1372.6V1377.6M1101.3 1372.6V1377.6M1103.1 1372.6V1377.6M1104 1372.6V1377.6M1106.7 1372.6V1377.6M1108.5 1372.6V1377.6M1109.4 1372.6V1377.6M1111.2 1372.6V1377.6M1117.5 1372.6V1377.6M1120.2 1372.6V1377.6M1121.1 1372.6V1377.6M1129.2 1372.6V1377.6M1130.1 1372.6V1377.6M1131.9 1372.6V1377.6M1142.7 1372.6V1377.6M1145.4 1372.6V1377.6M1149 1372.6V1377.6M1149.9 1372.6V1377.6M1152.6 1372.6V1377.6" stroke="#00ff00" stroke-width="1.0" fill="none"/>
<rect x="166.4" y="1418" width="987.8000000000001" height="10" fill="#ffff00"/>
<rect x="520" y="1427" width="634.2" height="7.8" fill="#ffff00"/>
<path d="M167.3 1427V1435.2M168.2 1427V1435.2M170 1427V1435.2M170.9 1427V1435.2M171.8 1427V1435.2M172.7 1427V1435.2M173.6 1427V1435.2M174.5 1427V1435.2M175.4 1427V1435.2M177.2 1427V1435.2M179 1427V1435.2M179.9 1427V1435.2M180.8 1427V1435.2M182.6 1427V1435.2M184.4 1427V1435.2M186.2 1427V1435.2M187.1 1427V1435.2M188 1427V1435.2M188.9 1427V1435.2M189.8 1427V1435.2M190.7 1427V1435.2M191.6 1427V1435.2M194.3 1427V1435.2M197.9 1427V1435.2M198.8 1427V1435.2M199.7 1427V1435.2M200.6 1427V1435.2M202.4 1427V1435.2M205.1 1427V1435.2M206 1427V1435.2M207.8 1427V1435.2M208.7 1427V1435.2M209.6 1427V1435.2M210.5 1427V1435.2M211.4 1427V1435.2M212.3 1427V1435.2M215 1427V1435.2M215.9 1427V1435.2M216.8 1427V1435.2M220.4 1427V1435.2M221.3 1427V1435.2M222.2 1427V1435.2M223.1 1427V1435.2M224 1427V1435.2M224.9 1427V1435.2M226.7 1427V1435.2M227.6 1427V1435.2M228.5 1427V1435.2M229.4 1427V1435.2M230.3 1427V1435.2M231.2 1427V1435.2M233.9 1427V1435.2M235.7 1427V1435.2M236.6 1427V1435.2M237.5 1427V1435.2M238.4 1427V1435.2M239.3 1427V1435.2M240.2 1427V1435.2M241.1 1427V1435.2M242.9 1427V1435.2M243.8 1427V1435.2M244.7 1427V1435.2M247.4 1427V1435.2M249.2 1427V1435.2M251 1427V1435.2M251.9 1427V1435.2M254.6 1427V1435.2M255.5 1427V1435.2M257.3 1427V1435.2M259.1 1427V1435.2M260.9 1427V1435.2M261.8 1427V1435.2M262.7 1427V1435.2M263.6 1427V1435.2M265.4 1427V1435.2M266.3 1427V1435.2M267.2 1427V1435.2M269.9 1427V1435.2M270.8 1427V1435.2M275.3 1427V1435.2M276.2 1427V1435.2M278 1427V1435.2M278.9 1427V1435.2M281.6 1427V1435.2M282.5 1427V1435.2M284.3 1427V1435.2M285.2 1427V1435.2M286.1 1427V1435.2M287 1427V1435.2M287.9 1427V1435.2M289.7 1427V1435.2M292.4 1427V1435.2M293.3 1427V1435.2M296.9 1427V1435.2M298.7 1427V1435.2M299.6 1427V1435.2M300.5 1427V1435.2M301.4 1427V1435.2M303.2 1427V1435.2M304.1 1427V1435.2M305 1427V1435.2M305.9 1427V1435.2M306.8 1427V1435.2M307.7 1427V1435.2M308.6 1427V1435.2M309.5 1427V1435.2M310.4 1427V1435.2M312.2 1427V1435.2M313.1 1427V1435.2M314 1427V1435.2M314.9 1427V1435.2M315.8 1427V1435.2M316.7 1427V1435.2M317.6 1427V1435.2M318.5 1427V1435.2M320.3 1427V1435.2M321.2 1427V1435.2M322.1 1427V1435.2M323.9 1427V1435.2M324.8 1427V1435.2M325.7 1427V1435.2M326.6 1427V1435.2M327.5 1427V1435.2M328.4 1427V1435.2M329.3 1427V1435.2M331.1 1427V1435.2M332 1427V1435.2M332.9 1427V1435.2M334.7 1427V1435.2M336.5 1427V1435.2M337.4 1427V1435.2M338.3 1427V1435.2M340.1 1427V1435.2M341.9 1427V1435.2M342.8 1427V1435.2M344.6 1427V1435.2M345.5 1427V1435.2M346.4 1427V1435.2M347.3 1427V1435.2M349.1 1427V1435.2M350 1427V1435.2M350.9 1427V1435.2M352.7 1427V1435.2M353.6 1427V1435.2M355.4 1427V1435.2M356.3 1427V1435.2M358.1 1427V1435.2M359 1427V1435.2M359.9 1427V1435.2M360.8 1427V1435.2M361.7 1427V1435.2M362.6 1427V1435.2M363.5 1427V1435.2M365.3 1427V1435.2M368 1427V1435.2M368.9 1427V1435.2M370.7 1427V1435.2M371.6 1427V1435.2M372.5 1427V1435.2M373.4 1427V1435.2M375.2 1427V1435.2M377 1427V1435.2M377.9 1427V1435.2M379.7 1427V1435.2M380.6 1427V1435.2M381.5 1427V1435.2M383.3 1427V1435.2M384.2 1427V1435.2M386 1427V1435.2M386.9 1427V1435.2M387.8 1427V1435.2M388.7 1427V1435.2M389.6 1427V1435.2M390.5 1427V1435.2M392.3 1427V1435.2M394.1 1427V1435.2M395 1427V1435.2M395.9 1427V1435.2M396.8 1427V1435.2M397.7 1427V1435.2M398.6 1427V1435.2M399.5 1427V1435.2M401.3 1427V1435.2M403.1 1427V1435.2M404 1427V1435.2M406.7 1427V1435.2M410.3 1427V1435.2M411.2 1427V1435.2M412.1 1427V1435.2M413 1427V1435.2M417.5 1427V1435.2M419.3 1427V1435.2M421.1 1427V1435.2M422.9 1427V1435.2M423.8 1427V1435.2M424.7 1427V1435.2M425.6 1427V1435.2M426.5 1427V1435.2M427.4 1427V1435.2M430.1 1427V1435.2M431 1427V1435.2M431.9 1427V1435.2M432.8 1427V1435.2M433.7 1427V1435.2M434.6 1427V1435.2M435.5 1427V1435.2M439.1 1427V1435.2M440.9 1427V1435.2M442.7 1427V1435.2M443.6 1427V1435.2M444.5 1427V1435.2M446.3 1427V1435.2M448.1 1427V1435.2M449.9 1427V1435.2M450.8 1427V1435.2M451.7 1427V1435.2M452.6 1427V1435.2M458 1427V1435.2M459.8 1427V1435.2M461.6 1427V1435.2M462.5 1427V1435.2M463.4 1427V1435.2M464.3 1427V1435.2M465.2 1427V1435.2M467 1427V1435.2M467.9 1427V1435.2M468.8 1427V1435.2M469.7 1427V1435.2M470.6 1427V1435.2M471.5 1427V1435.2M473.3 1427V1435.2M476 1427V1435.2M477.8 1427V1435.2M478.7 1427V1435.2M480.5 1427V1435.2M481.4 1427V1435.2M482.3 1427V1435.2M483.2 1427V1435.2M484.1 1427V1435.2M485 1427V1435.2M485.9 1427V1435.2M486.8 1427V1435.2M487.7 1427V1435.2M490.4 1427V1435.2M492.2 1427V1435.2M493.1 1427V1435.2M494 1427V1435.2M494.9 1427V1435.2M496.7 1427V1435.2M497.6 1427V1435.2M498.5 1427V1435.2M499.4 1427V1435.2M503 1427V1435.2M503.9 1427V1435.2M504.8 1427V1435.2M505.7 1427V1435.2M507.5 1427V1435.2M508.4 1427V1435.2M509.3 1427V1435.2M510.2 1427V1435.2M511.1 1427V1435.2M512 1427V1435.2M513.8 1427V1435.2M514.7 1427V1435.2M516.5 1427V1435.2M518.3 1427V1435.2M520.1 1427V1435.2" stroke="#ffff00" stroke-width="1.05" fill="none"/>
<path d="M167.3 1408.5V1419M168.2 1408.5V1419M169.1 1408.5V1419M170 1408.5V1419M170.9 1408.5V1419M171.8 1408.5V1419M172.7 1408.5V1419M174.5 1408.5V1419M175.4 1408.5V1419M176.3 1408.5V1419M177.2 1408.5V1419M179 1408.5V1419M179.9 1408.5V1419M180.8 1408.5V1419M181.7 1408.5V1419M182.6 1408.5V1419M186.2 1408.5V1419M187.1 1408.5V1419M188 1408.5V1419M189.8 1408.5V1419M193.4 1408.5V1419M194.3 1408.5V1419M195.2 1408.5V1419M197 1408.5V1419M197.9 1408.5V1419M198.8 1408.5V1419M199.7 1408.5V1419M202.4 1408.5V1419M203.3 1408.5V1419M204.2 1408.5V1419M205.1 1408.5V1419M206 1408.5V1419M206.9 1408.5V1419M207.8 1408.5V1419M208.7 1408.5V1419M210.5 1408.5V1419M212.3 1408.5V1419M213.2 1408.5V1419M214.1 1408.5V1419M215 1408.5V1419M215.9 1408.5V1419M216.8 1408.5V1419M217.7 1408.5V1419M218.6 1408.5V1419M219.5 1408.5V1419M221.3 1408.5V1419M222.2 1408.5V1419M223.1 1408.5V1419M224 1408.5V1419M224.9 1408.5V1419M225.8 1408.5V1419M230.3 1408.5V1419M231.2 1408.5V1419M232.1 1408.5V1419M233 1408.5V1419M233.9 1408.5V1419M235.7 1408.5V1419M236.6 1408.5V1419M237.5 1408.5V1419M238.4 1408.5V1419M240.2 1408.5V1419M241.1 1408.5V1419M242 1408.5V1419M242.9 1408.5V1419M243.8 1408.5V1419M244.7 1408.5V1419M246.5 1408.5V1419M247.4 1408.5V1419M251 1408.5V1419M251.9 1408.5V1419M252.8 1408.5V1419M253.7 1408.5V1419M254.6 1408.5V1419M255.5 1408.5V1419M256.4 1408.5V1419M257.3 1408.5V1419M258.2 1408.5V1419M260 1408.5V1419M260.9 1408.5V1419M261.8 1408.5V1419M263.6 1408.5V1419M264.5 1408.5V1419M266.3 1408.5V1419M267.2 1408.5V1419M268.1 1408.5V1419M269.9 1408.5V1419M270.8 1408.5V1419M272.6 1408.5V1419M274.4 1408.5V1419M275.3 1408.5V1419M276.2 1408.5V1419M277.1 1408.5V1419M278 1408.5V1419M279.8 1408.5V1419M280.7 1408.5V1419M281.6 1408.5V1419M283.4 1408.5V1419M284.3 1408.5V1419M286.1 1408.5V1419M287 1408.5V1419M287.9 1408.5V1419M289.7 1408.5V1419M291.5 1408.5V1419M292.4 1408.5V1419M293.3 1408.5V1419M294.2 1408.5V1419M295.1 1408.5V1419M296 1408.5V1419M301.4 1408.5V1419M303.2 1408.5V1419M304.1 1408.5V1419M305.9 1408.5V1419M306.8 1408.5V1419M307.7 1408.5V1419M308.6 1408.5V1419M309.5 1408.5V1419M310.4 1408.5V1419M311.3 1408.5V1419M312.2 1408.5V1419M313.1 1408.5V1419M314 1408.5V1419M314.9 1408.5V1419M315.8 1408.5V1419M318.5 1408.5V1419M319.4 1408.5V1419M322.1 1408.5V1419M323 1408.5V1419M326.6 1408.5V1419M327.5 1408.5V1419M328.4 1408.5V1419M330.2 1408.5V1419M331.1 1408.5V1419M332.9 1408.5V1419M334.7 1408.5V1419M335.6 1408.5V1419M336.5 1408.5V1419M337.4 1408.5V1419M339.2 1408.5V1419M340.1 1408.5V1419M341 1408.5V1419M341.9 1408.5V1419M342.8 1408.5V1419M343.7 1408.5V1419M344.6 1408.5V1419M346.4 1408.5V1419M347.3 1408.5V1419M348.2 1408.5V1419M351.8 1408.5V1419M352.7 1408.5V1419M353.6 1408.5V1419M354.5 1408.5V1419M355.4 1408.5V1419M356.3 1408.5V1419M357.2 1408.5V1419M359 1408.5V1419M359.9 1408.5V1419M360.8 1408.5V1419M362.6 1408.5V1419M363.5 1408.5V1419M365.3 1408.5V1419M366.2 1408.5V1419M367.1 1408.5V1419M368.9 1408.5V1419M369.8 1408.5V1419M371.6 1408.5V1419M372.5 1408.5V1419M373.4 1408.5V1419M374.3 1408.5V1419M375.2 1408.5V1419M376.1 1408.5V1419M377 1408.5V1419M377.9 1408.5V1419M379.7 1408.5V1419M380.6 1408.5V1419M381.5 1408.5V1419M382.4 1408.5V1419M383.3 1408.5V1419M384.2 1408.5V1419M385.1 1408.5V1419M386 1408.5V1419M387.8 1408.5V1419M388.7 1408.5V1419M389.6 1408.5V1419M390.5 1408.5V1419M391.4 1408.5V1419M392.3 1408.5V1419M393.2 1408.5V1419M394.1 1408.5V1419M395 1408.5V1419M395.9 1408.5V1419M396.8 1408.5V1419M399.5 1408.5V1419M400.4 1408.5V1419M402.2 1408.5V1419M403.1 1408.5V1419M404 1408.5V1419M406.7 1408.5V1419M407.6 1408.5V1419M408.5 1408.5V1419M409.4 1408.5V1419M410.3 1408.5V1419M411.2 1408.5V1419M412.1 1408.5V1419M413 1408.5V1419M413.9 1408.5V1419M414.8 1408.5V1419M415.7 1408.5V1419M416.6 1408.5V1419M417.5 1408.5V1419M418.4 1408.5V1419M419.3 1408.5V1419M420.2 1408.5V1419M421.1 1408.5V1419M422 1408.5V1419M423.8 1408.5V1419M425.6 1408.5V1419M428.3 1408.5V1419M431 1408.5V1419M431.9 1408.5V1419M432.8 1408.5V1419M433.7 1408.5V1419M434.6 1408.5V1419M435.5 1408.5V1419M436.4 1408.5V1419M440 1408.5V1419M440.9 1408.5V1419M441.8 1408.5V1419M442.7 1408.5V1419M445.4 1408.5V1419M446.3 1408.5V1419M447.2 1408.5V1419M448.1 1408.5V1419M449 1408.5V1419M450.8 1408.5V1419M451.7 1408.5V1419M452.6 1408.5V1419M453.5 1408.5V1419M454.4 1408.5V1419M456.2 1408.5V1419M457.1 1408.5V1419M458 1408.5V1419M458.9 1408.5V1419M459.8 1408.5V1419M460.7 1408.5V1419M461.6 1408.5V1419M465.2 1408.5V1419M466.1 1408.5V1419M467 1408.5V1419M467.9 1408.5V1419M468.8 1408.5V1419M469.7 1408.5V1419M471.5 1408.5V1419M472.4 1408.5V1419M473.3 1408.5V1419M474.2 1408.5V1419M475.1 1408.5V1419M476.9 1408.5V1419M477.8 1408.5V1419M478.7 1408.5V1419M479.6 1408.5V1419M480.5 1408.5V1419M481.4 1408.5V1419M482.3 1408.5V1419M483.2 1408.5V1419M484.1 1408.5V1419M486.8 1408.5V1419M488.6 1408.5V1419M489.5 1408.5V1419M494 1408.5V1419M494.9 1408.5V1419M495.8 1408.5V1419M496.7 1408.5V1419M497.6 1408.5V1419M498.5 1408.5V1419M499.4 1408.5V1419M500.3 1408.5V1419M501.2 1408.5V1419M502.1 1408.5V1419M503 1408.5V1419M503.9 1408.5V1419M504.8 1408.5V1419M506.6 1408.5V1419M507.5 1408.5V1419M508.4 1408.5V1419M509.3 1408.5V1419M510.2 1408.5V1419M511.1 1408.5V1419M512 1408.5V1419M512.9 1408.5V1419M513.8 1408.5V1419M514.7 1408.5V1419M515.6 1408.5V1419M517.4 1408.5V1419M518.3 1408.5V1419M519.2 1408.5V1419M520.1 1408.5V1419M521.9 1408.5V1419M522.8 1408.5V1419M524.6 1408.5V1419M525.5 1408.5V1419M527.3 1408.5V1419M528.2 1408.5V1419M529.1 1408.5V1419M530 1408.5V1419M530.9 1408.5V1419M531.8 1408.5V1419M532.7 1408.5V1419M534.5 1408.5V1419M536.3 1408.5V1419M537.2 1408.5V1419M538.1 1408.5V1419M539.9 1408.5V1419M540.8 1408.5V1419M541.7 1408.5V1419M542.6 1408.5V1419M543.5 1408.5V1419M544.4 1408.5V1419M545.3 1408.5V1419M546.2 1408.5V1419M547.1 1408.5V1419M548 1408.5V1419M549.8 1408.5V1419M550.7 1408.5V1419M551.6 1408.5V1419M552.5 1408.5V1419M553.4 1408.5V1419M554.3 1408.5V1419M557 1408.5V1419M557.9 1408.5V1419M558.8 1408.5V1419M559.7 1408.5V1419M560.6 1408.5V1419M561.5 1408.5V1419M562.4 1408.5V1419M563.3 1408.5V1419M564.2 1408.5V1419M565.1 1408.5V1419M566 1408.5V1419M568.7 1408.5V1419M569.6 1408.5V1419M570.5 1408.5V1419M571.4 1408.5V1419M572.3 1408.5V1419M573.2 1408.5V1419M575 1408.5V1419M575.9 1408.5V1419M576.8 1408.5V1419M577.7 1408.5V1419M578.6 1408.5V1419M581.3 1408.5V1419M582.2 1408.5V1419M583.1 1408.5V1419M596.6 1408.5V1419M600.2 1408.5V1419M604.7 1408.5V1419M607.4 1408.5V1419M633.5 1408.5V1419M637.1 1408.5V1419M641.6 1408.5V1419M652.4 1408.5V1419M653.3 1408.5V1419M654.2 1408.5V1419M670.4 1408.5V1419M674 1408.5V1419M675.8 1408.5V1419M676.7 1408.5V1419M679.4 1408.5V1419M680.3 1408.5V1419M686.6 1408.5V1419M688.4 1408.5V1419M689.3 1408.5V1419M691.1 1408.5V1419M693.8 1408.5V1419M694.7 1408.5V1419M695.6 1408.5V1419M696.5 1408.5V1419M698.3 1408.5V1419M700.1 1408.5V1419M701.9 1408.5V1419M703.7 1408.5V1419M704.6 1408.5V1419M705.5 1408.5V1419M708.2 1408.5V1419M710 1408.5V1419M710.9 1408.5V1419M711.8 1408.5V1419M713.6 1408.5V1419M714.5 1408.5V1419M716.3 1408.5V1419M717.2 1408.5V1419M718.1 1408.5V1419M719 1408.5V1419M719.9 1408.5V1419M720.8 1408.5V1419M723.5 1408.5V1419M724.4 1408.5V1419M726.2 1408.5V1419M728 1408.5V1419M728.9 1408.5V1419M729.8 1408.5V1419M730.7 1408.5V1419M731.6 1408.5V1419M732.5 1408.5V1419M733.4 1408.5V1419M734.3 1408.5V1419M735.2 1408.5V1419M737 1408.5V1419M737.9 1408.5V1419M738.8 1408.5V1419M739.7 1408.5V1419M740.6 1408.5V1419M742.4 1408.5V1419M743.3 1408.5V1419M744.2 1408.5V1419M746.9 1408.5V1419M747.8 1408.5V1419M751.4 1408.5V1419M752.3 1408.5V1419M753.2 1408.5V1419M754.1 1408.5V1419M755.9 1408.5V1419M757.7 1408.5V1419M758.6 1408.5V1419M759.5 1408.5V1419M760.4 1408.5V1419M761.3 1408.5V1419M763.1 1408.5V1419M764.9 1408.5V1419M765.8 1408.5V1419M766.7 1408.5V1419M767.6 1408.5V1419M771.2 1408.5V1419M773.9 1408.5V1419M774.8 1408.5V1419M776.6 1408.5V1419M777.5 1408.5V1419M778.4 1408.5V1419M779.3 1408.5V1419M780.2 1408.5V1419M782.9 1408.5V1419M785.6 1408.5V1419M787.4 1408.5V1419M789.2 1408.5V1419M791 1408.5V1419M791.9 1408.5V1419M792.8 1408.5V1419M793.7 1408.5V1419M795.5 1408.5V1419M796.4 1408.5V1419M798.2 1408.5V1419M799.1 1408.5V1419M800.9 1408.5V1419M801.8 1408.5V1419M802.7 1408.5V1419M805.4 1408.5V1419M806.3 1408.5V1419M809 1408.5V1419M811.7 1408.5V1419M813.5 1408.5V1419M815.3 1408.5V1419M816.2 1408.5V1419M817.1 1408.5V1419M818.9 1408.5V1419M820.7 1408.5V1419M821.6 1408.5V1419M822.5 1408.5V1419M824.3 1408.5V1419M826.1 1408.5V1419M827 1408.5V1419M827.9 1408.5V1419M828.8 1408.5V1419M830.6 1408.5V1419M831.5 1408.5V1419M833.3 1408.5V1419M836 1408.5V1419M836.9 1408.5V1419M837.8 1408.5V1419M838.7 1408.5V1419M839.6 1408.5V1419M842.3 1408.5V1419M843.2 1408.5V1419M845 1408.5V1419M846.8 1408.5V1419M849.5 1408.5V1419M850.4 1408.5V1419M854 1408.5V1419M854.9 1408.5V1419M855.8 1408.5V1419M856.7 1408.5V1419M857.6 1408.5V1419M858.5 1408.5V1419M862.1 1408.5V1419M863 1408.5V1419M866.6 1408.5V1419M867.5 1408.5V1419M868.4 1408.5V1419M871.1 1408.5V1419M872 1408.5V1419M874.7 1408.5V1419M875.6 1408.5V1419M876.5 1408.5V1419M877.4 1408.5V1419M878.3 1408.5V1419M879.2 1408.5V1419M881 1408.5V1419M881.9 1408.5V1419M882.8 1408.5V1419M883.7 1408.5V1419M885.5 1408.5V1419M886.4 1408.5V1419M887.3 1408.5V1419M890.9 1408.5V1419M891.8 1408.5V1419M892.7 1408.5V1419M893.6 1408.5V1419M898.1 1408.5V1419M899 1408.5V1419M900.8 1408.5V1419M902.6 1408.5V1419M903.5 1408.5V1419M904.4 1408.5V1419M905.3 1408.5V1419M906.2 1408.5V1419M907.1 1408.5V1419M908 1408.5V1419M908.9 1408.5V1419M909.8 1408.5V1419M911.6 1408.5V1419M912.5 1408.5V1419M913.4 1408.5V1419M915.2 1408.5V1419M916.1 1408.5V1419M917 1408.5V1419M917.9 1408.5V1419M918.8 1408.5V1419M920.6 1408.5V1419M921.5 1408.5V1419M922.4 1408.5V1419M923.3 1408.5V1419M925.1 1408.5V1419M926 1408.5V1419M926.9 1408.5V1419M927.8 1408.5V1419M928.7 1408.5V1419M929.6 1408.5V1419M930.5 1408.5V1419M931.4 1408.5V1419M932.3 1408.5V1419M933.2 1408.5V1419M934.1 1408.5V1419M935 1408.5V1419M935.9 1408.5V1419M936.8 1408.5V1419M937.7 1408.5V1419M938.6 1408.5V1419M939.5 1408.5V1419M940.4 1408.5V1419M941.3 1408.5V1419M942.2 1408.5V1419M943.1 1408.5V1419M944.9 1408.5V1419M945.8 1408.5V1419M946.7 1408.5V1419M947.6 1408.5V1419M948.5 1408.5V1419M949.4 1408.5V1419M950.3 1408.5V1419M951.2 1408.5V1419M952.1 1408.5V1419M953 1408.5V1419M953.9 1408.5V1419M954.8 1408.5V1419M955.7 1408.5V1419M956.6 1408.5V1419M957.5 1408.5V1419M958.4 1408.5V1419M959.3 1408.5V1419M960.2 1408.5V1419M962 1408.5V1419M963.8 1408.5V1419M964.7 1408.5V1419M965.6 1408.5V1419M966.5 1408.5V1419M967.4 1408.5V1419M968.3 1408.5V1419M969.2 1408.5V1419M970.1 1408.5V1419M971 1408.5V1419M971.9 1408.5V1419M972.8 1408.5V1419M973.7 1408.5V1419M974.6 1408.5V1419M975.5 1408.5V1419M976.4 1408.5V1419M977.3 1408.5V1419M978.2 1408.5V1419M979.1 1408.5V1419M980 1408.5V1419M980.9 1408.5V1419M981.8 1408.5V1419M982.7 1408.5V1419M983.6 1408.5V1419M984.5 1408.5V1419M985.4 1408.5V1419M986.3 1408.5V1419M987.2 1408.5V1419M988.1 1408.5V1419M989 1408.5V1419M989.9 1408.5V1419M991.7 1408.5V1419M992.6 1408.5V1419M993.5 1408.5V1419M994.4 1408.5V1419M995.3 1408.5V1419M996.2 1408.5V1419M997.1 1408.5V1419M998 1408.5V1419M998.9 1408.5V1419M999.8 1408.5V1419M1000.7 1408.5V1419M1001.6 1408.5V1419M1002.5 1408.5V1419M1003.4 1408.5V1419M1004.3 1408.5V1419M1005.2 1408.5V1419M1006.1 1408.5V1419M1007 1408.5V1419M1007.9 1408.5V1419M1008.8 1408.5V1419M1009.7 1408.5V1419M1010.6 1408.5V1419M1011.5 1408.5V1419M1012.4 1408.5V1419M1013.3 1408.5V1419M1014.2 1408.5V1419M1015.1 1408.5V1419M1016 1408.5V1419M1016.9 1408.5V1419M1017.8 1408.5V1419M1018.7 1408.5V1419M1019.6 1408.5V1419M1020.5 1408.5V1419M1021.4 1408.5V1419M1022.3 1408.5V1419M1023.2 1408.5V1419M1024.1 1408.5V1419M1025 1408.5V1419M1025.9 1408.5V1419M1026.8 1408.5V1419M1027.7 1408.5V1419M1029.5 1408.5V1419M1030.4 1408.5V1419M1031.3 1408.5V1419M1032.2 1408.5V1419M1033.1 1408.5V1419M1034 1408.5V1419M1034.9 1408.5V1419M1035.8 1408.5V1419M1036.7 1408.5V1419M1037.6 1408.5V1419M1038.5 1408.5V1419M1039.4 1408.5V1419M1040.3 1408.5V1419M1041.2 1408.5V1419M1042.1 1408.5V1419M1043 1408.5V1419M1043.9 1408.5V1419M1044.8 1408.5V1419M1045.7 1408.5V1419M1046.6 1408.5V1419M1047.5 1408.5V1419M1049.3 1408.5V1419M1050.2 1408.5V1419M1051.1 1408.5V1419M1052 1408.5V1419M1052.9 1408.5V1419M1053.8 1408.5V1419M1054.7 1408.5V1419M1055.6 1408.5V1419M1056.5 1408.5V1419M1058.3 1408.5V1419M1059.2 1408.5V1419M1060.1 1408.5V1419M1061 1408.5V1419M1061.9 1408.5V1419M1062.8 1408.5V1419M1063.7 1408.5V1419M1065.5 1408.5V1419M1066.4 1408.5V1419M1067.3 1408.5V1419M1068.2 1408.5V1419M1069.1 1408.5V1419M1070 1408.5V1419M1071.8 1408.5V1419M1072.7 1408.5V1419M1073.6 1408.5V1419M1074.5 1408.5V1419M1075.4 1408.5V1419M1076.3 1408.5V1419M1077.2 1408.5V1419M1078.1 1408.5V1419M1079 1408.5V1419M1079.9 1408.5V1419M1080.8 1408.5V1419M1082.6 1408.5V1419M1083.5 1408.5V1419M1084.4 1408.5V1419M1085.3 1408.5V1419M1086.2 1408.5V1419M1087.1 1408.5V1419M1088 1408.5V1419M1088.9 1408.5V1419M1089.8 1408.5V1419M1090.7 1408.5V1419M1091.6 1408.5V1419M1092.5 1408.5V1419M1093.4 1408.5V1419M1094.3 1408.5V1419M1095.2 1408.5V1419M1097 1408.5V1419M1097.9 1408.5V1419M1098.8 1408.5V1419M1099.7 1408.5V1419M1100.6 1408.5V1419M1101.5 1408.5V1419M1103.3 1408.5V1419M1104.2 1408.5V1419M1105.1 1408.5V1419M1106.9 1408.5V1419M1107.8 1408.5V1419M1108.7 1408.5V1419M1111.4 1408.5V1419M1112.3 1408.5V1419M1113.2 1408.5V1419M1115 1408.5V1419M1115.9 1408.5V1419M1116.8 1408.5V1419M1117.7 1408.5V1419M1118.6 1408.5V1419M1119.5 1408.5V1419M1120.4 1408.5V1419M1121.3 1408.5V1419M1122.2 1408.5V1419M1123.1 1408.5V1419M1124 1408.5V1419M1124.9 1408.5V1419M1125.8 1408.5V1419M1126.7 1408.5V1419M1127.6 1408.5V1419M1129.4 1408.5V1419M1131.2 1408.5V1419M1132.1 1408.5V1419M1133 1408.5V1419M1134.8 1408.5V1419M1135.7 1408.5V1419M1136.6 1408.5V1419M1137.5 1408.5V1419M1138.4 1408.5V1419M1139.3 1408.5V1419M1140.2 1408.5V1419M1141.1 1408.5V1419M1142 1408.5V1419M1142.9 1408.5V1419M1145.6 1408.5V1419M1148.3 1408.5V1419M1149.2 1408.5V1419M1150.1 1408.5V1419M1151.9 1408.5V1419M1152.8 1408.5V1419M1153.7 1408.5V1419" stroke="#ffff00" stroke-width="1.05" fill="none"/>
<path d="M198.8 1400.2V1410M242.9 1400.2V1410M270.8 1400.2V1410M359 1400.2V1410M375.2 1400.2V1410M384.2 1400.2V1410M385.1 1400.2V1410M444.5 1400.2V1410M455.3 1400.2V1410M461.6 1400.2V1410M591.2 1400.2V1410M631.7 1400.2V1410M665.9 1400.2V1410M707.3 1400.2V1410M760.4 1400.2V1410M781.1 1400.2V1410M783.8 1400.2V1410M847.7 1400.2V1410M884.6 1400.2V1410M890 1400.2V1410M935.9 1400.2V1410M937.7 1400.2V1410M940.4 1400.2V1410M941.3 1400.2V1410M945.8 1400.2V1410M946.7 1400.2V1410M947.6 1400.2V1410M950.3 1400.2V1410M960.2 1400.2V1410M962 1400.2V1410M966.5 1400.2V1410M970.1 1400.2V1410M980 1400.2V1410M985.4 1400.2V1410M987.2 1400.2V1410M989.9 1400.2V1410M991.7 1400.2V1410M994.4 1400.2V1410M998.9 1400.2V1410M999.8 1400.2V1410M1005.2 1400.2V1410M1008.8 1400.2V1410M1009.7 1400.2V1410M1016.9 1400.2V1410M1019.6 1400.2V1410M1025.9 1400.2V1410M1027.7 1400.2V1410M1033.1 1400.2V1410M1043.9 1400.2V1410M1044.8 1400.2V1410M1046.6 1400.2V1410M1048.4 1400.2V1410M1054.7 1400.2V1410M1061.9 1400.2V1410M1063.7 1400.2V1410M1065.5 1400.2V1410M1069.1 1400.2V1410M1072.7 1400.2V1410M1076.3 1400.2V1410M1087.1 1400.2V1410M1096.1 1400.2V1410M1097 1400.2V1410M1106 1400.2V1410M1109.6 1400.2V1410M1117.7 1400.2V1410M1125.8 1400.2V1410M1128.5 1400.2V1410M1131.2 1400.2V1410M1132.1 1400.2V1410M1135.7 1400.2V1410M1148.3 1400.2V1410M1150.1 1400.2V1410M1151.9 1400.2V1410" stroke="#ffff00" stroke-width="1.1" fill="none"/>
<path d="M185.3 1434V1442.5M330.2 1434V1442.5M421.1 1434V1442.5M435.5 1434V1442.5M487.7 1434V1442.5M505.7 1434V1442.5M523.7 1434V1442.5M553.4 1434V1442.5M556.1 1434V1442.5M568.7 1434V1442.5M583.1 1434V1442.5M612.8 1434V1442.5M613.7 1434V1442.5M638 1434V1442.5M663.2 1434V1442.5M693.8 1434V1442.5M768.5 1434V1442.5M777.5 1434V1442.5M933.2 1434V1442.5M1138.4 1434V1442.5" stroke="#ffff00" stroke-width="1.0" fill="none"/>
<path d="M241.1 1434V1446M596.6 1434V1446M839.6 1434V1446" stroke="#ffff00" stroke-width="1.0" fill="none"/>
<path d="M166.8 1400V1468.5" stroke="#ffff00" stroke-width="1.7"/><path d="M166.3 1400V1442" stroke="#00ffff" stroke-width=".8" opacity=".8"/><path d="M169.2 1409V1444" stroke="#ffff00" stroke-width="1.2"/>
<rect x="411.9" y="1306.3" width="1.2" height="10" fill="#262626"/>
<rect x="411.9" y="1459.5" width="1.2" height="10" fill="#262626"/>
<rect x="659.4" y="1306.3" width="1.2" height="10" fill="#262626"/>
<rect x="659.4" y="1459.5" width="1.2" height="10" fill="#262626"/>
<rect x="906.4" y="1306.3" width="1.2" height="10" fill="#262626"/>
<rect x="906.4" y="1459.5" width="1.2" height="10" fill="#262626"/>
<rect x="165.5" y="1387.1000000000001" width="10" height="1.2" fill="#262626"/>
<rect x="1144.5" y="1387.1000000000001" width="10" height="1.2" fill="#262626"/>
<rect x="165.5" y="1306.3" width="989" height="163.20000000000005" fill="none" stroke="#262626" stroke-width="1.2"/>
<g font-family="'DejaVu Sans', sans-serif" font-size="20.83" fill="#262626" text-anchor="end">
<text x="157.0" y="1313.8">100</text>
<text x="157.0" y="1395.3">0</text>
<text x="157.0" y="1476.4">-100</text>
</g>
<g font-family="'DejaVu Sans', sans-serif" font-weight="bold" font-size="18.75" fill="#262626" text-anchor="middle">
<text transform="translate(72.5 1387.5) rotate(-90)">Voltage</text>
<text transform="translate(98.5 1387.5) rotate(-90)">(mV)</text>
</g>
<g font-family="'DejaVu Sans', sans-serif" font-weight="bold" font-size="14.58" fill="#000">
<text transform="translate(1170.1 678.3) rotate(-90)">Inboard</text>
<text transform="translate(1181.8 699.3) rotate(-90)">Outboard</text>
<text transform="translate(1193.9 659.2) rotate(-90)">Chaos</text>
</g>
<rect x="1164.0" y="718.2" width="1.8" height="15" fill="#0000ff"/>
<rect x="1179.0" y="718.2" width="1.8" height="15" fill="#00ff00"/>
<rect x="1191.0" y="718.2" width="1.8" height="15" fill="#ff0000"/>
<g font-family="'DejaVu Sans', sans-serif" font-weight="bold" font-size="14.58" fill="#000">
<text transform="translate(1170.1 920.3) rotate(-90)">Inboard</text>
<text transform="translate(1181.8 940.7) rotate(-90)">Outboard</text>
</g>
<rect x="1164.0" y="957.4" width="1.8" height="15" fill="#0000ff"/>
<rect x="1179.0" y="957.4" width="1.8" height="15" fill="#00ff00"/>
<g font-family="'DejaVu Sans', sans-serif" font-weight="bold" font-size="14.58" fill="#000">
<text transform="translate(1170.1 1173.3) rotate(-90)">Inboard EBox</text>
<text transform="translate(1181.8 1190.1) rotate(-90)">Inboard Sensor</text>
<text transform="translate(1193.9 1189.2) rotate(-90)">Outboard EBox</text>
<text transform="translate(1205 1211.1) rotate(-90)">Outboard Sensor</text>
</g>
<rect x="1167.1" y="1234.2" width="1.8" height="15" fill="#0000ff"/>
<rect x="1179.0" y="1234.2" width="1.8" height="15" fill="#00ffff"/>
<rect x="1191.0" y="1234.2" width="1.8" height="15" fill="#00ff00"/>
<rect x="1202.1" y="1234.2" width="1.8" height="15" fill="#ffff00"/>
<g font-family="'DejaVu Sans', sans-serif" font-weight="bold" font-size="14.58" fill="#000">
<text transform="translate(1170.1 1438.5) rotate(-90)">Inboard VMon1</text>
<text transform="translate(1181.8 1438.5) rotate(-90)">Inboard VMon2</text>
<text transform="translate(1193.9 1447.3) rotate(-90)">Outboard VMon1</text>
<text transform="translate(1205 1447.3) rotate(-90)">Outboard VMon2</text>
</g>
<rect x="1167.1" y="1462.2" width="1.8" height="15" fill="#0000ff"/>
<rect x="1179.0" y="1462.2" width="1.8" height="15" fill="#00ffff"/>
<rect x="1191.0" y="1462.2" width="1.8" height="15" fill="#00ff00"/>
<rect x="1202.1" y="1462.2" width="1.8" height="15" fill="#ffff00"/>
<g font-family="'DejaVu Sans', sans-serif" font-weight="bold" font-size="14.58" fill="#000">
<text x="41" y="1498.9">Time:</text>
<text x="165" y="1498.9" text-anchor="middle">23:53:38</text>
<text x="412.5" y="1498.9" text-anchor="middle">00:19:26</text>
<text x="660" y="1498.9" text-anchor="middle">00:45:15</text>
<text x="907" y="1498.9" text-anchor="middle">01:11:03</text>
<text x="1154" y="1498.9" text-anchor="middle">01:36:51</text>
<text x="41" y="1519.9">Rad(km):</text>
<text x="165" y="1519.9" text-anchor="middle">7365.8</text>
<text x="412.5" y="1519.9" text-anchor="middle">7247.3</text>
<text x="660" y="1519.9" text-anchor="middle">6734.5</text>
<text x="907" y="1519.9" text-anchor="middle">6954.8</text>
<text x="1154" y="1519.9" text-anchor="middle">7407.1</text>
<text x="41" y="1540.9">Lat:</text>
<text x="165" y="1540.9" text-anchor="middle">52.3</text>
<text x="412.5" y="1540.9" text-anchor="middle">39.8</text>
<text x="660" y="1540.9" text-anchor="middle">-55.3</text>
<text x="907" y="1540.9" text-anchor="middle">-20.8</text>
<text x="1154" y="1540.9" text-anchor="middle">67.4</text>
<text x="41" y="1561.9">Lon:</text>
<text x="165" y="1561.9" text-anchor="middle">-175.4</text>
<text x="412.5" y="1561.9" text-anchor="middle">-21.4</text>
<text x="660" y="1561.9" text-anchor="middle">-7.0</text>
<text x="907" y="1561.9" text-anchor="middle">149.7</text>
<text x="1154" y="1561.9" text-anchor="middle">169.2</text>
<text x="41" y="1582.9">Mlat:</text>
<text x="165" y="1582.9" text-anchor="middle">49.4</text>
<text x="412.5" y="1582.9" text-anchor="middle">45.1</text>
<text x="660" y="1582.9" text-anchor="middle">-50.7</text>
<text x="907" y="1582.9" text-anchor="middle">-27.5</text>
<text x="1154" y="1582.9" text-anchor="middle">61.9</text>
<text x="41" y="1603.9">Mlt:</text>
<text x="165" y="1603.9" text-anchor="middle">11.139</text>
<text x="412.5" y="1603.9" text-anchor="middle">23.011</text>
<text x="660" y="1603.9" text-anchor="middle">23.235</text>
<text x="907" y="1603.9" text-anchor="middle">11.017</text>
<text x="1154" y="1603.9" text-anchor="middle">11.506</text>
<text x="20" y="1642.5">MGF Quicklook using MGF_20240223_000000_013650_v2.1.0.lv2 on 21-Jun-2024 14:16:31 (calibration from cas_mgf_7day_cal_2024_02_23_v2.1.mat )</text>
</g>
<g id="cassiope">
<polygon points="228.5,53.2 253.6,9.9 304.2,9.9 329.2,53.2 304.2,96.9 253.6,96.9" fill="#fff" stroke="#c4e6f0" stroke-width="0.7"/>
<clipPath id="hexc"><polygon points="234.1,53.2 256.2,14.9 300.9,14.9 322.6,53.2 302.4,88.6 254.2,88.6"/></clipPath>
<radialGradient id="earthg" cx="283" cy="92" r="52" gradientUnits="userSpaceOnUse"><stop offset="0" stop-color="#ffffff"/><stop offset=".35" stop-color="#dbe9f8"/><stop offset=".6" stop-color="#9cc3ee"/><stop offset=".85" stop-color="#4f8fdc"/><stop offset="1" stop-color="#2a5fb4"/></radialGradient>
<g clip-path="url(#hexc)">
<rect x="230" y="10" width="100" height="85" fill="#05070a"/>
<path d="M228 63.5 Q280 52.5 330 47 L330 100 L228 100Z" fill="#0a2a20"/>
<path d="M228 65.3 Q280 54.3 330 48.8 L330 100 L228 100Z" fill="#15603f"/>
<path d="M228 67.2 Q280 56.2 330 50.7 L330 100 L228 100Z" fill="#2aa672"/>
<path d="M228 69.8 Q280 58.8 330 53.3 L330 100 L228 100Z" fill="#1c5a66"/>
<path d="M228 71 Q280 60 330 54.5 L330 100 L228 100Z" fill="#173f78"/>
<path d="M228 72.6 Q280 61.4 330 56 L330 100 L228 100Z" fill="url(#earthg)"/>
<path d="M262 70 L292 62 M258 76 L300 66 M270 80 L306 70" stroke="#fff" stroke-width="1.6" opacity=".35"/>
<g fill="#fff"><circle cx="258.3" cy="26.4" r=".9"/><circle cx="240.5" cy="50.3" r=".7"/><circle cx="295.5" cy="16.5" r=".5"/><circle cx="303" cy="40" r=".4"/><circle cx="246" cy="38" r=".4"/><circle cx="280" cy="22" r=".35"/><circle cx="310" cy="47" r=".35"/></g>
<polygon points="297.2,83.8 310.8,73.9 302.8,88.5" fill="#2f6fc4"/>
<path d="M285.9 49.9 L301.9 75.3" stroke="#f4f8ff" stroke-width="1.1"/>
<polygon points="267.3,30.4 271.5,30 288.2,41.2 276.5,53 262.3,47.2" fill="#3f7fd2"/>
<polygon points="267.3,30.4 271.5,30 288.2,41.2 284.5,43.5" fill="#2d66b8"/>
<polygon points="276.5,53 288.2,41.2 289,44.5 282.3,53 275.5,57" fill="#c8a45c"/>
<polygon points="280,50 286.5,44 287.5,46.5 282,52" fill="#6a5030"/>
<path d="M267.3 30.4 L262.3 47.2" stroke="#d9a44a" stroke-width=".9"/>
<path d="M262.4 47.1 L252.5 46.6 M272.7 55.5 L266.1 63.2 M278 57 L275 60.5" stroke="#d8c49a" stroke-width=".8" fill="none"/>
<circle cx="252.3" cy="46.6" r="1" fill="#e8a63a"/>
</g>
<path d="M262 88.6 Q270 84.2 279 83.6 Q290 83.4 296.5 84.6 L303 88.6 L300 92 L262 92Z" fill="#fff"/>
<circle cx="278.6" cy="80.6" r="3.7" fill="#1d6db8"/>
<path d="M276.3 80.8 H281.2 M276.6 82.3 Q279 83.4 282.6 81.2 L286 79.3" stroke="#fff" stroke-width=".8" fill="none"/>
<text x="260.9" y="90.9" font-family="'Liberation Sans', sans-serif" font-weight="bold" font-size="4.4" fill="#2aa0d8" textLength="34.9" lengthAdjust="spacingAndGlyphs">CASSIOPE</text>
</g>
<g id="esa">
<clipPath id="esac"><circle cx="997.6" cy="53.8" r="20"/></clipPath>
<g clip-path="url(#esac)">
<g stroke="#0c2d6b" stroke-width="1.55" fill="none">
<circle cx="1009.5" cy="54" r="10"/><circle cx="1009.5" cy="54" r="12.4"/><circle cx="1009.5" cy="54" r="14.8"/><circle cx="1009.5" cy="54" r="17.2"/><circle cx="1009.5" cy="54" r="19.6"/><circle cx="1009.5" cy="54" r="22"/><circle cx="1009.5" cy="54" r="24.4"/><circle cx="1009.5" cy="54" r="26.8"/><circle cx="1009.5" cy="54" r="29.2"/><circle cx="1009.5" cy="54" r="31.6"/>
</g>
<path d="M977 54 L1000 54 L1003 75 L980 75Z" fill="#0c2d6b" opacity=".35"/>
</g>
<circle cx="1009.3" cy="54" r="8.6" fill="#fff"/>
<path d="M1003.5 51.2 Q1007 49.6 1010.5 50.8 M1003 54.2 H1014.6 M1003.6 57.4 Q1008 60.4 1013.6 57.2 M1005 47.6 Q1008 46.4 1011 47.2" stroke="#0c2d6b" stroke-width=".9" fill="none"/>
<circle cx="985.3" cy="52.9" r="2.2" fill="#fff"/>
<path d="M986 51.5 L992.5 53.3 L986 55Z" fill="#fff"/>
<text x="1022" y="65.9" font-family="'Liberation Sans', sans-serif" font-weight="bold" font-size="46" fill="#0c2d6b" textLength="65.6" lengthAdjust="spacingAndGlyphs">esa</text>
</g>

</svg>
</body></html>
